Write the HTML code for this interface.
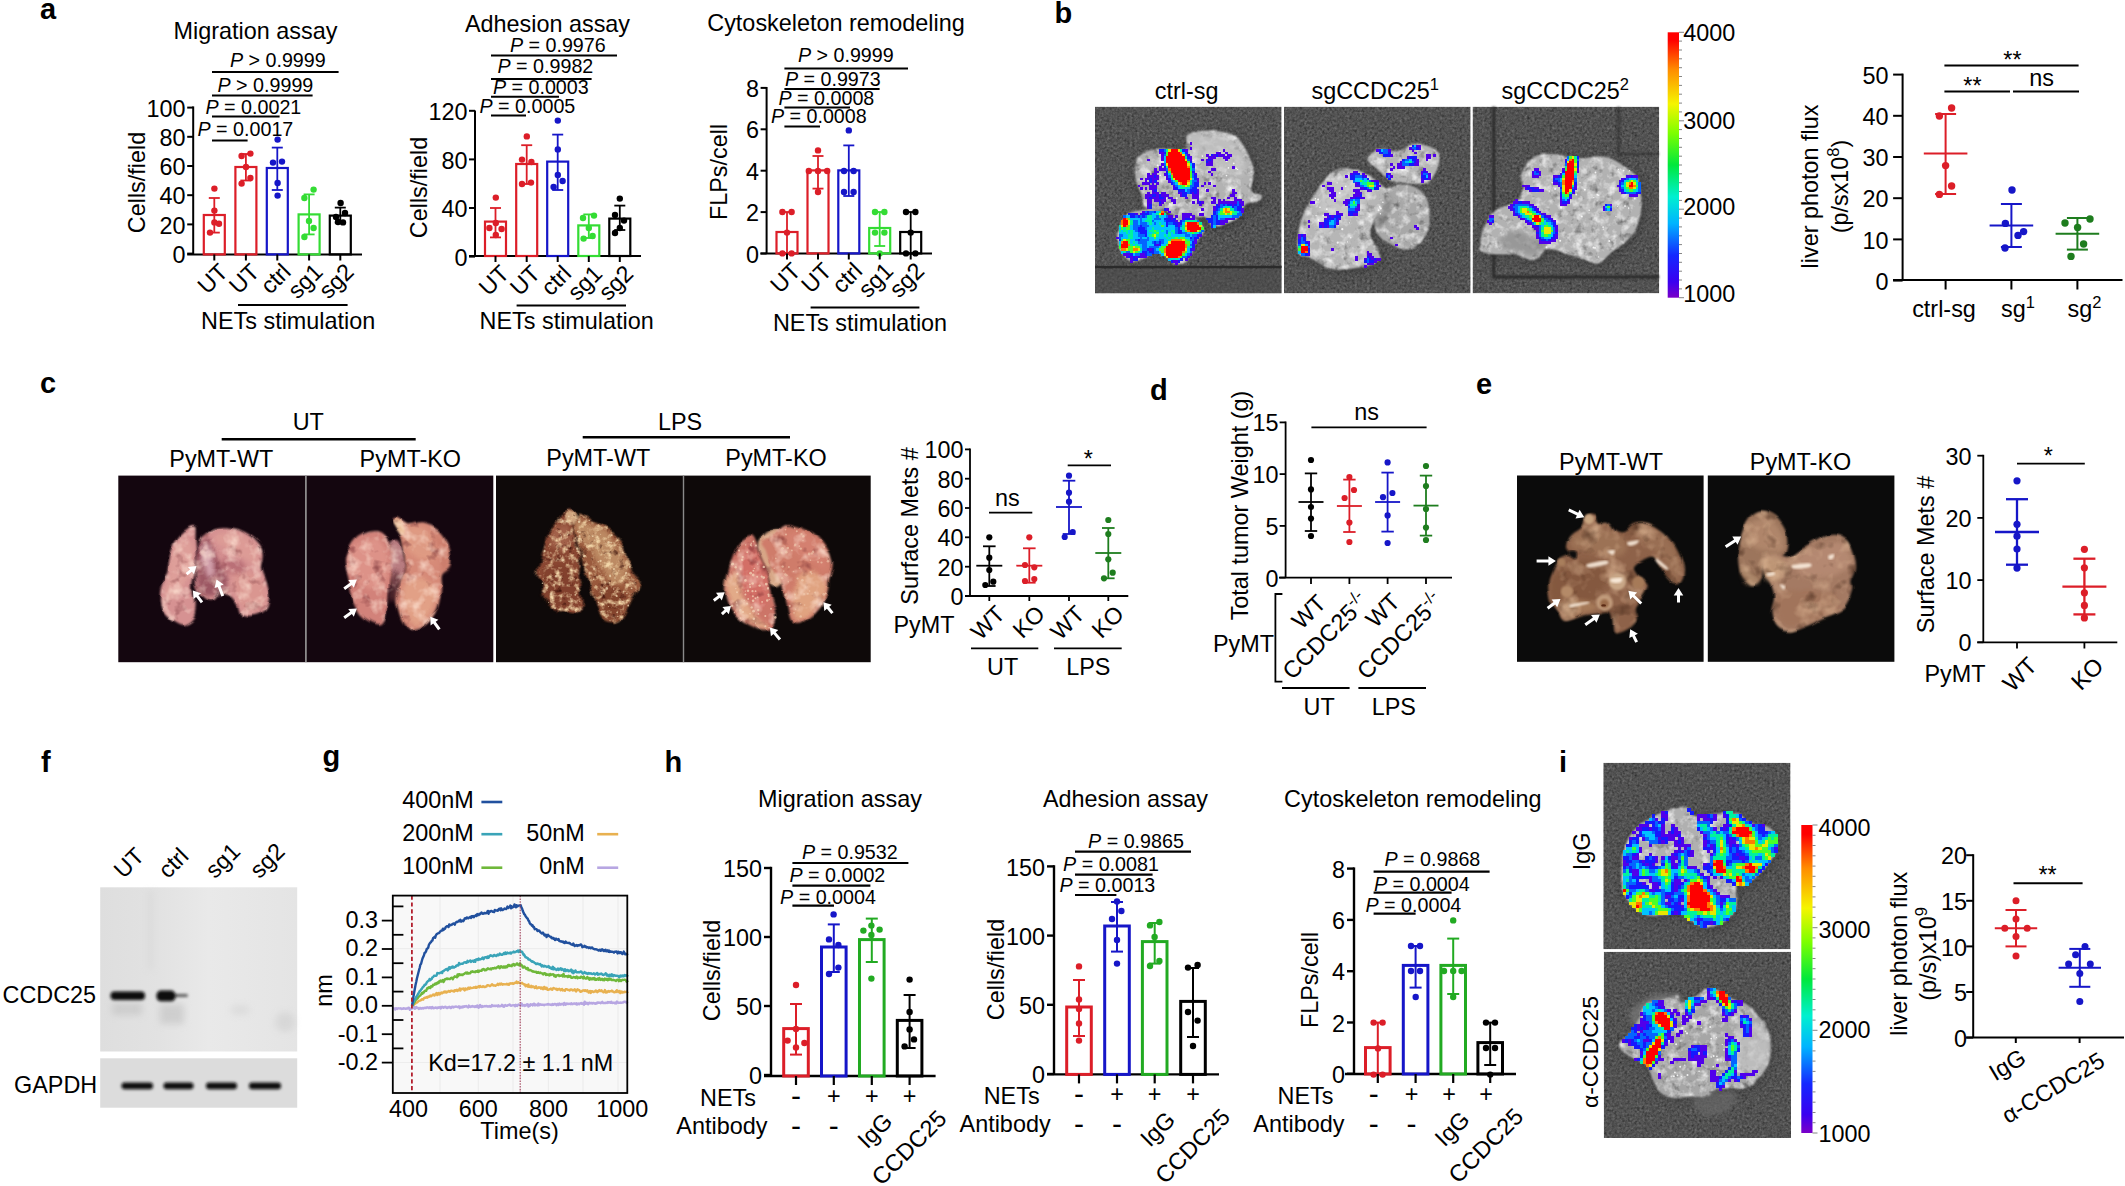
<!DOCTYPE html>
<html><head><meta charset="utf-8"><title>Figure</title>
<style>
html,body{margin:0;padding:0;background:#fff;}
svg{display:block;font-family:"Liberation Sans",sans-serif;fill:#000;}
</style></head><body>
<svg width="2125" height="1186" viewBox="0 0 2125 1186">
<rect width="2125" height="1186" fill="#fff"/>
<text x="40.0" y="18.5" font-size="29" font-weight="bold">a</text>
<text x="255.5" y="38.8" font-size="23.4" text-anchor="middle">Migration assay</text>
<line x1="193.2" y1="106.4" x2="193.2" y2="254.4" stroke="#000" stroke-width="2"/>
<line x1="187.2" y1="253.6" x2="193.2" y2="253.6" stroke="#000" stroke-width="2"/>
<text x="185.5" y="262.7" font-size="23.4" text-anchor="end">0</text>
<line x1="187.2" y1="224.4" x2="193.2" y2="224.4" stroke="#000" stroke-width="2"/>
<text x="185.5" y="233.5" font-size="23.4" text-anchor="end">20</text>
<line x1="187.2" y1="195.2" x2="193.2" y2="195.2" stroke="#000" stroke-width="2"/>
<text x="185.5" y="204.3" font-size="23.4" text-anchor="end">40</text>
<line x1="187.2" y1="166.0" x2="193.2" y2="166.0" stroke="#000" stroke-width="2"/>
<text x="185.5" y="175.1" font-size="23.4" text-anchor="end">60</text>
<line x1="187.2" y1="136.8" x2="193.2" y2="136.8" stroke="#000" stroke-width="2"/>
<text x="185.5" y="145.9" font-size="23.4" text-anchor="end">80</text>
<line x1="187.2" y1="107.6" x2="193.2" y2="107.6" stroke="#000" stroke-width="2"/>
<text x="185.5" y="116.7" font-size="23.4" text-anchor="end">100</text>
<line x1="187.2" y1="254.4" x2="362.0" y2="254.4" stroke="#000" stroke-width="2"/>
<rect x="203.8" y="215.0" width="21.0" height="39.4" fill="none" stroke="#dc1e28" stroke-width="2.2"/>
<line x1="214.3" y1="198.0" x2="214.3" y2="232.6" stroke="#dc1e28" stroke-width="1.8"/>
<line x1="208.8" y1="198.0" x2="219.8" y2="198.0" stroke="#dc1e28" stroke-width="1.8"/>
<line x1="208.8" y1="232.6" x2="219.8" y2="232.6" stroke="#dc1e28" stroke-width="1.8"/>
<circle cx="214.4" cy="188.6" r="3.2" fill="#dc1e28"/>
<circle cx="214.4" cy="210.6" r="3.2" fill="#dc1e28"/>
<circle cx="214.4" cy="222.4" r="3.2" fill="#dc1e28"/>
<circle cx="219.0" cy="223.8" r="3.2" fill="#dc1e28"/>
<circle cx="210.0" cy="232.6" r="3.2" fill="#dc1e28"/>
<line x1="214.3" y1="254.4" x2="214.3" y2="260.5" stroke="#000" stroke-width="2"/>
<rect x="235.4" y="167.0" width="21.0" height="87.4" fill="none" stroke="#dc1e28" stroke-width="2.2"/>
<line x1="245.9" y1="154.0" x2="245.9" y2="180.5" stroke="#dc1e28" stroke-width="1.8"/>
<line x1="240.4" y1="154.0" x2="251.4" y2="154.0" stroke="#dc1e28" stroke-width="1.8"/>
<line x1="240.4" y1="180.5" x2="251.4" y2="180.5" stroke="#dc1e28" stroke-width="1.8"/>
<circle cx="250.4" cy="153.6" r="3.2" fill="#dc1e28"/>
<circle cx="241.6" cy="156.0" r="3.2" fill="#dc1e28"/>
<circle cx="246.0" cy="167.0" r="3.2" fill="#dc1e28"/>
<circle cx="250.4" cy="178.0" r="3.2" fill="#dc1e28"/>
<circle cx="241.6" cy="183.6" r="3.2" fill="#dc1e28"/>
<line x1="245.9" y1="254.4" x2="245.9" y2="260.5" stroke="#000" stroke-width="2"/>
<rect x="266.8" y="168.0" width="21.0" height="86.4" fill="none" stroke="#1616c8" stroke-width="2.2"/>
<line x1="277.3" y1="147.6" x2="277.3" y2="190.0" stroke="#1616c8" stroke-width="1.8"/>
<line x1="271.8" y1="147.6" x2="282.8" y2="147.6" stroke="#1616c8" stroke-width="1.8"/>
<line x1="271.8" y1="190.0" x2="282.8" y2="190.0" stroke="#1616c8" stroke-width="1.8"/>
<circle cx="277.6" cy="139.6" r="3.2" fill="#1616c8"/>
<circle cx="273.0" cy="162.6" r="3.2" fill="#1616c8"/>
<circle cx="282.0" cy="161.6" r="3.2" fill="#1616c8"/>
<circle cx="277.6" cy="183.0" r="3.2" fill="#1616c8"/>
<circle cx="277.6" cy="195.6" r="3.2" fill="#1616c8"/>
<line x1="277.3" y1="254.4" x2="277.3" y2="260.5" stroke="#000" stroke-width="2"/>
<rect x="298.6" y="214.4" width="21.0" height="40.0" fill="none" stroke="#34dc34" stroke-width="2.2"/>
<line x1="309.1" y1="194.4" x2="309.1" y2="234.4" stroke="#34dc34" stroke-width="1.8"/>
<line x1="303.6" y1="194.4" x2="314.6" y2="194.4" stroke="#34dc34" stroke-width="1.8"/>
<line x1="303.6" y1="234.4" x2="314.6" y2="234.4" stroke="#34dc34" stroke-width="1.8"/>
<circle cx="313.6" cy="189.6" r="3.2" fill="#34dc34"/>
<circle cx="304.4" cy="198.0" r="3.2" fill="#34dc34"/>
<circle cx="309.0" cy="221.0" r="3.2" fill="#34dc34"/>
<circle cx="313.6" cy="228.0" r="3.2" fill="#34dc34"/>
<circle cx="304.4" cy="237.0" r="3.2" fill="#34dc34"/>
<line x1="309.1" y1="254.4" x2="309.1" y2="260.5" stroke="#000" stroke-width="2"/>
<rect x="329.8" y="215.6" width="21.0" height="38.8" fill="none" stroke="#000" stroke-width="2.2"/>
<line x1="340.3" y1="207.6" x2="340.3" y2="222.6" stroke="#000" stroke-width="1.8"/>
<line x1="334.8" y1="207.6" x2="345.8" y2="207.6" stroke="#000" stroke-width="1.8"/>
<line x1="334.8" y1="222.6" x2="345.8" y2="222.6" stroke="#000" stroke-width="1.8"/>
<circle cx="340.6" cy="203.0" r="3.2" fill="#000"/>
<circle cx="336.0" cy="217.0" r="3.2" fill="#000"/>
<circle cx="345.0" cy="213.0" r="3.2" fill="#000"/>
<circle cx="338.0" cy="222.0" r="3.2" fill="#000"/>
<circle cx="343.0" cy="222.4" r="3.2" fill="#000"/>
<line x1="340.3" y1="254.4" x2="340.3" y2="260.5" stroke="#000" stroke-width="2"/>
<text x="229.3" y="273.3" font-size="23.4" text-anchor="end" transform="rotate(-45 229.3 273.3)">UT</text>
<text x="260.9" y="273.3" font-size="23.4" text-anchor="end" transform="rotate(-45 260.9 273.3)">UT</text>
<text x="292.3" y="273.3" font-size="23.4" text-anchor="end" transform="rotate(-45 292.3 273.3)">ctrl</text>
<text x="324.1" y="273.3" font-size="23.4" text-anchor="end" transform="rotate(-45 324.1 273.3)">sg1</text>
<text x="355.3" y="273.3" font-size="23.4" text-anchor="end" transform="rotate(-45 355.3 273.3)">sg2</text>
<line x1="238.0" y1="305.0" x2="347.6" y2="305.0" stroke="#000" stroke-width="2"/>
<text x="288.2" y="329.0" font-size="23.4" text-anchor="middle">NETs stimulation</text>
<text x="145.0" y="182.5" font-size="23.4" text-anchor="middle" transform="rotate(-90 145.0 182.5)">Cells/field</text>
<line x1="212.0" y1="72.0" x2="338.6" y2="72.0" stroke="#000" stroke-width="2"/>
<line x1="212.0" y1="95.6" x2="312.6" y2="95.6" stroke="#000" stroke-width="2"/>
<line x1="212.0" y1="116.6" x2="279.6" y2="116.6" stroke="#000" stroke-width="2"/>
<line x1="212.0" y1="140.6" x2="247.6" y2="140.6" stroke="#000" stroke-width="2"/>
<text x="229.9" y="67.0" font-size="19.7"><tspan font-style="italic">P</tspan> &gt; 0.9999</text>
<text x="217.5" y="92.4" font-size="19.7"><tspan font-style="italic">P</tspan> &gt; 0.9999</text>
<text x="205.5" y="113.6" font-size="19.7"><tspan font-style="italic">P</tspan> = 0.0021</text>
<text x="197.5" y="136.0" font-size="19.7"><tspan font-style="italic">P</tspan> = 0.0017</text>
<text x="547.5" y="32.0" font-size="23.4" text-anchor="middle">Adhesion assay</text>
<line x1="475.0" y1="110.4" x2="475.0" y2="256.0" stroke="#000" stroke-width="2"/>
<line x1="469.0" y1="256.6" x2="475.0" y2="256.6" stroke="#000" stroke-width="2"/>
<text x="467.5" y="265.7" font-size="23.4" text-anchor="end">0</text>
<line x1="469.0" y1="208.0" x2="475.0" y2="208.0" stroke="#000" stroke-width="2"/>
<text x="467.5" y="217.1" font-size="23.4" text-anchor="end">40</text>
<line x1="469.0" y1="159.4" x2="475.0" y2="159.4" stroke="#000" stroke-width="2"/>
<text x="467.5" y="168.5" font-size="23.4" text-anchor="end">80</text>
<line x1="469.0" y1="110.8" x2="475.0" y2="110.8" stroke="#000" stroke-width="2"/>
<text x="467.5" y="119.9" font-size="23.4" text-anchor="end">120</text>
<line x1="469.0" y1="256.0" x2="641.0" y2="256.0" stroke="#000" stroke-width="2"/>
<rect x="485.0" y="221.6" width="21.0" height="34.4" fill="none" stroke="#dc1e28" stroke-width="2.2"/>
<line x1="495.5" y1="208.0" x2="495.5" y2="237.4" stroke="#dc1e28" stroke-width="1.8"/>
<line x1="490.0" y1="208.0" x2="501.0" y2="208.0" stroke="#dc1e28" stroke-width="1.8"/>
<line x1="490.0" y1="237.4" x2="501.0" y2="237.4" stroke="#dc1e28" stroke-width="1.8"/>
<circle cx="495.8" cy="197.6" r="3.2" fill="#dc1e28"/>
<circle cx="489.4" cy="228.0" r="3.2" fill="#dc1e28"/>
<circle cx="501.6" cy="229.0" r="3.2" fill="#dc1e28"/>
<circle cx="495.8" cy="223.0" r="3.2" fill="#dc1e28"/>
<circle cx="495.8" cy="235.0" r="3.2" fill="#dc1e28"/>
<line x1="495.5" y1="256.0" x2="495.5" y2="262.0" stroke="#000" stroke-width="2"/>
<rect x="516.2" y="164.0" width="21.0" height="92.0" fill="none" stroke="#dc1e28" stroke-width="2.2"/>
<line x1="526.7" y1="145.2" x2="526.7" y2="184.0" stroke="#dc1e28" stroke-width="1.8"/>
<line x1="521.2" y1="145.2" x2="532.2" y2="145.2" stroke="#dc1e28" stroke-width="1.8"/>
<line x1="521.2" y1="184.0" x2="532.2" y2="184.0" stroke="#dc1e28" stroke-width="1.8"/>
<circle cx="526.8" cy="136.4" r="3.2" fill="#dc1e28"/>
<circle cx="522.0" cy="159.6" r="3.2" fill="#dc1e28"/>
<circle cx="531.4" cy="162.0" r="3.2" fill="#dc1e28"/>
<circle cx="522.0" cy="184.0" r="3.2" fill="#dc1e28"/>
<circle cx="531.0" cy="182.6" r="3.2" fill="#dc1e28"/>
<line x1="526.7" y1="256.0" x2="526.7" y2="262.0" stroke="#000" stroke-width="2"/>
<rect x="547.2" y="161.6" width="21.0" height="94.4" fill="none" stroke="#1616c8" stroke-width="2.2"/>
<line x1="557.7" y1="134.6" x2="557.7" y2="190.0" stroke="#1616c8" stroke-width="1.8"/>
<line x1="552.2" y1="134.6" x2="563.2" y2="134.6" stroke="#1616c8" stroke-width="1.8"/>
<line x1="552.2" y1="190.0" x2="563.2" y2="190.0" stroke="#1616c8" stroke-width="1.8"/>
<circle cx="557.8" cy="120.6" r="3.2" fill="#1616c8"/>
<circle cx="557.8" cy="149.4" r="3.2" fill="#1616c8"/>
<circle cx="557.8" cy="175.0" r="3.2" fill="#1616c8"/>
<circle cx="562.6" cy="181.0" r="3.2" fill="#1616c8"/>
<circle cx="553.6" cy="187.0" r="3.2" fill="#1616c8"/>
<line x1="557.7" y1="256.0" x2="557.7" y2="262.0" stroke="#000" stroke-width="2"/>
<rect x="578.3" y="225.4" width="21.0" height="30.6" fill="none" stroke="#34dc34" stroke-width="2.2"/>
<line x1="588.8" y1="214.4" x2="588.8" y2="238.0" stroke="#34dc34" stroke-width="1.8"/>
<line x1="583.3" y1="214.4" x2="594.3" y2="214.4" stroke="#34dc34" stroke-width="1.8"/>
<line x1="583.3" y1="238.0" x2="594.3" y2="238.0" stroke="#34dc34" stroke-width="1.8"/>
<circle cx="594.0" cy="215.6" r="3.2" fill="#34dc34"/>
<circle cx="583.0" cy="218.0" r="3.2" fill="#34dc34"/>
<circle cx="588.8" cy="228.0" r="3.2" fill="#34dc34"/>
<circle cx="592.6" cy="236.0" r="3.2" fill="#34dc34"/>
<circle cx="583.6" cy="238.6" r="3.2" fill="#34dc34"/>
<line x1="588.8" y1="256.0" x2="588.8" y2="262.0" stroke="#000" stroke-width="2"/>
<rect x="609.3" y="218.6" width="21.0" height="37.4" fill="none" stroke="#000" stroke-width="2.2"/>
<line x1="619.8" y1="205.6" x2="619.8" y2="230.0" stroke="#000" stroke-width="1.8"/>
<line x1="614.3" y1="205.6" x2="625.3" y2="205.6" stroke="#000" stroke-width="1.8"/>
<line x1="614.3" y1="230.0" x2="625.3" y2="230.0" stroke="#000" stroke-width="1.8"/>
<circle cx="619.8" cy="198.6" r="3.2" fill="#000"/>
<circle cx="615.0" cy="215.0" r="3.2" fill="#000"/>
<circle cx="624.0" cy="220.6" r="3.2" fill="#000"/>
<circle cx="619.8" cy="228.0" r="3.2" fill="#000"/>
<circle cx="615.0" cy="233.0" r="3.2" fill="#000"/>
<line x1="619.8" y1="256.0" x2="619.8" y2="262.0" stroke="#000" stroke-width="2"/>
<text x="510.5" y="275.0" font-size="23.4" text-anchor="end" transform="rotate(-45 510.5 275.0)">UT</text>
<text x="541.7" y="275.0" font-size="23.4" text-anchor="end" transform="rotate(-45 541.7 275.0)">UT</text>
<text x="572.7" y="275.0" font-size="23.4" text-anchor="end" transform="rotate(-45 572.7 275.0)">ctrl</text>
<text x="603.8" y="275.0" font-size="23.4" text-anchor="end" transform="rotate(-45 603.8 275.0)">sg1</text>
<text x="634.8" y="275.0" font-size="23.4" text-anchor="end" transform="rotate(-45 634.8 275.0)">sg2</text>
<line x1="516.6" y1="305.6" x2="626.0" y2="305.6" stroke="#000" stroke-width="2"/>
<text x="566.7" y="329.4" font-size="23.4" text-anchor="middle">NETs stimulation</text>
<text x="427.0" y="187.5" font-size="23.4" text-anchor="middle" transform="rotate(-90 427.0 187.5)">Cells/field</text>
<line x1="491.0" y1="55.6" x2="617.0" y2="55.6" stroke="#000" stroke-width="2"/>
<line x1="491.0" y1="79.0" x2="591.6" y2="79.0" stroke="#000" stroke-width="2"/>
<line x1="491.0" y1="96.8" x2="559.0" y2="96.8" stroke="#000" stroke-width="2"/>
<line x1="491.0" y1="115.6" x2="526.0" y2="115.6" stroke="#000" stroke-width="2"/>
<text x="509.9" y="52.0" font-size="19.7"><tspan font-style="italic">P</tspan> = 0.9976</text>
<text x="497.5" y="73.4" font-size="19.7"><tspan font-style="italic">P</tspan> = 0.9982</text>
<text x="492.9" y="94.4" font-size="19.7"><tspan font-style="italic">P</tspan> = 0.0003</text>
<text x="479.5" y="113.0" font-size="19.7"><tspan font-style="italic">P</tspan> = 0.0005</text>
<text x="836.0" y="31.4" font-size="23.4" text-anchor="middle">Cytoskeleton remodeling</text>
<line x1="766.6" y1="87.0" x2="766.6" y2="253.4" stroke="#000" stroke-width="2"/>
<line x1="760.6" y1="253.5" x2="766.6" y2="253.5" stroke="#000" stroke-width="2"/>
<text x="759.0" y="262.6" font-size="23.4" text-anchor="end">0</text>
<line x1="760.6" y1="212.1" x2="766.6" y2="212.1" stroke="#000" stroke-width="2"/>
<text x="759.0" y="221.2" font-size="23.4" text-anchor="end">2</text>
<line x1="760.6" y1="170.7" x2="766.6" y2="170.7" stroke="#000" stroke-width="2"/>
<text x="759.0" y="179.8" font-size="23.4" text-anchor="end">4</text>
<line x1="760.6" y1="129.3" x2="766.6" y2="129.3" stroke="#000" stroke-width="2"/>
<text x="759.0" y="138.4" font-size="23.4" text-anchor="end">6</text>
<line x1="760.6" y1="87.9" x2="766.6" y2="87.9" stroke="#000" stroke-width="2"/>
<text x="759.0" y="97.0" font-size="23.4" text-anchor="end">8</text>
<line x1="760.4" y1="253.4" x2="932.0" y2="253.4" stroke="#000" stroke-width="2"/>
<rect x="776.5" y="232.0" width="21.0" height="21.4" fill="none" stroke="#dc1e28" stroke-width="2.2"/>
<line x1="787.0" y1="212.0" x2="787.0" y2="253.4" stroke="#dc1e28" stroke-width="1.8"/>
<line x1="781.5" y1="212.0" x2="792.5" y2="212.0" stroke="#dc1e28" stroke-width="1.8"/>
<line x1="781.5" y1="253.4" x2="792.5" y2="253.4" stroke="#dc1e28" stroke-width="1.8"/>
<circle cx="782.4" cy="212.0" r="3.2" fill="#dc1e28"/>
<circle cx="791.6" cy="212.0" r="3.2" fill="#dc1e28"/>
<circle cx="787.0" cy="232.6" r="3.2" fill="#dc1e28"/>
<circle cx="782.4" cy="253.4" r="3.2" fill="#dc1e28"/>
<circle cx="791.6" cy="253.4" r="3.2" fill="#dc1e28"/>
<line x1="787.0" y1="253.4" x2="787.0" y2="259.5" stroke="#000" stroke-width="2"/>
<rect x="807.5" y="170.4" width="21.0" height="83.0" fill="none" stroke="#dc1e28" stroke-width="2.2"/>
<line x1="818.0" y1="156.0" x2="818.0" y2="188.6" stroke="#dc1e28" stroke-width="1.8"/>
<line x1="812.5" y1="156.0" x2="823.5" y2="156.0" stroke="#dc1e28" stroke-width="1.8"/>
<line x1="812.5" y1="188.6" x2="823.5" y2="188.6" stroke="#dc1e28" stroke-width="1.8"/>
<circle cx="818.0" cy="150.4" r="3.2" fill="#dc1e28"/>
<circle cx="808.8" cy="171.0" r="3.2" fill="#dc1e28"/>
<circle cx="818.0" cy="171.0" r="3.2" fill="#dc1e28"/>
<circle cx="827.2" cy="171.0" r="3.2" fill="#dc1e28"/>
<circle cx="818.0" cy="192.0" r="3.2" fill="#dc1e28"/>
<line x1="818.0" y1="253.4" x2="818.0" y2="259.5" stroke="#000" stroke-width="2"/>
<rect x="838.3" y="170.4" width="21.0" height="83.0" fill="none" stroke="#1616c8" stroke-width="2.2"/>
<line x1="848.8" y1="145.4" x2="848.8" y2="196.0" stroke="#1616c8" stroke-width="1.8"/>
<line x1="843.3" y1="145.4" x2="854.3" y2="145.4" stroke="#1616c8" stroke-width="1.8"/>
<line x1="843.3" y1="196.0" x2="854.3" y2="196.0" stroke="#1616c8" stroke-width="1.8"/>
<circle cx="848.8" cy="130.4" r="3.2" fill="#1616c8"/>
<circle cx="844.0" cy="171.0" r="3.2" fill="#1616c8"/>
<circle cx="853.6" cy="171.0" r="3.2" fill="#1616c8"/>
<circle cx="844.0" cy="192.0" r="3.2" fill="#1616c8"/>
<circle cx="853.6" cy="192.0" r="3.2" fill="#1616c8"/>
<line x1="848.8" y1="253.4" x2="848.8" y2="259.5" stroke="#000" stroke-width="2"/>
<rect x="869.2" y="228.0" width="21.0" height="25.4" fill="none" stroke="#34dc34" stroke-width="2.2"/>
<line x1="879.7" y1="212.0" x2="879.7" y2="246.0" stroke="#34dc34" stroke-width="1.8"/>
<line x1="874.2" y1="212.0" x2="885.2" y2="212.0" stroke="#34dc34" stroke-width="1.8"/>
<line x1="874.2" y1="246.0" x2="885.2" y2="246.0" stroke="#34dc34" stroke-width="1.8"/>
<circle cx="875.0" cy="212.0" r="3.2" fill="#34dc34"/>
<circle cx="884.4" cy="212.0" r="3.2" fill="#34dc34"/>
<circle cx="875.0" cy="232.6" r="3.2" fill="#34dc34"/>
<circle cx="884.4" cy="232.6" r="3.2" fill="#34dc34"/>
<circle cx="879.7" cy="253.4" r="3.2" fill="#34dc34"/>
<line x1="879.7" y1="253.4" x2="879.7" y2="259.5" stroke="#000" stroke-width="2"/>
<rect x="900.2" y="232.0" width="21.0" height="21.4" fill="none" stroke="#000" stroke-width="2.2"/>
<line x1="910.7" y1="212.0" x2="910.7" y2="253.4" stroke="#000" stroke-width="1.8"/>
<line x1="905.2" y1="212.0" x2="916.2" y2="212.0" stroke="#000" stroke-width="1.8"/>
<line x1="905.2" y1="253.4" x2="916.2" y2="253.4" stroke="#000" stroke-width="1.8"/>
<circle cx="906.0" cy="212.0" r="3.2" fill="#000"/>
<circle cx="915.4" cy="212.0" r="3.2" fill="#000"/>
<circle cx="910.7" cy="232.6" r="3.2" fill="#000"/>
<circle cx="906.0" cy="253.4" r="3.2" fill="#000"/>
<circle cx="915.4" cy="253.4" r="3.2" fill="#000"/>
<line x1="910.7" y1="253.4" x2="910.7" y2="259.5" stroke="#000" stroke-width="2"/>
<text x="802.0" y="272.4" font-size="23.4" text-anchor="end" transform="rotate(-45 802.0 272.4)">UT</text>
<text x="833.0" y="272.4" font-size="23.4" text-anchor="end" transform="rotate(-45 833.0 272.4)">UT</text>
<text x="863.8" y="272.4" font-size="23.4" text-anchor="end" transform="rotate(-45 863.8 272.4)">ctrl</text>
<text x="894.7" y="272.4" font-size="23.4" text-anchor="end" transform="rotate(-45 894.7 272.4)">sg1</text>
<text x="925.7" y="272.4" font-size="23.4" text-anchor="end" transform="rotate(-45 925.7 272.4)">sg2</text>
<line x1="810.6" y1="307.6" x2="919.4" y2="307.6" stroke="#000" stroke-width="2"/>
<text x="860.0" y="331.0" font-size="23.4" text-anchor="middle">NETs stimulation</text>
<text x="727.0" y="172.0" font-size="23.4" text-anchor="middle" transform="rotate(-90 727.0 172.0)">FLPs/cell</text>
<line x1="784.4" y1="68.4" x2="908.0" y2="68.4" stroke="#000" stroke-width="2"/>
<line x1="784.4" y1="89.0" x2="879.6" y2="89.0" stroke="#000" stroke-width="2"/>
<line x1="784.4" y1="107.6" x2="850.0" y2="107.6" stroke="#000" stroke-width="2"/>
<line x1="784.4" y1="126.4" x2="820.0" y2="126.4" stroke="#000" stroke-width="2"/>
<text x="797.9" y="62.0" font-size="19.7"><tspan font-style="italic">P</tspan> &gt; 0.9999</text>
<text x="784.9" y="86.0" font-size="19.7"><tspan font-style="italic">P</tspan> = 0.9973</text>
<text x="778.5" y="104.6" font-size="19.7"><tspan font-style="italic">P</tspan> = 0.0008</text>
<text x="770.9" y="123.0" font-size="19.7"><tspan font-style="italic">P</tspan> = 0.0008</text>
<defs>
<filter id="nz" x="0" y="0" width="100%" height="100%" color-interpolation-filters="sRGB"><feTurbulence type="fractalNoise" baseFrequency="0.4" numOctaves="2" seed="7" result="t"/><feColorMatrix in="t" type="matrix" values="0.6 0.6 0.6 0 -0.4  0.6 0.6 0.6 0 -0.4  0.6 0.6 0.6 0 -0.4  0 0 0 0 0.28" result="n"/><feComposite in="n" in2="SourceGraphic" operator="over" result="c"/><feComposite in="c" in2="SourceGraphic" operator="in"/></filter>
<filter id="nz2" x="-2%" y="-2%" width="104%" height="104%" color-interpolation-filters="sRGB"><feTurbulence type="fractalNoise" baseFrequency="0.12" numOctaves="3" seed="11" result="t"/><feColorMatrix in="t" type="matrix" values="0 0 0 0 1  0 0 0 0 1  0 0 0 0 1  1.8 0 0 0 -0.8" result="hl"/><feColorMatrix in="t" type="matrix" values="0 0 0 0 0.2  0 0 0 0 0.2  0 0 0 0 0.2  0 -1.6 0 0 0.7" result="sh"/><feMerge result="m"><feMergeNode in="SourceGraphic"/><feMergeNode in="sh"/><feMergeNode in="hl"/></feMerge><feComposite in="m" in2="SourceGraphic" operator="in"/></filter>
<filter id="b1" x="-5%" y="-5%" width="110%" height="110%"><feGaussianBlur stdDeviation="0.9"/></filter>
<filter id="b2" x="-10%" y="-10%" width="120%" height="120%"><feGaussianBlur stdDeviation="2.2"/></filter>
<filter id="b4" x="-20%" y="-20%" width="140%" height="140%"><feGaussianBlur stdDeviation="4.5"/></filter>
<linearGradient id="cbar" x1="0" y1="0" x2="0" y2="1"><stop offset="0" stop-color="#f00"/><stop offset="0.03" stop-color="#f00"/><stop offset="0.14" stop-color="#ff8c00"/><stop offset="0.27" stop-color="#f5f500"/><stop offset="0.38" stop-color="#7dff00"/><stop offset="0.5" stop-color="#00e83c"/><stop offset="0.62" stop-color="#00f0d0"/><stop offset="0.72" stop-color="#00b4ff"/><stop offset="0.84" stop-color="#1428ff"/><stop offset="0.94" stop-color="#3a00f0"/><stop offset="1" stop-color="#7a00c8"/></linearGradient>
</defs>
<text x="1054.5" y="23.3" font-size="29" font-weight="bold">b</text>
<rect x="1095.0" y="106.7" width="186.6" height="186.6" fill="#404040" filter="url(#nz)"/>
<rect x="1284.0" y="106.7" width="186.6" height="186.6" fill="#404040" filter="url(#nz)"/>
<rect x="1472.6" y="106.7" width="186.6" height="186.6" fill="#404040" filter="url(#nz)"/>
<text x="1186.7" y="99.0" font-size="23.4" text-anchor="middle">ctrl-sg</text>
<text x="1311.5" y="99.0" font-size="23.4">sgCCDC25<tspan font-size="16.5" dy="-9">1</tspan></text>
<text x="1501.5" y="99.0" font-size="23.4">sgCCDC25<tspan font-size="16.5" dy="-9">2</tspan></text>
<path d="M1134.7,164.1C1135.5,159.6 1136.8,156.6 1140.6,154.0C1144.4,151.3 1150.1,148.9 1157.5,148.1C1164.8,147.2 1179.7,151.0 1184.4,148.9C1189.2,146.8 1183.9,138.4 1186.1,135.4C1188.4,132.5 1192.6,132.0 1197.9,131.2C1203.3,130.4 1211.7,129.5 1218.2,130.4C1224.6,131.2 1231.7,132.3 1236.7,136.3C1241.8,140.2 1245.6,147.9 1248.5,154.0C1251.5,160.0 1253.9,166.3 1254.4,172.5C1255.0,178.7 1250.6,187.4 1251.9,191.1C1253.2,194.7 1260.6,192.7 1262.0,194.4C1263.4,196.1 1262.8,199.5 1260.3,201.2C1257.8,202.9 1250.2,202.0 1246.8,204.6C1243.5,207.1 1243.7,213.0 1240.1,216.4C1236.4,219.7 1229.7,223.1 1224.9,224.8C1220.1,226.5 1214.5,227.6 1211.4,226.5C1208.3,225.4 1208.6,219.4 1206.4,218.0C1204.1,216.6 1201.6,218.3 1197.9,218.0C1194.3,217.8 1188.9,216.9 1184.4,216.4C1179.9,215.8 1174.3,215.8 1170.9,214.7C1167.6,213.5 1168.4,210.7 1164.2,209.6C1160.0,208.5 1149.6,210.5 1145.6,207.9C1141.7,205.4 1142.3,198.9 1140.6,194.4C1138.9,189.9 1136.5,186.0 1135.5,180.9C1134.5,175.9 1133.8,168.6 1134.7,164.1Z" fill="#2e2e2e" opacity="0.7" filter="url(#b4)" transform="translate(2,2)"/>
<rect x="1095" y="265.8" width="186.6" height="2.6" fill="#2a2a2a"/>
<rect x="1095" y="269" width="186.6" height="24.3" fill="#4a4a4a" opacity="0.5"/>
<g filter="url(#nz2)"><g filter="url(#b1)">
<path d="M1134.7,164.1C1135.5,159.6 1136.8,156.6 1140.6,154.0C1144.4,151.3 1150.1,148.9 1157.5,148.1C1164.8,147.2 1179.7,151.0 1184.4,148.9C1189.2,146.8 1183.9,138.4 1186.1,135.4C1188.4,132.5 1192.6,132.0 1197.9,131.2C1203.3,130.4 1211.7,129.5 1218.2,130.4C1224.6,131.2 1231.7,132.3 1236.7,136.3C1241.8,140.2 1245.6,147.9 1248.5,154.0C1251.5,160.0 1253.9,166.3 1254.4,172.5C1255.0,178.7 1250.6,187.4 1251.9,191.1C1253.2,194.7 1260.6,192.7 1262.0,194.4C1263.4,196.1 1262.8,199.5 1260.3,201.2C1257.8,202.9 1250.2,202.0 1246.8,204.6C1243.5,207.1 1243.7,213.0 1240.1,216.4C1236.4,219.7 1229.7,223.1 1224.9,224.8C1220.1,226.5 1214.5,227.6 1211.4,226.5C1208.3,225.4 1208.6,219.4 1206.4,218.0C1204.1,216.6 1201.6,218.3 1197.9,218.0C1194.3,217.8 1188.9,216.9 1184.4,216.4C1179.9,215.8 1174.3,215.8 1170.9,214.7C1167.6,213.5 1168.4,210.7 1164.2,209.6C1160.0,208.5 1149.6,210.5 1145.6,207.9C1141.7,205.4 1142.3,198.9 1140.6,194.4C1138.9,189.9 1136.5,186.0 1135.5,180.9C1134.5,175.9 1133.8,168.6 1134.7,164.1Z" fill="#b2b2b2"/>
<path d="M1118.7,228.2C1120.1,224.2 1121.8,217.8 1125.4,214.7C1129.1,211.6 1134.7,210.3 1140.6,209.6C1146.5,208.9 1156.0,209.3 1160.8,210.5C1165.6,211.6 1165.9,215.7 1169.3,216.4C1172.6,217.1 1176.3,214.1 1181.1,214.7C1185.8,215.2 1194.0,216.9 1197.9,219.7C1201.9,222.5 1204.7,228.2 1204.7,231.5C1204.7,234.9 1199.9,236.6 1197.9,240.0C1196.0,243.3 1194.8,248.1 1192.9,251.8C1190.9,255.4 1189.2,259.8 1186.1,261.9C1183.0,264.0 1178.0,265.5 1174.3,264.4C1170.7,263.3 1167.6,257.3 1164.2,255.1C1160.8,253.0 1157.2,251.2 1154.1,251.8C1151.0,252.3 1149.6,256.8 1145.6,258.5C1141.7,260.2 1134.7,263.0 1130.5,261.9C1126.3,260.8 1122.6,255.7 1120.4,251.8C1118.1,247.8 1117.3,242.2 1117.0,238.3C1116.7,234.3 1117.3,232.1 1118.7,228.2Z" fill="#b2b2b2"/>
</g></g>
<path d="M1187.8,137.1C1189.5,133.4 1200.7,133.2 1208.0,133.7C1215.4,134.3 1225.5,136.0 1231.7,140.5C1237.8,145.0 1243.5,154.8 1245.1,160.7C1246.8,166.6 1246.3,174.8 1241.8,175.9C1237.3,177.0 1225.5,170.8 1218.2,167.5C1210.9,164.1 1203.0,160.7 1197.9,155.6C1192.9,150.6 1186.1,140.8 1187.8,137.1Z" fill="#c4c4c4" opacity="0.7" filter="url(#b2)"/>
<g fill="#fff" opacity="0.85"><circle cx="1157.7" cy="165.4" r="1.0"/><circle cx="1202.4" cy="156.1" r="0.8"/><circle cx="1193.1" cy="160.4" r="0.9"/><circle cx="1160.2" cy="175.4" r="0.8"/><circle cx="1188.8" cy="188.1" r="0.9"/><circle cx="1236.1" cy="168.5" r="0.9"/><circle cx="1212.7" cy="169.0" r="0.5"/><circle cx="1237.6" cy="169.4" r="0.7"/><circle cx="1230.3" cy="188.0" r="0.8"/><circle cx="1219.6" cy="152.0" r="0.9"/><circle cx="1183.7" cy="155.9" r="0.9"/><circle cx="1233.8" cy="163.5" r="0.9"/><circle cx="1176.8" cy="198.2" r="0.9"/><circle cx="1169.7" cy="203.9" r="0.9"/><circle cx="1211.5" cy="203.3" r="0.8"/><circle cx="1218.3" cy="207.1" r="0.6"/><circle cx="1226.5" cy="175.6" r="0.8"/><circle cx="1163.2" cy="195.4" r="0.7"/><circle cx="1228.4" cy="167.9" r="0.8"/><circle cx="1186.0" cy="189.8" r="0.6"/><circle cx="1166.2" cy="198.5" r="1.0"/><circle cx="1201.0" cy="209.9" r="0.6"/><circle cx="1226.6" cy="161.0" r="1.1"/><circle cx="1206.1" cy="189.4" r="1.1"/><circle cx="1220.8" cy="201.3" r="0.5"/><circle cx="1183.2" cy="155.5" r="0.6"/><circle cx="1169.2" cy="205.8" r="0.6"/><circle cx="1176.7" cy="182.0" r="1.0"/></g>
<g shape-rendering="crispEdges"><rect x="1189.5" y="142.1" width="2.7" height="2.7" fill="#5000eb"/><rect x="1189.5" y="146.9" width="2.7" height="2.7" fill="#5000eb"/><rect x="1158.8" y="149.2" width="5.0" height="2.7" fill="#1519ff"/><rect x="1163.5" y="149.2" width="2.7" height="2.7" fill="#0465ff"/><rect x="1165.9" y="149.2" width="2.7" height="2.7" fill="#00f29d"/><rect x="1168.2" y="149.2" width="2.7" height="2.7" fill="#ebe600"/><rect x="1170.6" y="149.2" width="7.4" height="2.7" fill="#ff0000"/><rect x="1177.7" y="149.2" width="2.7" height="2.7" fill="#ebe600"/><rect x="1180.0" y="149.2" width="2.7" height="2.7" fill="#00f29d"/><rect x="1182.4" y="149.2" width="2.7" height="2.7" fill="#1519ff"/><rect x="1184.8" y="149.2" width="2.7" height="2.7" fill="#5000eb"/><rect x="1222.5" y="149.2" width="2.7" height="2.7" fill="#5000eb"/><rect x="1158.8" y="151.6" width="5.0" height="2.7" fill="#5000eb"/><rect x="1163.5" y="151.6" width="2.7" height="2.7" fill="#1519ff"/><rect x="1165.9" y="151.6" width="2.7" height="2.7" fill="#49ff28"/><rect x="1168.2" y="151.6" width="12.1" height="2.7" fill="#ff0000"/><rect x="1180.0" y="151.6" width="2.7" height="2.7" fill="#ff7c00"/><rect x="1182.4" y="151.6" width="2.7" height="2.7" fill="#00c2ff"/><rect x="1184.8" y="151.6" width="2.7" height="2.7" fill="#1519ff"/><rect x="1215.5" y="151.6" width="5.0" height="2.7" fill="#5000eb"/><rect x="1224.9" y="151.6" width="2.7" height="2.7" fill="#5000eb"/><rect x="1161.1" y="153.9" width="2.7" height="2.7" fill="#5000eb"/><rect x="1163.5" y="153.9" width="2.7" height="2.7" fill="#0465ff"/><rect x="1165.9" y="153.9" width="2.7" height="2.7" fill="#49ff28"/><rect x="1168.2" y="153.9" width="14.5" height="2.7" fill="#ff0000"/><rect x="1182.4" y="153.9" width="2.7" height="2.7" fill="#ebe600"/><rect x="1184.8" y="153.9" width="2.7" height="2.7" fill="#0465ff"/><rect x="1187.1" y="153.9" width="2.7" height="2.7" fill="#5000eb"/><rect x="1206.0" y="153.9" width="2.7" height="2.7" fill="#5000eb"/><rect x="1210.7" y="153.9" width="2.7" height="2.7" fill="#1519ff"/><rect x="1213.1" y="153.9" width="2.7" height="2.7" fill="#5000eb"/><rect x="1215.5" y="153.9" width="2.7" height="2.7" fill="#1519ff"/><rect x="1217.8" y="153.9" width="7.4" height="2.7" fill="#5000eb"/><rect x="1227.3" y="153.9" width="5.0" height="2.7" fill="#5000eb"/><rect x="1161.1" y="156.3" width="2.7" height="2.7" fill="#5000eb"/><rect x="1163.5" y="156.3" width="2.7" height="2.7" fill="#00c2ff"/><rect x="1165.9" y="156.3" width="19.2" height="2.7" fill="#ff0000"/><rect x="1184.8" y="156.3" width="2.7" height="2.7" fill="#00f29d"/><rect x="1187.1" y="156.3" width="2.7" height="2.7" fill="#1519ff"/><rect x="1189.5" y="156.3" width="2.7" height="2.7" fill="#5000eb"/><rect x="1208.4" y="156.3" width="7.4" height="2.7" fill="#5000eb"/><rect x="1222.5" y="156.3" width="7.4" height="2.7" fill="#5000eb"/><rect x="1147.0" y="158.7" width="2.7" height="2.7" fill="#5000eb"/><rect x="1161.1" y="158.7" width="2.7" height="2.7" fill="#5000eb"/><rect x="1163.5" y="158.7" width="2.7" height="2.7" fill="#00c2ff"/><rect x="1165.9" y="158.7" width="19.2" height="2.7" fill="#ff0000"/><rect x="1184.8" y="158.7" width="2.7" height="2.7" fill="#ebe600"/><rect x="1187.1" y="158.7" width="2.7" height="2.7" fill="#0465ff"/><rect x="1189.5" y="158.7" width="2.7" height="2.7" fill="#5000eb"/><rect x="1201.3" y="158.7" width="2.7" height="2.7" fill="#5000eb"/><rect x="1206.0" y="158.7" width="2.7" height="2.7" fill="#5000eb"/><rect x="1208.4" y="158.7" width="2.7" height="2.7" fill="#1519ff"/><rect x="1210.7" y="158.7" width="2.7" height="2.7" fill="#5000eb"/><rect x="1224.9" y="158.7" width="2.7" height="2.7" fill="#5000eb"/><rect x="1163.5" y="161.0" width="2.7" height="2.7" fill="#00c2ff"/><rect x="1165.9" y="161.0" width="21.6" height="2.7" fill="#ff0000"/><rect x="1187.1" y="161.0" width="2.7" height="2.7" fill="#49ff28"/><rect x="1189.5" y="161.0" width="2.7" height="2.7" fill="#1519ff"/><rect x="1206.0" y="161.0" width="2.7" height="2.7" fill="#1519ff"/><rect x="1208.4" y="161.0" width="5.0" height="2.7" fill="#5000eb"/><rect x="1161.1" y="163.4" width="2.7" height="2.7" fill="#5000eb"/><rect x="1163.5" y="163.4" width="2.7" height="2.7" fill="#0465ff"/><rect x="1165.9" y="163.4" width="2.7" height="2.7" fill="#ebe600"/><rect x="1168.2" y="163.4" width="19.2" height="2.7" fill="#ff0000"/><rect x="1187.1" y="163.4" width="2.7" height="2.7" fill="#ebe600"/><rect x="1189.5" y="163.4" width="2.7" height="2.7" fill="#00c2ff"/><rect x="1191.8" y="163.4" width="2.7" height="2.7" fill="#1519ff"/><rect x="1206.0" y="163.4" width="7.4" height="2.7" fill="#5000eb"/><rect x="1158.8" y="165.8" width="2.7" height="2.7" fill="#5000eb"/><rect x="1163.5" y="165.8" width="2.7" height="2.7" fill="#1519ff"/><rect x="1165.9" y="165.8" width="2.7" height="2.7" fill="#00f29d"/><rect x="1168.2" y="165.8" width="19.2" height="2.7" fill="#ff0000"/><rect x="1187.1" y="165.8" width="2.7" height="2.7" fill="#ff7c00"/><rect x="1189.5" y="165.8" width="2.7" height="2.7" fill="#00f29d"/><rect x="1191.8" y="165.8" width="2.7" height="2.7" fill="#1519ff"/><rect x="1232.0" y="165.8" width="2.7" height="2.7" fill="#5000eb"/><rect x="1154.1" y="168.1" width="2.7" height="2.7" fill="#5000eb"/><rect x="1158.8" y="168.1" width="7.4" height="2.7" fill="#5000eb"/><rect x="1165.9" y="168.1" width="2.7" height="2.7" fill="#0465ff"/><rect x="1168.2" y="168.1" width="2.7" height="2.7" fill="#ff7c00"/><rect x="1170.6" y="168.1" width="19.2" height="2.7" fill="#ff0000"/><rect x="1189.5" y="168.1" width="2.7" height="2.7" fill="#00f29d"/><rect x="1191.8" y="168.1" width="2.7" height="2.7" fill="#0465ff"/><rect x="1210.7" y="168.1" width="5.0" height="2.7" fill="#5000eb"/><rect x="1154.1" y="170.5" width="5.0" height="2.7" fill="#5000eb"/><rect x="1165.9" y="170.5" width="2.7" height="2.7" fill="#1519ff"/><rect x="1168.2" y="170.5" width="2.7" height="2.7" fill="#49ff28"/><rect x="1170.6" y="170.5" width="19.2" height="2.7" fill="#ff0000"/><rect x="1189.5" y="170.5" width="2.7" height="2.7" fill="#49ff28"/><rect x="1191.8" y="170.5" width="2.7" height="2.7" fill="#1519ff"/><rect x="1208.4" y="170.5" width="2.7" height="2.7" fill="#5000eb"/><rect x="1147.0" y="172.8" width="2.7" height="2.7" fill="#5000eb"/><rect x="1151.7" y="172.8" width="5.0" height="2.7" fill="#5000eb"/><rect x="1163.5" y="172.8" width="2.7" height="2.7" fill="#5000eb"/><rect x="1165.9" y="172.8" width="2.7" height="2.7" fill="#1519ff"/><rect x="1168.2" y="172.8" width="2.7" height="2.7" fill="#00c2ff"/><rect x="1170.6" y="172.8" width="2.7" height="2.7" fill="#ff7c00"/><rect x="1172.9" y="172.8" width="16.8" height="2.7" fill="#ff0000"/><rect x="1189.5" y="172.8" width="2.7" height="2.7" fill="#49ff28"/><rect x="1191.8" y="172.8" width="2.7" height="2.7" fill="#0465ff"/><rect x="1194.2" y="172.8" width="2.7" height="2.7" fill="#5000eb"/><rect x="1210.7" y="172.8" width="2.7" height="2.7" fill="#5000eb"/><rect x="1147.0" y="175.2" width="7.4" height="2.7" fill="#5000eb"/><rect x="1154.1" y="175.2" width="2.7" height="2.7" fill="#1519ff"/><rect x="1156.4" y="175.2" width="2.7" height="2.7" fill="#5000eb"/><rect x="1165.9" y="175.2" width="2.7" height="2.7" fill="#5000eb"/><rect x="1168.2" y="175.2" width="2.7" height="2.7" fill="#0465ff"/><rect x="1170.6" y="175.2" width="2.7" height="2.7" fill="#49ff28"/><rect x="1172.9" y="175.2" width="16.8" height="2.7" fill="#ff0000"/><rect x="1189.5" y="175.2" width="2.7" height="2.7" fill="#49ff28"/><rect x="1191.8" y="175.2" width="2.7" height="2.7" fill="#0465ff"/><rect x="1194.2" y="175.2" width="2.7" height="2.7" fill="#1519ff"/><rect x="1139.9" y="177.6" width="2.7" height="2.7" fill="#5000eb"/><rect x="1144.6" y="177.6" width="5.0" height="2.7" fill="#5000eb"/><rect x="1149.3" y="177.6" width="2.7" height="2.7" fill="#1519ff"/><rect x="1151.7" y="177.6" width="7.4" height="2.7" fill="#5000eb"/><rect x="1165.9" y="177.6" width="2.7" height="2.7" fill="#5000eb"/><rect x="1168.2" y="177.6" width="2.7" height="2.7" fill="#1519ff"/><rect x="1170.6" y="177.6" width="2.7" height="2.7" fill="#00f29d"/><rect x="1172.9" y="177.6" width="2.7" height="2.7" fill="#ebe600"/><rect x="1175.3" y="177.6" width="14.5" height="2.7" fill="#ff0000"/><rect x="1189.5" y="177.6" width="2.7" height="2.7" fill="#ebe600"/><rect x="1191.8" y="177.6" width="2.7" height="2.7" fill="#00c2ff"/><rect x="1194.2" y="177.6" width="2.7" height="2.7" fill="#1519ff"/><rect x="1196.6" y="177.6" width="2.7" height="2.7" fill="#5000eb"/><rect x="1144.6" y="179.9" width="2.7" height="2.7" fill="#5000eb"/><rect x="1149.3" y="179.9" width="2.7" height="2.7" fill="#1519ff"/><rect x="1151.7" y="179.9" width="2.7" height="2.7" fill="#5000eb"/><rect x="1154.1" y="179.9" width="2.7" height="2.7" fill="#1519ff"/><rect x="1168.2" y="179.9" width="2.7" height="2.7" fill="#5000eb"/><rect x="1170.6" y="179.9" width="2.7" height="2.7" fill="#0465ff"/><rect x="1172.9" y="179.9" width="2.7" height="2.7" fill="#00c2ff"/><rect x="1175.3" y="179.9" width="2.7" height="2.7" fill="#49ff28"/><rect x="1177.7" y="179.9" width="9.7" height="2.7" fill="#ff0000"/><rect x="1187.1" y="179.9" width="2.7" height="2.7" fill="#ff7c00"/><rect x="1189.5" y="179.9" width="2.7" height="2.7" fill="#00f29d"/><rect x="1191.8" y="179.9" width="5.0" height="2.7" fill="#0465ff"/><rect x="1196.6" y="179.9" width="2.7" height="2.7" fill="#5000eb"/><rect x="1142.2" y="182.3" width="7.4" height="2.7" fill="#5000eb"/><rect x="1151.7" y="182.3" width="2.7" height="2.7" fill="#5000eb"/><rect x="1156.4" y="182.3" width="2.7" height="2.7" fill="#5000eb"/><rect x="1170.6" y="182.3" width="2.7" height="2.7" fill="#1519ff"/><rect x="1172.9" y="182.3" width="2.7" height="2.7" fill="#0465ff"/><rect x="1175.3" y="182.3" width="2.7" height="2.7" fill="#00c2ff"/><rect x="1177.7" y="182.3" width="2.7" height="2.7" fill="#ebe600"/><rect x="1180.0" y="182.3" width="2.7" height="2.7" fill="#ff7c00"/><rect x="1182.4" y="182.3" width="5.0" height="2.7" fill="#ff0000"/><rect x="1187.1" y="182.3" width="2.7" height="2.7" fill="#ebe600"/><rect x="1189.5" y="182.3" width="2.7" height="2.7" fill="#00f29d"/><rect x="1191.8" y="182.3" width="2.7" height="2.7" fill="#0465ff"/><rect x="1194.2" y="182.3" width="5.0" height="2.7" fill="#1519ff"/><rect x="1203.7" y="182.3" width="2.7" height="2.7" fill="#5000eb"/><rect x="1208.4" y="182.3" width="2.7" height="2.7" fill="#5000eb"/><rect x="1137.5" y="184.6" width="2.7" height="2.7" fill="#5000eb"/><rect x="1149.3" y="184.6" width="7.4" height="2.7" fill="#5000eb"/><rect x="1172.9" y="184.6" width="2.7" height="2.7" fill="#5000eb"/><rect x="1175.3" y="184.6" width="2.7" height="2.7" fill="#0465ff"/><rect x="1177.7" y="184.6" width="2.7" height="2.7" fill="#00c2ff"/><rect x="1180.0" y="184.6" width="2.7" height="2.7" fill="#00f29d"/><rect x="1182.4" y="184.6" width="2.7" height="2.7" fill="#49ff28"/><rect x="1184.8" y="184.6" width="2.7" height="2.7" fill="#ebe600"/><rect x="1187.1" y="184.6" width="2.7" height="2.7" fill="#49ff28"/><rect x="1189.5" y="184.6" width="5.0" height="2.7" fill="#0465ff"/><rect x="1194.2" y="184.6" width="5.0" height="2.7" fill="#1519ff"/><rect x="1201.3" y="184.6" width="2.7" height="2.7" fill="#5000eb"/><rect x="1213.1" y="184.6" width="2.7" height="2.7" fill="#5000eb"/><rect x="1139.9" y="187.0" width="2.7" height="2.7" fill="#5000eb"/><rect x="1144.6" y="187.0" width="2.7" height="2.7" fill="#5000eb"/><rect x="1149.3" y="187.0" width="7.4" height="2.7" fill="#5000eb"/><rect x="1172.9" y="187.0" width="2.7" height="2.7" fill="#5000eb"/><rect x="1175.3" y="187.0" width="2.7" height="2.7" fill="#1519ff"/><rect x="1177.7" y="187.0" width="2.7" height="2.7" fill="#00c2ff"/><rect x="1180.0" y="187.0" width="5.0" height="2.7" fill="#00f29d"/><rect x="1184.8" y="187.0" width="5.0" height="2.7" fill="#00c2ff"/><rect x="1189.5" y="187.0" width="2.7" height="2.7" fill="#0465ff"/><rect x="1191.8" y="187.0" width="5.0" height="2.7" fill="#1519ff"/><rect x="1151.7" y="189.4" width="2.7" height="2.7" fill="#5000eb"/><rect x="1154.1" y="189.4" width="2.7" height="2.7" fill="#1519ff"/><rect x="1177.7" y="189.4" width="7.4" height="2.7" fill="#1519ff"/><rect x="1184.8" y="189.4" width="2.7" height="2.7" fill="#00c2ff"/><rect x="1187.1" y="189.4" width="2.7" height="2.7" fill="#0465ff"/><rect x="1189.5" y="189.4" width="7.4" height="2.7" fill="#1519ff"/><rect x="1196.6" y="189.4" width="2.7" height="2.7" fill="#5000eb"/><rect x="1206.0" y="189.4" width="2.7" height="2.7" fill="#5000eb"/><rect x="1232.0" y="189.4" width="2.7" height="2.7" fill="#5000eb"/><rect x="1147.0" y="191.7" width="2.7" height="2.7" fill="#5000eb"/><rect x="1151.7" y="191.7" width="7.4" height="2.7" fill="#5000eb"/><rect x="1161.1" y="191.7" width="5.0" height="2.7" fill="#5000eb"/><rect x="1177.7" y="191.7" width="5.0" height="2.7" fill="#5000eb"/><rect x="1182.4" y="191.7" width="5.0" height="2.7" fill="#1519ff"/><rect x="1187.1" y="191.7" width="2.7" height="2.7" fill="#0465ff"/><rect x="1189.5" y="191.7" width="2.7" height="2.7" fill="#1519ff"/><rect x="1191.8" y="191.7" width="2.7" height="2.7" fill="#5000eb"/><rect x="1194.2" y="191.7" width="2.7" height="2.7" fill="#1519ff"/><rect x="1196.6" y="191.7" width="2.7" height="2.7" fill="#5000eb"/><rect x="1232.0" y="191.7" width="5.0" height="2.7" fill="#5000eb"/><rect x="1144.6" y="194.1" width="7.4" height="2.7" fill="#5000eb"/><rect x="1151.7" y="194.1" width="5.0" height="2.7" fill="#1519ff"/><rect x="1156.4" y="194.1" width="2.7" height="2.7" fill="#5000eb"/><rect x="1158.8" y="194.1" width="2.7" height="2.7" fill="#1519ff"/><rect x="1161.1" y="194.1" width="7.4" height="2.7" fill="#5000eb"/><rect x="1180.0" y="194.1" width="2.7" height="2.7" fill="#5000eb"/><rect x="1182.4" y="194.1" width="5.0" height="2.7" fill="#1519ff"/><rect x="1191.8" y="194.1" width="7.4" height="2.7" fill="#5000eb"/><rect x="1229.6" y="194.1" width="5.0" height="2.7" fill="#5000eb"/><rect x="1144.6" y="196.5" width="5.0" height="2.7" fill="#5000eb"/><rect x="1149.3" y="196.5" width="2.7" height="2.7" fill="#1519ff"/><rect x="1151.7" y="196.5" width="7.4" height="2.7" fill="#5000eb"/><rect x="1158.8" y="196.5" width="5.0" height="2.7" fill="#1519ff"/><rect x="1163.5" y="196.5" width="2.7" height="2.7" fill="#5000eb"/><rect x="1168.2" y="196.5" width="5.0" height="2.7" fill="#5000eb"/><rect x="1184.8" y="196.5" width="2.7" height="2.7" fill="#5000eb"/><rect x="1191.8" y="196.5" width="7.4" height="2.7" fill="#5000eb"/><rect x="1210.7" y="196.5" width="5.0" height="2.7" fill="#5000eb"/><rect x="1227.3" y="196.5" width="2.7" height="2.7" fill="#5000eb"/><rect x="1234.4" y="196.5" width="2.7" height="2.7" fill="#5000eb"/><rect x="1147.0" y="198.8" width="5.0" height="2.7" fill="#5000eb"/><rect x="1154.1" y="198.8" width="12.1" height="2.7" fill="#5000eb"/><rect x="1170.6" y="198.8" width="5.0" height="2.7" fill="#5000eb"/><rect x="1196.6" y="198.8" width="2.7" height="2.7" fill="#5000eb"/><rect x="1213.1" y="198.8" width="2.7" height="2.7" fill="#5000eb"/><rect x="1217.8" y="198.8" width="2.7" height="2.7" fill="#5000eb"/><rect x="1222.5" y="198.8" width="2.7" height="2.7" fill="#5000eb"/><rect x="1234.4" y="198.8" width="7.4" height="2.7" fill="#5000eb"/><rect x="1147.0" y="201.2" width="5.0" height="2.7" fill="#5000eb"/><rect x="1158.8" y="201.2" width="2.7" height="2.7" fill="#1519ff"/><rect x="1161.1" y="201.2" width="2.7" height="2.7" fill="#5000eb"/><rect x="1172.9" y="201.2" width="2.7" height="2.7" fill="#5000eb"/><rect x="1191.8" y="201.2" width="2.7" height="2.7" fill="#5000eb"/><rect x="1196.6" y="201.2" width="2.7" height="2.7" fill="#5000eb"/><rect x="1198.9" y="201.2" width="2.7" height="2.7" fill="#1519ff"/><rect x="1201.3" y="201.2" width="2.7" height="2.7" fill="#5000eb"/><rect x="1210.7" y="201.2" width="5.0" height="2.7" fill="#5000eb"/><rect x="1217.8" y="201.2" width="19.2" height="2.7" fill="#5000eb"/><rect x="1236.7" y="201.2" width="2.7" height="2.7" fill="#0465ff"/><rect x="1239.1" y="201.2" width="5.0" height="2.7" fill="#5000eb"/><rect x="1147.0" y="203.5" width="2.7" height="2.7" fill="#5000eb"/><rect x="1149.3" y="203.5" width="2.7" height="2.7" fill="#1519ff"/><rect x="1158.8" y="203.5" width="2.7" height="2.7" fill="#5000eb"/><rect x="1198.9" y="203.5" width="2.7" height="2.7" fill="#5000eb"/><rect x="1215.5" y="203.5" width="2.7" height="2.7" fill="#1519ff"/><rect x="1217.8" y="203.5" width="2.7" height="2.7" fill="#5000eb"/><rect x="1220.2" y="203.5" width="2.7" height="2.7" fill="#0465ff"/><rect x="1222.5" y="203.5" width="2.7" height="2.7" fill="#1519ff"/><rect x="1224.9" y="203.5" width="2.7" height="2.7" fill="#0465ff"/><rect x="1227.3" y="203.5" width="5.0" height="2.7" fill="#1519ff"/><rect x="1232.0" y="203.5" width="2.7" height="2.7" fill="#5000eb"/><rect x="1234.4" y="203.5" width="2.7" height="2.7" fill="#1519ff"/><rect x="1236.7" y="203.5" width="2.7" height="2.7" fill="#0465ff"/><rect x="1239.1" y="203.5" width="2.7" height="2.7" fill="#1519ff"/><rect x="1241.4" y="203.5" width="2.7" height="2.7" fill="#5000eb"/><rect x="1147.0" y="205.9" width="2.7" height="2.7" fill="#5000eb"/><rect x="1149.3" y="205.9" width="2.7" height="2.7" fill="#1519ff"/><rect x="1213.1" y="205.9" width="2.7" height="2.7" fill="#5000eb"/><rect x="1215.5" y="205.9" width="5.0" height="2.7" fill="#1519ff"/><rect x="1220.2" y="205.9" width="2.7" height="2.7" fill="#0465ff"/><rect x="1222.5" y="205.9" width="2.7" height="2.7" fill="#00c2ff"/><rect x="1224.9" y="205.9" width="5.0" height="2.7" fill="#00f29d"/><rect x="1229.6" y="205.9" width="2.7" height="2.7" fill="#00c2ff"/><rect x="1232.0" y="205.9" width="2.7" height="2.7" fill="#1519ff"/><rect x="1234.4" y="205.9" width="2.7" height="2.7" fill="#0465ff"/><rect x="1236.7" y="205.9" width="5.0" height="2.7" fill="#1519ff"/><rect x="1163.5" y="208.3" width="2.7" height="2.7" fill="#1519ff"/><rect x="1165.9" y="208.3" width="2.7" height="2.7" fill="#5000eb"/><rect x="1201.3" y="208.3" width="2.7" height="2.7" fill="#5000eb"/><rect x="1213.1" y="208.3" width="2.7" height="2.7" fill="#5000eb"/><rect x="1215.5" y="208.3" width="2.7" height="2.7" fill="#1519ff"/><rect x="1217.8" y="208.3" width="2.7" height="2.7" fill="#0465ff"/><rect x="1220.2" y="208.3" width="2.7" height="2.7" fill="#00f29d"/><rect x="1222.5" y="208.3" width="2.7" height="2.7" fill="#ebe600"/><rect x="1224.9" y="208.3" width="2.7" height="2.7" fill="#ff7c00"/><rect x="1227.3" y="208.3" width="2.7" height="2.7" fill="#ebe600"/><rect x="1229.6" y="208.3" width="5.0" height="2.7" fill="#00f29d"/><rect x="1234.4" y="208.3" width="2.7" height="2.7" fill="#0465ff"/><rect x="1236.7" y="208.3" width="5.0" height="2.7" fill="#1519ff"/><rect x="1241.4" y="208.3" width="2.7" height="2.7" fill="#5000eb"/><rect x="1142.2" y="210.6" width="2.7" height="2.7" fill="#5000eb"/><rect x="1144.6" y="210.6" width="2.7" height="2.7" fill="#0465ff"/><rect x="1147.0" y="210.6" width="2.7" height="2.7" fill="#1519ff"/><rect x="1149.3" y="210.6" width="5.0" height="2.7" fill="#0465ff"/><rect x="1154.1" y="210.6" width="2.7" height="2.7" fill="#1519ff"/><rect x="1156.4" y="210.6" width="2.7" height="2.7" fill="#00c2ff"/><rect x="1158.8" y="210.6" width="2.7" height="2.7" fill="#00f29d"/><rect x="1161.1" y="210.6" width="2.7" height="2.7" fill="#ff7c00"/><rect x="1168.2" y="210.6" width="2.7" height="2.7" fill="#5000eb"/><rect x="1213.1" y="210.6" width="2.7" height="2.7" fill="#1519ff"/><rect x="1215.5" y="210.6" width="2.7" height="2.7" fill="#0465ff"/><rect x="1217.8" y="210.6" width="2.7" height="2.7" fill="#00c2ff"/><rect x="1220.2" y="210.6" width="2.7" height="2.7" fill="#49ff28"/><rect x="1222.5" y="210.6" width="2.7" height="2.7" fill="#ebe600"/><rect x="1224.9" y="210.6" width="5.0" height="2.7" fill="#ff7c00"/><rect x="1229.6" y="210.6" width="2.7" height="2.7" fill="#ebe600"/><rect x="1232.0" y="210.6" width="2.7" height="2.7" fill="#49ff28"/><rect x="1234.4" y="210.6" width="2.7" height="2.7" fill="#00f29d"/><rect x="1236.7" y="210.6" width="2.7" height="2.7" fill="#00c2ff"/><rect x="1239.1" y="210.6" width="2.7" height="2.7" fill="#0465ff"/><rect x="1241.4" y="210.6" width="2.7" height="2.7" fill="#5000eb"/><rect x="1128.1" y="213.0" width="7.4" height="2.7" fill="#1519ff"/><rect x="1135.2" y="213.0" width="2.7" height="2.7" fill="#5000eb"/><rect x="1139.9" y="213.0" width="2.7" height="2.7" fill="#5000eb"/><rect x="1142.2" y="213.0" width="7.4" height="2.7" fill="#1519ff"/><rect x="1149.3" y="213.0" width="2.7" height="2.7" fill="#0465ff"/><rect x="1151.7" y="213.0" width="5.0" height="2.7" fill="#00c2ff"/><rect x="1156.4" y="213.0" width="2.7" height="2.7" fill="#00f29d"/><rect x="1158.8" y="213.0" width="2.7" height="2.7" fill="#ebe600"/><rect x="1161.1" y="213.0" width="2.7" height="2.7" fill="#ff0000"/><rect x="1163.5" y="213.0" width="2.7" height="2.7" fill="#00f29d"/><rect x="1182.4" y="213.0" width="9.7" height="2.7" fill="#5000eb"/><rect x="1198.9" y="213.0" width="5.0" height="2.7" fill="#5000eb"/><rect x="1213.1" y="213.0" width="2.7" height="2.7" fill="#1519ff"/><rect x="1215.5" y="213.0" width="2.7" height="2.7" fill="#0465ff"/><rect x="1217.8" y="213.0" width="2.7" height="2.7" fill="#00f29d"/><rect x="1220.2" y="213.0" width="5.0" height="2.7" fill="#49ff28"/><rect x="1224.9" y="213.0" width="2.7" height="2.7" fill="#ebe600"/><rect x="1227.3" y="213.0" width="2.7" height="2.7" fill="#49ff28"/><rect x="1229.6" y="213.0" width="2.7" height="2.7" fill="#ebe600"/><rect x="1232.0" y="213.0" width="5.0" height="2.7" fill="#00f29d"/><rect x="1236.7" y="213.0" width="5.0" height="2.7" fill="#0465ff"/><rect x="1123.3" y="215.4" width="2.7" height="2.7" fill="#0465ff"/><rect x="1125.7" y="215.4" width="5.0" height="2.7" fill="#00c2ff"/><rect x="1130.4" y="215.4" width="5.0" height="2.7" fill="#1519ff"/><rect x="1135.2" y="215.4" width="2.7" height="2.7" fill="#0465ff"/><rect x="1137.5" y="215.4" width="2.7" height="2.7" fill="#1519ff"/><rect x="1139.9" y="215.4" width="2.7" height="2.7" fill="#0465ff"/><rect x="1142.2" y="215.4" width="2.7" height="2.7" fill="#1519ff"/><rect x="1144.6" y="215.4" width="2.7" height="2.7" fill="#0465ff"/><rect x="1147.0" y="215.4" width="5.0" height="2.7" fill="#00f29d"/><rect x="1151.7" y="215.4" width="5.0" height="2.7" fill="#00c2ff"/><rect x="1156.4" y="215.4" width="2.7" height="2.7" fill="#0465ff"/><rect x="1158.8" y="215.4" width="2.7" height="2.7" fill="#00f29d"/><rect x="1161.1" y="215.4" width="5.0" height="2.7" fill="#00c2ff"/><rect x="1165.9" y="215.4" width="2.7" height="2.7" fill="#0465ff"/><rect x="1168.2" y="215.4" width="5.0" height="2.7" fill="#5000eb"/><rect x="1175.3" y="215.4" width="2.7" height="2.7" fill="#5000eb"/><rect x="1182.4" y="215.4" width="7.4" height="2.7" fill="#5000eb"/><rect x="1191.8" y="215.4" width="2.7" height="2.7" fill="#5000eb"/><rect x="1210.7" y="215.4" width="2.7" height="2.7" fill="#1519ff"/><rect x="1213.1" y="215.4" width="2.7" height="2.7" fill="#0465ff"/><rect x="1215.5" y="215.4" width="2.7" height="2.7" fill="#1519ff"/><rect x="1217.8" y="215.4" width="14.5" height="2.7" fill="#00c2ff"/><rect x="1232.0" y="215.4" width="7.4" height="2.7" fill="#0465ff"/><rect x="1123.3" y="217.7" width="2.7" height="2.7" fill="#ff0000"/><rect x="1125.7" y="217.7" width="2.7" height="2.7" fill="#ff7c00"/><rect x="1128.1" y="217.7" width="2.7" height="2.7" fill="#49ff28"/><rect x="1130.4" y="217.7" width="9.7" height="2.7" fill="#00c2ff"/><rect x="1139.9" y="217.7" width="2.7" height="2.7" fill="#0465ff"/><rect x="1142.2" y="217.7" width="5.0" height="2.7" fill="#00c2ff"/><rect x="1147.0" y="217.7" width="5.0" height="2.7" fill="#00f29d"/><rect x="1151.7" y="217.7" width="2.7" height="2.7" fill="#00c2ff"/><rect x="1154.1" y="217.7" width="7.4" height="2.7" fill="#0465ff"/><rect x="1161.1" y="217.7" width="2.7" height="2.7" fill="#00c2ff"/><rect x="1163.5" y="217.7" width="7.4" height="2.7" fill="#1519ff"/><rect x="1170.6" y="217.7" width="2.7" height="2.7" fill="#5000eb"/><rect x="1172.9" y="217.7" width="2.7" height="2.7" fill="#1519ff"/><rect x="1182.4" y="217.7" width="2.7" height="2.7" fill="#5000eb"/><rect x="1184.8" y="217.7" width="5.0" height="2.7" fill="#1519ff"/><rect x="1189.5" y="217.7" width="5.0" height="2.7" fill="#5000eb"/><rect x="1206.0" y="217.7" width="7.4" height="2.7" fill="#1519ff"/><rect x="1213.1" y="217.7" width="2.7" height="2.7" fill="#0465ff"/><rect x="1215.5" y="217.7" width="2.7" height="2.7" fill="#1519ff"/><rect x="1217.8" y="217.7" width="2.7" height="2.7" fill="#00c2ff"/><rect x="1220.2" y="217.7" width="5.0" height="2.7" fill="#0465ff"/><rect x="1224.9" y="217.7" width="9.7" height="2.7" fill="#5000eb"/><rect x="1121.0" y="220.1" width="2.7" height="2.7" fill="#ff7c00"/><rect x="1123.3" y="220.1" width="5.0" height="2.7" fill="#ff0000"/><rect x="1128.1" y="220.1" width="2.7" height="2.7" fill="#ebe600"/><rect x="1130.4" y="220.1" width="2.7" height="2.7" fill="#00f29d"/><rect x="1132.8" y="220.1" width="5.0" height="2.7" fill="#0465ff"/><rect x="1137.5" y="220.1" width="2.7" height="2.7" fill="#00c2ff"/><rect x="1139.9" y="220.1" width="2.7" height="2.7" fill="#0465ff"/><rect x="1142.2" y="220.1" width="2.7" height="2.7" fill="#00c2ff"/><rect x="1144.6" y="220.1" width="7.4" height="2.7" fill="#00f29d"/><rect x="1151.7" y="220.1" width="2.7" height="2.7" fill="#0465ff"/><rect x="1154.1" y="220.1" width="9.7" height="2.7" fill="#00c2ff"/><rect x="1163.5" y="220.1" width="2.7" height="2.7" fill="#0465ff"/><rect x="1165.9" y="220.1" width="9.7" height="2.7" fill="#1519ff"/><rect x="1175.3" y="220.1" width="2.7" height="2.7" fill="#5000eb"/><rect x="1180.0" y="220.1" width="2.7" height="2.7" fill="#1519ff"/><rect x="1182.4" y="220.1" width="2.7" height="2.7" fill="#0465ff"/><rect x="1184.8" y="220.1" width="12.1" height="2.7" fill="#00f29d"/><rect x="1196.6" y="220.1" width="2.7" height="2.7" fill="#0465ff"/><rect x="1208.4" y="220.1" width="5.0" height="2.7" fill="#1519ff"/><rect x="1213.1" y="220.1" width="2.7" height="2.7" fill="#0465ff"/><rect x="1215.5" y="220.1" width="5.0" height="2.7" fill="#1519ff"/><rect x="1220.2" y="220.1" width="7.4" height="2.7" fill="#5000eb"/><rect x="1121.0" y="222.4" width="2.7" height="2.7" fill="#ff7c00"/><rect x="1123.3" y="222.4" width="5.0" height="2.7" fill="#ff0000"/><rect x="1128.1" y="222.4" width="2.7" height="2.7" fill="#ebe600"/><rect x="1130.4" y="222.4" width="2.7" height="2.7" fill="#00f29d"/><rect x="1132.8" y="222.4" width="5.0" height="2.7" fill="#0465ff"/><rect x="1137.5" y="222.4" width="2.7" height="2.7" fill="#00c2ff"/><rect x="1139.9" y="222.4" width="7.4" height="2.7" fill="#0465ff"/><rect x="1147.0" y="222.4" width="2.7" height="2.7" fill="#00c2ff"/><rect x="1149.3" y="222.4" width="2.7" height="2.7" fill="#00f29d"/><rect x="1151.7" y="222.4" width="2.7" height="2.7" fill="#00c2ff"/><rect x="1154.1" y="222.4" width="2.7" height="2.7" fill="#0465ff"/><rect x="1156.4" y="222.4" width="2.7" height="2.7" fill="#00c2ff"/><rect x="1158.8" y="222.4" width="2.7" height="2.7" fill="#00f29d"/><rect x="1161.1" y="222.4" width="5.0" height="2.7" fill="#00c2ff"/><rect x="1165.9" y="222.4" width="2.7" height="2.7" fill="#1519ff"/><rect x="1168.2" y="222.4" width="5.0" height="2.7" fill="#0465ff"/><rect x="1172.9" y="222.4" width="5.0" height="2.7" fill="#1519ff"/><rect x="1177.7" y="222.4" width="2.7" height="2.7" fill="#5000eb"/><rect x="1180.0" y="222.4" width="2.7" height="2.7" fill="#1519ff"/><rect x="1182.4" y="222.4" width="2.7" height="2.7" fill="#00c2ff"/><rect x="1184.8" y="222.4" width="2.7" height="2.7" fill="#ebe600"/><rect x="1187.1" y="222.4" width="9.7" height="2.7" fill="#ff0000"/><rect x="1196.6" y="222.4" width="2.7" height="2.7" fill="#ff7c00"/><rect x="1198.9" y="222.4" width="2.7" height="2.7" fill="#00f29d"/><rect x="1210.7" y="222.4" width="2.7" height="2.7" fill="#1519ff"/><rect x="1213.1" y="222.4" width="2.7" height="2.7" fill="#0465ff"/><rect x="1215.5" y="222.4" width="5.0" height="2.7" fill="#1519ff"/><rect x="1220.2" y="222.4" width="5.0" height="2.7" fill="#5000eb"/><rect x="1118.6" y="224.8" width="2.7" height="2.7" fill="#00f29d"/><rect x="1121.0" y="224.8" width="2.7" height="2.7" fill="#ebe600"/><rect x="1123.3" y="224.8" width="2.7" height="2.7" fill="#ff0000"/><rect x="1125.7" y="224.8" width="2.7" height="2.7" fill="#ff7c00"/><rect x="1128.1" y="224.8" width="2.7" height="2.7" fill="#49ff28"/><rect x="1130.4" y="224.8" width="2.7" height="2.7" fill="#00c2ff"/><rect x="1132.8" y="224.8" width="7.4" height="2.7" fill="#0465ff"/><rect x="1139.9" y="224.8" width="2.7" height="2.7" fill="#1519ff"/><rect x="1142.2" y="224.8" width="7.4" height="2.7" fill="#0465ff"/><rect x="1149.3" y="224.8" width="12.1" height="2.7" fill="#00c2ff"/><rect x="1161.1" y="224.8" width="2.7" height="2.7" fill="#49ff28"/><rect x="1163.5" y="224.8" width="2.7" height="2.7" fill="#00c2ff"/><rect x="1165.9" y="224.8" width="2.7" height="2.7" fill="#1519ff"/><rect x="1168.2" y="224.8" width="7.4" height="2.7" fill="#00c2ff"/><rect x="1175.3" y="224.8" width="2.7" height="2.7" fill="#1519ff"/><rect x="1177.7" y="224.8" width="2.7" height="2.7" fill="#5000eb"/><rect x="1180.0" y="224.8" width="2.7" height="2.7" fill="#0465ff"/><rect x="1182.4" y="224.8" width="2.7" height="2.7" fill="#00f29d"/><rect x="1184.8" y="224.8" width="2.7" height="2.7" fill="#ff7c00"/><rect x="1187.1" y="224.8" width="12.1" height="2.7" fill="#ff0000"/><rect x="1198.9" y="224.8" width="2.7" height="2.7" fill="#ebe600"/><rect x="1210.7" y="224.8" width="2.7" height="2.7" fill="#1519ff"/><rect x="1213.1" y="224.8" width="2.7" height="2.7" fill="#00c2ff"/><rect x="1118.6" y="227.2" width="2.7" height="2.7" fill="#00c2ff"/><rect x="1121.0" y="227.2" width="2.7" height="2.7" fill="#49ff28"/><rect x="1123.3" y="227.2" width="2.7" height="2.7" fill="#00f29d"/><rect x="1125.7" y="227.2" width="5.0" height="2.7" fill="#49ff28"/><rect x="1130.4" y="227.2" width="2.7" height="2.7" fill="#00c2ff"/><rect x="1132.8" y="227.2" width="5.0" height="2.7" fill="#0465ff"/><rect x="1137.5" y="227.2" width="7.4" height="2.7" fill="#1519ff"/><rect x="1144.6" y="227.2" width="2.7" height="2.7" fill="#0465ff"/><rect x="1147.0" y="227.2" width="5.0" height="2.7" fill="#00c2ff"/><rect x="1151.7" y="227.2" width="2.7" height="2.7" fill="#00f29d"/><rect x="1154.1" y="227.2" width="21.6" height="2.7" fill="#00c2ff"/><rect x="1175.3" y="227.2" width="2.7" height="2.7" fill="#0465ff"/><rect x="1177.7" y="227.2" width="2.7" height="2.7" fill="#1519ff"/><rect x="1180.0" y="227.2" width="2.7" height="2.7" fill="#00c2ff"/><rect x="1182.4" y="227.2" width="2.7" height="2.7" fill="#00f29d"/><rect x="1184.8" y="227.2" width="2.7" height="2.7" fill="#ebe600"/><rect x="1187.1" y="227.2" width="14.5" height="2.7" fill="#ff0000"/><rect x="1201.3" y="227.2" width="2.7" height="2.7" fill="#49ff28"/><rect x="1118.6" y="229.5" width="2.7" height="2.7" fill="#00f29d"/><rect x="1121.0" y="229.5" width="2.7" height="2.7" fill="#00c2ff"/><rect x="1123.3" y="229.5" width="5.0" height="2.7" fill="#00f29d"/><rect x="1128.1" y="229.5" width="2.7" height="2.7" fill="#00c2ff"/><rect x="1130.4" y="229.5" width="2.7" height="2.7" fill="#00f29d"/><rect x="1132.8" y="229.5" width="2.7" height="2.7" fill="#00c2ff"/><rect x="1135.2" y="229.5" width="2.7" height="2.7" fill="#0465ff"/><rect x="1137.5" y="229.5" width="9.7" height="2.7" fill="#1519ff"/><rect x="1147.0" y="229.5" width="2.7" height="2.7" fill="#00c2ff"/><rect x="1149.3" y="229.5" width="5.0" height="2.7" fill="#00f29d"/><rect x="1154.1" y="229.5" width="2.7" height="2.7" fill="#49ff28"/><rect x="1156.4" y="229.5" width="2.7" height="2.7" fill="#00f29d"/><rect x="1158.8" y="229.5" width="2.7" height="2.7" fill="#00c2ff"/><rect x="1161.1" y="229.5" width="2.7" height="2.7" fill="#00f29d"/><rect x="1163.5" y="229.5" width="2.7" height="2.7" fill="#00c2ff"/><rect x="1165.9" y="229.5" width="2.7" height="2.7" fill="#0465ff"/><rect x="1168.2" y="229.5" width="2.7" height="2.7" fill="#00c2ff"/><rect x="1170.6" y="229.5" width="5.0" height="2.7" fill="#00f29d"/><rect x="1175.3" y="229.5" width="2.7" height="2.7" fill="#0465ff"/><rect x="1177.7" y="229.5" width="5.0" height="2.7" fill="#1519ff"/><rect x="1182.4" y="229.5" width="2.7" height="2.7" fill="#00c2ff"/><rect x="1184.8" y="229.5" width="2.7" height="2.7" fill="#49ff28"/><rect x="1187.1" y="229.5" width="2.7" height="2.7" fill="#ff7c00"/><rect x="1189.5" y="229.5" width="7.4" height="2.7" fill="#ff0000"/><rect x="1196.6" y="229.5" width="2.7" height="2.7" fill="#ebe600"/><rect x="1198.9" y="229.5" width="2.7" height="2.7" fill="#49ff28"/><rect x="1201.3" y="229.5" width="2.7" height="2.7" fill="#0465ff"/><rect x="1118.6" y="231.9" width="7.4" height="2.7" fill="#00c2ff"/><rect x="1125.7" y="231.9" width="2.7" height="2.7" fill="#00f29d"/><rect x="1128.1" y="231.9" width="2.7" height="2.7" fill="#00c2ff"/><rect x="1130.4" y="231.9" width="2.7" height="2.7" fill="#00f29d"/><rect x="1132.8" y="231.9" width="5.0" height="2.7" fill="#00c2ff"/><rect x="1137.5" y="231.9" width="2.7" height="2.7" fill="#0465ff"/><rect x="1139.9" y="231.9" width="7.4" height="2.7" fill="#1519ff"/><rect x="1147.0" y="231.9" width="5.0" height="2.7" fill="#00c2ff"/><rect x="1151.7" y="231.9" width="5.0" height="2.7" fill="#00f29d"/><rect x="1156.4" y="231.9" width="2.7" height="2.7" fill="#49ff28"/><rect x="1158.8" y="231.9" width="7.4" height="2.7" fill="#00c2ff"/><rect x="1165.9" y="231.9" width="2.7" height="2.7" fill="#0465ff"/><rect x="1168.2" y="231.9" width="2.7" height="2.7" fill="#00f29d"/><rect x="1170.6" y="231.9" width="2.7" height="2.7" fill="#00c2ff"/><rect x="1172.9" y="231.9" width="2.7" height="2.7" fill="#00f29d"/><rect x="1175.3" y="231.9" width="2.7" height="2.7" fill="#0465ff"/><rect x="1177.7" y="231.9" width="5.0" height="2.7" fill="#1519ff"/><rect x="1182.4" y="231.9" width="5.0" height="2.7" fill="#0465ff"/><rect x="1187.1" y="231.9" width="2.7" height="2.7" fill="#00c2ff"/><rect x="1189.5" y="231.9" width="2.7" height="2.7" fill="#00f29d"/><rect x="1191.8" y="231.9" width="2.7" height="2.7" fill="#49ff28"/><rect x="1194.2" y="231.9" width="2.7" height="2.7" fill="#00f29d"/><rect x="1196.6" y="231.9" width="2.7" height="2.7" fill="#00c2ff"/><rect x="1198.9" y="231.9" width="2.7" height="2.7" fill="#0465ff"/><rect x="1118.6" y="234.2" width="5.0" height="2.7" fill="#0465ff"/><rect x="1123.3" y="234.2" width="5.0" height="2.7" fill="#00c2ff"/><rect x="1128.1" y="234.2" width="5.0" height="2.7" fill="#00f29d"/><rect x="1132.8" y="234.2" width="5.0" height="2.7" fill="#00c2ff"/><rect x="1137.5" y="234.2" width="7.4" height="2.7" fill="#0465ff"/><rect x="1144.6" y="234.2" width="2.7" height="2.7" fill="#1519ff"/><rect x="1147.0" y="234.2" width="2.7" height="2.7" fill="#00c2ff"/><rect x="1149.3" y="234.2" width="2.7" height="2.7" fill="#00f29d"/><rect x="1151.7" y="234.2" width="2.7" height="2.7" fill="#49ff28"/><rect x="1154.1" y="234.2" width="2.7" height="2.7" fill="#ebe600"/><rect x="1156.4" y="234.2" width="2.7" height="2.7" fill="#00f29d"/><rect x="1158.8" y="234.2" width="5.0" height="2.7" fill="#00c2ff"/><rect x="1163.5" y="234.2" width="2.7" height="2.7" fill="#00f29d"/><rect x="1165.9" y="234.2" width="2.7" height="2.7" fill="#00c2ff"/><rect x="1168.2" y="234.2" width="2.7" height="2.7" fill="#00f29d"/><rect x="1170.6" y="234.2" width="14.5" height="2.7" fill="#00c2ff"/><rect x="1184.8" y="234.2" width="5.0" height="2.7" fill="#0465ff"/><rect x="1189.5" y="234.2" width="2.7" height="2.7" fill="#00c2ff"/><rect x="1191.8" y="234.2" width="5.0" height="2.7" fill="#0465ff"/><rect x="1196.6" y="234.2" width="5.0" height="2.7" fill="#5000eb"/><rect x="1116.3" y="236.6" width="2.7" height="2.7" fill="#5000eb"/><rect x="1118.6" y="236.6" width="2.7" height="2.7" fill="#0465ff"/><rect x="1121.0" y="236.6" width="7.4" height="2.7" fill="#00c2ff"/><rect x="1128.1" y="236.6" width="5.0" height="2.7" fill="#00f29d"/><rect x="1132.8" y="236.6" width="7.4" height="2.7" fill="#00c2ff"/><rect x="1139.9" y="236.6" width="2.7" height="2.7" fill="#0465ff"/><rect x="1142.2" y="236.6" width="5.0" height="2.7" fill="#00c2ff"/><rect x="1147.0" y="236.6" width="2.7" height="2.7" fill="#0465ff"/><rect x="1149.3" y="236.6" width="5.0" height="2.7" fill="#00c2ff"/><rect x="1154.1" y="236.6" width="2.7" height="2.7" fill="#49ff28"/><rect x="1156.4" y="236.6" width="9.7" height="2.7" fill="#00c2ff"/><rect x="1165.9" y="236.6" width="2.7" height="2.7" fill="#00f29d"/><rect x="1168.2" y="236.6" width="2.7" height="2.7" fill="#00c2ff"/><rect x="1170.6" y="236.6" width="5.0" height="2.7" fill="#00f29d"/><rect x="1175.3" y="236.6" width="2.7" height="2.7" fill="#49ff28"/><rect x="1177.7" y="236.6" width="2.7" height="2.7" fill="#00f29d"/><rect x="1180.0" y="236.6" width="5.0" height="2.7" fill="#49ff28"/><rect x="1184.8" y="236.6" width="5.0" height="2.7" fill="#00c2ff"/><rect x="1189.5" y="236.6" width="2.7" height="2.7" fill="#1519ff"/><rect x="1191.8" y="236.6" width="2.7" height="2.7" fill="#0465ff"/><rect x="1194.2" y="236.6" width="5.0" height="2.7" fill="#1519ff"/><rect x="1118.6" y="239.0" width="2.7" height="2.7" fill="#1519ff"/><rect x="1121.0" y="239.0" width="2.7" height="2.7" fill="#00f29d"/><rect x="1123.3" y="239.0" width="2.7" height="2.7" fill="#ebe600"/><rect x="1125.7" y="239.0" width="5.0" height="2.7" fill="#49ff28"/><rect x="1130.4" y="239.0" width="5.0" height="2.7" fill="#00c2ff"/><rect x="1135.2" y="239.0" width="2.7" height="2.7" fill="#0465ff"/><rect x="1137.5" y="239.0" width="2.7" height="2.7" fill="#1519ff"/><rect x="1139.9" y="239.0" width="9.7" height="2.7" fill="#0465ff"/><rect x="1149.3" y="239.0" width="9.7" height="2.7" fill="#00c2ff"/><rect x="1158.8" y="239.0" width="5.0" height="2.7" fill="#0465ff"/><rect x="1163.5" y="239.0" width="5.0" height="2.7" fill="#00c2ff"/><rect x="1168.2" y="239.0" width="2.7" height="2.7" fill="#00f29d"/><rect x="1170.6" y="239.0" width="12.1" height="2.7" fill="#ff7c00"/><rect x="1182.4" y="239.0" width="2.7" height="2.7" fill="#ebe600"/><rect x="1184.8" y="239.0" width="2.7" height="2.7" fill="#49ff28"/><rect x="1187.1" y="239.0" width="2.7" height="2.7" fill="#00f29d"/><rect x="1189.5" y="239.0" width="5.0" height="2.7" fill="#0465ff"/><rect x="1194.2" y="239.0" width="2.7" height="2.7" fill="#5000eb"/><rect x="1118.6" y="241.3" width="2.7" height="2.7" fill="#00c2ff"/><rect x="1121.0" y="241.3" width="2.7" height="2.7" fill="#ff7c00"/><rect x="1123.3" y="241.3" width="5.0" height="2.7" fill="#ff0000"/><rect x="1128.1" y="241.3" width="2.7" height="2.7" fill="#49ff28"/><rect x="1130.4" y="241.3" width="2.7" height="2.7" fill="#00c2ff"/><rect x="1132.8" y="241.3" width="2.7" height="2.7" fill="#00f29d"/><rect x="1135.2" y="241.3" width="2.7" height="2.7" fill="#00c2ff"/><rect x="1137.5" y="241.3" width="9.7" height="2.7" fill="#0465ff"/><rect x="1147.0" y="241.3" width="5.0" height="2.7" fill="#00c2ff"/><rect x="1151.7" y="241.3" width="2.7" height="2.7" fill="#0465ff"/><rect x="1154.1" y="241.3" width="2.7" height="2.7" fill="#1519ff"/><rect x="1156.4" y="241.3" width="2.7" height="2.7" fill="#0465ff"/><rect x="1158.8" y="241.3" width="2.7" height="2.7" fill="#1519ff"/><rect x="1161.1" y="241.3" width="2.7" height="2.7" fill="#0465ff"/><rect x="1163.5" y="241.3" width="5.0" height="2.7" fill="#00c2ff"/><rect x="1168.2" y="241.3" width="2.7" height="2.7" fill="#ebe600"/><rect x="1170.6" y="241.3" width="14.5" height="2.7" fill="#ff0000"/><rect x="1184.8" y="241.3" width="5.0" height="2.7" fill="#49ff28"/><rect x="1189.5" y="241.3" width="2.7" height="2.7" fill="#00c2ff"/><rect x="1191.8" y="241.3" width="2.7" height="2.7" fill="#1519ff"/><rect x="1194.2" y="241.3" width="2.7" height="2.7" fill="#5000eb"/><rect x="1118.6" y="243.7" width="2.7" height="2.7" fill="#00f29d"/><rect x="1121.0" y="243.7" width="7.4" height="2.7" fill="#ff0000"/><rect x="1128.1" y="243.7" width="2.7" height="2.7" fill="#ff7c00"/><rect x="1130.4" y="243.7" width="2.7" height="2.7" fill="#00f29d"/><rect x="1132.8" y="243.7" width="2.7" height="2.7" fill="#00c2ff"/><rect x="1135.2" y="243.7" width="2.7" height="2.7" fill="#00f29d"/><rect x="1137.5" y="243.7" width="5.0" height="2.7" fill="#00c2ff"/><rect x="1142.2" y="243.7" width="5.0" height="2.7" fill="#0465ff"/><rect x="1147.0" y="243.7" width="7.4" height="2.7" fill="#00c2ff"/><rect x="1154.1" y="243.7" width="2.7" height="2.7" fill="#1519ff"/><rect x="1156.4" y="243.7" width="2.7" height="2.7" fill="#5000eb"/><rect x="1158.8" y="243.7" width="2.7" height="2.7" fill="#1519ff"/><rect x="1161.1" y="243.7" width="5.0" height="2.7" fill="#00c2ff"/><rect x="1165.9" y="243.7" width="2.7" height="2.7" fill="#49ff28"/><rect x="1168.2" y="243.7" width="16.8" height="2.7" fill="#ff0000"/><rect x="1184.8" y="243.7" width="2.7" height="2.7" fill="#ff7c00"/><rect x="1187.1" y="243.7" width="2.7" height="2.7" fill="#49ff28"/><rect x="1189.5" y="243.7" width="2.7" height="2.7" fill="#0465ff"/><rect x="1191.8" y="243.7" width="2.7" height="2.7" fill="#1519ff"/><rect x="1118.6" y="246.1" width="2.7" height="2.7" fill="#49ff28"/><rect x="1121.0" y="246.1" width="7.4" height="2.7" fill="#ff0000"/><rect x="1128.1" y="246.1" width="5.0" height="2.7" fill="#49ff28"/><rect x="1132.8" y="246.1" width="2.7" height="2.7" fill="#ebe600"/><rect x="1135.2" y="246.1" width="5.0" height="2.7" fill="#49ff28"/><rect x="1139.9" y="246.1" width="2.7" height="2.7" fill="#00c2ff"/><rect x="1142.2" y="246.1" width="5.0" height="2.7" fill="#0465ff"/><rect x="1147.0" y="246.1" width="2.7" height="2.7" fill="#00c2ff"/><rect x="1149.3" y="246.1" width="9.7" height="2.7" fill="#0465ff"/><rect x="1158.8" y="246.1" width="2.7" height="2.7" fill="#00c2ff"/><rect x="1161.1" y="246.1" width="5.0" height="2.7" fill="#49ff28"/><rect x="1165.9" y="246.1" width="19.2" height="2.7" fill="#ff0000"/><rect x="1184.8" y="246.1" width="2.7" height="2.7" fill="#ff7c00"/><rect x="1187.1" y="246.1" width="2.7" height="2.7" fill="#00f29d"/><rect x="1189.5" y="246.1" width="2.7" height="2.7" fill="#00c2ff"/><rect x="1191.8" y="246.1" width="2.7" height="2.7" fill="#1519ff"/><rect x="1121.0" y="248.4" width="5.0" height="2.7" fill="#ff7c00"/><rect x="1125.7" y="248.4" width="2.7" height="2.7" fill="#ebe600"/><rect x="1128.1" y="248.4" width="5.0" height="2.7" fill="#49ff28"/><rect x="1132.8" y="248.4" width="5.0" height="2.7" fill="#ff7c00"/><rect x="1137.5" y="248.4" width="2.7" height="2.7" fill="#ebe600"/><rect x="1139.9" y="248.4" width="2.7" height="2.7" fill="#00f29d"/><rect x="1142.2" y="248.4" width="5.0" height="2.7" fill="#0465ff"/><rect x="1147.0" y="248.4" width="2.7" height="2.7" fill="#1519ff"/><rect x="1149.3" y="248.4" width="2.7" height="2.7" fill="#5000eb"/><rect x="1151.7" y="248.4" width="2.7" height="2.7" fill="#1519ff"/><rect x="1154.1" y="248.4" width="2.7" height="2.7" fill="#0465ff"/><rect x="1156.4" y="248.4" width="2.7" height="2.7" fill="#00c2ff"/><rect x="1158.8" y="248.4" width="5.0" height="2.7" fill="#49ff28"/><rect x="1163.5" y="248.4" width="2.7" height="2.7" fill="#ff7c00"/><rect x="1165.9" y="248.4" width="19.2" height="2.7" fill="#ff0000"/><rect x="1184.8" y="248.4" width="2.7" height="2.7" fill="#ebe600"/><rect x="1187.1" y="248.4" width="2.7" height="2.7" fill="#00c2ff"/><rect x="1189.5" y="248.4" width="2.7" height="2.7" fill="#1519ff"/><rect x="1191.8" y="248.4" width="2.7" height="2.7" fill="#5000eb"/><rect x="1121.0" y="250.8" width="2.7" height="2.7" fill="#00c2ff"/><rect x="1123.3" y="250.8" width="2.7" height="2.7" fill="#00f29d"/><rect x="1125.7" y="250.8" width="5.0" height="2.7" fill="#0465ff"/><rect x="1130.4" y="250.8" width="2.7" height="2.7" fill="#49ff28"/><rect x="1132.8" y="250.8" width="2.7" height="2.7" fill="#ebe600"/><rect x="1135.2" y="250.8" width="2.7" height="2.7" fill="#49ff28"/><rect x="1137.5" y="250.8" width="2.7" height="2.7" fill="#00f29d"/><rect x="1139.9" y="250.8" width="2.7" height="2.7" fill="#00c2ff"/><rect x="1142.2" y="250.8" width="5.0" height="2.7" fill="#1519ff"/><rect x="1147.0" y="250.8" width="2.7" height="2.7" fill="#0465ff"/><rect x="1149.3" y="250.8" width="5.0" height="2.7" fill="#1519ff"/><rect x="1154.1" y="250.8" width="5.0" height="2.7" fill="#0465ff"/><rect x="1158.8" y="250.8" width="2.7" height="2.7" fill="#00c2ff"/><rect x="1161.1" y="250.8" width="2.7" height="2.7" fill="#49ff28"/><rect x="1163.5" y="250.8" width="2.7" height="2.7" fill="#ff7c00"/><rect x="1165.9" y="250.8" width="16.8" height="2.7" fill="#ff0000"/><rect x="1182.4" y="250.8" width="2.7" height="2.7" fill="#ff7c00"/><rect x="1184.8" y="250.8" width="2.7" height="2.7" fill="#49ff28"/><rect x="1187.1" y="250.8" width="2.7" height="2.7" fill="#00c2ff"/><rect x="1189.5" y="250.8" width="2.7" height="2.7" fill="#0465ff"/><rect x="1123.3" y="253.1" width="7.4" height="2.7" fill="#5000eb"/><rect x="1130.4" y="253.1" width="2.7" height="2.7" fill="#1519ff"/><rect x="1132.8" y="253.1" width="2.7" height="2.7" fill="#00c2ff"/><rect x="1135.2" y="253.1" width="5.0" height="2.7" fill="#0465ff"/><rect x="1139.9" y="253.1" width="5.0" height="2.7" fill="#5000eb"/><rect x="1144.6" y="253.1" width="2.7" height="2.7" fill="#1519ff"/><rect x="1147.0" y="253.1" width="5.0" height="2.7" fill="#0465ff"/><rect x="1161.1" y="253.1" width="2.7" height="2.7" fill="#00c2ff"/><rect x="1163.5" y="253.1" width="2.7" height="2.7" fill="#ebe600"/><rect x="1165.9" y="253.1" width="16.8" height="2.7" fill="#ff0000"/><rect x="1182.4" y="253.1" width="2.7" height="2.7" fill="#49ff28"/><rect x="1184.8" y="253.1" width="2.7" height="2.7" fill="#00c2ff"/><rect x="1187.1" y="253.1" width="2.7" height="2.7" fill="#0465ff"/><rect x="1189.5" y="253.1" width="2.7" height="2.7" fill="#5000eb"/><rect x="1125.7" y="255.5" width="2.7" height="2.7" fill="#5000eb"/><rect x="1128.1" y="255.5" width="2.7" height="2.7" fill="#1519ff"/><rect x="1130.4" y="255.5" width="2.7" height="2.7" fill="#5000eb"/><rect x="1132.8" y="255.5" width="2.7" height="2.7" fill="#1519ff"/><rect x="1135.2" y="255.5" width="2.7" height="2.7" fill="#5000eb"/><rect x="1137.5" y="255.5" width="2.7" height="2.7" fill="#1519ff"/><rect x="1139.9" y="255.5" width="7.4" height="2.7" fill="#5000eb"/><rect x="1165.9" y="255.5" width="2.7" height="2.7" fill="#ebe600"/><rect x="1168.2" y="255.5" width="9.7" height="2.7" fill="#ff0000"/><rect x="1177.7" y="255.5" width="2.7" height="2.7" fill="#ff7c00"/><rect x="1180.0" y="255.5" width="2.7" height="2.7" fill="#49ff28"/><rect x="1182.4" y="255.5" width="5.0" height="2.7" fill="#0465ff"/><rect x="1187.1" y="255.5" width="2.7" height="2.7" fill="#5000eb"/><rect x="1130.4" y="257.9" width="2.7" height="2.7" fill="#5000eb"/><rect x="1132.8" y="257.9" width="5.0" height="2.7" fill="#1519ff"/><rect x="1168.2" y="257.9" width="2.7" height="2.7" fill="#00c2ff"/><rect x="1170.6" y="257.9" width="2.7" height="2.7" fill="#00f29d"/><rect x="1172.9" y="257.9" width="2.7" height="2.7" fill="#00c2ff"/><rect x="1175.3" y="257.9" width="2.7" height="2.7" fill="#00f29d"/><rect x="1177.7" y="257.9" width="2.7" height="2.7" fill="#00c2ff"/><rect x="1180.0" y="257.9" width="2.7" height="2.7" fill="#1519ff"/><rect x="1184.8" y="257.9" width="2.7" height="2.7" fill="#5000eb"/><rect x="1130.4" y="260.2" width="2.7" height="2.7" fill="#5000eb"/><rect x="1170.6" y="260.2" width="2.7" height="2.7" fill="#1519ff"/><rect x="1172.9" y="260.2" width="5.0" height="2.7" fill="#5000eb"/><rect x="1177.7" y="260.2" width="2.7" height="2.7" fill="#1519ff"/><rect x="1175.3" y="262.6" width="2.7" height="2.7" fill="#5000eb"/></g>
<path d="M1297.7,252.6C1296.0,246.4 1297.2,231.1 1299.9,221.4C1302.6,211.7 1308.9,202.3 1313.7,194.4C1318.6,186.6 1324.1,178.7 1328.9,174.2C1333.7,169.7 1337.1,168.0 1342.4,167.5C1347.7,166.9 1355.0,168.6 1360.9,170.8C1366.8,173.1 1373.3,177.6 1377.8,180.9C1382.3,184.3 1386.2,186.6 1387.9,191.1C1389.6,195.6 1390.2,202.9 1387.9,207.9C1385.7,213.0 1377.2,216.9 1374.4,221.4C1371.6,225.9 1370.5,230.4 1371.1,234.9C1371.6,239.4 1376.1,244.5 1377.8,248.4C1379.5,252.3 1382.3,255.7 1381.2,258.5C1380.1,261.3 1375.0,263.6 1371.1,265.3C1367.1,266.9 1363.2,267.8 1357.6,268.6C1352.0,269.5 1343.0,270.6 1337.3,270.3C1331.7,270.0 1328.3,268.9 1323.8,266.9C1319.3,265.0 1314.7,260.9 1310.4,258.5C1306.0,256.1 1299.4,258.8 1297.7,252.6Z" fill="#2e2e2e" opacity="0.6" filter="url(#b4)" transform="translate(2,2)"/>
<g filter="url(#nz2)"><g filter="url(#b1)">
<path d="M1374.4,221.4C1375.6,215.8 1382.3,206.8 1384.6,201.2C1386.8,195.6 1384.0,190.5 1387.9,187.7C1391.9,184.9 1402.0,183.2 1408.2,184.3C1414.3,185.4 1421.4,189.9 1425.0,194.4C1428.7,198.9 1429.5,205.1 1430.1,211.3C1430.6,217.5 1430.4,225.9 1428.4,231.5C1426.4,237.2 1422.2,241.9 1418.3,245.0C1414.3,248.1 1409.8,250.4 1404.8,250.1C1399.7,249.8 1392.4,245.9 1387.9,243.3C1383.4,240.8 1380.1,238.6 1377.8,234.9C1375.6,231.3 1373.3,227.0 1374.4,221.4Z" fill="#a8a8a8"/>
</g></g>
<g filter="url(#nz2)"><g filter="url(#b1)">
<path d="M1297.7,252.6C1296.0,246.4 1297.2,231.1 1299.9,221.4C1302.6,211.7 1308.9,202.3 1313.7,194.4C1318.6,186.6 1324.1,178.7 1328.9,174.2C1333.7,169.7 1337.1,168.0 1342.4,167.5C1347.7,166.9 1355.0,168.6 1360.9,170.8C1366.8,173.1 1373.3,177.6 1377.8,180.9C1382.3,184.3 1386.2,186.6 1387.9,191.1C1389.6,195.6 1390.2,202.9 1387.9,207.9C1385.7,213.0 1377.2,216.9 1374.4,221.4C1371.6,225.9 1370.5,230.4 1371.1,234.9C1371.6,239.4 1376.1,244.5 1377.8,248.4C1379.5,252.3 1382.3,255.7 1381.2,258.5C1380.1,261.3 1375.0,263.6 1371.1,265.3C1367.1,266.9 1363.2,267.8 1357.6,268.6C1352.0,269.5 1343.0,270.6 1337.3,270.3C1331.7,270.0 1328.3,268.9 1323.8,266.9C1319.3,265.0 1314.7,260.9 1310.4,258.5C1306.0,256.1 1299.4,258.8 1297.7,252.6Z" fill="#b6b6b6"/>
<path d="M1366.8,159.0C1367.4,155.9 1372.6,150.3 1377.8,148.9C1383.0,147.5 1392.4,151.4 1398.0,150.6C1403.7,149.7 1406.5,144.7 1411.5,143.8C1416.6,143.0 1423.8,143.8 1428.4,145.5C1433.0,147.2 1437.7,150.3 1439.4,154.0C1441.0,157.6 1439.8,163.2 1438.5,167.5C1437.3,171.7 1434.0,176.4 1431.8,179.3C1429.5,182.1 1428.4,183.5 1425.0,184.3C1421.7,185.2 1416.0,184.6 1411.5,184.3C1407.0,184.0 1402.0,183.5 1398.0,182.6C1394.1,181.8 1391.9,181.8 1387.9,179.3C1384.0,176.7 1377.9,170.8 1374.4,167.5C1370.9,164.1 1366.3,162.1 1366.8,159.0Z" fill="#b6b6b6"/>
</g></g>
<path d="M1320.5,201.2C1323.3,191.9 1329.2,183.5 1335.6,179.3C1342.1,175.0 1352.8,174.5 1359.3,175.9C1365.7,177.3 1374.4,182.3 1374.4,187.7C1374.4,193.0 1365.7,201.2 1359.3,207.9C1352.8,214.7 1342.4,223.7 1335.6,228.2C1328.9,232.7 1321.3,239.4 1318.8,234.9C1316.3,230.4 1317.7,210.5 1320.5,201.2Z" fill="#cfcfcf" opacity="0.6" filter="url(#b2)"/>
<path d="M1374.4,223.1C1374.4,219.7 1378.9,212.7 1381.2,207.9C1383.4,203.1 1386.2,194.4 1387.9,194.4C1389.6,194.4 1392.4,202.3 1391.3,207.9C1390.2,213.5 1384.0,225.6 1381.2,228.2C1378.4,230.7 1374.4,226.5 1374.4,223.1Z" fill="#777" opacity="0.6" filter="url(#b2)"/>
<g fill="#fff" opacity="0.85"><circle cx="1380.7" cy="208.3" r="1.1"/><circle cx="1316.1" cy="215.6" r="0.7"/><circle cx="1370.1" cy="183.1" r="1.0"/><circle cx="1350.8" cy="237.7" r="0.8"/><circle cx="1342.3" cy="229.2" r="1.1"/><circle cx="1337.7" cy="242.7" r="1.1"/><circle cx="1323.3" cy="215.7" r="0.9"/><circle cx="1320.0" cy="207.3" r="0.8"/><circle cx="1347.5" cy="241.9" r="0.7"/><circle cx="1326.8" cy="209.2" r="0.9"/><circle cx="1380.4" cy="213.7" r="0.7"/><circle cx="1379.7" cy="206.9" r="0.9"/><circle cx="1345.7" cy="186.3" r="0.9"/><circle cx="1367.8" cy="184.3" r="0.8"/><circle cx="1337.1" cy="182.8" r="0.6"/><circle cx="1338.7" cy="225.5" r="0.5"/><circle cx="1378.6" cy="210.3" r="1.0"/><circle cx="1330.7" cy="198.2" r="0.7"/><circle cx="1382.9" cy="202.2" r="0.8"/><circle cx="1339.6" cy="193.1" r="1.0"/><circle cx="1318.1" cy="199.4" r="1.0"/><circle cx="1378.8" cy="187.5" r="0.5"/><circle cx="1369.1" cy="216.6" r="0.6"/><circle cx="1347.9" cy="175.4" r="0.9"/><circle cx="1349.5" cy="222.8" r="0.6"/><circle cx="1358.4" cy="197.8" r="0.8"/><circle cx="1335.2" cy="217.6" r="0.8"/><circle cx="1356.3" cy="174.8" r="0.6"/><circle cx="1315.4" cy="198.7" r="0.8"/><circle cx="1318.4" cy="220.1" r="0.8"/></g>
<g shape-rendering="crispEdges"><rect x="1411.5" y="144.5" width="2.7" height="2.7" fill="#1519ff"/><rect x="1413.9" y="144.5" width="2.7" height="2.7" fill="#00c2ff"/><rect x="1416.3" y="144.5" width="5.0" height="2.7" fill="#5000eb"/><rect x="1409.2" y="146.9" width="2.7" height="2.7" fill="#5000eb"/><rect x="1411.5" y="146.9" width="5.0" height="2.7" fill="#0465ff"/><rect x="1416.3" y="146.9" width="2.7" height="2.7" fill="#1519ff"/><rect x="1418.6" y="146.9" width="2.7" height="2.7" fill="#5000eb"/><rect x="1376.1" y="149.2" width="2.7" height="2.7" fill="#5000eb"/><rect x="1378.5" y="149.2" width="2.7" height="2.7" fill="#1519ff"/><rect x="1380.8" y="149.2" width="2.7" height="2.7" fill="#00c2ff"/><rect x="1383.2" y="149.2" width="5.0" height="2.7" fill="#0465ff"/><rect x="1387.9" y="149.2" width="2.7" height="2.7" fill="#5000eb"/><rect x="1411.5" y="149.2" width="2.7" height="2.7" fill="#5000eb"/><rect x="1378.5" y="151.6" width="5.0" height="2.7" fill="#1519ff"/><rect x="1383.2" y="151.6" width="5.0" height="2.7" fill="#0465ff"/><rect x="1387.9" y="151.6" width="2.7" height="2.7" fill="#1519ff"/><rect x="1413.9" y="151.6" width="2.7" height="2.7" fill="#5000eb"/><rect x="1383.2" y="153.9" width="7.4" height="2.7" fill="#1519ff"/><rect x="1390.3" y="153.9" width="2.7" height="2.7" fill="#5000eb"/><rect x="1425.7" y="153.9" width="5.0" height="2.7" fill="#5000eb"/><rect x="1432.8" y="153.9" width="2.7" height="2.7" fill="#5000eb"/><rect x="1406.8" y="156.3" width="2.7" height="2.7" fill="#5000eb"/><rect x="1409.2" y="156.3" width="7.4" height="2.7" fill="#1519ff"/><rect x="1425.7" y="156.3" width="5.0" height="2.7" fill="#5000eb"/><rect x="1402.1" y="158.7" width="2.7" height="2.7" fill="#1519ff"/><rect x="1404.5" y="158.7" width="5.0" height="2.7" fill="#0465ff"/><rect x="1409.2" y="158.7" width="2.7" height="2.7" fill="#00c2ff"/><rect x="1411.5" y="158.7" width="5.0" height="2.7" fill="#1519ff"/><rect x="1416.3" y="158.7" width="2.7" height="2.7" fill="#5000eb"/><rect x="1425.7" y="158.7" width="2.7" height="2.7" fill="#5000eb"/><rect x="1399.7" y="161.0" width="2.7" height="2.7" fill="#5000eb"/><rect x="1402.1" y="161.0" width="2.7" height="2.7" fill="#0465ff"/><rect x="1404.5" y="161.0" width="5.0" height="2.7" fill="#00c2ff"/><rect x="1409.2" y="161.0" width="2.7" height="2.7" fill="#00f29d"/><rect x="1411.5" y="161.0" width="2.7" height="2.7" fill="#0465ff"/><rect x="1413.9" y="161.0" width="2.7" height="2.7" fill="#1519ff"/><rect x="1416.3" y="161.0" width="2.7" height="2.7" fill="#5000eb"/><rect x="1390.3" y="163.4" width="2.7" height="2.7" fill="#5000eb"/><rect x="1397.4" y="163.4" width="5.0" height="2.7" fill="#5000eb"/><rect x="1402.1" y="163.4" width="7.4" height="2.7" fill="#0465ff"/><rect x="1409.2" y="163.4" width="5.0" height="2.7" fill="#1519ff"/><rect x="1413.9" y="163.4" width="5.0" height="2.7" fill="#5000eb"/><rect x="1392.7" y="165.8" width="2.7" height="2.7" fill="#5000eb"/><rect x="1397.4" y="165.8" width="7.4" height="2.7" fill="#5000eb"/><rect x="1390.3" y="168.1" width="2.7" height="2.7" fill="#5000eb"/><rect x="1423.4" y="168.1" width="2.7" height="2.7" fill="#5000eb"/><rect x="1352.5" y="170.5" width="5.0" height="2.7" fill="#5000eb"/><rect x="1421.0" y="170.5" width="2.7" height="2.7" fill="#5000eb"/><rect x="1423.4" y="170.5" width="2.7" height="2.7" fill="#1519ff"/><rect x="1425.7" y="170.5" width="2.7" height="2.7" fill="#5000eb"/><rect x="1350.1" y="172.8" width="2.7" height="2.7" fill="#5000eb"/><rect x="1352.5" y="172.8" width="7.4" height="2.7" fill="#1519ff"/><rect x="1361.9" y="172.8" width="2.7" height="2.7" fill="#5000eb"/><rect x="1385.6" y="172.8" width="2.7" height="2.7" fill="#1519ff"/><rect x="1387.9" y="172.8" width="2.7" height="2.7" fill="#5000eb"/><rect x="1421.0" y="172.8" width="2.7" height="2.7" fill="#5000eb"/><rect x="1423.4" y="172.8" width="5.0" height="2.7" fill="#0465ff"/><rect x="1428.1" y="172.8" width="2.7" height="2.7" fill="#5000eb"/><rect x="1345.4" y="175.2" width="2.7" height="2.7" fill="#5000eb"/><rect x="1350.1" y="175.2" width="5.0" height="2.7" fill="#1519ff"/><rect x="1354.9" y="175.2" width="7.4" height="2.7" fill="#0465ff"/><rect x="1361.9" y="175.2" width="2.7" height="2.7" fill="#1519ff"/><rect x="1364.3" y="175.2" width="2.7" height="2.7" fill="#5000eb"/><rect x="1385.6" y="175.2" width="2.7" height="2.7" fill="#1519ff"/><rect x="1387.9" y="175.2" width="2.7" height="2.7" fill="#0465ff"/><rect x="1390.3" y="175.2" width="2.7" height="2.7" fill="#5000eb"/><rect x="1421.0" y="175.2" width="5.0" height="2.7" fill="#1519ff"/><rect x="1425.7" y="175.2" width="2.7" height="2.7" fill="#00c2ff"/><rect x="1428.1" y="175.2" width="2.7" height="2.7" fill="#5000eb"/><rect x="1350.1" y="177.6" width="5.0" height="2.7" fill="#1519ff"/><rect x="1354.9" y="177.6" width="7.4" height="2.7" fill="#00c2ff"/><rect x="1361.9" y="177.6" width="2.7" height="2.7" fill="#0465ff"/><rect x="1364.3" y="177.6" width="2.7" height="2.7" fill="#00c2ff"/><rect x="1366.7" y="177.6" width="2.7" height="2.7" fill="#1519ff"/><rect x="1387.9" y="177.6" width="2.7" height="2.7" fill="#1519ff"/><rect x="1421.0" y="177.6" width="2.7" height="2.7" fill="#5000eb"/><rect x="1423.4" y="177.6" width="5.0" height="2.7" fill="#1519ff"/><rect x="1428.1" y="177.6" width="2.7" height="2.7" fill="#5000eb"/><rect x="1352.5" y="179.9" width="2.7" height="2.7" fill="#0465ff"/><rect x="1354.9" y="179.9" width="5.0" height="2.7" fill="#00c2ff"/><rect x="1359.6" y="179.9" width="2.7" height="2.7" fill="#49ff28"/><rect x="1361.9" y="179.9" width="2.7" height="2.7" fill="#00f29d"/><rect x="1364.3" y="179.9" width="2.7" height="2.7" fill="#00c2ff"/><rect x="1366.7" y="179.9" width="2.7" height="2.7" fill="#00f29d"/><rect x="1369.0" y="179.9" width="2.7" height="2.7" fill="#0465ff"/><rect x="1371.4" y="179.9" width="7.4" height="2.7" fill="#5000eb"/><rect x="1421.0" y="179.9" width="2.7" height="2.7" fill="#5000eb"/><rect x="1326.5" y="182.3" width="5.0" height="2.7" fill="#5000eb"/><rect x="1354.9" y="182.3" width="2.7" height="2.7" fill="#5000eb"/><rect x="1357.2" y="182.3" width="2.7" height="2.7" fill="#1519ff"/><rect x="1359.6" y="182.3" width="2.7" height="2.7" fill="#00c2ff"/><rect x="1361.9" y="182.3" width="5.0" height="2.7" fill="#00f29d"/><rect x="1366.7" y="182.3" width="7.4" height="2.7" fill="#49ff28"/><rect x="1373.8" y="182.3" width="2.7" height="2.7" fill="#0465ff"/><rect x="1376.1" y="182.3" width="2.7" height="2.7" fill="#1519ff"/><rect x="1321.8" y="184.6" width="2.7" height="2.7" fill="#5000eb"/><rect x="1354.9" y="184.6" width="5.0" height="2.7" fill="#5000eb"/><rect x="1359.6" y="184.6" width="5.0" height="2.7" fill="#0465ff"/><rect x="1364.3" y="184.6" width="2.7" height="2.7" fill="#00c2ff"/><rect x="1366.7" y="184.6" width="2.7" height="2.7" fill="#49ff28"/><rect x="1369.0" y="184.6" width="5.0" height="2.7" fill="#ebe600"/><rect x="1373.8" y="184.6" width="2.7" height="2.7" fill="#00c2ff"/><rect x="1376.1" y="184.6" width="5.0" height="2.7" fill="#5000eb"/><rect x="1326.5" y="187.0" width="7.4" height="2.7" fill="#5000eb"/><rect x="1340.7" y="187.0" width="2.7" height="2.7" fill="#5000eb"/><rect x="1359.6" y="187.0" width="5.0" height="2.7" fill="#5000eb"/><rect x="1364.3" y="187.0" width="2.7" height="2.7" fill="#1519ff"/><rect x="1366.7" y="187.0" width="2.7" height="2.7" fill="#0465ff"/><rect x="1369.0" y="187.0" width="5.0" height="2.7" fill="#00f29d"/><rect x="1373.8" y="187.0" width="5.0" height="2.7" fill="#1519ff"/><rect x="1328.9" y="189.4" width="5.0" height="2.7" fill="#5000eb"/><rect x="1352.5" y="189.4" width="7.4" height="2.7" fill="#5000eb"/><rect x="1366.7" y="189.4" width="5.0" height="2.7" fill="#5000eb"/><rect x="1331.2" y="191.7" width="5.0" height="2.7" fill="#5000eb"/><rect x="1354.9" y="191.7" width="7.4" height="2.7" fill="#5000eb"/><rect x="1328.9" y="194.1" width="7.4" height="2.7" fill="#5000eb"/><rect x="1352.5" y="194.1" width="7.4" height="2.7" fill="#5000eb"/><rect x="1359.6" y="194.1" width="2.7" height="2.7" fill="#1519ff"/><rect x="1331.2" y="196.5" width="2.7" height="2.7" fill="#5000eb"/><rect x="1350.1" y="196.5" width="5.0" height="2.7" fill="#5000eb"/><rect x="1354.9" y="196.5" width="5.0" height="2.7" fill="#1519ff"/><rect x="1359.6" y="196.5" width="5.0" height="2.7" fill="#5000eb"/><rect x="1333.6" y="198.8" width="2.7" height="2.7" fill="#5000eb"/><rect x="1345.4" y="198.8" width="5.0" height="2.7" fill="#5000eb"/><rect x="1350.1" y="198.8" width="2.7" height="2.7" fill="#0465ff"/><rect x="1352.5" y="198.8" width="2.7" height="2.7" fill="#00c2ff"/><rect x="1354.9" y="198.8" width="5.0" height="2.7" fill="#0465ff"/><rect x="1310.0" y="201.2" width="5.0" height="2.7" fill="#5000eb"/><rect x="1343.1" y="201.2" width="5.0" height="2.7" fill="#5000eb"/><rect x="1347.8" y="201.2" width="2.7" height="2.7" fill="#1519ff"/><rect x="1350.1" y="201.2" width="2.7" height="2.7" fill="#00c2ff"/><rect x="1352.5" y="201.2" width="2.7" height="2.7" fill="#49ff28"/><rect x="1354.9" y="201.2" width="2.7" height="2.7" fill="#00c2ff"/><rect x="1357.2" y="201.2" width="2.7" height="2.7" fill="#0465ff"/><rect x="1345.4" y="203.5" width="2.7" height="2.7" fill="#5000eb"/><rect x="1347.8" y="203.5" width="2.7" height="2.7" fill="#0465ff"/><rect x="1350.1" y="203.5" width="7.4" height="2.7" fill="#00f29d"/><rect x="1357.2" y="203.5" width="2.7" height="2.7" fill="#5000eb"/><rect x="1347.8" y="205.9" width="2.7" height="2.7" fill="#1519ff"/><rect x="1350.1" y="205.9" width="5.0" height="2.7" fill="#00c2ff"/><rect x="1354.9" y="205.9" width="2.7" height="2.7" fill="#0465ff"/><rect x="1357.2" y="205.9" width="2.7" height="2.7" fill="#5000eb"/><rect x="1347.8" y="208.3" width="7.4" height="2.7" fill="#0465ff"/><rect x="1354.9" y="208.3" width="5.0" height="2.7" fill="#5000eb"/><rect x="1336.0" y="210.6" width="2.7" height="2.7" fill="#5000eb"/><rect x="1347.8" y="210.6" width="9.7" height="2.7" fill="#1519ff"/><rect x="1324.2" y="213.0" width="5.0" height="2.7" fill="#5000eb"/><rect x="1336.0" y="213.0" width="7.4" height="2.7" fill="#5000eb"/><rect x="1347.8" y="213.0" width="2.7" height="2.7" fill="#5000eb"/><rect x="1350.1" y="213.0" width="2.7" height="2.7" fill="#1519ff"/><rect x="1352.5" y="213.0" width="5.0" height="2.7" fill="#5000eb"/><rect x="1326.5" y="215.4" width="2.7" height="2.7" fill="#5000eb"/><rect x="1328.9" y="215.4" width="2.7" height="2.7" fill="#1519ff"/><rect x="1331.2" y="215.4" width="2.7" height="2.7" fill="#5000eb"/><rect x="1333.6" y="215.4" width="7.4" height="2.7" fill="#1519ff"/><rect x="1324.2" y="217.7" width="2.7" height="2.7" fill="#5000eb"/><rect x="1326.5" y="217.7" width="7.4" height="2.7" fill="#1519ff"/><rect x="1333.6" y="217.7" width="2.7" height="2.7" fill="#0465ff"/><rect x="1336.0" y="217.7" width="2.7" height="2.7" fill="#1519ff"/><rect x="1338.3" y="217.7" width="2.7" height="2.7" fill="#5000eb"/><rect x="1307.6" y="220.1" width="2.7" height="2.7" fill="#5000eb"/><rect x="1324.2" y="220.1" width="5.0" height="2.7" fill="#1519ff"/><rect x="1328.9" y="220.1" width="2.7" height="2.7" fill="#0465ff"/><rect x="1331.2" y="220.1" width="2.7" height="2.7" fill="#00c2ff"/><rect x="1333.6" y="220.1" width="2.7" height="2.7" fill="#0465ff"/><rect x="1336.0" y="220.1" width="2.7" height="2.7" fill="#1519ff"/><rect x="1319.4" y="222.4" width="5.0" height="2.7" fill="#5000eb"/><rect x="1324.2" y="222.4" width="5.0" height="2.7" fill="#1519ff"/><rect x="1328.9" y="222.4" width="5.0" height="2.7" fill="#00c2ff"/><rect x="1333.6" y="222.4" width="2.7" height="2.7" fill="#0465ff"/><rect x="1336.0" y="222.4" width="2.7" height="2.7" fill="#5000eb"/><rect x="1307.6" y="224.8" width="2.7" height="2.7" fill="#5000eb"/><rect x="1319.4" y="224.8" width="2.7" height="2.7" fill="#1519ff"/><rect x="1321.8" y="224.8" width="2.7" height="2.7" fill="#5000eb"/><rect x="1324.2" y="224.8" width="2.7" height="2.7" fill="#1519ff"/><rect x="1326.5" y="224.8" width="2.7" height="2.7" fill="#5000eb"/><rect x="1328.9" y="224.8" width="5.0" height="2.7" fill="#0465ff"/><rect x="1333.6" y="224.8" width="2.7" height="2.7" fill="#1519ff"/><rect x="1413.9" y="224.8" width="2.7" height="2.7" fill="#5000eb"/><rect x="1416.3" y="227.2" width="2.7" height="2.7" fill="#5000eb"/><rect x="1298.2" y="234.2" width="2.7" height="2.7" fill="#5000eb"/><rect x="1300.5" y="234.2" width="2.7" height="2.7" fill="#1519ff"/><rect x="1302.9" y="234.2" width="2.7" height="2.7" fill="#5000eb"/><rect x="1298.2" y="236.6" width="2.7" height="2.7" fill="#5000eb"/><rect x="1300.5" y="236.6" width="2.7" height="2.7" fill="#0465ff"/><rect x="1302.9" y="236.6" width="2.7" height="2.7" fill="#1519ff"/><rect x="1390.3" y="236.6" width="2.7" height="2.7" fill="#5000eb"/><rect x="1298.2" y="239.0" width="2.7" height="2.7" fill="#1519ff"/><rect x="1300.5" y="239.0" width="2.7" height="2.7" fill="#0465ff"/><rect x="1302.9" y="239.0" width="2.7" height="2.7" fill="#1519ff"/><rect x="1298.2" y="241.3" width="2.7" height="2.7" fill="#1519ff"/><rect x="1300.5" y="241.3" width="5.0" height="2.7" fill="#0465ff"/><rect x="1305.3" y="241.3" width="2.7" height="2.7" fill="#1519ff"/><rect x="1307.6" y="241.3" width="2.7" height="2.7" fill="#5000eb"/><rect x="1298.2" y="243.7" width="2.7" height="2.7" fill="#0465ff"/><rect x="1300.5" y="243.7" width="5.0" height="2.7" fill="#ebe600"/><rect x="1305.3" y="243.7" width="2.7" height="2.7" fill="#00c2ff"/><rect x="1307.6" y="243.7" width="2.7" height="2.7" fill="#5000eb"/><rect x="1395.0" y="243.7" width="2.7" height="2.7" fill="#5000eb"/><rect x="1298.2" y="246.1" width="2.7" height="2.7" fill="#00f29d"/><rect x="1300.5" y="246.1" width="7.4" height="2.7" fill="#ff0000"/><rect x="1307.6" y="246.1" width="2.7" height="2.7" fill="#0465ff"/><rect x="1298.2" y="248.4" width="2.7" height="2.7" fill="#49ff28"/><rect x="1300.5" y="248.4" width="7.4" height="2.7" fill="#ff0000"/><rect x="1307.6" y="248.4" width="2.7" height="2.7" fill="#1519ff"/><rect x="1331.2" y="248.4" width="2.7" height="2.7" fill="#5000eb"/><rect x="1298.2" y="250.8" width="2.7" height="2.7" fill="#00c2ff"/><rect x="1300.5" y="250.8" width="5.0" height="2.7" fill="#ff0000"/><rect x="1305.3" y="250.8" width="2.7" height="2.7" fill="#ff7c00"/><rect x="1307.6" y="250.8" width="2.7" height="2.7" fill="#1519ff"/><rect x="1366.7" y="250.8" width="2.7" height="2.7" fill="#5000eb"/><rect x="1300.5" y="253.1" width="5.0" height="2.7" fill="#0465ff"/><rect x="1305.3" y="253.1" width="2.7" height="2.7" fill="#1519ff"/><rect x="1307.6" y="253.1" width="2.7" height="2.7" fill="#5000eb"/><rect x="1366.7" y="253.1" width="5.0" height="2.7" fill="#5000eb"/><rect x="1354.9" y="255.5" width="2.7" height="2.7" fill="#5000eb"/><rect x="1366.7" y="255.5" width="2.7" height="2.7" fill="#1519ff"/><rect x="1369.0" y="255.5" width="5.0" height="2.7" fill="#5000eb"/><rect x="1354.9" y="257.9" width="2.7" height="2.7" fill="#5000eb"/><rect x="1364.3" y="257.9" width="2.7" height="2.7" fill="#5000eb"/><rect x="1366.7" y="257.9" width="2.7" height="2.7" fill="#0465ff"/><rect x="1369.0" y="257.9" width="2.7" height="2.7" fill="#1519ff"/><rect x="1371.4" y="257.9" width="2.7" height="2.7" fill="#5000eb"/><rect x="1373.8" y="257.9" width="2.7" height="2.7" fill="#1519ff"/><rect x="1376.1" y="257.9" width="5.0" height="2.7" fill="#5000eb"/><rect x="1364.3" y="260.2" width="2.7" height="2.7" fill="#1519ff"/><rect x="1366.7" y="260.2" width="2.7" height="2.7" fill="#0465ff"/><rect x="1369.0" y="260.2" width="5.0" height="2.7" fill="#1519ff"/><rect x="1373.8" y="260.2" width="2.7" height="2.7" fill="#5000eb"/><rect x="1366.7" y="262.6" width="7.4" height="2.7" fill="#5000eb"/><rect x="1364.3" y="265.0" width="2.7" height="2.7" fill="#5000eb"/></g>
<g stroke="#2b2b2b" stroke-width="3" fill="none" filter="url(#b1)"><path d="M1493.7,106.7V277H1659"/><path d="M1618.5,106.7V154H1659" opacity="0.55"/></g>
<path d="M1479.3,248.4C1478.8,244.7 1480.0,237.2 1481.9,231.5C1483.7,225.9 1486.9,218.9 1490.3,214.7C1493.7,210.5 1497.9,208.5 1502.1,206.2C1506.3,204.0 1512.2,204.3 1515.6,201.2C1519.0,198.1 1521.5,192.2 1522.3,187.7C1523.2,183.2 1519.5,178.7 1520.6,174.2C1521.8,169.7 1525.7,164.1 1529.1,160.7C1532.5,157.3 1535.8,155.1 1540.9,154.0C1545.9,152.8 1554.7,153.4 1559.4,154.0C1564.2,154.5 1565.1,156.8 1569.6,157.3C1574.1,157.9 1581.4,157.6 1586.4,157.3C1591.5,157.1 1595.4,155.4 1599.9,155.6C1604.4,155.9 1608.9,157.1 1613.4,159.0C1617.9,161.0 1623.0,164.6 1626.9,167.5C1630.8,170.3 1634.8,172.5 1637.0,175.9C1639.3,179.3 1639.5,182.3 1640.4,187.7C1641.2,193.0 1642.6,201.2 1642.1,207.9C1641.5,214.7 1639.5,222.5 1637.0,228.2C1634.5,233.8 1630.8,237.7 1626.9,241.7C1623.0,245.6 1617.9,248.1 1613.4,251.8C1608.9,255.4 1603.8,261.9 1599.9,263.6C1596.0,265.3 1594.3,263.0 1589.8,261.9C1585.3,260.8 1578.0,258.5 1572.9,256.8C1567.9,255.1 1563.9,252.9 1559.4,251.8C1554.9,250.6 1549.3,249.0 1545.9,250.1C1542.6,251.2 1542.0,256.8 1539.2,258.5C1536.4,260.2 1533.0,260.8 1529.1,260.2C1525.1,259.6 1520.6,256.0 1515.6,255.1C1510.5,254.3 1503.8,255.4 1498.7,255.1C1493.7,254.9 1488.5,254.6 1485.2,253.5C1482.0,252.3 1479.9,252.1 1479.3,248.4Z" fill="#2e2e2e" opacity="0.6" filter="url(#b4)" transform="translate(2,2)"/>
<g filter="url(#nz2)"><g filter="url(#b1)">
<path d="M1479.3,248.4C1478.8,244.7 1480.0,237.2 1481.9,231.5C1483.7,225.9 1486.9,218.9 1490.3,214.7C1493.7,210.5 1497.9,208.5 1502.1,206.2C1506.3,204.0 1512.2,204.3 1515.6,201.2C1519.0,198.1 1521.5,192.2 1522.3,187.7C1523.2,183.2 1519.5,178.7 1520.6,174.2C1521.8,169.7 1525.7,164.1 1529.1,160.7C1532.5,157.3 1535.8,155.1 1540.9,154.0C1545.9,152.8 1554.7,153.4 1559.4,154.0C1564.2,154.5 1565.1,156.8 1569.6,157.3C1574.1,157.9 1581.4,157.6 1586.4,157.3C1591.5,157.1 1595.4,155.4 1599.9,155.6C1604.4,155.9 1608.9,157.1 1613.4,159.0C1617.9,161.0 1623.0,164.6 1626.9,167.5C1630.8,170.3 1634.8,172.5 1637.0,175.9C1639.3,179.3 1639.5,182.3 1640.4,187.7C1641.2,193.0 1642.6,201.2 1642.1,207.9C1641.5,214.7 1639.5,222.5 1637.0,228.2C1634.5,233.8 1630.8,237.7 1626.9,241.7C1623.0,245.6 1617.9,248.1 1613.4,251.8C1608.9,255.4 1603.8,261.9 1599.9,263.6C1596.0,265.3 1594.3,263.0 1589.8,261.9C1585.3,260.8 1578.0,258.5 1572.9,256.8C1567.9,255.1 1563.9,252.9 1559.4,251.8C1554.9,250.6 1549.3,249.0 1545.9,250.1C1542.6,251.2 1542.0,256.8 1539.2,258.5C1536.4,260.2 1533.0,260.8 1529.1,260.2C1525.1,259.6 1520.6,256.0 1515.6,255.1C1510.5,254.3 1503.8,255.4 1498.7,255.1C1493.7,254.9 1488.5,254.6 1485.2,253.5C1482.0,252.3 1479.9,252.1 1479.3,248.4Z" fill="#b2b2b2"/>
</g></g>
<path d="M1498.7,245.0C1497.6,241.7 1503.8,233.2 1508.8,231.5C1513.9,229.8 1522.9,232.7 1529.1,234.9C1535.3,237.2 1544.8,241.7 1545.9,245.0C1547.1,248.4 1540.9,254.0 1535.8,255.1C1530.8,256.3 1521.8,253.5 1515.6,251.8C1509.4,250.1 1499.9,248.4 1498.7,245.0Z" fill="#8e8e8e" opacity="0.7" filter="url(#b2)"/>
<g fill="#fff" opacity="0.85"><circle cx="1593.8" cy="197.6" r="0.7"/><circle cx="1603.3" cy="229.1" r="0.7"/><circle cx="1608.0" cy="176.7" r="0.5"/><circle cx="1618.5" cy="169.6" r="0.6"/><circle cx="1625.0" cy="206.1" r="0.9"/><circle cx="1552.2" cy="182.7" r="0.8"/><circle cx="1615.9" cy="216.3" r="0.6"/><circle cx="1626.6" cy="178.3" r="0.8"/><circle cx="1598.7" cy="195.3" r="0.8"/><circle cx="1628.7" cy="208.1" r="0.8"/><circle cx="1637.0" cy="191.2" r="1.0"/><circle cx="1576.2" cy="194.6" r="1.0"/><circle cx="1546.5" cy="247.3" r="1.0"/><circle cx="1629.5" cy="170.7" r="0.6"/><circle cx="1617.5" cy="206.5" r="0.5"/><circle cx="1609.3" cy="241.0" r="1.1"/><circle cx="1555.1" cy="188.9" r="1.0"/><circle cx="1549.2" cy="191.1" r="0.8"/><circle cx="1581.8" cy="216.6" r="1.0"/><circle cx="1603.1" cy="227.1" r="0.9"/><circle cx="1561.1" cy="207.7" r="1.1"/><circle cx="1593.4" cy="247.5" r="0.9"/><circle cx="1579.8" cy="215.0" r="0.6"/><circle cx="1597.3" cy="194.8" r="1.0"/><circle cx="1623.5" cy="170.6" r="0.9"/><circle cx="1589.2" cy="210.2" r="0.8"/><circle cx="1638.7" cy="190.0" r="1.1"/><circle cx="1560.8" cy="173.1" r="0.9"/><circle cx="1621.6" cy="184.0" r="1.1"/><circle cx="1580.0" cy="182.7" r="0.7"/><circle cx="1551.3" cy="238.3" r="0.7"/><circle cx="1609.3" cy="208.8" r="0.6"/><circle cx="1598.7" cy="256.9" r="0.6"/><circle cx="1636.3" cy="176.2" r="0.8"/><circle cx="1595.0" cy="247.8" r="0.9"/><circle cx="1584.9" cy="189.7" r="1.0"/><circle cx="1620.7" cy="169.0" r="0.6"/><circle cx="1595.5" cy="172.5" r="0.9"/><circle cx="1634.7" cy="198.6" r="0.9"/><circle cx="1560.2" cy="240.7" r="1.0"/></g>
<g shape-rendering="crispEdges"><rect x="1567.1" y="156.3" width="2.7" height="2.7" fill="#0465ff"/><rect x="1569.4" y="156.3" width="2.7" height="2.7" fill="#49ff28"/><rect x="1571.8" y="156.3" width="2.7" height="2.7" fill="#ebe600"/><rect x="1574.2" y="156.3" width="2.7" height="2.7" fill="#00f29d"/><rect x="1576.5" y="156.3" width="2.7" height="2.7" fill="#1519ff"/><rect x="1564.7" y="158.7" width="2.7" height="2.7" fill="#5000eb"/><rect x="1567.1" y="158.7" width="2.7" height="2.7" fill="#00c2ff"/><rect x="1569.4" y="158.7" width="2.7" height="2.7" fill="#ff7c00"/><rect x="1571.8" y="158.7" width="2.7" height="2.7" fill="#ff0000"/><rect x="1574.2" y="158.7" width="2.7" height="2.7" fill="#49ff28"/><rect x="1576.5" y="158.7" width="2.7" height="2.7" fill="#0465ff"/><rect x="1564.7" y="161.0" width="2.7" height="2.7" fill="#1519ff"/><rect x="1567.1" y="161.0" width="2.7" height="2.7" fill="#ebe600"/><rect x="1569.4" y="161.0" width="5.0" height="2.7" fill="#ff0000"/><rect x="1574.2" y="161.0" width="2.7" height="2.7" fill="#49ff28"/><rect x="1576.5" y="161.0" width="2.7" height="2.7" fill="#1519ff"/><rect x="1564.7" y="163.4" width="2.7" height="2.7" fill="#0465ff"/><rect x="1567.1" y="163.4" width="7.4" height="2.7" fill="#ff0000"/><rect x="1574.2" y="163.4" width="2.7" height="2.7" fill="#ebe600"/><rect x="1576.5" y="163.4" width="2.7" height="2.7" fill="#1519ff"/><rect x="1564.7" y="165.8" width="2.7" height="2.7" fill="#00f29d"/><rect x="1567.1" y="165.8" width="7.4" height="2.7" fill="#ff0000"/><rect x="1574.2" y="165.8" width="2.7" height="2.7" fill="#49ff28"/><rect x="1576.5" y="165.8" width="2.7" height="2.7" fill="#1519ff"/><rect x="1534.0" y="168.1" width="5.0" height="2.7" fill="#5000eb"/><rect x="1562.4" y="168.1" width="2.7" height="2.7" fill="#5000eb"/><rect x="1564.7" y="168.1" width="2.7" height="2.7" fill="#49ff28"/><rect x="1567.1" y="168.1" width="7.4" height="2.7" fill="#ff0000"/><rect x="1574.2" y="168.1" width="2.7" height="2.7" fill="#ebe600"/><rect x="1576.5" y="168.1" width="2.7" height="2.7" fill="#5000eb"/><rect x="1531.7" y="170.5" width="2.7" height="2.7" fill="#5000eb"/><rect x="1534.0" y="170.5" width="2.7" height="2.7" fill="#0465ff"/><rect x="1536.4" y="170.5" width="2.7" height="2.7" fill="#1519ff"/><rect x="1538.7" y="170.5" width="2.7" height="2.7" fill="#5000eb"/><rect x="1562.4" y="170.5" width="2.7" height="2.7" fill="#1519ff"/><rect x="1564.7" y="170.5" width="9.7" height="2.7" fill="#ff0000"/><rect x="1574.2" y="170.5" width="2.7" height="2.7" fill="#49ff28"/><rect x="1576.5" y="170.5" width="2.7" height="2.7" fill="#5000eb"/><rect x="1531.7" y="172.8" width="2.7" height="2.7" fill="#5000eb"/><rect x="1534.0" y="172.8" width="5.0" height="2.7" fill="#0465ff"/><rect x="1538.7" y="172.8" width="2.7" height="2.7" fill="#5000eb"/><rect x="1560.0" y="172.8" width="2.7" height="2.7" fill="#5000eb"/><rect x="1562.4" y="172.8" width="2.7" height="2.7" fill="#00c2ff"/><rect x="1564.7" y="172.8" width="9.7" height="2.7" fill="#ff0000"/><rect x="1574.2" y="172.8" width="2.7" height="2.7" fill="#00f29d"/><rect x="1531.7" y="175.2" width="7.4" height="2.7" fill="#5000eb"/><rect x="1552.9" y="175.2" width="5.0" height="2.7" fill="#5000eb"/><rect x="1557.6" y="175.2" width="5.0" height="2.7" fill="#1519ff"/><rect x="1562.4" y="175.2" width="2.7" height="2.7" fill="#49ff28"/><rect x="1564.7" y="175.2" width="9.7" height="2.7" fill="#ff0000"/><rect x="1574.2" y="175.2" width="2.7" height="2.7" fill="#00c2ff"/><rect x="1626.1" y="175.2" width="5.0" height="2.7" fill="#5000eb"/><rect x="1630.9" y="175.2" width="2.7" height="2.7" fill="#1519ff"/><rect x="1633.2" y="175.2" width="5.0" height="2.7" fill="#5000eb"/><rect x="1552.9" y="177.6" width="2.7" height="2.7" fill="#1519ff"/><rect x="1555.3" y="177.6" width="5.0" height="2.7" fill="#0465ff"/><rect x="1560.0" y="177.6" width="2.7" height="2.7" fill="#00c2ff"/><rect x="1562.4" y="177.6" width="2.7" height="2.7" fill="#ebe600"/><rect x="1564.7" y="177.6" width="9.7" height="2.7" fill="#ff0000"/><rect x="1574.2" y="177.6" width="2.7" height="2.7" fill="#0465ff"/><rect x="1621.4" y="177.6" width="2.7" height="2.7" fill="#5000eb"/><rect x="1623.8" y="177.6" width="2.7" height="2.7" fill="#1519ff"/><rect x="1626.1" y="177.6" width="2.7" height="2.7" fill="#0465ff"/><rect x="1628.5" y="177.6" width="7.4" height="2.7" fill="#00c2ff"/><rect x="1635.6" y="177.6" width="2.7" height="2.7" fill="#0465ff"/><rect x="1552.9" y="179.9" width="5.0" height="2.7" fill="#1519ff"/><rect x="1557.6" y="179.9" width="2.7" height="2.7" fill="#0465ff"/><rect x="1560.0" y="179.9" width="2.7" height="2.7" fill="#00c2ff"/><rect x="1562.4" y="179.9" width="2.7" height="2.7" fill="#ff7c00"/><rect x="1564.7" y="179.9" width="7.4" height="2.7" fill="#ff0000"/><rect x="1571.8" y="179.9" width="2.7" height="2.7" fill="#ff7c00"/><rect x="1574.2" y="179.9" width="2.7" height="2.7" fill="#0465ff"/><rect x="1619.0" y="179.9" width="2.7" height="2.7" fill="#5000eb"/><rect x="1621.4" y="179.9" width="2.7" height="2.7" fill="#1519ff"/><rect x="1623.8" y="179.9" width="2.7" height="2.7" fill="#00c2ff"/><rect x="1626.1" y="179.9" width="2.7" height="2.7" fill="#00f29d"/><rect x="1628.5" y="179.9" width="2.7" height="2.7" fill="#49ff28"/><rect x="1630.9" y="179.9" width="2.7" height="2.7" fill="#ebe600"/><rect x="1633.2" y="179.9" width="2.7" height="2.7" fill="#49ff28"/><rect x="1635.6" y="179.9" width="2.7" height="2.7" fill="#00c2ff"/><rect x="1552.9" y="182.3" width="5.0" height="2.7" fill="#5000eb"/><rect x="1557.6" y="182.3" width="2.7" height="2.7" fill="#1519ff"/><rect x="1560.0" y="182.3" width="2.7" height="2.7" fill="#0465ff"/><rect x="1562.4" y="182.3" width="2.7" height="2.7" fill="#ff7c00"/><rect x="1564.7" y="182.3" width="7.4" height="2.7" fill="#ff0000"/><rect x="1571.8" y="182.3" width="2.7" height="2.7" fill="#ebe600"/><rect x="1574.2" y="182.3" width="2.7" height="2.7" fill="#1519ff"/><rect x="1619.0" y="182.3" width="2.7" height="2.7" fill="#1519ff"/><rect x="1621.4" y="182.3" width="2.7" height="2.7" fill="#0465ff"/><rect x="1623.8" y="182.3" width="2.7" height="2.7" fill="#00f29d"/><rect x="1626.1" y="182.3" width="2.7" height="2.7" fill="#ebe600"/><rect x="1628.5" y="182.3" width="2.7" height="2.7" fill="#ff7c00"/><rect x="1630.9" y="182.3" width="2.7" height="2.7" fill="#ff0000"/><rect x="1633.2" y="182.3" width="2.7" height="2.7" fill="#ebe600"/><rect x="1635.6" y="182.3" width="2.7" height="2.7" fill="#00f29d"/><rect x="1637.9" y="182.3" width="2.7" height="2.7" fill="#0465ff"/><rect x="1522.2" y="184.6" width="7.4" height="2.7" fill="#5000eb"/><rect x="1557.6" y="184.6" width="2.7" height="2.7" fill="#5000eb"/><rect x="1560.0" y="184.6" width="2.7" height="2.7" fill="#0465ff"/><rect x="1562.4" y="184.6" width="2.7" height="2.7" fill="#ebe600"/><rect x="1564.7" y="184.6" width="7.4" height="2.7" fill="#ff0000"/><rect x="1571.8" y="184.6" width="2.7" height="2.7" fill="#00f29d"/><rect x="1574.2" y="184.6" width="2.7" height="2.7" fill="#5000eb"/><rect x="1616.7" y="184.6" width="2.7" height="2.7" fill="#5000eb"/><rect x="1619.0" y="184.6" width="2.7" height="2.7" fill="#1519ff"/><rect x="1621.4" y="184.6" width="2.7" height="2.7" fill="#00c2ff"/><rect x="1623.8" y="184.6" width="2.7" height="2.7" fill="#00f29d"/><rect x="1626.1" y="184.6" width="2.7" height="2.7" fill="#ebe600"/><rect x="1628.5" y="184.6" width="5.0" height="2.7" fill="#ff0000"/><rect x="1633.2" y="184.6" width="2.7" height="2.7" fill="#ff7c00"/><rect x="1635.6" y="184.6" width="2.7" height="2.7" fill="#49ff28"/><rect x="1637.9" y="184.6" width="2.7" height="2.7" fill="#0465ff"/><rect x="1524.6" y="187.0" width="2.7" height="2.7" fill="#5000eb"/><rect x="1526.9" y="187.0" width="7.4" height="2.7" fill="#1519ff"/><rect x="1534.0" y="187.0" width="5.0" height="2.7" fill="#5000eb"/><rect x="1560.0" y="187.0" width="2.7" height="2.7" fill="#1519ff"/><rect x="1562.4" y="187.0" width="2.7" height="2.7" fill="#ebe600"/><rect x="1564.7" y="187.0" width="7.4" height="2.7" fill="#ff0000"/><rect x="1571.8" y="187.0" width="2.7" height="2.7" fill="#0465ff"/><rect x="1574.2" y="187.0" width="2.7" height="2.7" fill="#5000eb"/><rect x="1619.0" y="187.0" width="2.7" height="2.7" fill="#5000eb"/><rect x="1621.4" y="187.0" width="2.7" height="2.7" fill="#0465ff"/><rect x="1623.8" y="187.0" width="2.7" height="2.7" fill="#00f29d"/><rect x="1626.1" y="187.0" width="2.7" height="2.7" fill="#49ff28"/><rect x="1628.5" y="187.0" width="5.0" height="2.7" fill="#ff7c00"/><rect x="1633.2" y="187.0" width="2.7" height="2.7" fill="#ebe600"/><rect x="1635.6" y="187.0" width="2.7" height="2.7" fill="#00f29d"/><rect x="1637.9" y="187.0" width="2.7" height="2.7" fill="#0465ff"/><rect x="1529.3" y="189.4" width="2.7" height="2.7" fill="#5000eb"/><rect x="1531.7" y="189.4" width="7.4" height="2.7" fill="#1519ff"/><rect x="1538.7" y="189.4" width="5.0" height="2.7" fill="#5000eb"/><rect x="1560.0" y="189.4" width="2.7" height="2.7" fill="#0465ff"/><rect x="1562.4" y="189.4" width="2.7" height="2.7" fill="#ebe600"/><rect x="1564.7" y="189.4" width="5.0" height="2.7" fill="#ff0000"/><rect x="1569.4" y="189.4" width="2.7" height="2.7" fill="#ebe600"/><rect x="1571.8" y="189.4" width="2.7" height="2.7" fill="#1519ff"/><rect x="1619.0" y="189.4" width="2.7" height="2.7" fill="#5000eb"/><rect x="1621.4" y="189.4" width="2.7" height="2.7" fill="#1519ff"/><rect x="1623.8" y="189.4" width="2.7" height="2.7" fill="#00c2ff"/><rect x="1626.1" y="189.4" width="2.7" height="2.7" fill="#00f29d"/><rect x="1628.5" y="189.4" width="5.0" height="2.7" fill="#49ff28"/><rect x="1633.2" y="189.4" width="2.7" height="2.7" fill="#00f29d"/><rect x="1635.6" y="189.4" width="2.7" height="2.7" fill="#00c2ff"/><rect x="1637.9" y="189.4" width="2.7" height="2.7" fill="#0465ff"/><rect x="1560.0" y="191.7" width="2.7" height="2.7" fill="#1519ff"/><rect x="1562.4" y="191.7" width="2.7" height="2.7" fill="#49ff28"/><rect x="1564.7" y="191.7" width="2.7" height="2.7" fill="#ff0000"/><rect x="1567.1" y="191.7" width="2.7" height="2.7" fill="#ff7c00"/><rect x="1569.4" y="191.7" width="2.7" height="2.7" fill="#00f29d"/><rect x="1571.8" y="191.7" width="2.7" height="2.7" fill="#5000eb"/><rect x="1621.4" y="191.7" width="2.7" height="2.7" fill="#5000eb"/><rect x="1623.8" y="191.7" width="2.7" height="2.7" fill="#1519ff"/><rect x="1626.1" y="191.7" width="9.7" height="2.7" fill="#0465ff"/><rect x="1635.6" y="191.7" width="5.0" height="2.7" fill="#1519ff"/><rect x="1560.0" y="194.1" width="2.7" height="2.7" fill="#1519ff"/><rect x="1562.4" y="194.1" width="2.7" height="2.7" fill="#00f29d"/><rect x="1564.7" y="194.1" width="5.0" height="2.7" fill="#49ff28"/><rect x="1569.4" y="194.1" width="2.7" height="2.7" fill="#1519ff"/><rect x="1628.5" y="194.1" width="9.7" height="2.7" fill="#5000eb"/><rect x="1560.0" y="196.5" width="2.7" height="2.7" fill="#5000eb"/><rect x="1562.4" y="196.5" width="2.7" height="2.7" fill="#00c2ff"/><rect x="1564.7" y="196.5" width="2.7" height="2.7" fill="#00f29d"/><rect x="1567.1" y="196.5" width="2.7" height="2.7" fill="#00c2ff"/><rect x="1569.4" y="196.5" width="2.7" height="2.7" fill="#5000eb"/><rect x="1515.1" y="198.8" width="2.7" height="2.7" fill="#5000eb"/><rect x="1560.0" y="198.8" width="2.7" height="2.7" fill="#5000eb"/><rect x="1562.4" y="198.8" width="2.7" height="2.7" fill="#0465ff"/><rect x="1564.7" y="198.8" width="2.7" height="2.7" fill="#00c2ff"/><rect x="1567.1" y="198.8" width="2.7" height="2.7" fill="#1519ff"/><rect x="1512.8" y="201.2" width="5.0" height="2.7" fill="#5000eb"/><rect x="1517.5" y="201.2" width="5.0" height="2.7" fill="#1519ff"/><rect x="1522.2" y="201.2" width="7.4" height="2.7" fill="#5000eb"/><rect x="1560.0" y="201.2" width="2.7" height="2.7" fill="#5000eb"/><rect x="1562.4" y="201.2" width="5.0" height="2.7" fill="#1519ff"/><rect x="1567.1" y="201.2" width="2.7" height="2.7" fill="#5000eb"/><rect x="1510.4" y="203.5" width="2.7" height="2.7" fill="#5000eb"/><rect x="1512.8" y="203.5" width="2.7" height="2.7" fill="#1519ff"/><rect x="1515.1" y="203.5" width="14.5" height="2.7" fill="#0465ff"/><rect x="1529.3" y="203.5" width="5.0" height="2.7" fill="#5000eb"/><rect x="1560.0" y="203.5" width="7.4" height="2.7" fill="#5000eb"/><rect x="1604.9" y="203.5" width="2.7" height="2.7" fill="#1519ff"/><rect x="1607.2" y="203.5" width="2.7" height="2.7" fill="#0465ff"/><rect x="1609.6" y="203.5" width="2.7" height="2.7" fill="#5000eb"/><rect x="1508.0" y="205.9" width="5.0" height="2.7" fill="#5000eb"/><rect x="1512.8" y="205.9" width="5.0" height="2.7" fill="#0465ff"/><rect x="1517.5" y="205.9" width="2.7" height="2.7" fill="#00c2ff"/><rect x="1519.8" y="205.9" width="7.4" height="2.7" fill="#00f29d"/><rect x="1526.9" y="205.9" width="2.7" height="2.7" fill="#00c2ff"/><rect x="1529.3" y="205.9" width="2.7" height="2.7" fill="#0465ff"/><rect x="1531.7" y="205.9" width="2.7" height="2.7" fill="#1519ff"/><rect x="1534.0" y="205.9" width="2.7" height="2.7" fill="#5000eb"/><rect x="1602.5" y="205.9" width="2.7" height="2.7" fill="#5000eb"/><rect x="1604.9" y="205.9" width="2.7" height="2.7" fill="#00c2ff"/><rect x="1607.2" y="205.9" width="2.7" height="2.7" fill="#49ff28"/><rect x="1609.6" y="205.9" width="2.7" height="2.7" fill="#0465ff"/><rect x="1510.4" y="208.3" width="2.7" height="2.7" fill="#5000eb"/><rect x="1512.8" y="208.3" width="2.7" height="2.7" fill="#1519ff"/><rect x="1515.1" y="208.3" width="2.7" height="2.7" fill="#0465ff"/><rect x="1517.5" y="208.3" width="2.7" height="2.7" fill="#00c2ff"/><rect x="1519.8" y="208.3" width="2.7" height="2.7" fill="#49ff28"/><rect x="1522.2" y="208.3" width="5.0" height="2.7" fill="#ebe600"/><rect x="1526.9" y="208.3" width="2.7" height="2.7" fill="#49ff28"/><rect x="1529.3" y="208.3" width="2.7" height="2.7" fill="#00f29d"/><rect x="1531.7" y="208.3" width="2.7" height="2.7" fill="#0465ff"/><rect x="1534.0" y="208.3" width="2.7" height="2.7" fill="#1519ff"/><rect x="1536.4" y="208.3" width="2.7" height="2.7" fill="#5000eb"/><rect x="1602.5" y="208.3" width="2.7" height="2.7" fill="#5000eb"/><rect x="1604.9" y="208.3" width="2.7" height="2.7" fill="#0465ff"/><rect x="1607.2" y="208.3" width="2.7" height="2.7" fill="#00c2ff"/><rect x="1609.6" y="208.3" width="2.7" height="2.7" fill="#1519ff"/><rect x="1512.8" y="210.6" width="2.7" height="2.7" fill="#5000eb"/><rect x="1515.1" y="210.6" width="2.7" height="2.7" fill="#0465ff"/><rect x="1517.5" y="210.6" width="2.7" height="2.7" fill="#00c2ff"/><rect x="1519.8" y="210.6" width="2.7" height="2.7" fill="#49ff28"/><rect x="1522.2" y="210.6" width="5.0" height="2.7" fill="#ebe600"/><rect x="1526.9" y="210.6" width="2.7" height="2.7" fill="#ff7c00"/><rect x="1529.3" y="210.6" width="2.7" height="2.7" fill="#49ff28"/><rect x="1531.7" y="210.6" width="2.7" height="2.7" fill="#00f29d"/><rect x="1534.0" y="210.6" width="2.7" height="2.7" fill="#00c2ff"/><rect x="1536.4" y="210.6" width="2.7" height="2.7" fill="#1519ff"/><rect x="1538.7" y="210.6" width="2.7" height="2.7" fill="#5000eb"/><rect x="1512.8" y="213.0" width="2.7" height="2.7" fill="#5000eb"/><rect x="1515.1" y="213.0" width="2.7" height="2.7" fill="#1519ff"/><rect x="1517.5" y="213.0" width="2.7" height="2.7" fill="#0465ff"/><rect x="1519.8" y="213.0" width="2.7" height="2.7" fill="#00c2ff"/><rect x="1522.2" y="213.0" width="2.7" height="2.7" fill="#00f29d"/><rect x="1524.6" y="213.0" width="7.4" height="2.7" fill="#ebe600"/><rect x="1531.7" y="213.0" width="5.0" height="2.7" fill="#49ff28"/><rect x="1536.4" y="213.0" width="2.7" height="2.7" fill="#00c2ff"/><rect x="1538.7" y="213.0" width="2.7" height="2.7" fill="#0465ff"/><rect x="1541.1" y="213.0" width="5.0" height="2.7" fill="#5000eb"/><rect x="1489.1" y="215.4" width="5.0" height="2.7" fill="#5000eb"/><rect x="1517.5" y="215.4" width="2.7" height="2.7" fill="#5000eb"/><rect x="1519.8" y="215.4" width="2.7" height="2.7" fill="#0465ff"/><rect x="1522.2" y="215.4" width="2.7" height="2.7" fill="#00c2ff"/><rect x="1524.6" y="215.4" width="5.0" height="2.7" fill="#00f29d"/><rect x="1529.3" y="215.4" width="2.7" height="2.7" fill="#49ff28"/><rect x="1531.7" y="215.4" width="2.7" height="2.7" fill="#ebe600"/><rect x="1534.0" y="215.4" width="5.0" height="2.7" fill="#ff0000"/><rect x="1538.7" y="215.4" width="2.7" height="2.7" fill="#ebe600"/><rect x="1541.1" y="215.4" width="2.7" height="2.7" fill="#0465ff"/><rect x="1543.5" y="215.4" width="2.7" height="2.7" fill="#1519ff"/><rect x="1545.8" y="215.4" width="5.0" height="2.7" fill="#5000eb"/><rect x="1489.1" y="217.7" width="5.0" height="2.7" fill="#0465ff"/><rect x="1519.8" y="217.7" width="5.0" height="2.7" fill="#5000eb"/><rect x="1524.6" y="217.7" width="2.7" height="2.7" fill="#0465ff"/><rect x="1526.9" y="217.7" width="2.7" height="2.7" fill="#00c2ff"/><rect x="1529.3" y="217.7" width="2.7" height="2.7" fill="#00f29d"/><rect x="1531.7" y="217.7" width="9.7" height="2.7" fill="#ff0000"/><rect x="1541.1" y="217.7" width="2.7" height="2.7" fill="#49ff28"/><rect x="1543.5" y="217.7" width="5.0" height="2.7" fill="#0465ff"/><rect x="1548.2" y="217.7" width="2.7" height="2.7" fill="#1519ff"/><rect x="1550.5" y="217.7" width="2.7" height="2.7" fill="#5000eb"/><rect x="1486.8" y="220.1" width="2.7" height="2.7" fill="#5000eb"/><rect x="1489.1" y="220.1" width="2.7" height="2.7" fill="#0465ff"/><rect x="1491.5" y="220.1" width="2.7" height="2.7" fill="#1519ff"/><rect x="1524.6" y="220.1" width="2.7" height="2.7" fill="#5000eb"/><rect x="1526.9" y="220.1" width="2.7" height="2.7" fill="#1519ff"/><rect x="1529.3" y="220.1" width="2.7" height="2.7" fill="#0465ff"/><rect x="1531.7" y="220.1" width="2.7" height="2.7" fill="#ebe600"/><rect x="1534.0" y="220.1" width="7.4" height="2.7" fill="#ff0000"/><rect x="1541.1" y="220.1" width="2.7" height="2.7" fill="#49ff28"/><rect x="1543.5" y="220.1" width="2.7" height="2.7" fill="#00c2ff"/><rect x="1545.8" y="220.1" width="5.0" height="2.7" fill="#0465ff"/><rect x="1550.5" y="220.1" width="2.7" height="2.7" fill="#1519ff"/><rect x="1552.9" y="220.1" width="2.7" height="2.7" fill="#5000eb"/><rect x="1489.1" y="222.4" width="2.7" height="2.7" fill="#5000eb"/><rect x="1526.9" y="222.4" width="5.0" height="2.7" fill="#5000eb"/><rect x="1531.7" y="222.4" width="2.7" height="2.7" fill="#0465ff"/><rect x="1534.0" y="222.4" width="2.7" height="2.7" fill="#00f29d"/><rect x="1536.4" y="222.4" width="2.7" height="2.7" fill="#ebe600"/><rect x="1538.7" y="222.4" width="2.7" height="2.7" fill="#49ff28"/><rect x="1541.1" y="222.4" width="2.7" height="2.7" fill="#00f29d"/><rect x="1543.5" y="222.4" width="2.7" height="2.7" fill="#00c2ff"/><rect x="1545.8" y="222.4" width="2.7" height="2.7" fill="#00f29d"/><rect x="1548.2" y="222.4" width="2.7" height="2.7" fill="#00c2ff"/><rect x="1550.5" y="222.4" width="2.7" height="2.7" fill="#0465ff"/><rect x="1552.9" y="222.4" width="2.7" height="2.7" fill="#1519ff"/><rect x="1531.7" y="224.8" width="5.0" height="2.7" fill="#5000eb"/><rect x="1536.4" y="224.8" width="2.7" height="2.7" fill="#1519ff"/><rect x="1538.7" y="224.8" width="2.7" height="2.7" fill="#0465ff"/><rect x="1541.1" y="224.8" width="2.7" height="2.7" fill="#00c2ff"/><rect x="1543.5" y="224.8" width="5.0" height="2.7" fill="#49ff28"/><rect x="1548.2" y="224.8" width="2.7" height="2.7" fill="#00f29d"/><rect x="1550.5" y="224.8" width="2.7" height="2.7" fill="#00c2ff"/><rect x="1552.9" y="224.8" width="2.7" height="2.7" fill="#1519ff"/><rect x="1555.3" y="224.8" width="2.7" height="2.7" fill="#5000eb"/><rect x="1534.0" y="227.2" width="5.0" height="2.7" fill="#5000eb"/><rect x="1538.7" y="227.2" width="2.7" height="2.7" fill="#0465ff"/><rect x="1541.1" y="227.2" width="2.7" height="2.7" fill="#00f29d"/><rect x="1543.5" y="227.2" width="7.4" height="2.7" fill="#ebe600"/><rect x="1550.5" y="227.2" width="2.7" height="2.7" fill="#00f29d"/><rect x="1552.9" y="227.2" width="2.7" height="2.7" fill="#0465ff"/><rect x="1555.3" y="227.2" width="2.7" height="2.7" fill="#5000eb"/><rect x="1536.4" y="229.5" width="2.7" height="2.7" fill="#5000eb"/><rect x="1538.7" y="229.5" width="2.7" height="2.7" fill="#0465ff"/><rect x="1541.1" y="229.5" width="2.7" height="2.7" fill="#49ff28"/><rect x="1543.5" y="229.5" width="7.4" height="2.7" fill="#ebe600"/><rect x="1550.5" y="229.5" width="2.7" height="2.7" fill="#49ff28"/><rect x="1552.9" y="229.5" width="2.7" height="2.7" fill="#0465ff"/><rect x="1555.3" y="229.5" width="2.7" height="2.7" fill="#5000eb"/><rect x="1536.4" y="231.9" width="2.7" height="2.7" fill="#1519ff"/><rect x="1538.7" y="231.9" width="2.7" height="2.7" fill="#0465ff"/><rect x="1541.1" y="231.9" width="2.7" height="2.7" fill="#00f29d"/><rect x="1543.5" y="231.9" width="7.4" height="2.7" fill="#ebe600"/><rect x="1550.5" y="231.9" width="2.7" height="2.7" fill="#00c2ff"/><rect x="1552.9" y="231.9" width="2.7" height="2.7" fill="#0465ff"/><rect x="1555.3" y="231.9" width="2.7" height="2.7" fill="#1519ff"/><rect x="1536.4" y="234.2" width="2.7" height="2.7" fill="#5000eb"/><rect x="1538.7" y="234.2" width="2.7" height="2.7" fill="#0465ff"/><rect x="1541.1" y="234.2" width="2.7" height="2.7" fill="#00f29d"/><rect x="1543.5" y="234.2" width="5.0" height="2.7" fill="#49ff28"/><rect x="1548.2" y="234.2" width="2.7" height="2.7" fill="#00f29d"/><rect x="1550.5" y="234.2" width="2.7" height="2.7" fill="#00c2ff"/><rect x="1552.9" y="234.2" width="2.7" height="2.7" fill="#1519ff"/><rect x="1555.3" y="234.2" width="2.7" height="2.7" fill="#5000eb"/><rect x="1536.4" y="236.6" width="2.7" height="2.7" fill="#5000eb"/><rect x="1538.7" y="236.6" width="2.7" height="2.7" fill="#1519ff"/><rect x="1541.1" y="236.6" width="2.7" height="2.7" fill="#0465ff"/><rect x="1543.5" y="236.6" width="7.4" height="2.7" fill="#00c2ff"/><rect x="1550.5" y="236.6" width="5.0" height="2.7" fill="#1519ff"/><rect x="1555.3" y="236.6" width="2.7" height="2.7" fill="#5000eb"/><rect x="1538.7" y="239.0" width="2.7" height="2.7" fill="#5000eb"/><rect x="1541.1" y="239.0" width="5.0" height="2.7" fill="#1519ff"/><rect x="1545.8" y="239.0" width="2.7" height="2.7" fill="#0465ff"/><rect x="1548.2" y="239.0" width="2.7" height="2.7" fill="#1519ff"/><rect x="1550.5" y="239.0" width="5.0" height="2.7" fill="#5000eb"/><rect x="1538.7" y="241.3" width="12.1" height="2.7" fill="#5000eb"/></g>
<rect x="1667.7" y="32.3" width="11.3" height="265.4" fill="url(#cbar)"/>
<line x1="1679.0" y1="32.3" x2="1684.0" y2="32.3" stroke="#666" stroke-width="0.8"/>
<line x1="1679.0" y1="41.1" x2="1682.0" y2="41.1" stroke="#666" stroke-width="0.8"/>
<line x1="1679.0" y1="50.0" x2="1682.0" y2="50.0" stroke="#666" stroke-width="0.8"/>
<line x1="1679.0" y1="58.8" x2="1682.0" y2="58.8" stroke="#666" stroke-width="0.8"/>
<line x1="1679.0" y1="67.7" x2="1682.0" y2="67.7" stroke="#666" stroke-width="0.8"/>
<line x1="1679.0" y1="76.5" x2="1682.0" y2="76.5" stroke="#666" stroke-width="0.8"/>
<line x1="1679.0" y1="85.4" x2="1682.0" y2="85.4" stroke="#666" stroke-width="0.8"/>
<line x1="1679.0" y1="94.2" x2="1682.0" y2="94.2" stroke="#666" stroke-width="0.8"/>
<line x1="1679.0" y1="103.1" x2="1682.0" y2="103.1" stroke="#666" stroke-width="0.8"/>
<line x1="1679.0" y1="111.9" x2="1682.0" y2="111.9" stroke="#666" stroke-width="0.8"/>
<line x1="1679.0" y1="120.8" x2="1684.0" y2="120.8" stroke="#666" stroke-width="0.8"/>
<line x1="1679.0" y1="129.6" x2="1682.0" y2="129.6" stroke="#666" stroke-width="0.8"/>
<line x1="1679.0" y1="138.5" x2="1682.0" y2="138.5" stroke="#666" stroke-width="0.8"/>
<line x1="1679.0" y1="147.3" x2="1682.0" y2="147.3" stroke="#666" stroke-width="0.8"/>
<line x1="1679.0" y1="156.2" x2="1682.0" y2="156.2" stroke="#666" stroke-width="0.8"/>
<line x1="1679.0" y1="165.0" x2="1682.0" y2="165.0" stroke="#666" stroke-width="0.8"/>
<line x1="1679.0" y1="173.8" x2="1682.0" y2="173.8" stroke="#666" stroke-width="0.8"/>
<line x1="1679.0" y1="182.7" x2="1682.0" y2="182.7" stroke="#666" stroke-width="0.8"/>
<line x1="1679.0" y1="191.5" x2="1682.0" y2="191.5" stroke="#666" stroke-width="0.8"/>
<line x1="1679.0" y1="200.4" x2="1682.0" y2="200.4" stroke="#666" stroke-width="0.8"/>
<line x1="1679.0" y1="209.2" x2="1684.0" y2="209.2" stroke="#666" stroke-width="0.8"/>
<line x1="1679.0" y1="218.1" x2="1682.0" y2="218.1" stroke="#666" stroke-width="0.8"/>
<line x1="1679.0" y1="226.9" x2="1682.0" y2="226.9" stroke="#666" stroke-width="0.8"/>
<line x1="1679.0" y1="235.8" x2="1682.0" y2="235.8" stroke="#666" stroke-width="0.8"/>
<line x1="1679.0" y1="244.6" x2="1682.0" y2="244.6" stroke="#666" stroke-width="0.8"/>
<line x1="1679.0" y1="253.5" x2="1682.0" y2="253.5" stroke="#666" stroke-width="0.8"/>
<line x1="1679.0" y1="262.3" x2="1682.0" y2="262.3" stroke="#666" stroke-width="0.8"/>
<line x1="1679.0" y1="271.2" x2="1682.0" y2="271.2" stroke="#666" stroke-width="0.8"/>
<line x1="1679.0" y1="280.0" x2="1682.0" y2="280.0" stroke="#666" stroke-width="0.8"/>
<line x1="1679.0" y1="288.9" x2="1682.0" y2="288.9" stroke="#666" stroke-width="0.8"/>
<line x1="1679.0" y1="297.7" x2="1684.0" y2="297.7" stroke="#666" stroke-width="0.8"/>
<text x="1683.3" y="40.8" font-size="23.4">4000</text>
<text x="1683.3" y="129.0" font-size="23.4">3000</text>
<text x="1683.3" y="215.0" font-size="23.4">2000</text>
<text x="1683.3" y="302.3" font-size="23.4">1000</text>
<line x1="1902.6" y1="73.6" x2="1902.6" y2="280.0" stroke="#000" stroke-width="2"/>
<line x1="1893.1" y1="280.6" x2="1902.6" y2="280.6" stroke="#000" stroke-width="2"/>
<text x="1888.5" y="289.7" font-size="23.4" text-anchor="end">0</text>
<line x1="1893.1" y1="239.4" x2="1902.6" y2="239.4" stroke="#000" stroke-width="2"/>
<text x="1888.5" y="248.5" font-size="23.4" text-anchor="end">10</text>
<line x1="1893.1" y1="198.2" x2="1902.6" y2="198.2" stroke="#000" stroke-width="2"/>
<text x="1888.5" y="207.3" font-size="23.4" text-anchor="end">20</text>
<line x1="1893.1" y1="157.0" x2="1902.6" y2="157.0" stroke="#000" stroke-width="2"/>
<text x="1888.5" y="166.1" font-size="23.4" text-anchor="end">30</text>
<line x1="1893.1" y1="115.8" x2="1902.6" y2="115.8" stroke="#000" stroke-width="2"/>
<text x="1888.5" y="124.9" font-size="23.4" text-anchor="end">40</text>
<line x1="1893.1" y1="74.6" x2="1902.6" y2="74.6" stroke="#000" stroke-width="2"/>
<text x="1888.5" y="83.7" font-size="23.4" text-anchor="end">50</text>
<line x1="1893.0" y1="280.0" x2="2122.5" y2="280.0" stroke="#000" stroke-width="2"/>
<line x1="1945.6" y1="280.0" x2="1945.6" y2="289.5" stroke="#000" stroke-width="2"/>
<line x1="2011.4" y1="280.0" x2="2011.4" y2="289.5" stroke="#000" stroke-width="2"/>
<line x1="2077.4" y1="280.0" x2="2077.4" y2="289.5" stroke="#000" stroke-width="2"/>
<text x="1944.0" y="317.0" font-size="23.4" text-anchor="middle">ctrl-sg</text>
<text x="2001.0" y="317.0" font-size="23.4">sg<tspan font-size="16.5" dy="-9">1</tspan></text>
<text x="2067.6" y="317.0" font-size="23.4">sg<tspan font-size="16.5" dy="-9">2</tspan></text>
<text x="1818.0" y="186.5" font-size="23.4" text-anchor="middle" transform="rotate(-90 1818.0 186.5)">liver photon flux</text>
<text x="1848.0" y="186.5" font-size="23.4" text-anchor="middle" transform="rotate(-90 1848.0 186.5)">(p/sx10<tspan font-size="16.5" dy="-9">8</tspan><tspan dy="9">)</tspan></text>
<line x1="1944.4" y1="65.6" x2="2078.6" y2="65.6" stroke="#000" stroke-width="2"/>
<line x1="1944.4" y1="91.4" x2="2010.0" y2="91.4" stroke="#000" stroke-width="2"/>
<line x1="2013.0" y1="91.4" x2="2079.0" y2="91.4" stroke="#000" stroke-width="2"/>
<text x="2012.4" y="67.6" font-size="23.4" text-anchor="middle">**</text>
<text x="1972.4" y="94.0" font-size="23.4" text-anchor="middle">**</text>
<text x="2041.5" y="85.6" font-size="23.4" text-anchor="middle">ns</text>
<line x1="1945.6" y1="114.0" x2="1945.6" y2="194.0" stroke="#dc1e28" stroke-width="2"/>
<line x1="1935.1" y1="114.0" x2="1956.1" y2="114.0" stroke="#dc1e28" stroke-width="2"/>
<line x1="1935.1" y1="194.0" x2="1956.1" y2="194.0" stroke="#dc1e28" stroke-width="2"/>
<line x1="1923.8" y1="153.6" x2="1967.4" y2="153.6" stroke="#dc1e28" stroke-width="2"/>
<circle cx="1951.6" cy="108.0" r="3.7" fill="#dc1e28"/>
<circle cx="1939.4" cy="116.0" r="3.7" fill="#dc1e28"/>
<circle cx="1945.6" cy="165.6" r="3.7" fill="#dc1e28"/>
<circle cx="1951.6" cy="186.0" r="3.7" fill="#dc1e28"/>
<circle cx="1939.4" cy="194.4" r="3.7" fill="#dc1e28"/>
<line x1="2011.4" y1="204.0" x2="2011.4" y2="247.0" stroke="#1616c8" stroke-width="2"/>
<line x1="2000.9" y1="204.0" x2="2021.9" y2="204.0" stroke="#1616c8" stroke-width="2"/>
<line x1="2000.9" y1="247.0" x2="2021.9" y2="247.0" stroke="#1616c8" stroke-width="2"/>
<line x1="1989.6" y1="225.6" x2="2033.2" y2="225.6" stroke="#1616c8" stroke-width="2"/>
<circle cx="2012.0" cy="190.0" r="3.7" fill="#1616c8"/>
<circle cx="2005.4" cy="223.4" r="3.7" fill="#1616c8"/>
<circle cx="2023.6" cy="231.6" r="3.7" fill="#1616c8"/>
<circle cx="2018.0" cy="235.4" r="3.7" fill="#1616c8"/>
<circle cx="2005.0" cy="248.0" r="3.7" fill="#1616c8"/>
<line x1="2077.4" y1="218.0" x2="2077.4" y2="249.6" stroke="#1e7d1e" stroke-width="2"/>
<line x1="2066.9" y1="218.0" x2="2087.9" y2="218.0" stroke="#1e7d1e" stroke-width="2"/>
<line x1="2066.9" y1="249.6" x2="2087.9" y2="249.6" stroke="#1e7d1e" stroke-width="2"/>
<line x1="2055.6" y1="233.8" x2="2099.2" y2="233.8" stroke="#1e7d1e" stroke-width="2"/>
<circle cx="2090.0" cy="219.0" r="3.7" fill="#1e7d1e"/>
<circle cx="2065.0" cy="223.0" r="3.7" fill="#1e7d1e"/>
<circle cx="2077.6" cy="227.4" r="3.7" fill="#1e7d1e"/>
<circle cx="2083.6" cy="244.0" r="3.7" fill="#1e7d1e"/>
<circle cx="2071.0" cy="256.4" r="3.7" fill="#1e7d1e"/>
<text x="40.0" y="393.0" font-size="29" font-weight="bold">c</text>
<defs>
<filter id="tx" x="-8%" y="-8%" width="116%" height="116%" color-interpolation-filters="sRGB">
<feTurbulence type="fractalNoise" baseFrequency="0.075" numOctaves="3" seed="4" result="n"/>
<feTurbulence type="fractalNoise" baseFrequency="0.06" numOctaves="1" seed="8" result="n1"/>
<feDisplacementMap in="SourceGraphic" in2="n1" scale="7" xChannelSelector="R" yChannelSelector="G" result="d"/>
<feColorMatrix in="n" type="matrix" values="0 0 0 0 1  0 0 0 0 0.9  0 0 0 0 0.84  0 0 1.7 0 -0.8" result="hl"/>
<feComposite in="hl" in2="d" operator="in" result="hl2"/>
<feColorMatrix in="n" type="matrix" values="0 0 0 0 0.35  0 0 0 0 0.08  0 0 0 0 0.12  0 -1.6 0 0 0.64" result="sh"/>
<feComposite in="sh" in2="d" operator="in" result="sh2"/>
<feMerge><feMergeNode in="d"/><feMergeNode in="sh2"/><feMergeNode in="hl2"/></feMerge>
</filter>
<filter id="tx2" x="-8%" y="-8%" width="116%" height="116%" color-interpolation-filters="sRGB">
<feTurbulence type="fractalNoise" baseFrequency="0.16" numOctaves="3" seed="9" result="n"/>
<feTurbulence type="fractalNoise" baseFrequency="0.09" numOctaves="1" seed="3" result="n1"/>
<feDisplacementMap in="SourceGraphic" in2="n1" scale="8" xChannelSelector="R" yChannelSelector="G" result="d"/>
<feColorMatrix in="n" type="matrix" values="0 0 0 0 0.95  0 0 0 0 0.84  0 0 0 0 0.66  0 0 2.8 0 -1.32" result="hl"/>
<feComposite in="hl" in2="d" operator="in" result="hl2"/>
<feColorMatrix in="n" type="matrix" values="0 0 0 0 0.2  0 0 0 0 0.04  0 0 0 0 0.02  0 -2.6 0 0 1.0" result="sh"/>
<feComposite in="sh" in2="d" operator="in" result="sh2"/>
<feMerge><feMergeNode in="d"/><feMergeNode in="sh2"/><feMergeNode in="hl2"/></feMerge>
</filter>
</defs>
<rect x="118.3" y="475.6" width="375" height="186.6" fill="#14060f"/>
<rect x="496" y="475.6" width="374.7" height="186.6" fill="#0e0909"/>
<rect x="305.1" y="475.6" width="1.6" height="186.6" fill="#9a9a9a"/>
<rect x="682.8" y="475.6" width="1.4" height="186.6" fill="#8a8a8a"/>
<text x="308.3" y="430.0" font-size="23.4" text-anchor="middle">UT</text>
<line x1="221.7" y1="439.3" x2="415.7" y2="439.3" stroke="#000" stroke-width="2.6"/>
<text x="680.0" y="430.0" font-size="23.4" text-anchor="middle">LPS</text>
<line x1="582.7" y1="437.3" x2="790.0" y2="437.3" stroke="#000" stroke-width="2.6"/>
<text x="221.3" y="467.3" font-size="23.4" text-anchor="middle">PyMT-WT</text>
<text x="410.3" y="467.3" font-size="23.4" text-anchor="middle">PyMT-KO</text>
<text x="598.3" y="465.7" font-size="23.4" text-anchor="middle">PyMT-WT</text>
<text x="776.0" y="465.7" font-size="23.4" text-anchor="middle">PyMT-KO</text>
<g filter="url(#tx)">
<g filter="url(#b1)" opacity="1">
<path d="M194.7,528.0C193.4,526.2 190.2,528.0 187.5,529.8C184.8,531.6 181.1,534.9 178.4,538.9C175.7,542.8 173.0,547.9 171.2,553.3C169.4,558.8 169.2,565.7 167.5,571.5C165.9,577.2 162.4,582.9 161.2,587.8C160.0,592.6 159.8,596.2 160.3,600.5C160.8,604.7 161.8,609.8 163.9,613.1C166.0,616.5 169.7,618.4 173.0,620.4C176.3,622.4 180.5,625.2 183.9,624.9C187.2,624.6 190.9,621.4 192.9,618.6C194.9,615.7 195.3,611.3 195.6,607.7C195.9,604.1 195.3,600.5 194.7,596.8C194.1,593.2 192.0,590.2 192.0,586.0C192.0,581.7 194.0,576.6 194.7,571.5C195.5,566.3 196.4,560.3 196.5,555.2C196.7,550.0 195.9,545.2 195.6,540.7C195.3,536.1 196.1,529.8 194.7,528.0Z" fill="#d69292"/>
<path d="M205.6,533.4C208.3,531.6 212.2,528.9 216.5,528.0C220.7,527.1 226.1,527.2 231.0,528.0C235.8,528.7 240.9,530.1 245.5,532.5C250.0,534.9 255.1,539.0 258.1,542.5C261.2,545.9 263.0,549.1 263.6,553.3C264.2,557.6 261.5,563.6 261.8,567.8C262.1,572.1 264.2,574.5 265.4,578.7C266.6,582.9 268.7,588.7 269.0,593.2C269.3,597.7 268.7,602.6 267.2,605.9C265.7,609.2 263.0,611.5 260.0,613.1C256.9,614.8 252.4,615.9 249.1,615.9C245.8,615.9 242.1,615.1 240.0,613.1C237.9,611.2 237.9,606.8 236.4,604.1C234.9,601.4 233.1,598.6 231.0,596.8C228.8,595.0 225.8,595.0 223.7,593.2C221.6,591.4 219.5,585.4 218.3,586.0C217.1,586.6 217.7,594.4 216.5,596.8C215.3,599.3 213.1,600.5 211.0,600.5C208.9,600.5 206.2,599.3 203.8,596.8C201.4,594.4 197.7,590.2 196.5,586.0C195.3,581.7 196.2,576.9 196.5,571.5C196.8,566.0 197.7,558.8 198.3,553.3C199.0,547.9 199.0,542.2 200.2,538.9C201.4,535.5 202.9,535.2 205.6,533.4Z" fill="#d69292"/>
</g>
<g filter="url(#b2)" opacity="0.8">
<path d="M198.3,542.5C200.5,538.9 206.2,536.7 209.2,538.9C212.2,541.0 214.1,549.7 216.5,555.2C218.9,560.6 221.9,566.3 223.7,571.5C225.5,576.6 228.5,582.0 227.3,586.0C226.1,589.9 220.1,593.5 216.5,595.0C212.8,596.5 208.8,597.1 205.6,595.0C202.4,592.9 199.0,588.1 197.4,582.3C195.9,576.6 196.4,567.2 196.5,560.6C196.7,554.0 196.2,546.1 198.3,542.5Z" fill="#8e4a58"/>
</g>
<g filter="url(#b2)" opacity="0.9">
<path d="M202.0,547.9C202.9,544.3 207.3,544.0 209.2,546.1C211.2,548.2 213.1,555.8 213.7,560.6C214.4,565.4 213.9,572.1 212.8,575.1C211.8,578.1 208.9,579.9 207.4,578.7C205.9,577.5 204.7,573.0 203.8,567.8C202.9,562.7 201.1,551.5 202.0,547.9Z" fill="#d8a8b4"/>
</g>
<g filter="url(#b2)" opacity="0.7">
<path d="M216.5,535.2C219.5,533.1 231.6,531.6 238.2,533.4C244.9,535.2 253.0,541.0 256.3,546.1C259.7,551.2 260.0,561.8 258.1,564.2C256.3,566.6 250.0,563.0 245.5,560.6C240.9,558.2 235.2,552.1 231.0,549.7C226.7,547.3 222.5,548.5 220.1,546.1C217.7,543.7 213.4,537.3 216.5,535.2Z" fill="#e0a098"/>
</g>
<g filter="url(#b2)" opacity="0.7">
<path d="M231.0,571.5C233.4,569.1 243.6,569.1 249.1,571.5C254.5,573.9 261.2,580.5 263.6,586.0C266.0,591.4 266.0,599.9 263.6,604.1C261.2,608.3 253.0,611.9 249.1,611.3C245.2,610.7 242.4,604.7 240.0,600.5C237.6,596.2 236.1,590.8 234.6,586.0C233.1,581.1 228.5,573.9 231.0,571.5Z" fill="#dc9890"/>
</g>
<g filter="url(#b2)" opacity="0.7">
<path d="M174.8,549.7C177.8,544.3 184.5,537.9 187.5,538.9C190.5,539.8 192.9,548.5 192.9,555.2C192.9,561.8 190.5,571.8 187.5,578.7C184.5,585.7 178.4,593.8 174.8,596.8C171.2,599.9 166.6,601.1 165.7,596.8C164.8,592.6 167.8,579.3 169.4,571.5C170.9,563.6 171.8,555.2 174.8,549.7Z" fill="#e2a49c"/>
</g>
<g filter="url(#b2)" opacity="0.6">
<path d="M223.7,557.0C226.4,555.8 234.6,558.2 238.2,560.6C241.8,563.0 246.7,569.1 245.5,571.5C244.3,573.9 234.9,575.7 231.0,575.1C227.0,574.5 223.1,570.9 221.9,567.8C220.7,564.8 221.0,558.2 223.7,557.0Z" fill="#a85a66"/>
</g>
<g fill="#f0c4bc" opacity="0.6" filter="url(#b1)"><circle cx="190.7" cy="530.1" r="2.0"/><circle cx="186.4" cy="540.7" r="1.3"/><circle cx="163.7" cy="592.3" r="2.0"/><circle cx="183.5" cy="566.5" r="2.1"/><circle cx="167.3" cy="576.2" r="2.4"/><circle cx="188.8" cy="555.0" r="2.5"/><circle cx="173.5" cy="596.3" r="1.4"/><circle cx="192.5" cy="590.9" r="1.8"/><circle cx="175.8" cy="585.3" r="2.4"/><circle cx="171.9" cy="618.1" r="2.1"/><circle cx="191.5" cy="574.8" r="2.2"/><circle cx="167.0" cy="577.5" r="1.5"/><circle cx="185.1" cy="570.2" r="2.5"/><circle cx="191.8" cy="562.4" r="2.6"/></g>
<g fill="#f0c0b8" opacity="0.55" filter="url(#b1)"><circle cx="241.4" cy="597.8" r="1.9"/><circle cx="213.7" cy="541.3" r="1.5"/><circle cx="242.3" cy="535.7" r="1.2"/><circle cx="231.5" cy="571.4" r="2.2"/><circle cx="252.5" cy="579.6" r="2.2"/><circle cx="215.9" cy="590.5" r="2.1"/><circle cx="202.9" cy="553.1" r="2.7"/><circle cx="231.2" cy="555.2" r="1.3"/><circle cx="227.3" cy="559.8" r="2.0"/><circle cx="200.5" cy="539.1" r="1.5"/><circle cx="230.8" cy="553.7" r="2.2"/><circle cx="214.6" cy="578.5" r="2.4"/><circle cx="204.5" cy="542.6" r="1.9"/><circle cx="246.8" cy="610.8" r="2.6"/><circle cx="206.0" cy="549.2" r="2.2"/><circle cx="227.0" cy="567.4" r="2.5"/><circle cx="257.7" cy="576.9" r="2.5"/><circle cx="239.2" cy="592.8" r="1.5"/><circle cx="238.4" cy="552.5" r="1.4"/><circle cx="247.0" cy="544.5" r="1.6"/></g>
</g>
<polygon points="187.5,575.3 191.9,571.8 194.0,574.3 196.5,566.0 187.9,566.9 190.0,569.4 185.6,573.0" fill="#fff"/>
<polygon points="203.2,601.4 198.5,595.3 201.1,593.3 192.9,590.5 193.5,599.1 196.1,597.1 200.8,603.2" fill="#fff"/>
<polygon points="224.2,595.4 220.5,585.8 223.6,584.6 216.5,579.6 214.6,588.1 217.7,586.9 221.4,596.5" fill="#fff"/>
<g filter="url(#tx)">
<g filter="url(#b1)" opacity="1">
<path d="M390.4,546.1C391.9,541.3 397.1,539.5 399.5,542.5C401.9,545.5 404.9,557.6 404.9,564.2C404.9,570.9 401.6,578.7 399.5,582.3C397.4,586.0 393.7,587.8 392.2,586.0C390.7,584.2 390.7,578.1 390.4,571.5C390.1,564.8 388.9,550.9 390.4,546.1Z" fill="#b87c80"/>
</g>
<g filter="url(#b1)" opacity="1">
<path d="M357.8,537.0C361.4,534.6 368.1,532.2 372.3,531.6C376.5,531.0 380.1,531.0 383.2,533.4C386.2,535.8 388.9,541.0 390.4,546.1C391.9,551.2 392.2,558.2 392.2,564.2C392.2,570.3 391.0,576.9 390.4,582.3C389.8,587.8 389.2,592.0 388.6,596.8C388.0,601.7 388.0,606.8 386.8,611.3C385.6,615.9 384.4,622.5 381.4,624.0C378.3,625.5 372.3,622.2 368.7,620.4C365.0,618.6 362.3,617.1 359.6,613.1C356.9,609.2 354.2,602.6 352.4,596.8C350.5,591.1 349.9,584.8 348.7,578.7C347.5,572.7 344.8,566.0 345.1,560.6C345.4,555.2 348.4,550.0 350.5,546.1C352.7,542.2 354.2,539.5 357.8,537.0Z" fill="#d2827a"/>
</g>
<g filter="url(#b1)" opacity="1">
<path d="M392.2,518.9C391.9,516.5 394.9,516.2 397.7,517.1C400.4,518.0 404.3,523.5 408.5,524.4C412.8,525.3 418.2,521.6 423.0,522.5C427.9,523.5 433.3,525.9 437.5,529.8C441.8,533.7 446.3,540.4 448.4,546.1C450.5,551.8 451.4,559.4 450.2,564.2C449.0,569.1 442.7,570.9 441.1,575.1C439.6,579.3 441.8,584.2 441.1,589.6C440.5,595.0 439.9,602.0 437.5,607.7C435.1,613.4 430.9,620.4 426.7,624.0C422.4,627.6 416.1,629.8 412.2,629.4C408.2,629.1 405.5,625.8 403.1,622.2C400.7,618.6 398.9,612.5 397.7,607.7C396.5,602.9 395.2,598.0 395.8,593.2C396.5,588.4 399.8,583.5 401.3,578.7C402.8,573.9 404.6,569.7 404.9,564.2C405.2,558.8 404.0,551.5 403.1,546.1C402.2,540.7 401.3,536.1 399.5,531.6C397.7,527.1 392.5,521.3 392.2,518.9Z" fill="#d68a78"/>
</g>
<g filter="url(#b2)" opacity="0.7">
<path d="M356.0,546.1C360.2,542.5 370.8,537.6 375.9,538.9C381.1,540.1 385.3,546.7 386.8,553.3C388.3,560.0 387.4,572.7 385.0,578.7C382.6,584.8 377.1,589.6 372.3,589.6C367.5,589.6 359.6,583.5 356.0,578.7C352.4,573.9 350.5,566.0 350.5,560.6C350.5,555.2 351.8,549.7 356.0,546.1Z" fill="#e29a8e"/>
</g>
<g filter="url(#b2)" opacity="0.55">
<path d="M404.9,529.8C407.6,526.8 418.2,525.9 423.0,528.0C427.9,530.1 432.7,537.0 433.9,542.5C435.1,547.9 433.3,558.2 430.3,560.6C427.3,563.0 419.7,559.4 415.8,557.0C411.9,554.6 408.5,550.6 406.7,546.1C404.9,541.6 402.2,532.8 404.9,529.8Z" fill="#e6a88c"/>
</g>
<g filter="url(#b2)" opacity="0.6">
<path d="M404.9,586.0C407.9,580.5 417.9,577.5 423.0,578.7C428.2,579.9 434.5,587.2 435.7,593.2C436.9,599.3 433.6,609.8 430.3,615.0C427.0,620.1 420.0,624.6 415.8,624.0C411.6,623.4 406.7,617.7 404.9,611.3C403.1,605.0 401.9,591.4 404.9,586.0Z" fill="#eab090"/>
</g>
<g filter="url(#b1)" opacity="0.9">
<path d="M392.2,520.7C391.9,518.2 397.4,518.3 399.5,519.8C401.6,521.3 404.6,527.2 404.9,529.8C405.2,532.4 403.4,536.7 401.3,535.2C399.2,533.7 392.5,523.3 392.2,520.7Z" fill="#f0c8a0"/>
</g>
<g filter="url(#b2)" opacity="0.8">
<path d="M390.4,578.7C391.8,574.5 396.1,569.7 397.7,571.5C399.2,573.3 400.1,584.8 399.5,589.6C398.9,594.4 395.7,599.3 394.0,600.5C392.4,601.7 390.1,600.5 389.5,596.8C388.9,593.2 389.1,582.9 390.4,578.7Z" fill="#5a2a30"/>
</g>
<g filter="url(#b2)" opacity="0.7">
<path d="M433.9,531.6C435.1,531.0 444.0,540.7 446.6,546.1C449.1,551.5 450.2,560.0 449.3,564.2C448.4,568.4 442.8,573.9 441.1,571.5C439.5,569.1 440.5,556.4 439.3,549.7C438.1,543.1 432.7,532.2 433.9,531.6Z" fill="#c87868"/>
</g>
</g>
<polygon points="345.1,589.9 351.9,585.0 353.8,587.7 356.9,579.6 348.2,579.9 350.2,582.6 343.3,587.5" fill="#fff"/>
<polygon points="345.1,618.9 351.9,614.0 353.8,616.7 356.9,608.6 348.2,608.9 350.2,611.6 343.3,616.5" fill="#fff"/>
<polygon points="440.6,628.6 435.7,621.8 438.4,619.8 430.3,616.8 430.6,625.4 433.2,623.5 438.1,630.3" fill="#fff"/>
<g filter="url(#tx2)">
<g filter="url(#b1)" opacity="1">
<path d="M567.9,509.9C565.2,510.5 561.9,515.6 558.9,518.9C555.8,522.2 552.2,525.3 549.8,529.8C547.4,534.3 545.9,541.0 544.4,546.1C542.8,551.2 541.9,555.8 540.7,560.6C539.5,565.4 536.8,570.9 537.1,575.1C537.4,579.3 541.0,581.7 542.5,586.0C544.1,590.2 544.4,596.5 546.2,600.5C548.0,604.4 550.1,607.7 553.4,609.5C556.7,611.3 562.2,610.7 566.1,611.3C570.0,611.9 574.3,614.3 577.0,613.1C579.7,611.9 581.8,608.0 582.4,604.1C583.0,600.2 581.2,594.4 580.6,589.6C580.0,584.8 578.8,580.5 578.8,575.1C578.8,569.7 581.2,562.4 580.6,557.0C580.0,551.5 576.4,547.3 575.2,542.5C574.0,537.6 573.3,532.5 573.3,528.0C573.3,523.5 576.1,518.3 575.2,515.3C574.3,512.3 570.6,509.3 567.9,509.9Z" fill="#8a4632"/>
</g>
<g filter="url(#b1)" opacity="1">
<path d="M573.3,528.0C573.7,523.5 575.8,516.5 578.8,515.3C581.8,514.1 586.9,518.6 591.5,520.7C596.0,522.8 601.7,525.6 606.0,528.0C610.2,530.4 613.8,531.9 616.8,535.2C619.9,538.6 622.0,543.1 624.1,547.9C626.2,552.7 627.7,559.7 629.5,564.2C631.3,568.7 633.1,572.1 635.0,575.1C636.8,578.1 640.4,579.3 640.4,582.3C640.4,585.4 636.8,589.6 635.0,593.2C633.1,596.8 631.6,599.9 629.5,604.1C627.4,608.3 625.0,615.6 622.3,618.6C619.6,621.6 616.5,622.2 613.2,622.2C609.9,622.2 605.1,621.6 602.3,618.6C599.6,615.6 598.7,608.9 596.9,604.1C595.1,599.3 593.3,594.4 591.5,589.6C589.7,584.8 587.5,580.5 586.0,575.1C584.5,569.7 583.9,562.4 582.4,557.0C580.9,551.5 578.5,547.3 577.0,542.5C575.5,537.6 573.0,532.5 573.3,528.0Z" fill="#9a5a3c"/>
</g>
<g filter="url(#b2)" opacity="0.75">
<path d="M577.0,520.7C578.8,518.3 586.0,521.9 591.5,524.4C596.9,526.8 604.8,530.4 609.6,535.2C614.4,540.1 617.4,547.3 620.5,553.3C623.5,559.4 628.3,566.0 627.7,571.5C627.1,576.9 621.1,586.0 616.8,586.0C612.6,586.0 606.6,577.5 602.3,571.5C598.1,565.4 595.1,555.2 591.5,549.7C587.8,544.3 583.0,543.7 580.6,538.9C578.2,534.0 575.2,523.1 577.0,520.7Z" fill="#c89a70"/>
</g>
<g filter="url(#b2)" opacity="0.8">
<path d="M551.6,529.8C554.0,526.2 562.8,522.2 566.1,524.4C569.4,526.5 572.1,538.2 571.5,542.5C570.9,546.7 565.8,549.1 562.5,549.7C559.2,550.3 553.4,549.4 551.6,546.1C549.8,542.8 549.2,533.4 551.6,529.8Z" fill="#a86850"/>
</g>
<g filter="url(#b1)" opacity="0.9">
<path d="M566.1,511.7C567.3,510.2 573.7,511.4 575.2,513.5C576.7,515.6 576.4,522.8 575.2,524.4C574.0,525.9 569.4,524.7 567.9,522.5C566.4,520.4 564.9,513.2 566.1,511.7Z" fill="#d8b088"/>
</g>
<g filter="url(#b2)" opacity="0.7">
<path d="M598.7,586.0C600.8,581.4 612.0,585.4 616.8,587.8C621.7,590.2 627.7,595.3 627.7,600.5C627.7,605.6 620.8,616.2 616.8,618.6C612.9,621.0 607.2,620.4 604.2,615.0C601.1,609.5 596.6,590.5 598.7,586.0Z" fill="#7a3a28"/>
</g>
<g filter="url(#b2)" opacity="0.6">
<path d="M544.4,571.5C547.1,566.0 557.0,563.0 562.5,564.2C567.9,565.4 574.9,572.1 577.0,578.7C579.1,585.4 578.2,599.3 575.2,604.1C572.1,608.9 563.7,608.9 558.9,607.7C554.0,606.5 548.6,602.9 546.2,596.8C543.8,590.8 541.6,576.9 544.4,571.5Z" fill="#7e3c2a"/>
</g>
</g>
<g fill="#ecd6b0" opacity="0.75"><circle cx="575.3" cy="594.8" r="0.9"/><circle cx="554.2" cy="552.9" r="0.5"/><circle cx="567.6" cy="534.6" r="0.8"/><circle cx="577.2" cy="551.2" r="0.8"/><circle cx="568.8" cy="516.4" r="0.9"/><circle cx="548.6" cy="602.4" r="0.5"/><circle cx="569.0" cy="601.4" r="0.7"/><circle cx="579.8" cy="601.6" r="0.5"/><circle cx="560.2" cy="555.9" r="0.6"/><circle cx="551.2" cy="594.7" r="0.7"/><circle cx="542.5" cy="583.3" r="0.8"/><circle cx="551.0" cy="594.0" r="0.9"/><circle cx="560.3" cy="534.8" r="0.5"/><circle cx="577.2" cy="548.6" r="1.2"/><circle cx="555.0" cy="608.3" r="0.9"/><circle cx="547.0" cy="587.8" r="1.0"/><circle cx="569.2" cy="558.7" r="0.7"/><circle cx="567.0" cy="521.2" r="1.0"/><circle cx="566.8" cy="549.5" r="1.1"/><circle cx="544.7" cy="551.0" r="1.1"/><circle cx="554.0" cy="584.9" r="0.9"/><circle cx="571.2" cy="594.9" r="0.6"/><circle cx="570.6" cy="599.0" r="0.8"/><circle cx="562.7" cy="560.3" r="1.2"/><circle cx="550.9" cy="552.2" r="0.5"/><circle cx="556.0" cy="576.3" r="1.2"/><circle cx="577.9" cy="597.0" r="0.6"/><circle cx="561.4" cy="537.1" r="0.8"/><circle cx="562.7" cy="521.2" r="1.1"/><circle cx="548.9" cy="556.9" r="0.5"/></g>
<g fill="#f0dab4" opacity="0.75"><circle cx="606.8" cy="588.4" r="1.3"/><circle cx="598.6" cy="602.3" r="0.9"/><circle cx="616.6" cy="596.1" r="1.0"/><circle cx="623.4" cy="591.7" r="0.5"/><circle cx="577.7" cy="531.4" r="0.7"/><circle cx="589.2" cy="520.4" r="0.7"/><circle cx="617.1" cy="612.5" r="0.8"/><circle cx="600.6" cy="560.8" r="1.1"/><circle cx="601.3" cy="592.7" r="0.8"/><circle cx="625.8" cy="573.8" r="0.8"/><circle cx="608.4" cy="606.6" r="0.5"/><circle cx="614.0" cy="569.0" r="1.0"/><circle cx="626.1" cy="572.7" r="1.0"/><circle cx="609.4" cy="582.7" r="0.7"/><circle cx="613.7" cy="589.0" r="0.7"/><circle cx="606.0" cy="543.8" r="0.5"/><circle cx="579.6" cy="536.2" r="1.1"/><circle cx="610.1" cy="575.4" r="0.9"/><circle cx="594.2" cy="568.7" r="1.3"/><circle cx="592.6" cy="536.3" r="0.8"/><circle cx="600.6" cy="534.3" r="0.5"/><circle cx="579.2" cy="538.6" r="0.9"/><circle cx="617.8" cy="616.4" r="0.6"/><circle cx="618.8" cy="570.8" r="0.6"/><circle cx="628.2" cy="605.5" r="0.9"/><circle cx="601.2" cy="611.8" r="0.9"/><circle cx="601.1" cy="554.8" r="0.6"/><circle cx="594.4" cy="540.2" r="0.6"/><circle cx="612.9" cy="563.6" r="0.5"/><circle cx="584.4" cy="556.1" r="1.4"/><circle cx="608.6" cy="542.4" r="1.3"/><circle cx="611.7" cy="535.2" r="0.9"/><circle cx="626.9" cy="593.5" r="0.7"/><circle cx="598.3" cy="561.8" r="0.8"/><circle cx="622.7" cy="601.7" r="0.8"/><circle cx="610.2" cy="576.3" r="1.0"/><circle cx="614.7" cy="603.5" r="0.7"/><circle cx="610.0" cy="620.6" r="0.6"/><circle cx="629.8" cy="567.0" r="0.9"/><circle cx="611.0" cy="542.5" r="0.8"/><circle cx="579.9" cy="532.4" r="0.7"/><circle cx="579.1" cy="521.7" r="1.3"/><circle cx="593.5" cy="579.3" r="0.7"/><circle cx="615.0" cy="578.0" r="0.8"/><circle cx="631.6" cy="588.3" r="0.9"/></g>
<g filter="url(#tx)">
<g filter="url(#b1)" opacity="1">
<path d="M758.2,542.5C760.6,536.1 775.7,523.8 779.9,529.8C784.1,535.8 784.7,569.4 783.5,578.7C782.3,588.1 775.7,587.8 772.7,586.0C769.6,584.2 767.8,575.1 765.4,567.8C763.0,560.6 755.7,548.8 758.2,542.5Z" fill="#d8a888"/>
</g>
<g filter="url(#b1)" opacity="1">
<path d="M750.9,535.2C748.2,535.2 743.1,538.9 740.0,542.5C737.0,546.1 734.9,551.5 732.8,557.0C730.7,562.4 728.6,569.1 727.4,575.1C726.2,581.1 724.6,587.2 725.5,593.2C726.5,599.3 729.2,606.2 732.8,611.3C736.4,616.5 742.5,621.0 747.3,624.0C752.1,627.0 757.6,628.8 761.8,629.4C766.0,630.1 770.2,630.1 772.7,627.6C775.1,625.2 776.3,619.5 776.3,615.0C776.3,610.4 773.9,605.9 772.7,600.5C771.5,595.0 770.2,587.8 769.0,582.3C767.8,576.9 767.2,572.7 765.4,567.8C763.6,563.0 759.7,557.6 758.2,553.3C756.7,549.1 757.6,545.5 756.4,542.5C755.1,539.5 753.6,535.2 750.9,535.2Z" fill="#cc7468"/>
</g>
<g filter="url(#b1)" opacity="1">
<path d="M779.9,528.0C782.3,526.2 783.5,524.4 787.2,524.4C790.8,524.4 796.8,526.2 801.7,528.0C806.5,529.8 811.9,531.9 816.1,535.2C820.4,538.6 824.3,543.1 827.0,547.9C829.7,552.7 832.2,559.1 832.5,564.2C832.8,569.4 829.7,573.9 828.8,578.7C827.9,583.5 828.5,588.4 827.0,593.2C825.5,598.0 822.8,603.5 819.8,607.7C816.8,611.9 812.5,615.9 808.9,618.6C805.3,621.3 801.0,624.0 798.0,624.0C795.0,624.0 792.6,621.9 790.8,618.6C789.0,615.3 788.4,608.9 787.2,604.1C785.9,599.3 784.7,593.8 783.5,589.6C782.3,585.4 781.7,581.7 779.9,578.7C778.1,575.7 774.5,574.5 772.7,571.5C770.8,568.4 770.2,564.2 769.0,560.6C767.8,557.0 766.6,552.7 765.4,549.7C764.2,546.7 760.6,544.9 761.8,542.5C763.0,540.1 769.6,537.6 772.7,535.2C775.7,532.8 777.5,529.8 779.9,528.0Z" fill="#cf7c6a"/>
</g>
<g filter="url(#b2)" opacity="0.8">
<path d="M727.4,578.7C728.6,574.5 733.7,568.4 736.4,571.5C739.1,574.5 740.0,589.0 743.7,596.8C747.3,604.7 753.9,613.7 758.2,618.6C762.4,623.4 769.0,624.3 769.0,625.8C769.0,627.3 763.0,629.4 758.2,627.6C753.3,625.8 744.9,620.1 740.0,615.0C735.2,609.8 731.3,602.9 729.2,596.8C727.1,590.8 726.2,582.9 727.4,578.7Z" fill="#e8b890"/>
</g>
<g filter="url(#b2)" opacity="0.75">
<path d="M798.0,578.7C802.0,572.7 811.3,570.3 816.1,571.5C821.0,572.7 827.0,579.9 827.0,586.0C827.0,592.0 820.7,602.0 816.1,607.7C811.6,613.4 803.8,620.4 799.8,620.4C795.9,620.4 792.9,614.7 792.6,607.7C792.3,600.8 794.1,584.8 798.0,578.7Z" fill="#e6b088"/>
</g>
<g filter="url(#b2)" opacity="0.6">
<path d="M743.7,549.7C746.4,546.1 750.9,542.5 754.5,546.1C758.2,549.7 763.0,563.0 765.4,571.5C767.8,579.9 770.2,590.8 769.0,596.8C767.8,602.9 762.4,608.9 758.2,607.7C753.9,606.5 747.0,596.2 743.7,589.6C740.3,582.9 738.2,574.5 738.2,567.8C738.2,561.2 741.0,553.3 743.7,549.7Z" fill="#d86c66"/>
</g>
<g filter="url(#b2)" opacity="0.6">
<path d="M787.2,531.6C790.2,529.2 802.6,531.6 808.9,535.2C815.2,538.9 822.2,547.9 825.2,553.3C828.2,558.8 829.7,566.6 827.0,567.8C824.3,569.1 814.9,563.6 808.9,560.6C802.9,557.6 794.4,554.6 790.8,549.7C787.2,544.9 784.1,534.0 787.2,531.6Z" fill="#d88474"/>
</g>
</g>
<g fill="#f4d4b8" opacity="0.75"><circle cx="758.2" cy="610.0" r="1.2"/><circle cx="775.3" cy="617.4" r="1.3"/><circle cx="751.7" cy="545.9" r="0.6"/><circle cx="763.8" cy="566.9" r="1.2"/><circle cx="740.4" cy="610.4" r="1.4"/><circle cx="755.5" cy="623.1" r="0.7"/><circle cx="745.4" cy="594.5" r="1.0"/><circle cx="737.4" cy="573.9" r="1.1"/><circle cx="742.7" cy="557.0" r="1.1"/><circle cx="757.7" cy="564.1" r="0.7"/><circle cx="767.2" cy="600.5" r="1.2"/><circle cx="737.1" cy="605.1" r="0.7"/><circle cx="768.0" cy="588.6" r="1.1"/><circle cx="757.6" cy="597.2" r="0.9"/><circle cx="745.7" cy="544.9" r="0.7"/><circle cx="768.5" cy="594.5" r="1.1"/><circle cx="768.7" cy="596.1" r="1.0"/><circle cx="755.6" cy="591.2" r="0.9"/><circle cx="761.7" cy="576.6" r="1.1"/><circle cx="751.7" cy="607.4" r="1.2"/><circle cx="765.3" cy="616.1" r="1.0"/><circle cx="732.1" cy="605.8" r="1.3"/><circle cx="742.1" cy="559.7" r="1.2"/><circle cx="753.4" cy="541.4" r="0.8"/><circle cx="737.0" cy="592.3" r="1.0"/><circle cx="753.4" cy="570.7" r="0.9"/><circle cx="752.5" cy="591.2" r="1.1"/><circle cx="766.2" cy="584.1" r="1.4"/><circle cx="752.6" cy="583.5" r="1.3"/><circle cx="758.5" cy="613.9" r="0.9"/><circle cx="755.4" cy="598.4" r="0.8"/><circle cx="732.3" cy="564.3" r="1.2"/><circle cx="751.2" cy="543.2" r="0.8"/><circle cx="756.0" cy="545.5" r="0.9"/><circle cx="736.6" cy="602.1" r="0.7"/><circle cx="745.4" cy="580.4" r="1.3"/><circle cx="747.2" cy="552.2" r="0.9"/><circle cx="745.4" cy="591.1" r="0.7"/><circle cx="748.2" cy="598.9" r="0.9"/><circle cx="747.0" cy="603.4" r="1.0"/><circle cx="740.6" cy="569.1" r="1.1"/><circle cx="732.9" cy="563.9" r="1.2"/><circle cx="739.1" cy="550.6" r="1.1"/><circle cx="753.1" cy="575.0" r="1.4"/><circle cx="748.0" cy="590.8" r="1.2"/><circle cx="763.7" cy="577.6" r="1.4"/><circle cx="750.0" cy="613.7" r="0.8"/><circle cx="769.1" cy="627.8" r="0.8"/><circle cx="753.5" cy="611.2" r="1.4"/><circle cx="762.1" cy="601.9" r="0.9"/><circle cx="734.3" cy="612.6" r="0.7"/><circle cx="754.3" cy="568.5" r="0.7"/><circle cx="742.8" cy="611.9" r="1.2"/><circle cx="750.6" cy="573.2" r="1.4"/><circle cx="753.1" cy="600.7" r="1.3"/><circle cx="752.9" cy="596.3" r="1.0"/><circle cx="771.0" cy="608.7" r="1.0"/><circle cx="744.2" cy="600.5" r="0.7"/><circle cx="768.0" cy="588.0" r="0.9"/><circle cx="765.3" cy="626.2" r="1.0"/><circle cx="750.9" cy="545.1" r="1.0"/><circle cx="735.8" cy="588.6" r="0.7"/><circle cx="740.6" cy="618.1" r="0.9"/><circle cx="769.2" cy="599.6" r="0.7"/><circle cx="750.1" cy="586.9" r="1.0"/><circle cx="735.7" cy="567.3" r="1.2"/><circle cx="757.2" cy="576.8" r="1.0"/><circle cx="749.9" cy="584.4" r="1.0"/><circle cx="759.6" cy="585.6" r="1.2"/><circle cx="753.8" cy="618.7" r="1.3"/></g>
<g fill="#f2d0b4" opacity="0.6"><circle cx="795.2" cy="544.7" r="1.2"/><circle cx="810.5" cy="560.3" r="0.7"/><circle cx="803.3" cy="536.2" r="1.2"/><circle cx="801.5" cy="534.1" r="1.2"/><circle cx="786.5" cy="575.3" r="1.2"/><circle cx="794.8" cy="545.5" r="1.0"/><circle cx="782.7" cy="566.6" r="1.2"/><circle cx="828.0" cy="561.2" r="1.3"/><circle cx="823.7" cy="594.4" r="1.4"/><circle cx="783.8" cy="571.1" r="0.8"/><circle cx="781.6" cy="552.7" r="0.9"/><circle cx="782.1" cy="578.3" r="1.3"/><circle cx="803.0" cy="540.5" r="0.7"/><circle cx="819.2" cy="558.1" r="0.7"/><circle cx="785.5" cy="595.0" r="1.2"/><circle cx="810.7" cy="572.1" r="1.2"/><circle cx="788.3" cy="581.8" r="0.7"/><circle cx="787.8" cy="548.0" r="1.3"/><circle cx="791.9" cy="550.4" r="0.9"/><circle cx="797.6" cy="578.5" r="1.1"/><circle cx="794.9" cy="594.6" r="1.1"/><circle cx="800.8" cy="548.6" r="1.2"/><circle cx="799.5" cy="568.1" r="1.0"/><circle cx="788.9" cy="567.0" r="0.9"/><circle cx="800.7" cy="616.4" r="1.2"/><circle cx="811.6" cy="553.4" r="1.2"/><circle cx="785.5" cy="529.6" r="0.8"/><circle cx="796.8" cy="531.2" r="1.0"/><circle cx="804.1" cy="594.0" r="1.1"/><circle cx="774.2" cy="568.3" r="0.7"/><circle cx="786.0" cy="534.5" r="1.1"/><circle cx="809.6" cy="591.0" r="0.8"/><circle cx="782.5" cy="548.2" r="1.2"/><circle cx="787.2" cy="598.6" r="0.6"/><circle cx="789.8" cy="606.0" r="1.1"/><circle cx="804.7" cy="605.0" r="0.7"/><circle cx="783.4" cy="548.4" r="0.7"/><circle cx="786.2" cy="594.1" r="0.9"/><circle cx="824.1" cy="546.9" r="1.0"/><circle cx="821.5" cy="562.5" r="1.1"/><circle cx="815.1" cy="603.1" r="0.7"/><circle cx="821.3" cy="549.2" r="0.6"/><circle cx="809.1" cy="554.0" r="1.4"/><circle cx="802.4" cy="580.2" r="1.3"/><circle cx="800.7" cy="603.8" r="0.7"/><circle cx="794.1" cy="612.9" r="0.8"/><circle cx="825.7" cy="593.4" r="0.9"/><circle cx="818.0" cy="562.0" r="0.9"/><circle cx="811.7" cy="573.7" r="0.8"/><circle cx="793.5" cy="571.5" r="0.8"/><circle cx="786.3" cy="552.3" r="1.3"/><circle cx="795.5" cy="609.3" r="0.7"/><circle cx="815.1" cy="592.6" r="1.1"/><circle cx="813.1" cy="551.8" r="1.2"/><circle cx="775.8" cy="558.3" r="0.9"/><circle cx="794.7" cy="528.2" r="0.6"/><circle cx="807.8" cy="593.8" r="1.0"/><circle cx="799.3" cy="546.1" r="0.9"/><circle cx="795.7" cy="598.6" r="0.6"/><circle cx="785.4" cy="574.4" r="1.2"/></g>
<polygon points="714.7,601.7 719.8,597.8 721.8,600.5 724.6,592.3 716.0,592.8 718.0,595.4 712.9,599.3" fill="#fff"/>
<polygon points="722.9,615.2 726.6,611.8 728.8,614.3 731.0,605.9 722.4,607.1 724.6,609.6 720.9,612.9" fill="#fff"/>
<polygon points="781.1,638.4 775.7,632.2 778.3,630.0 769.9,627.6 770.9,636.2 773.4,634.1 778.8,640.4" fill="#fff"/>
<polygon points="833.6,612.2 829.2,606.8 831.7,604.7 823.4,602.3 824.3,610.9 826.9,608.8 831.3,614.1" fill="#fff"/>
<line x1="970.0" y1="448.4" x2="970.0" y2="596.0" stroke="#000" stroke-width="1.8"/>
<line x1="965.0" y1="596.0" x2="970.0" y2="596.0" stroke="#000" stroke-width="1.8"/>
<text x="963.5" y="605.1" font-size="23.4" text-anchor="end">0</text>
<line x1="965.0" y1="566.7" x2="970.0" y2="566.7" stroke="#000" stroke-width="1.8"/>
<text x="963.5" y="575.7" font-size="23.4" text-anchor="end">20</text>
<line x1="965.0" y1="537.3" x2="970.0" y2="537.3" stroke="#000" stroke-width="1.8"/>
<text x="963.5" y="546.4" font-size="23.4" text-anchor="end">40</text>
<line x1="965.0" y1="508.0" x2="970.0" y2="508.0" stroke="#000" stroke-width="1.8"/>
<text x="963.5" y="517.1" font-size="23.4" text-anchor="end">60</text>
<line x1="965.0" y1="478.7" x2="970.0" y2="478.7" stroke="#000" stroke-width="1.8"/>
<text x="963.5" y="487.8" font-size="23.4" text-anchor="end">80</text>
<line x1="965.0" y1="449.4" x2="970.0" y2="449.4" stroke="#000" stroke-width="1.8"/>
<text x="963.5" y="458.4" font-size="23.4" text-anchor="end">100</text>
<line x1="965.0" y1="596.0" x2="1128.3" y2="596.0" stroke="#000" stroke-width="1.8"/>
<line x1="989.3" y1="596.0" x2="989.3" y2="601.0" stroke="#000" stroke-width="1.8"/>
<line x1="1029.3" y1="596.0" x2="1029.3" y2="601.0" stroke="#000" stroke-width="1.8"/>
<line x1="1069.0" y1="596.0" x2="1069.0" y2="601.0" stroke="#000" stroke-width="1.8"/>
<line x1="1108.3" y1="596.0" x2="1108.3" y2="601.0" stroke="#000" stroke-width="1.8"/>
<text x="917.5" y="526.0" font-size="23.4" text-anchor="middle" transform="rotate(-90 917.5 526.0)">Surface Mets #</text>
<text x="1007.3" y="505.7" font-size="23.4" text-anchor="middle">ns</text>
<line x1="989.0" y1="512.7" x2="1032.3" y2="512.7" stroke="#000" stroke-width="1.8"/>
<text x="1088.3" y="467.0" font-size="23.4" text-anchor="middle">*</text>
<line x1="1067.7" y1="465.3" x2="1111.0" y2="465.3" stroke="#000" stroke-width="1.8"/>
<line x1="989.3" y1="546.3" x2="989.3" y2="586.0" stroke="#000" stroke-width="1.8"/>
<line x1="983.0" y1="546.3" x2="995.6" y2="546.3" stroke="#000" stroke-width="1.8"/>
<line x1="983.0" y1="586.0" x2="995.6" y2="586.0" stroke="#000" stroke-width="1.8"/>
<line x1="976.3" y1="565.7" x2="1002.3" y2="565.7" stroke="#000" stroke-width="1.8"/>
<circle cx="989.3" cy="537.3" r="3.1" fill="#000"/>
<circle cx="989.3" cy="557.7" r="3.1" fill="#000"/>
<circle cx="989.3" cy="570.0" r="3.1" fill="#000"/>
<circle cx="993.3" cy="581.7" r="3.1" fill="#000"/>
<circle cx="985.3" cy="585.0" r="3.1" fill="#000"/>
<line x1="1029.3" y1="548.3" x2="1029.3" y2="582.7" stroke="#dc1e28" stroke-width="1.8"/>
<line x1="1023.0" y1="548.3" x2="1035.6" y2="548.3" stroke="#dc1e28" stroke-width="1.8"/>
<line x1="1023.0" y1="582.7" x2="1035.6" y2="582.7" stroke="#dc1e28" stroke-width="1.8"/>
<line x1="1016.3" y1="565.7" x2="1042.3" y2="565.7" stroke="#dc1e28" stroke-width="1.8"/>
<circle cx="1029.3" cy="537.3" r="3.1" fill="#dc1e28"/>
<circle cx="1025.0" cy="565.0" r="3.1" fill="#dc1e28"/>
<circle cx="1034.3" cy="567.3" r="3.1" fill="#dc1e28"/>
<circle cx="1034.3" cy="579.0" r="3.1" fill="#dc1e28"/>
<circle cx="1025.0" cy="581.0" r="3.1" fill="#dc1e28"/>
<line x1="1069.0" y1="480.7" x2="1069.0" y2="534.0" stroke="#1616c8" stroke-width="1.8"/>
<line x1="1062.7" y1="480.7" x2="1075.3" y2="480.7" stroke="#1616c8" stroke-width="1.8"/>
<line x1="1062.7" y1="534.0" x2="1075.3" y2="534.0" stroke="#1616c8" stroke-width="1.8"/>
<line x1="1056.0" y1="507.0" x2="1082.0" y2="507.0" stroke="#1616c8" stroke-width="1.8"/>
<circle cx="1069.0" cy="475.7" r="3.1" fill="#1616c8"/>
<circle cx="1069.0" cy="492.7" r="3.1" fill="#1616c8"/>
<circle cx="1069.0" cy="501.7" r="3.1" fill="#1616c8"/>
<circle cx="1072.7" cy="532.0" r="3.1" fill="#1616c8"/>
<circle cx="1064.7" cy="537.0" r="3.1" fill="#1616c8"/>
<line x1="1108.3" y1="528.0" x2="1108.3" y2="578.3" stroke="#1e7d1e" stroke-width="1.8"/>
<line x1="1102.0" y1="528.0" x2="1114.6" y2="528.0" stroke="#1e7d1e" stroke-width="1.8"/>
<line x1="1102.0" y1="578.3" x2="1114.6" y2="578.3" stroke="#1e7d1e" stroke-width="1.8"/>
<line x1="1095.3" y1="553.0" x2="1121.3" y2="553.0" stroke="#1e7d1e" stroke-width="1.8"/>
<circle cx="1108.3" cy="520.0" r="3.1" fill="#1e7d1e"/>
<circle cx="1108.3" cy="534.0" r="3.1" fill="#1e7d1e"/>
<circle cx="1108.3" cy="559.3" r="3.1" fill="#1e7d1e"/>
<circle cx="1112.7" cy="572.7" r="3.1" fill="#1e7d1e"/>
<circle cx="1104.0" cy="578.3" r="3.1" fill="#1e7d1e"/>
<text x="893.5" y="633.3" font-size="23.4">PyMT</text>
<text x="1006.3" y="615.5" font-size="23.4" text-anchor="end" transform="rotate(-45 1006.3 615.5)">WT</text>
<text x="1046.3" y="615.5" font-size="23.4" text-anchor="end" transform="rotate(-45 1046.3 615.5)">KO</text>
<text x="1086.0" y="615.5" font-size="23.4" text-anchor="end" transform="rotate(-45 1086.0 615.5)">WT</text>
<text x="1125.3" y="615.5" font-size="23.4" text-anchor="end" transform="rotate(-45 1125.3 615.5)">KO</text>
<line x1="971.0" y1="648.3" x2="1038.3" y2="648.3" stroke="#000" stroke-width="1.8"/>
<line x1="1054.0" y1="648.3" x2="1121.7" y2="648.3" stroke="#000" stroke-width="1.8"/>
<text x="1002.7" y="675.0" font-size="23.4" text-anchor="middle">UT</text>
<text x="1088.3" y="675.0" font-size="23.4" text-anchor="middle">LPS</text>
<text x="1150.0" y="399.6" font-size="29" font-weight="bold">d</text>
<line x1="1285.6" y1="421.5" x2="1285.6" y2="577.6" stroke="#000" stroke-width="1.8"/>
<line x1="1279.6" y1="577.6" x2="1285.6" y2="577.6" stroke="#000" stroke-width="1.8"/>
<text x="1278.5" y="586.7" font-size="23.4" text-anchor="end">0</text>
<line x1="1279.6" y1="525.9" x2="1285.6" y2="525.9" stroke="#000" stroke-width="1.8"/>
<text x="1278.5" y="534.9" font-size="23.4" text-anchor="end">5</text>
<line x1="1279.6" y1="474.1" x2="1285.6" y2="474.1" stroke="#000" stroke-width="1.8"/>
<text x="1278.5" y="483.2" font-size="23.4" text-anchor="end">10</text>
<line x1="1279.6" y1="422.4" x2="1285.6" y2="422.4" stroke="#000" stroke-width="1.8"/>
<text x="1278.5" y="431.4" font-size="23.4" text-anchor="end">15</text>
<line x1="1279.0" y1="577.6" x2="1452.0" y2="577.6" stroke="#000" stroke-width="1.8"/>
<line x1="1311.0" y1="577.6" x2="1311.0" y2="584.0" stroke="#000" stroke-width="1.8"/>
<line x1="1349.4" y1="577.6" x2="1349.4" y2="584.0" stroke="#000" stroke-width="1.8"/>
<line x1="1387.6" y1="577.6" x2="1387.6" y2="584.0" stroke="#000" stroke-width="1.8"/>
<line x1="1426.0" y1="577.6" x2="1426.0" y2="584.0" stroke="#000" stroke-width="1.8"/>
<text x="1247.5" y="505.5" font-size="23.4" text-anchor="middle" transform="rotate(-90 1247.5 505.5)">Total tumor Weight (g)</text>
<text x="1366.6" y="420.0" font-size="23.4" text-anchor="middle">ns</text>
<line x1="1311.4" y1="427.4" x2="1426.6" y2="427.4" stroke="#000" stroke-width="1.8"/>
<line x1="1311.0" y1="473.4" x2="1311.0" y2="531.0" stroke="#000" stroke-width="1.8"/>
<line x1="1304.8" y1="473.4" x2="1317.2" y2="473.4" stroke="#000" stroke-width="1.8"/>
<line x1="1304.8" y1="531.0" x2="1317.2" y2="531.0" stroke="#000" stroke-width="1.8"/>
<line x1="1298.5" y1="502.0" x2="1323.5" y2="502.0" stroke="#000" stroke-width="1.8"/>
<circle cx="1311.0" cy="460.0" r="3.1" fill="#000"/>
<circle cx="1311.0" cy="489.4" r="3.1" fill="#000"/>
<circle cx="1311.0" cy="507.0" r="3.1" fill="#000"/>
<circle cx="1311.0" cy="518.6" r="3.1" fill="#000"/>
<circle cx="1311.0" cy="536.0" r="3.1" fill="#000"/>
<line x1="1349.4" y1="479.6" x2="1349.4" y2="532.0" stroke="#dc1e28" stroke-width="1.8"/>
<line x1="1343.2" y1="479.6" x2="1355.6" y2="479.6" stroke="#dc1e28" stroke-width="1.8"/>
<line x1="1343.2" y1="532.0" x2="1355.6" y2="532.0" stroke="#dc1e28" stroke-width="1.8"/>
<line x1="1336.9" y1="506.0" x2="1361.9" y2="506.0" stroke="#dc1e28" stroke-width="1.8"/>
<circle cx="1349.4" cy="477.0" r="3.1" fill="#dc1e28"/>
<circle cx="1354.0" cy="490.0" r="3.1" fill="#dc1e28"/>
<circle cx="1344.6" cy="498.0" r="3.1" fill="#dc1e28"/>
<circle cx="1349.4" cy="522.6" r="3.1" fill="#dc1e28"/>
<circle cx="1349.4" cy="542.0" r="3.1" fill="#dc1e28"/>
<line x1="1387.6" y1="472.6" x2="1387.6" y2="531.6" stroke="#1616c8" stroke-width="1.8"/>
<line x1="1381.4" y1="472.6" x2="1393.8" y2="472.6" stroke="#1616c8" stroke-width="1.8"/>
<line x1="1381.4" y1="531.6" x2="1393.8" y2="531.6" stroke="#1616c8" stroke-width="1.8"/>
<line x1="1375.1" y1="502.0" x2="1400.1" y2="502.0" stroke="#1616c8" stroke-width="1.8"/>
<circle cx="1387.6" cy="462.4" r="3.1" fill="#1616c8"/>
<circle cx="1392.4" cy="493.0" r="3.1" fill="#1616c8"/>
<circle cx="1383.0" cy="497.2" r="3.1" fill="#1616c8"/>
<circle cx="1387.6" cy="515.4" r="3.1" fill="#1616c8"/>
<circle cx="1387.6" cy="543.0" r="3.1" fill="#1616c8"/>
<line x1="1426.0" y1="475.6" x2="1426.0" y2="535.6" stroke="#1e7d1e" stroke-width="1.8"/>
<line x1="1419.8" y1="475.6" x2="1432.2" y2="475.6" stroke="#1e7d1e" stroke-width="1.8"/>
<line x1="1419.8" y1="535.6" x2="1432.2" y2="535.6" stroke="#1e7d1e" stroke-width="1.8"/>
<line x1="1413.5" y1="505.6" x2="1438.5" y2="505.6" stroke="#1e7d1e" stroke-width="1.8"/>
<circle cx="1426.0" cy="466.0" r="3.1" fill="#1e7d1e"/>
<circle cx="1426.0" cy="486.0" r="3.1" fill="#1e7d1e"/>
<circle cx="1426.0" cy="509.0" r="3.1" fill="#1e7d1e"/>
<circle cx="1426.0" cy="527.6" r="3.1" fill="#1e7d1e"/>
<circle cx="1426.0" cy="540.0" r="3.1" fill="#1e7d1e"/>
<text x="1213.0" y="652.0" font-size="23.4">PyMT</text>
<path d="M1282.4,594H1275.4V681.6H1282.4" fill="none" stroke="#000" stroke-width="1.8"/>
<line x1="1282.0" y1="688.0" x2="1349.6" y2="688.0" stroke="#000" stroke-width="1.8"/>
<line x1="1358.4" y1="688.0" x2="1426.0" y2="688.0" stroke="#000" stroke-width="1.8"/>
<text x="1319.2" y="715.0" font-size="23.4" text-anchor="middle">UT</text>
<text x="1393.8" y="715.0" font-size="23.4" text-anchor="middle">LPS</text>
<text x="1327.5" y="604.5" font-size="23.6" text-anchor="end" transform="rotate(-45 1327.5 604.5)">WT</text>
<text x="1370.0" y="603.0" font-size="23.6" text-anchor="end" transform="rotate(-45 1370.0 603.0)">CCDC25<tspan font-size="16.5" dy="-9">-/-</tspan></text>
<text x="1401.5" y="603.0" font-size="23.6" text-anchor="end" transform="rotate(-45 1401.5 603.0)">WT</text>
<text x="1444.5" y="603.0" font-size="23.6" text-anchor="end" transform="rotate(-45 1444.5 603.0)">CCDC25<tspan font-size="16.5" dy="-9">-/-</tspan></text>
<text x="1476.0" y="394.0" font-size="29" font-weight="bold">e</text>
<defs><filter id="tx3" x="-8%" y="-8%" width="116%" height="116%" color-interpolation-filters="sRGB">
<feTurbulence type="fractalNoise" baseFrequency="0.05" numOctaves="3" seed="14" result="n"/>
<feTurbulence type="fractalNoise" baseFrequency="0.05" numOctaves="1" seed="5" result="n1"/>
<feDisplacementMap in="SourceGraphic" in2="n1" scale="6" xChannelSelector="R" yChannelSelector="G" result="d"/>
<feColorMatrix in="n" type="matrix" values="0 0 0 0 0.95  0 0 0 0 0.8  0 0 0 0 0.66  0 0 1.5 0 -0.72" result="hl"/>
<feComposite in="hl" in2="d" operator="in" result="hl2"/>
<feColorMatrix in="n" type="matrix" values="0 0 0 0 0.2  0 0 0 0 0.1  0 0 0 0 0.05  0 -1.8 0 0 0.78" result="sh"/>
<feComposite in="sh" in2="d" operator="in" result="sh2"/>
<feMerge><feMergeNode in="d"/><feMergeNode in="sh2"/><feMergeNode in="hl2"/></feMerge>
</filter></defs>
<rect x="1517" y="475.5" width="186.6" height="186.3" fill="#0b0b0b"/>
<rect x="1707.8" y="475.5" width="186.6" height="186.3" fill="#0b0b0b"/>
<text x="1611.0" y="470.0" font-size="23.4" text-anchor="middle">PyMT-WT</text>
<text x="1800.5" y="470.0" font-size="23.4" text-anchor="middle">PyMT-KO</text>
<g filter="url(#tx3)">
<g filter="url(#b1)" opacity="1">
<path d="M1585.2,516.4C1587.4,514.4 1592.3,514.2 1594.4,515.5C1596.6,516.7 1595.9,522.7 1598.1,523.7C1600.2,524.8 1604.5,521.0 1607.3,521.9C1610.0,522.8 1611.9,527.7 1614.6,529.2C1617.4,530.8 1620.4,532.1 1623.8,531.1C1627.1,530.0 1630.5,524.0 1634.8,522.8C1639.1,521.6 1644.6,522.0 1649.5,523.7C1654.4,525.4 1659.9,529.2 1664.2,532.9C1668.4,536.6 1672.1,540.9 1675.2,545.7C1678.2,550.6 1681.1,557.1 1682.5,562.3C1683.9,567.5 1684.3,573.3 1683.4,576.9C1682.5,580.6 1679.6,584.0 1677.0,584.3C1674.4,584.6 1670.6,581.5 1667.8,578.8C1665.1,576.0 1662.9,571.4 1660.5,567.8C1658.0,564.1 1656.2,558.0 1653.1,556.8C1650.1,555.5 1645.2,558.6 1642.1,560.4C1639.1,562.3 1634.8,564.7 1634.8,567.8C1634.8,570.8 1640.0,575.7 1642.1,578.8C1644.3,581.8 1647.6,583.1 1647.6,586.1C1647.6,589.2 1644.3,593.5 1642.1,597.1C1640.0,600.8 1635.7,604.5 1634.8,608.1C1633.9,611.8 1637.9,615.8 1636.6,619.2C1635.4,622.5 1631.1,626.2 1627.5,628.3C1623.8,630.5 1617.1,633.5 1614.6,632.0C1612.2,630.5 1613.7,622.5 1612.8,619.2C1611.9,615.8 1611.5,612.7 1609.1,611.8C1606.7,610.9 1602.4,613.0 1598.1,613.7C1593.8,614.3 1588.9,614.3 1583.4,615.5C1577.9,616.7 1569.3,621.6 1565.1,621.0C1560.8,620.4 1560.2,615.2 1557.7,611.8C1555.3,608.5 1551.9,605.7 1550.4,600.8C1548.8,595.9 1547.9,588.0 1548.5,582.5C1549.2,576.9 1552.2,571.7 1554.0,567.8C1555.9,563.8 1556.8,561.0 1559.6,558.6C1562.3,556.1 1569.3,555.2 1570.6,553.1C1571.8,550.9 1566.6,548.8 1566.9,545.7C1567.2,542.7 1569.9,537.8 1572.4,534.7C1574.8,531.7 1579.4,530.5 1581.6,527.4C1583.7,524.3 1583.1,518.4 1585.2,516.4Z" fill="#8e6248"/>
</g>
<g filter="url(#b2)" opacity="0.8">
<path d="M1574.2,534.7C1578.5,531.7 1590.4,527.4 1598.1,527.4C1605.7,527.4 1615.2,530.8 1620.1,534.7C1625.0,538.7 1628.7,547.6 1627.5,551.3C1626.2,554.9 1619.5,556.8 1612.8,556.8C1606.0,556.8 1593.8,553.1 1587.1,551.3C1580.3,549.4 1574.5,548.5 1572.4,545.7C1570.3,543.0 1569.9,537.8 1574.2,534.7Z" fill="#a07658"/>
</g>
<g filter="url(#b2)" opacity="0.8">
<path d="M1631.1,527.4C1633.0,524.6 1646.4,524.6 1653.1,527.4C1659.9,530.1 1666.9,537.2 1671.5,543.9C1676.1,550.6 1680.1,562.0 1680.7,567.8C1681.3,573.6 1678.5,580.6 1675.2,578.8C1671.8,576.9 1666.0,562.6 1660.5,556.8C1655.0,550.9 1647.0,548.8 1642.1,543.9C1637.2,539.0 1629.3,530.1 1631.1,527.4Z" fill="#9c7256"/>
</g>
<g filter="url(#b2)" opacity="0.7">
<path d="M1555.9,571.4C1561.2,566.5 1575.1,561.0 1583.4,560.4C1591.7,559.8 1602.4,562.3 1605.4,567.8C1608.5,573.3 1606.0,586.7 1601.8,593.5C1597.5,600.2 1587.1,606.3 1579.7,608.1C1572.4,610.0 1562.5,607.5 1557.7,604.5C1553.0,601.4 1551.6,595.3 1551.3,589.8C1551.0,584.3 1550.5,576.3 1555.9,571.4Z" fill="#80543a"/>
</g>
<g filter="url(#b2)" opacity="0.7">
<path d="M1565.1,600.8C1568.4,598.1 1581.6,599.6 1587.1,600.8C1592.6,602.0 1598.7,606.0 1598.1,608.1C1597.5,610.3 1588.6,612.1 1583.4,613.7C1578.2,615.2 1569.9,619.5 1566.9,617.3C1563.8,615.2 1561.7,603.6 1565.1,600.8Z" fill="#b08460"/>
</g>
</g>
<circle cx="1617.4" cy="581.5" r="8.8" fill="#c8a686" filter="url(#b1)"/>
<circle cx="1604.5" cy="602.6" r="8.4" fill="#c09a7a" filter="url(#b1)"/>
<circle cx="1566.9" cy="591.6" r="6.2" fill="#b48a68" filter="url(#b1)"/>
<circle cx="1588.9" cy="519.1" r="4.8" fill="#c8a480" filter="url(#b1)"/>
<circle cx="1638.5" cy="582.5" r="6.2" fill="#a67a58" filter="url(#b1)"/>
<circle cx="1561.4" cy="562.3" r="4.0" fill="#a87e5c" filter="url(#b1)"/>
<circle cx="1604.5" cy="603.6" r="4.4" fill="#9a6a4a" filter="url(#b1)"/>
<ellipse cx="1603.6" cy="605.4" rx="2.4" ry="1.2" fill="#5a2a14"/>
<g filter="url(#b1)" opacity="0.85">
<path d="M1627.5,542.1C1629.0,541.2 1636.9,539.9 1638.5,540.2C1640.0,540.5 1638.2,543.0 1636.6,543.9C1635.1,544.8 1630.8,546.1 1629.3,545.7C1627.8,545.4 1625.9,543.0 1627.5,542.1Z" fill="#fff3e4"/>
</g>
<g filter="url(#b1)" opacity="0.85">
<path d="M1587.1,564.1C1589.5,562.9 1602.1,560.4 1605.4,560.4C1608.8,560.4 1609.7,562.9 1607.3,564.1C1604.8,565.3 1594.1,567.8 1590.7,567.8C1587.4,567.8 1584.6,565.3 1587.1,564.1Z" fill="#fff3e4"/>
</g>
<g filter="url(#b1)" opacity="0.85">
<path d="M1607.3,551.3C1607.6,550.5 1613.7,549.7 1614.6,550.3C1615.5,550.9 1614.0,554.8 1612.8,554.9C1611.5,555.1 1607.0,552.0 1607.3,551.3Z" fill="#fff3e4"/>
</g>
<g filter="url(#b1)" opacity="0.85">
<path d="M1656.8,558.6C1658.7,559.5 1666.3,565.9 1667.8,567.8C1669.4,569.6 1667.8,570.5 1666.0,569.6C1664.2,568.7 1658.3,564.1 1656.8,562.3C1655.3,560.4 1655.0,557.7 1656.8,558.6Z" fill="#fff3e4"/>
</g>
<g filter="url(#b1)" opacity="0.85">
<path d="M1570.6,604.5C1573.2,603.6 1584.2,601.9 1587.1,601.7C1590.0,601.6 1590.6,602.6 1588.0,603.6C1585.4,604.5 1574.4,607.1 1571.5,607.2C1568.6,607.4 1568.0,605.4 1570.6,604.5Z" fill="#fff3e4"/>
</g>
<g filter="url(#b1)" opacity="0.85">
<path d="M1610.9,578.8C1612.6,578.0 1620.4,577.3 1621.9,577.9C1623.5,578.5 1621.8,581.7 1620.1,582.5C1618.4,583.2 1613.4,583.1 1611.9,582.5C1610.3,581.8 1609.3,579.5 1610.9,578.8Z" fill="#fff3e4"/>
</g>
<g filter="url(#b1)" opacity="1">
<path d="M1568.7,551.3C1569.6,550.3 1574.8,550.0 1576.1,551.3C1577.3,552.5 1577.0,557.7 1576.1,558.6C1575.1,559.5 1571.8,558.0 1570.6,556.8C1569.3,555.5 1567.8,552.2 1568.7,551.3Z" fill="#0b0b0b"/>
</g>
<polygon points="1568.1,511.3 1576.9,515.5 1575.5,518.5 1584.3,517.3 1579.6,509.8 1578.2,512.8 1569.4,508.6" fill="#fff"/>
<polygon points="1536.6,562.5 1548.4,562.5 1548.4,565.8 1555.9,561.0 1548.4,556.2 1548.4,559.5 1536.6,559.5" fill="#fff"/>
<polygon points="1548.5,609.4 1555.2,604.5 1557.2,607.2 1560.5,599.0 1551.6,599.4 1553.5,602.1 1546.7,606.9" fill="#fff"/>
<polygon points="1586.1,625.9 1594.6,620.1 1596.5,622.8 1599.9,614.6 1591.0,614.9 1592.9,617.6 1584.4,623.4" fill="#fff"/>
<polygon points="1642.3,602.5 1634.7,595.0 1637.1,592.6 1628.4,590.7 1630.3,599.4 1632.6,597.1 1640.2,604.6" fill="#fff"/>
<polygon points="1680.0,602.6 1680.0,595.5 1683.3,595.5 1678.5,588.0 1673.7,595.5 1677.0,595.5 1677.0,602.6" fill="#fff"/>
<polygon points="1638.0,641.4 1634.9,635.3 1637.9,633.8 1630.2,629.3 1629.3,638.1 1632.2,636.6 1635.3,642.8" fill="#fff"/>
<g filter="url(#tx3)">
<g filter="url(#b1)" opacity="1">
<path d="M1744.9,525.6C1747.0,520.4 1749.2,517.0 1752.2,514.6C1755.3,512.1 1759.3,510.6 1763.3,510.9C1767.2,511.2 1772.4,513.3 1776.1,516.4C1779.8,519.4 1783.4,524.3 1785.3,529.2C1787.1,534.1 1787.7,541.2 1787.1,545.7C1786.5,550.3 1784.4,554.9 1781.6,556.8C1778.9,558.6 1773.7,555.5 1770.6,556.8C1767.5,558.0 1764.8,560.4 1763.3,564.1C1761.7,567.8 1763.3,575.4 1761.4,578.8C1759.6,582.1 1755.3,584.6 1752.2,584.3C1749.2,584.0 1745.4,580.3 1743.1,576.9C1740.8,573.6 1739.1,569.3 1738.5,564.1C1737.9,558.9 1738.3,552.2 1739.4,545.7C1740.5,539.3 1742.8,530.8 1744.9,525.6Z" fill="#9c745c"/>
</g>
<g filter="url(#b1)" opacity="1">
<path d="M1763.3,560.4C1764.8,556.8 1770.0,553.7 1774.3,553.1C1778.6,552.5 1784.1,557.7 1789.0,556.8C1793.8,555.8 1798.7,550.6 1803.6,547.6C1808.5,544.5 1813.4,540.7 1818.3,538.4C1823.2,536.1 1828.4,533.8 1833.0,533.8C1837.6,533.8 1842.5,535.5 1845.8,538.4C1849.2,541.3 1851.5,546.4 1853.2,551.3C1854.9,556.1 1856.2,562.6 1855.9,567.8C1855.6,573.0 1851.8,578.8 1851.3,582.5C1850.9,586.1 1853.8,586.1 1853.2,589.8C1852.6,593.5 1849.8,600.8 1847.7,604.5C1845.5,608.1 1844.0,609.7 1840.3,611.8C1836.7,614.0 1830.5,615.2 1825.7,617.3C1820.8,619.5 1815.9,622.5 1811.0,624.7C1806.1,626.8 1800.6,629.1 1796.3,630.2C1792.0,631.2 1788.6,632.0 1785.3,631.1C1781.9,630.2 1778.4,627.9 1776.1,624.7C1773.8,621.5 1771.8,616.4 1771.5,611.8C1771.2,607.2 1774.4,602.0 1774.3,597.1C1774.1,592.2 1772.1,586.1 1770.6,582.5C1769.1,578.8 1766.3,578.8 1765.1,575.1C1763.9,571.4 1761.7,564.1 1763.3,560.4Z" fill="#a47a64"/>
</g>
<g filter="url(#b2)" opacity="0.8">
<path d="M1748.6,525.6C1751.6,521.3 1761.4,517.0 1766.9,518.2C1772.4,519.4 1779.2,527.7 1781.6,532.9C1784.1,538.1 1784.7,546.4 1781.6,549.4C1778.6,552.5 1768.8,552.2 1763.3,551.3C1757.8,550.3 1751.0,548.2 1748.6,543.9C1746.1,539.6 1745.5,529.8 1748.6,525.6Z" fill="#b48a6e"/>
</g>
<g filter="url(#b2)" opacity="0.8">
<path d="M1796.3,560.4C1798.7,554.6 1814.0,546.7 1822.0,543.9C1829.9,541.2 1839.1,540.5 1844.0,543.9C1848.9,547.3 1853.2,558.9 1851.3,564.1C1849.5,569.3 1840.3,572.7 1833.0,575.1C1825.7,577.6 1813.4,581.2 1807.3,578.8C1801.2,576.3 1793.8,566.2 1796.3,560.4Z" fill="#b88c74"/>
</g>
<g filter="url(#b2)" opacity="0.7">
<path d="M1777.9,593.5C1781.6,588.0 1794.5,589.8 1803.6,589.8C1812.8,589.8 1827.5,590.1 1833.0,593.5C1838.5,596.8 1840.9,605.1 1836.7,610.0C1832.4,614.9 1816.5,620.7 1807.3,622.8C1798.1,625.0 1786.5,627.7 1781.6,622.8C1776.7,617.9 1774.3,599.0 1777.9,593.5Z" fill="#a07258"/>
</g>
<g filter="url(#b2)" opacity="0.9">
<path d="M1761.4,560.4C1763.3,557.4 1770.3,554.3 1774.3,554.9C1778.2,555.5 1784.1,560.1 1785.3,564.1C1786.5,568.1 1784.1,575.7 1781.6,578.8C1779.2,581.8 1773.7,583.4 1770.6,582.5C1767.5,581.5 1764.8,576.9 1763.3,573.3C1761.7,569.6 1759.6,563.5 1761.4,560.4Z" fill="#c09878"/>
</g>
<g filter="url(#b2)" opacity="0.6">
<path d="M1741.2,567.8C1743.2,567.5 1751.0,572.7 1754.1,575.1C1757.1,577.6 1760.2,580.9 1759.6,582.5C1759.0,584.0 1753.3,585.2 1750.4,584.3C1747.5,583.4 1743.7,579.7 1742.2,576.9C1740.6,574.2 1739.2,568.1 1741.2,567.8Z" fill="#7a583e"/>
</g>
</g>
<g filter="url(#b1)" opacity="0.85">
<path d="M1792.6,565.0C1795.1,564.1 1806.2,562.9 1809.1,563.2C1812.0,563.5 1812.5,565.9 1810.1,566.9C1807.6,567.8 1797.4,569.0 1794.5,568.7C1791.6,568.4 1790.2,565.9 1792.6,565.0Z" fill="#fff3e4"/>
</g>
<g filter="url(#b1)" opacity="0.85">
<path d="M1828.4,555.8C1829.2,554.9 1833.1,553.5 1833.9,554.0C1834.7,554.5 1833.8,557.7 1833.0,558.6C1832.2,559.5 1830.1,560.0 1829.3,559.5C1828.6,559.1 1827.6,556.8 1828.4,555.8Z" fill="#fff3e4"/>
</g>
<g filter="url(#b1)" opacity="0.85">
<path d="M1766.9,573.3C1768.0,572.7 1773.0,572.1 1774.3,572.4C1775.5,572.7 1775.3,574.5 1774.3,575.1C1773.2,575.7 1769.1,576.3 1767.8,576.0C1766.6,575.7 1765.9,573.9 1766.9,573.3Z" fill="#fff3e4"/>
</g>
<g filter="url(#b1)" opacity="0.85">
<path d="M1779.8,584.3C1780.1,583.7 1784.7,585.2 1785.3,586.1C1785.9,587.0 1784.4,590.1 1783.4,589.8C1782.5,589.5 1779.5,584.9 1779.8,584.3Z" fill="#fff3e4"/>
</g>
<polygon points="1726.5,547.9 1735.8,541.9 1737.5,544.7 1741.2,536.6 1732.3,536.6 1734.1,539.4 1724.8,545.4" fill="#fff"/>
<line x1="1983.3" y1="454.8" x2="1983.3" y2="642.3" stroke="#000" stroke-width="1.8"/>
<line x1="1977.3" y1="642.3" x2="1983.3" y2="642.3" stroke="#000" stroke-width="1.8"/>
<text x="1971.5" y="651.4" font-size="23.4" text-anchor="end">0</text>
<line x1="1977.3" y1="580.1" x2="1983.3" y2="580.1" stroke="#000" stroke-width="1.8"/>
<text x="1971.5" y="589.2" font-size="23.4" text-anchor="end">10</text>
<line x1="1977.3" y1="517.9" x2="1983.3" y2="517.9" stroke="#000" stroke-width="1.8"/>
<text x="1971.5" y="527.0" font-size="23.4" text-anchor="end">20</text>
<line x1="1977.3" y1="455.7" x2="1983.3" y2="455.7" stroke="#000" stroke-width="1.8"/>
<text x="1971.5" y="464.8" font-size="23.4" text-anchor="end">30</text>
<line x1="1977.3" y1="642.3" x2="2117.3" y2="642.3" stroke="#000" stroke-width="1.8"/>
<line x1="2017.0" y1="642.3" x2="2017.0" y2="648.5" stroke="#000" stroke-width="1.8"/>
<line x1="2084.4" y1="642.3" x2="2084.4" y2="648.5" stroke="#000" stroke-width="1.8"/>
<text x="1933.5" y="554.5" font-size="23.4" text-anchor="middle" transform="rotate(-90 1933.5 554.5)">Surface Mets #</text>
<line x1="2017.0" y1="463.6" x2="2084.8" y2="463.6" stroke="#000" stroke-width="1.8"/>
<text x="2048.4" y="463.5" font-size="23.4" text-anchor="middle">*</text>
<line x1="2017.0" y1="499.2" x2="2017.0" y2="564.7" stroke="#1616c8" stroke-width="2.3"/>
<line x1="2006.0" y1="499.2" x2="2028.0" y2="499.2" stroke="#1616c8" stroke-width="2.3"/>
<line x1="2006.0" y1="564.7" x2="2028.0" y2="564.7" stroke="#1616c8" stroke-width="2.3"/>
<line x1="1995.0" y1="532.0" x2="2039.0" y2="532.0" stroke="#1616c8" stroke-width="2.3"/>
<circle cx="2017.0" cy="480.8" r="3.6" fill="#1616c8"/>
<circle cx="2017.0" cy="524.3" r="3.6" fill="#1616c8"/>
<circle cx="2017.0" cy="536.2" r="3.6" fill="#1616c8"/>
<circle cx="2017.0" cy="549.0" r="3.6" fill="#1616c8"/>
<circle cx="2017.0" cy="568.1" r="3.6" fill="#1616c8"/>
<line x1="2084.4" y1="558.7" x2="2084.4" y2="614.4" stroke="#dc1e28" stroke-width="2.3"/>
<line x1="2073.4" y1="558.7" x2="2095.4" y2="558.7" stroke="#dc1e28" stroke-width="2.3"/>
<line x1="2073.4" y1="614.4" x2="2095.4" y2="614.4" stroke="#dc1e28" stroke-width="2.3"/>
<line x1="2062.4" y1="586.6" x2="2106.4" y2="586.6" stroke="#dc1e28" stroke-width="2.3"/>
<circle cx="2084.4" cy="549.3" r="3.6" fill="#dc1e28"/>
<circle cx="2084.4" cy="567.8" r="3.6" fill="#dc1e28"/>
<circle cx="2084.4" cy="592.8" r="3.6" fill="#dc1e28"/>
<circle cx="2084.4" cy="605.4" r="3.6" fill="#dc1e28"/>
<circle cx="2084.4" cy="617.9" r="3.6" fill="#dc1e28"/>
<text x="1924.5" y="681.5" font-size="23.4">PyMT</text>
<text x="2038.5" y="667.0" font-size="23.6" text-anchor="end" transform="rotate(-45 2038.5 667.0)">WT</text>
<text x="2105.0" y="667.5" font-size="23.6" text-anchor="end" transform="rotate(-45 2105.0 667.5)">KO</text>
<text x="41.0" y="771.7" font-size="29" font-weight="bold">f</text>
<defs><linearGradient id="wb1" x1="0" y1="0" x2="1" y2="0"><stop offset="0" stop-color="#dedede"/><stop offset="0.3" stop-color="#e2e2e2"/><stop offset="0.55" stop-color="#e9e9e9"/><stop offset="1" stop-color="#e4e4e4"/></linearGradient>
<filter id="bb" x="-20%" y="-80%" width="140%" height="260%"><feGaussianBlur stdDeviation="1.5"/></filter>
<filter id="bs" x="-30%" y="-30%" width="160%" height="160%"><feGaussianBlur stdDeviation="3.5"/></filter></defs>
<rect x="100.2" y="887.3" width="197" height="164.2" fill="url(#wb1)"/>
<rect x="100.2" y="1058.3" width="197" height="49.4" fill="#dcdcdc"/>
<g filter="url(#bs)" fill="#bdbdbd" opacity="0.55"><rect x="112" y="1003" width="30" height="12"/><rect x="160" y="1004" width="24" height="20"/><rect x="148" y="890" width="5" height="80" opacity="0.4"/><ellipse cx="240" cy="1010" rx="10" ry="5" opacity="0.5"/><ellipse cx="285" cy="1022" rx="10" ry="10" opacity="0.6"/></g>
<g filter="url(#bb)" fill="#0a0a0a">
<rect x="110.5" y="991.5" width="34.5" height="8.6" rx="4"/>
<rect x="156.5" y="990.6" width="19" height="10.6" rx="4.5"/><rect x="168" y="994" width="20" height="3" rx="1.5" opacity="0.6"/>
</g>
<g filter="url(#bb)" fill="#0e0e0e">
<rect x="121.5" y="1082.6" width="31.5" height="6.6" rx="3.2"/>
<rect x="163.5" y="1082.6" width="30.0" height="6.6" rx="3.2"/>
<rect x="206" y="1082.6" width="31" height="6.6" rx="3.2"/>
<rect x="249" y="1082.6" width="32" height="6.6" rx="3.2"/>
</g>
<text x="2.5" y="1003.2" font-size="23.4">CCDC25</text>
<text x="14.0" y="1093.3" font-size="23.4">GAPDH</text>
<text x="123.5" y="879.5" font-size="23.4" transform="rotate(-45 123.5 879.5)">UT</text>
<text x="168.0" y="879.5" font-size="23.4" transform="rotate(-45 168.0 879.5)">ctrl</text>
<text x="215.0" y="879.5" font-size="23.4" transform="rotate(-45 215.0 879.5)">sg1</text>
<text x="259.5" y="879.5" font-size="23.4" transform="rotate(-45 259.5 879.5)">sg2</text>
<text x="322.5" y="765.8" font-size="29" font-weight="bold">g</text>
<text x="473.8" y="808.2" font-size="23.4" text-anchor="end">400nM</text>
<line x1="481.4" y1="802.0" x2="502.3" y2="802.0" stroke="#21509e" stroke-width="2.6"/>
<text x="473.8" y="841.4" font-size="23.4" text-anchor="end">200nM</text>
<line x1="481.4" y1="834.2" x2="502.3" y2="834.2" stroke="#3aa4b8" stroke-width="2.6"/>
<text x="473.8" y="874.2" font-size="23.4" text-anchor="end">100nM</text>
<line x1="481.4" y1="867.7" x2="502.3" y2="867.7" stroke="#6fb83a" stroke-width="2.6"/>
<text x="584.7" y="841.4" font-size="23.4" text-anchor="end">50nM</text>
<line x1="597.2" y1="834.2" x2="618.2" y2="834.2" stroke="#e8b150" stroke-width="2.6"/>
<text x="584.7" y="874.2" font-size="23.4" text-anchor="end">0nM</text>
<line x1="597.2" y1="867.7" x2="618.2" y2="867.7" stroke="#b7a6e2" stroke-width="2.6"/>
<rect x="392.8" y="895.6" width="234.5" height="197.4" fill="#f8f8f8"/>
<line x1="440.0" y1="895.6" x2="440.0" y2="1093.0" stroke="#ededed" stroke-width="1.2"/>
<line x1="478.3" y1="895.6" x2="478.3" y2="1093.0" stroke="#ededed" stroke-width="1.2"/>
<line x1="513.0" y1="895.6" x2="513.0" y2="1093.0" stroke="#ededed" stroke-width="1.2"/>
<line x1="548.4" y1="895.6" x2="548.4" y2="1093.0" stroke="#ededed" stroke-width="1.2"/>
<line x1="583.0" y1="895.6" x2="583.0" y2="1093.0" stroke="#ededed" stroke-width="1.2"/>
<line x1="618.0" y1="895.6" x2="618.0" y2="1093.0" stroke="#ededed" stroke-width="1.2"/>
<line x1="392.8" y1="948.6" x2="627.3" y2="948.6" stroke="#ededed" stroke-width="1.2"/>
<line x1="392.8" y1="1062.5" x2="627.3" y2="1062.5" stroke="#ededed" stroke-width="1.2"/>
<path d="M393.1,1008.6 L393.8,1008.3 L394.5,1008.6 L395.2,1009.5 L395.9,1008.2 L396.6,1008.4 L397.3,1009.0 L398.0,1008.3 L398.7,1008.4 L399.4,1008.4 L400.1,1008.6 L400.8,1008.3 L401.5,1009.0 L402.2,1008.6 L402.9,1008.8 L403.6,1008.1 L404.3,1008.4 L405.0,1008.6 L405.7,1008.9 L406.4,1008.5 L407.1,1008.4 L407.8,1008.5 L408.5,1007.6 L409.2,1007.8 L409.9,1009.8 L410.6,1009.4 L411.3,1008.4 L412.0,1008.5 L412.7,1008.1 L413.4,1008.1 L414.1,1007.0 L414.8,1008.8 L415.5,1008.4 L416.2,1007.0 L416.9,1007.7 L417.6,1007.7 L418.3,1008.4 L419.0,1009.0 L419.7,1007.9 L420.4,1007.9 L421.1,1008.7 L421.8,1008.4 L422.5,1008.0 L423.2,1008.5 L423.9,1008.0 L424.6,1007.8 L425.3,1007.8 L426.1,1008.1 L426.8,1007.5 L427.5,1007.3 L428.2,1007.6 L428.9,1008.2 L429.6,1007.3 L430.3,1008.0 L431.0,1007.2 L431.7,1008.3 L432.4,1007.1 L433.1,1007.7 L433.8,1008.3 L434.5,1007.8 L435.2,1007.6 L435.9,1007.4 L436.6,1008.1 L437.3,1008.2 L438.0,1007.4 L438.7,1007.8 L439.4,1007.3 L440.1,1007.0 L440.8,1008.4 L441.5,1007.3 L442.2,1006.7 L442.9,1007.5 L443.6,1007.8 L444.3,1006.9 L445.0,1007.2 L445.7,1006.8 L446.4,1007.5 L447.1,1008.1 L447.8,1007.3 L448.5,1007.5 L449.2,1006.7 L449.9,1007.1 L450.6,1008.1 L451.3,1007.8 L452.0,1006.6 L452.7,1006.7 L453.4,1007.4 L454.1,1007.0 L454.8,1006.8 L455.5,1006.7 L456.2,1006.5 L456.9,1006.8 L457.6,1007.0 L458.3,1007.1 L459.0,1006.3 L459.7,1008.2 L460.4,1006.9 L461.1,1006.8 L461.9,1007.6 L462.6,1006.6 L463.3,1007.2 L464.0,1006.3 L464.7,1006.8 L465.4,1006.3 L466.1,1006.0 L466.8,1006.5 L467.5,1007.2 L468.2,1007.5 L468.9,1005.6 L469.6,1006.7 L470.3,1007.0 L471.0,1006.5 L471.7,1006.7 L472.4,1006.0 L473.1,1006.5 L473.8,1006.5 L474.5,1006.9 L475.2,1006.2 L475.9,1007.0 L476.6,1006.0 L477.3,1005.5 L478.0,1007.2 L478.7,1007.8 L479.4,1006.0 L480.1,1004.9 L480.8,1006.9 L481.5,1007.0 L482.2,1005.9 L482.9,1006.7 L483.6,1006.5 L484.3,1006.4 L485.0,1005.9 L485.7,1006.4 L486.4,1006.0 L487.1,1006.2 L487.8,1006.6 L488.5,1006.3 L489.2,1006.6 L489.9,1006.0 L490.6,1006.7 L491.3,1006.6 L492.0,1005.1 L492.7,1006.0 L493.4,1006.0 L494.1,1005.6 L494.8,1006.1 L495.5,1006.0 L496.2,1005.6 L497.0,1005.7 L497.7,1006.5 L498.4,1005.3 L499.1,1006.1 L499.8,1006.4 L500.5,1006.2 L501.2,1005.9 L501.9,1004.8 L502.6,1006.3 L503.3,1005.6 L504.0,1006.8 L504.7,1005.6 L505.4,1005.1 L506.1,1005.7 L506.8,1005.9 L507.5,1005.4 L508.2,1005.1 L508.9,1005.1 L509.6,1004.4 L510.3,1005.3 L511.0,1005.8 L511.7,1005.5 L512.4,1005.4 L513.1,1005.3 L513.8,1005.4 L514.5,1005.2 L515.2,1006.3 L515.9,1004.8 L516.6,1005.6 L517.3,1005.9 L518.0,1004.9 L518.7,1004.5 L519.4,1004.9 L520.1,1005.1 L520.8,1005.7 L521.5,1003.5 L522.2,1004.6 L522.9,1005.7 L523.6,1005.5 L524.3,1005.0 L525.0,1005.9 L525.7,1004.9 L526.4,1005.3 L527.1,1004.3 L527.8,1004.4 L528.5,1006.5 L529.2,1004.9 L529.9,1005.8 L530.6,1004.2 L531.4,1004.8 L532.1,1004.5 L532.8,1005.4 L533.5,1003.8 L534.2,1003.6 L534.9,1005.4 L535.6,1004.5 L536.3,1005.1 L537.0,1004.7 L537.7,1005.4 L538.4,1003.6 L539.1,1005.2 L539.8,1004.8 L540.5,1004.3 L541.2,1004.9 L541.9,1004.7 L542.6,1004.9 L543.3,1004.6 L544.0,1005.2 L544.7,1004.7 L545.4,1004.6 L546.1,1004.6 L546.8,1004.4 L547.5,1004.6 L548.2,1004.0 L548.9,1004.5 L549.6,1004.4 L550.3,1004.7 L551.0,1004.6 L551.7,1005.0 L552.4,1004.0 L553.1,1004.9 L553.8,1004.6 L554.5,1004.0 L555.2,1004.0 L555.9,1004.4 L556.6,1005.3 L557.3,1003.9 L558.0,1004.0 L558.7,1004.9 L559.4,1003.6 L560.1,1004.4 L560.8,1004.7 L561.5,1003.9 L562.2,1004.1 L562.9,1003.8 L563.6,1004.9 L564.3,1002.9 L565.0,1004.2 L565.7,1004.8 L566.5,1003.5 L567.2,1004.0 L567.9,1003.6 L568.6,1004.0 L569.3,1003.8 L570.0,1003.6 L570.7,1004.2 L571.4,1003.3 L572.1,1004.0 L572.8,1004.2 L573.5,1003.6 L574.2,1003.4 L574.9,1003.8 L575.6,1004.1 L576.3,1003.2 L577.0,1004.6 L577.7,1004.1 L578.4,1003.5 L579.1,1004.3 L579.8,1003.5 L580.5,1003.5 L581.2,1002.9 L581.9,1003.9 L582.6,1003.8 L583.3,1003.2 L584.0,1004.8 L584.7,1001.6 L585.4,1003.7 L586.1,1003.7 L586.8,1002.8 L587.5,1003.3 L588.2,1004.3 L588.9,1002.9 L589.6,1002.7 L590.3,1003.4 L591.0,1003.3 L591.7,1002.9 L592.4,1003.6 L593.1,1002.9 L593.8,1003.0 L594.5,1003.4 L595.2,1003.8 L595.9,1003.2 L596.6,1003.5 L597.3,1002.4 L598.0,1002.9 L598.7,1002.5 L599.4,1002.8 L600.1,1002.8 L600.8,1003.3 L601.5,1002.5 L602.3,1001.8 L603.0,1003.0 L603.7,1003.1 L604.4,1002.9 L605.1,1003.0 L605.8,1003.1 L606.5,1002.6 L607.2,1002.9 L607.9,1001.9 L608.6,1002.7 L609.3,1002.5 L610.0,1002.1 L610.7,1002.8 L611.4,1001.8 L612.1,1002.9 L612.8,1003.0 L613.5,1002.7 L614.2,1002.6 L614.9,1003.3 L615.6,1002.5 L616.3,1003.4 L617.0,1001.6 L617.7,1002.5 L618.4,1002.8 L619.1,1002.9 L619.8,1002.6 L620.5,1002.5 L621.2,1002.9 L621.9,1002.8 L622.6,1002.4 L623.3,1002.5 L624.0,1001.7 L624.7,1001.6 L625.4,1002.2 L626.1,1001.9 L626.8,1002.9 L627.5,1001.8" fill="none" stroke="#b7a6e2" stroke-width="2.4" stroke-linejoin="round"/>
<path d="M412.0,1005.8 L412.7,1005.1 L413.4,1004.3 L414.1,1004.7 L414.8,1003.6 L415.5,1003.5 L416.2,1002.6 L416.9,1002.6 L417.6,1002.0 L418.3,1001.4 L419.0,1000.8 L419.7,1000.6 L420.4,1000.5 L421.1,1000.1 L421.8,999.2 L422.5,999.2 L423.2,999.6 L423.9,998.2 L424.6,998.1 L425.3,997.6 L426.1,997.8 L426.8,997.0 L427.5,997.7 L428.2,996.6 L428.9,996.9 L429.6,996.0 L430.3,995.6 L431.0,996.3 L431.7,995.7 L432.4,995.4 L433.1,994.5 L433.8,994.6 L434.5,995.6 L435.2,994.4 L435.9,994.0 L436.6,992.9 L437.3,995.1 L438.0,994.2 L438.7,992.9 L439.4,994.4 L440.1,994.1 L440.8,992.9 L441.5,992.4 L442.2,993.3 L442.9,992.4 L443.6,992.5 L444.3,991.5 L445.0,992.3 L445.7,991.5 L446.4,992.6 L447.1,992.0 L447.8,991.8 L448.5,990.9 L449.2,991.1 L449.9,991.8 L450.6,990.8 L451.3,990.6 L452.0,991.0 L452.7,991.0 L453.4,990.8 L454.1,991.6 L454.8,990.3 L455.5,990.2 L456.2,990.8 L456.9,989.7 L457.6,990.9 L458.3,990.2 L459.0,990.1 L459.7,988.4 L460.4,990.6 L461.1,989.1 L461.9,988.8 L462.6,989.0 L463.3,988.4 L464.0,989.7 L464.7,990.4 L465.4,988.4 L466.1,989.5 L466.8,988.9 L467.5,989.3 L468.2,987.8 L468.9,987.8 L469.6,988.7 L470.3,987.6 L471.0,988.0 L471.7,988.1 L472.4,987.9 L473.1,987.9 L473.8,987.3 L474.5,987.4 L475.2,987.8 L475.9,986.8 L476.6,987.8 L477.3,987.1 L478.0,986.9 L478.7,986.2 L479.4,987.3 L480.1,985.9 L480.8,986.7 L481.5,986.9 L482.2,987.1 L482.9,986.2 L483.6,986.5 L484.3,987.1 L485.0,987.1 L485.7,986.6 L486.4,986.6 L487.1,985.4 L487.8,985.2 L488.5,985.4 L489.2,985.7 L489.9,986.1 L490.6,985.7 L491.3,985.1 L492.0,984.2 L492.7,984.9 L493.4,985.6 L494.1,985.3 L494.8,985.6 L495.5,985.7 L496.2,985.2 L497.0,984.9 L497.7,983.8 L498.4,984.9 L499.1,984.0 L499.8,983.7 L500.5,984.6 L501.2,983.6 L501.9,984.1 L502.6,984.7 L503.3,984.3 L504.0,984.3 L504.7,984.4 L505.4,984.3 L506.1,984.1 L506.8,983.8 L507.5,984.6 L508.2,983.9 L508.9,984.8 L509.6,983.6 L510.3,983.3 L511.0,983.6 L511.7,983.4 L512.4,983.2 L513.1,983.9 L513.8,983.6 L514.5,983.0 L515.2,982.7 L515.9,983.0 L516.6,981.6 L517.3,983.1 L518.0,982.4 L518.7,982.2 L519.4,983.0 L520.1,983.4 L520.6,983.5 L521.3,983.1 L522.0,982.8 L522.8,983.7 L523.5,984.0 L524.2,984.7 L524.9,984.4 L525.6,986.3 L526.3,985.0 L527.0,985.4 L527.7,986.5 L528.4,984.5 L529.1,986.9 L529.8,986.8 L530.5,987.1 L531.2,985.8 L531.9,987.2 L532.6,986.4 L533.3,986.5 L534.0,986.9 L534.7,988.0 L535.4,987.7 L536.1,986.3 L536.8,988.3 L537.5,988.1 L538.2,987.8 L538.9,987.3 L539.6,987.7 L540.3,987.5 L541.0,988.7 L541.7,987.5 L542.4,987.8 L543.1,989.2 L543.8,987.3 L544.5,986.9 L545.2,988.9 L545.9,988.5 L546.6,987.7 L547.3,989.6 L548.0,989.9 L548.7,989.6 L549.4,989.2 L550.1,989.2 L550.8,988.5 L551.5,988.8 L552.2,989.8 L552.9,988.7 L553.6,987.9 L554.3,988.4 L555.0,988.6 L555.7,989.2 L556.4,988.7 L557.1,989.9 L557.9,988.9 L558.6,989.5 L559.3,988.8 L560.0,989.2 L560.7,990.2 L561.4,989.5 L562.1,988.9 L562.8,990.4 L563.5,990.1 L564.2,990.2 L564.9,990.7 L565.6,989.2 L566.3,989.1 L567.0,989.4 L567.7,989.8 L568.4,990.0 L569.1,989.9 L569.8,990.5 L570.5,989.5 L571.2,989.5 L571.9,989.6 L572.6,990.5 L573.3,990.2 L574.0,990.4 L574.7,989.2 L575.4,990.2 L576.1,991.5 L576.8,990.1 L577.5,989.2 L578.2,990.0 L578.9,989.9 L579.6,990.5 L580.3,991.8 L581.0,991.7 L581.7,991.4 L582.4,990.7 L583.1,990.5 L583.8,990.3 L584.5,990.9 L585.2,990.2 L585.9,991.0 L586.6,991.3 L587.3,990.3 L588.0,991.4 L588.7,992.6 L589.4,991.6 L590.1,990.9 L590.8,992.9 L591.5,991.2 L592.2,991.2 L593.0,992.0 L593.7,992.0 L594.4,991.4 L595.1,991.5 L595.8,990.4 L596.5,991.0 L597.2,992.2 L597.9,991.8 L598.6,990.8 L599.3,990.1 L600.0,991.1 L600.7,991.1 L601.4,990.2 L602.1,991.4 L602.8,991.6 L603.5,992.3 L604.2,991.8 L604.9,990.1 L605.6,992.4 L606.3,991.5 L607.0,992.4 L607.7,991.5 L608.4,991.0 L609.1,991.8 L609.8,991.2 L610.5,991.2 L611.2,991.4 L611.9,990.6 L612.6,991.2 L613.3,991.9 L614.0,992.2 L614.7,992.3 L615.4,991.5 L616.1,992.0 L616.8,990.2 L617.5,990.7 L618.2,992.0 L618.9,992.1 L619.6,990.9 L620.3,993.1 L621.0,992.3 L621.7,991.4 L622.4,992.6 L623.1,992.3 L623.8,992.3 L624.5,991.7 L625.2,992.0 L625.9,991.9 L626.6,991.8 L627.3,992.1 L628.1,991.5" fill="none" stroke="#e8b150" stroke-width="2.4" stroke-linejoin="round"/>
<path d="M412.0,1005.9 L412.7,1005.0 L413.4,1004.0 L414.1,1002.9 L414.8,1001.7 L415.5,1000.3 L416.2,999.7 L416.9,999.0 L417.6,998.3 L418.3,997.3 L419.0,996.5 L419.7,995.8 L420.4,995.4 L421.1,994.3 L421.8,993.1 L422.5,993.7 L423.2,992.3 L423.9,992.5 L424.6,990.9 L425.3,990.8 L426.1,990.9 L426.8,989.3 L427.5,987.9 L428.2,988.3 L428.9,987.2 L429.6,987.4 L430.3,988.1 L431.0,986.2 L431.7,986.3 L432.4,986.5 L433.1,984.7 L433.8,984.6 L434.5,984.8 L435.2,983.5 L435.9,984.3 L436.6,983.0 L437.3,983.6 L438.0,982.3 L438.7,983.0 L439.4,981.1 L440.1,981.6 L440.8,980.5 L441.5,981.6 L442.2,981.1 L442.9,980.0 L443.6,982.0 L444.3,980.7 L445.0,979.1 L445.7,979.2 L446.4,978.6 L447.1,979.2 L447.8,978.4 L448.5,978.9 L449.2,979.1 L449.9,979.1 L450.6,978.1 L451.3,977.9 L452.0,977.7 L452.7,979.3 L453.4,978.2 L454.1,977.0 L454.8,976.3 L455.5,976.7 L456.2,976.6 L456.9,977.3 L457.6,974.4 L458.3,976.2 L459.0,974.3 L459.7,974.2 L460.4,974.8 L461.1,975.1 L461.9,974.5 L462.6,975.1 L463.3,974.1 L464.0,974.1 L464.7,973.6 L465.4,973.1 L466.1,972.5 L466.8,973.6 L467.5,972.6 L468.2,973.6 L468.9,973.5 L469.6,973.1 L470.3,973.2 L471.0,971.8 L471.7,971.7 L472.4,971.3 L473.1,972.0 L473.8,971.6 L474.5,972.0 L475.2,972.2 L475.9,971.1 L476.6,971.1 L477.3,971.8 L478.0,970.6 L478.7,971.9 L479.4,970.8 L480.1,970.9 L480.8,970.7 L481.5,970.9 L482.2,969.5 L482.9,969.6 L483.6,969.1 L484.3,969.6 L485.0,970.4 L485.7,969.7 L486.4,970.1 L487.1,968.9 L487.8,968.3 L488.5,968.8 L489.2,969.2 L489.9,969.0 L490.6,968.5 L491.3,969.4 L492.0,968.3 L492.7,968.1 L493.4,968.5 L494.1,968.3 L494.8,967.8 L495.5,968.3 L496.2,968.2 L497.0,967.1 L497.7,967.3 L498.4,966.3 L499.1,967.8 L499.8,968.2 L500.5,966.4 L501.2,966.3 L501.9,967.2 L502.6,967.6 L503.3,966.6 L504.0,967.5 L504.7,966.5 L505.4,967.6 L506.1,966.3 L506.8,967.3 L507.5,966.1 L508.2,964.9 L508.9,965.9 L509.6,965.1 L510.3,965.9 L511.0,966.0 L511.7,966.2 L512.4,964.6 L513.1,965.1 L513.8,964.0 L514.5,965.6 L515.2,964.9 L515.9,964.7 L516.6,963.7 L517.3,963.4 L518.0,964.8 L518.7,965.0 L519.4,965.3 L520.1,963.3 L520.6,964.1 L521.3,965.1 L522.0,965.4 L522.8,967.5 L523.5,967.5 L524.2,966.4 L524.9,967.2 L525.6,967.8 L526.3,968.9 L527.0,968.3 L527.7,967.9 L528.4,970.1 L529.1,969.7 L529.8,970.3 L530.5,970.0 L531.2,970.5 L531.9,970.9 L532.6,971.6 L533.3,971.3 L534.0,971.9 L534.7,971.8 L535.4,972.0 L536.1,971.7 L536.8,972.7 L537.5,972.7 L538.2,972.0 L538.9,972.9 L539.6,973.1 L540.3,972.6 L541.0,973.1 L541.7,973.3 L542.4,973.4 L543.1,974.4 L543.8,973.5 L544.5,973.1 L545.2,973.6 L545.9,975.1 L546.6,974.1 L547.3,974.9 L548.0,974.6 L548.7,974.5 L549.4,975.4 L550.1,973.9 L550.8,974.9 L551.5,974.4 L552.2,974.6 L552.9,974.3 L553.6,974.4 L554.3,976.2 L555.0,975.3 L555.7,976.8 L556.4,975.8 L557.1,975.2 L557.9,975.1 L558.6,975.0 L559.3,976.1 L560.0,975.7 L560.7,975.9 L561.4,975.3 L562.1,975.1 L562.8,976.4 L563.5,973.9 L564.2,976.3 L564.9,976.6 L565.6,976.1 L566.3,976.1 L567.0,976.3 L567.7,977.1 L568.4,975.8 L569.1,976.8 L569.8,975.9 L570.5,976.1 L571.2,977.8 L571.9,977.7 L572.6,977.7 L573.3,977.0 L574.0,977.2 L574.7,977.1 L575.4,977.9 L576.1,977.1 L576.8,976.6 L577.5,978.3 L578.2,977.7 L578.9,977.5 L579.6,977.8 L580.3,977.9 L581.0,976.7 L581.7,977.0 L582.4,977.4 L583.1,978.4 L583.8,976.6 L584.5,977.8 L585.2,978.5 L585.9,978.4 L586.6,978.5 L587.3,976.9 L588.0,978.2 L588.7,978.3 L589.4,979.7 L590.1,978.0 L590.8,979.2 L591.5,979.2 L592.2,978.2 L593.0,979.2 L593.7,978.2 L594.4,978.0 L595.1,979.9 L595.8,978.9 L596.5,979.8 L597.2,978.9 L597.9,978.4 L598.6,979.8 L599.3,977.9 L600.0,979.3 L600.7,979.9 L601.4,979.2 L602.1,978.7 L602.8,980.1 L603.5,979.3 L604.2,980.2 L604.9,978.6 L605.6,979.3 L606.3,979.7 L607.0,978.8 L607.7,980.3 L608.4,979.8 L609.1,978.5 L609.8,979.7 L610.5,978.8 L611.2,979.6 L611.9,980.2 L612.6,979.9 L613.3,979.8 L614.0,980.1 L614.7,980.4 L615.4,980.4 L616.1,980.9 L616.8,979.9 L617.5,979.8 L618.2,979.6 L618.9,981.2 L619.6,979.6 L620.3,980.2 L621.0,981.1 L621.7,980.2 L622.4,979.8 L623.1,980.0 L623.8,979.9 L624.5,979.8 L625.2,979.8 L625.9,980.5 L626.6,981.8 L627.3,981.0 L628.1,980.3" fill="none" stroke="#6fb83a" stroke-width="2.4" stroke-linejoin="round"/>
<path d="M412.0,1005.9 L412.7,1004.1 L413.4,1002.5 L414.1,1001.2 L414.8,999.3 L415.5,998.7 L416.2,996.8 L416.9,996.0 L417.6,994.9 L418.3,993.3 L419.0,992.6 L419.7,991.1 L420.4,990.8 L421.1,989.4 L421.8,988.8 L422.5,987.6 L423.2,986.8 L423.9,986.3 L424.6,984.7 L425.3,984.8 L426.1,984.0 L426.8,982.3 L427.5,981.6 L428.2,981.1 L428.9,980.6 L429.6,978.9 L430.3,980.2 L431.0,979.4 L431.7,979.0 L432.4,977.3 L433.1,977.1 L433.8,976.1 L434.5,975.6 L435.2,975.9 L435.9,975.8 L436.6,975.5 L437.3,973.0 L438.0,973.3 L438.7,973.2 L439.4,973.3 L440.1,972.8 L440.8,972.5 L441.5,972.1 L442.2,973.1 L442.9,971.2 L443.6,971.1 L444.3,970.3 L445.0,970.0 L445.7,969.3 L446.4,969.5 L447.1,968.7 L447.8,970.5 L448.5,969.3 L449.2,967.2 L449.9,968.8 L450.6,967.9 L451.3,967.0 L452.0,967.7 L452.7,966.4 L453.4,967.5 L454.1,967.5 L454.8,966.9 L455.5,966.9 L456.2,965.6 L456.9,965.5 L457.6,964.9 L458.3,965.5 L459.0,963.0 L459.7,964.4 L460.4,964.2 L461.1,963.6 L461.9,963.9 L462.6,963.9 L463.3,963.2 L464.0,962.5 L464.7,962.4 L465.4,962.1 L466.1,962.8 L466.8,962.7 L467.5,960.8 L468.2,962.0 L468.9,961.3 L469.6,961.0 L470.3,960.4 L471.0,961.9 L471.7,961.2 L472.4,961.0 L473.1,960.7 L473.8,961.8 L474.5,960.2 L475.2,961.8 L475.9,959.6 L476.6,959.3 L477.3,959.1 L478.0,960.0 L478.7,958.5 L479.4,959.5 L480.1,959.5 L480.8,959.2 L481.5,958.9 L482.2,958.1 L482.9,957.6 L483.6,959.2 L484.3,958.1 L485.0,957.1 L485.7,957.3 L486.4,957.0 L487.1,958.1 L487.8,956.4 L488.5,957.8 L489.2,956.6 L489.9,955.7 L490.6,955.2 L491.3,955.9 L492.0,955.6 L492.7,956.3 L493.4,956.1 L494.1,954.9 L494.8,955.5 L495.5,955.5 L496.2,956.1 L497.0,955.0 L497.7,954.6 L498.4,955.3 L499.1,955.0 L499.8,953.6 L500.5,954.3 L501.2,954.5 L501.9,954.9 L502.6,954.4 L503.3,954.1 L504.0,952.9 L504.7,954.0 L505.4,952.4 L506.1,954.0 L506.8,953.5 L507.5,952.6 L508.2,953.2 L508.9,953.4 L509.6,952.9 L510.3,952.4 L511.0,953.6 L511.7,952.6 L512.4,952.4 L513.1,952.4 L513.8,951.6 L514.5,952.3 L515.2,952.1 L515.9,951.7 L516.6,951.2 L517.3,951.6 L518.0,950.5 L518.7,951.9 L519.4,950.4 L520.1,951.6 L520.6,951.1 L521.3,951.8 L522.0,951.6 L522.8,953.2 L523.5,954.9 L524.2,954.6 L524.9,956.3 L525.6,957.3 L526.3,957.2 L527.0,958.0 L527.7,958.0 L528.4,959.5 L529.1,959.4 L529.8,959.7 L530.5,960.4 L531.2,961.0 L531.9,961.8 L532.6,961.2 L533.3,962.0 L534.0,962.2 L534.7,963.0 L535.4,963.1 L536.1,964.1 L536.8,963.7 L537.5,963.5 L538.2,964.2 L538.9,964.0 L539.6,964.5 L540.3,964.1 L541.0,965.3 L541.7,966.4 L542.4,965.3 L543.1,965.9 L543.8,966.6 L544.5,965.8 L545.2,966.2 L545.9,966.3 L546.6,967.0 L547.3,966.8 L548.0,966.9 L548.7,966.1 L549.4,967.8 L550.1,967.6 L550.8,967.5 L551.5,968.9 L552.2,969.0 L552.9,966.8 L553.6,969.4 L554.3,968.0 L555.0,969.1 L555.7,969.1 L556.4,970.0 L557.1,969.5 L557.9,968.5 L558.6,970.0 L559.3,968.9 L560.0,969.2 L560.7,968.2 L561.4,969.9 L562.1,968.9 L562.8,969.3 L563.5,970.1 L564.2,971.1 L564.9,969.2 L565.6,971.1 L566.3,970.7 L567.0,969.9 L567.7,969.9 L568.4,971.2 L569.1,970.8 L569.8,971.0 L570.5,970.2 L571.2,969.5 L571.9,972.3 L572.6,970.7 L573.3,973.2 L574.0,971.4 L574.7,972.2 L575.4,970.4 L576.1,971.6 L576.8,972.3 L577.5,972.2 L578.2,972.4 L578.9,972.0 L579.6,972.3 L580.3,971.8 L581.0,971.4 L581.7,972.0 L582.4,973.3 L583.1,973.6 L583.8,973.1 L584.5,972.1 L585.2,973.0 L585.9,973.3 L586.6,972.9 L587.3,973.9 L588.0,973.8 L588.7,972.9 L589.4,973.5 L590.1,973.6 L590.8,973.2 L591.5,973.9 L592.2,974.0 L593.0,973.9 L593.7,973.3 L594.4,973.8 L595.1,974.6 L595.8,974.1 L596.5,973.6 L597.2,972.9 L597.9,974.8 L598.6,974.0 L599.3,974.4 L600.0,973.8 L600.7,974.1 L601.4,973.5 L602.1,974.2 L602.8,974.9 L603.5,975.0 L604.2,974.5 L604.9,974.5 L605.6,973.3 L606.3,973.8 L607.0,975.7 L607.7,974.8 L608.4,975.9 L609.1,976.2 L609.8,974.7 L610.5,974.9 L611.2,976.0 L611.9,974.3 L612.6,976.0 L613.3,976.2 L614.0,975.1 L614.7,975.4 L615.4,975.7 L616.1,975.7 L616.8,975.6 L617.5,975.9 L618.2,976.0 L618.9,977.1 L619.6,976.8 L620.3,975.6 L621.0,976.5 L621.7,975.8 L622.4,975.4 L623.1,976.4 L623.8,976.1 L624.5,975.0 L625.2,975.9 L625.9,975.2 L626.6,975.5 L627.3,976.0 L628.1,976.6" fill="none" stroke="#3aa4b8" stroke-width="2.4" stroke-linejoin="round"/>
<path d="M412.0,1006.0 L412.7,1001.4 L413.4,996.8 L414.1,992.7 L414.8,989.0 L415.5,985.1 L416.2,982.1 L416.9,978.5 L417.6,975.8 L418.3,973.0 L419.0,970.3 L419.7,967.8 L420.4,964.5 L421.1,963.8 L421.8,961.0 L422.5,958.5 L423.2,956.9 L423.9,955.5 L424.6,952.9 L425.3,952.6 L426.1,951.2 L426.8,948.9 L427.5,948.5 L428.2,947.7 L428.9,944.8 L429.6,943.7 L430.3,942.6 L431.0,942.2 L431.7,940.8 L432.4,940.6 L433.1,938.0 L433.8,937.7 L434.5,936.9 L435.2,937.8 L435.9,935.3 L436.6,934.2 L437.3,933.7 L438.0,933.3 L438.7,933.1 L439.4,932.7 L440.1,931.5 L440.8,931.1 L441.5,930.6 L442.2,930.5 L442.9,928.7 L443.6,930.0 L444.3,928.8 L445.0,928.7 L445.7,927.2 L446.4,926.5 L447.1,926.2 L447.8,926.1 L448.5,927.1 L449.2,924.5 L449.9,925.1 L450.6,925.2 L451.3,924.7 L452.0,924.6 L452.7,923.8 L453.4,923.5 L454.1,923.6 L454.8,924.7 L455.5,922.8 L456.2,922.2 L456.9,921.8 L457.6,922.0 L458.3,921.3 L459.0,920.6 L459.7,921.3 L460.4,919.8 L461.1,921.7 L461.9,921.0 L462.6,920.5 L463.3,921.2 L464.0,920.1 L464.7,918.4 L465.4,918.2 L466.1,918.6 L466.8,917.4 L467.5,918.1 L468.2,918.3 L468.9,917.6 L469.6,917.6 L470.3,916.8 L471.0,918.0 L471.7,916.2 L472.4,916.9 L473.1,915.9 L473.8,917.2 L474.5,916.3 L475.2,915.7 L475.9,915.0 L476.6,916.1 L477.3,914.1 L478.0,914.7 L478.7,915.1 L479.4,913.8 L480.1,914.3 L480.8,913.5 L481.5,912.5 L482.2,913.3 L482.9,913.9 L483.6,913.7 L484.3,912.9 L485.0,912.9 L485.7,913.4 L486.4,913.1 L487.1,912.1 L487.8,910.9 L488.5,913.8 L489.2,911.5 L489.9,911.9 L490.6,911.1 L491.3,910.9 L492.0,911.3 L492.7,911.8 L493.4,911.8 L494.1,912.0 L494.8,909.9 L495.5,910.6 L496.2,910.6 L497.0,910.3 L497.7,910.8 L498.4,909.6 L499.1,908.8 L499.8,908.8 L500.5,910.3 L501.2,908.3 L501.9,909.5 L502.6,910.1 L503.3,909.5 L504.0,909.2 L504.7,908.4 L505.4,908.9 L506.1,909.1 L506.8,908.1 L507.5,906.6 L508.2,908.1 L508.9,907.2 L509.6,907.3 L510.3,905.6 L511.0,908.3 L511.7,906.3 L512.4,907.6 L513.1,907.1 L513.8,906.6 L514.5,904.4 L515.2,906.8 L515.9,907.3 L516.6,905.2 L517.3,906.4 L518.0,905.9 L518.7,905.6 L519.4,905.4 L520.1,905.5 L520.6,905.1 L521.3,906.9 L522.0,908.4 L522.8,910.8 L523.5,912.6 L524.2,914.2 L524.9,914.6 L525.6,916.3 L526.3,917.1 L527.0,918.2 L527.7,918.6 L528.4,920.5 L529.1,921.1 L529.8,923.3 L530.5,924.1 L531.2,924.4 L531.9,925.7 L532.6,925.3 L533.3,927.2 L534.0,927.0 L534.7,929.2 L535.4,929.0 L536.1,929.1 L536.8,929.6 L537.5,931.1 L538.2,930.4 L538.9,930.4 L539.6,931.0 L540.3,932.3 L541.0,932.7 L541.7,933.5 L542.4,932.8 L543.1,932.7 L543.8,934.3 L544.5,935.4 L545.2,934.6 L545.9,934.6 L546.6,937.1 L547.3,935.6 L548.0,934.7 L548.7,935.8 L549.4,936.3 L550.1,936.7 L550.8,936.6 L551.5,938.1 L552.2,938.3 L552.9,937.8 L553.6,938.8 L554.3,938.5 L555.0,940.1 L555.7,938.7 L556.4,938.8 L557.1,939.6 L557.9,939.8 L558.6,939.1 L559.3,941.0 L560.0,941.1 L560.7,941.5 L561.4,941.3 L562.1,941.9 L562.8,941.4 L563.5,942.1 L564.2,942.8 L564.9,943.0 L565.6,941.5 L566.3,942.5 L567.0,942.8 L567.7,942.9 L568.4,943.1 L569.1,942.8 L569.8,943.1 L570.5,944.0 L571.2,944.3 L571.9,944.7 L572.6,945.0 L573.3,943.5 L574.0,945.1 L574.7,946.0 L575.4,945.4 L576.1,945.6 L576.8,945.0 L577.5,945.9 L578.2,945.2 L578.9,945.5 L579.6,945.1 L580.3,944.7 L581.0,944.4 L581.7,945.5 L582.4,947.2 L583.1,946.9 L583.8,946.7 L584.5,945.7 L585.2,946.7 L585.9,946.5 L586.6,947.5 L587.3,947.2 L588.0,947.2 L588.7,948.1 L589.4,947.5 L590.1,947.4 L590.8,948.3 L591.5,947.7 L592.2,947.5 L593.0,948.6 L593.7,948.8 L594.4,949.1 L595.1,949.4 L595.8,949.1 L596.5,949.5 L597.2,949.6 L597.9,950.0 L598.6,950.6 L599.3,950.4 L600.0,949.7 L600.7,950.8 L601.4,950.5 L602.1,949.2 L602.8,949.7 L603.5,950.9 L604.2,950.2 L604.9,951.1 L605.6,949.8 L606.3,951.3 L607.0,951.0 L607.7,950.3 L608.4,951.8 L609.1,950.5 L609.8,952.0 L610.5,951.4 L611.2,951.8 L611.9,951.8 L612.6,951.8 L613.3,952.0 L614.0,952.7 L614.7,951.6 L615.4,951.8 L616.1,951.5 L616.8,951.6 L617.5,953.4 L618.2,951.8 L618.9,951.9 L619.6,953.1 L620.3,952.2 L621.0,952.1 L621.7,953.4 L622.4,954.0 L623.1,953.5 L623.8,951.6 L624.5,953.3 L625.2,954.2 L625.9,953.7 L626.6,954.3 L627.3,954.0 L628.1,953.7" fill="none" stroke="#21509e" stroke-width="2.4" stroke-linejoin="round"/>
<line x1="411.9" y1="895.6" x2="411.9" y2="1093.0" stroke="#b21f2d" stroke-width="1.8" stroke-dasharray="4.2 2.6"/>
<line x1="520.2" y1="895.6" x2="520.2" y2="1093.0" stroke="#a0405a" stroke-width="1.1" stroke-dasharray="1.6 1.2"/>
<rect x="392.8" y="895.6" width="234.5" height="197.4" fill="none" stroke="#000" stroke-width="1.8"/>
<line x1="381.8" y1="920.6" x2="392.8" y2="920.6" stroke="#000" stroke-width="1.8"/>
<text x="378.0" y="928.0" font-size="23.4" text-anchor="end">0.3</text>
<line x1="381.8" y1="949.0" x2="392.8" y2="949.0" stroke="#000" stroke-width="1.8"/>
<text x="378.0" y="956.4" font-size="23.4" text-anchor="end">0.2</text>
<line x1="381.8" y1="977.4" x2="392.8" y2="977.4" stroke="#000" stroke-width="1.8"/>
<text x="378.0" y="984.8" font-size="23.4" text-anchor="end">0.1</text>
<line x1="381.8" y1="1005.8" x2="392.8" y2="1005.8" stroke="#000" stroke-width="1.8"/>
<text x="378.0" y="1013.2" font-size="23.4" text-anchor="end">0.0</text>
<line x1="381.8" y1="1034.2" x2="392.8" y2="1034.2" stroke="#000" stroke-width="1.8"/>
<text x="378.0" y="1041.6" font-size="23.4" text-anchor="end">-0.1</text>
<line x1="381.8" y1="1062.6" x2="392.8" y2="1062.6" stroke="#000" stroke-width="1.8"/>
<text x="378.0" y="1070.0" font-size="23.4" text-anchor="end">-0.2</text>
<line x1="392.8" y1="906.4" x2="403.4" y2="906.4" stroke="#000" stroke-width="1.8"/>
<line x1="392.8" y1="934.8" x2="403.4" y2="934.8" stroke="#000" stroke-width="1.8"/>
<line x1="392.8" y1="963.2" x2="403.4" y2="963.2" stroke="#000" stroke-width="1.8"/>
<line x1="392.8" y1="991.6" x2="403.4" y2="991.6" stroke="#000" stroke-width="1.8"/>
<line x1="392.8" y1="1020.0" x2="403.4" y2="1020.0" stroke="#000" stroke-width="1.8"/>
<line x1="392.8" y1="1048.4" x2="403.4" y2="1048.4" stroke="#000" stroke-width="1.8"/>
<text x="332.0" y="990.6" font-size="23.4" text-anchor="middle" transform="rotate(-90 332.0 990.6)">nm</text>
<text x="408.5" y="1117.4" font-size="23.4" text-anchor="middle">400</text>
<text x="478.2" y="1117.4" font-size="23.4" text-anchor="middle">600</text>
<text x="548.4" y="1117.4" font-size="23.4" text-anchor="middle">800</text>
<text x="622.2" y="1117.4" font-size="23.4" text-anchor="middle">1000</text>
<text x="519.5" y="1139.3" font-size="23.4" text-anchor="middle">Time(s)</text>
<text x="428.2" y="1070.5" font-size="23.4">Kd=17.2 ± 1.1 nM</text>
<text x="664.5" y="771.7" font-size="29" font-weight="bold">h</text>
<text x="840.0" y="807.0" font-size="23.4" text-anchor="middle">Migration assay</text>
<line x1="771.0" y1="866.8" x2="771.0" y2="1076.0" stroke="#000" stroke-width="2.4"/>
<line x1="764.0" y1="1075.0" x2="771.0" y2="1075.0" stroke="#000" stroke-width="2.4"/>
<text x="762.0" y="1084.1" font-size="23.4" text-anchor="end">0</text>
<line x1="764.0" y1="1006.0" x2="771.0" y2="1006.0" stroke="#000" stroke-width="2.4"/>
<text x="762.0" y="1015.1" font-size="23.4" text-anchor="end">50</text>
<line x1="764.0" y1="937.0" x2="771.0" y2="937.0" stroke="#000" stroke-width="2.4"/>
<text x="762.0" y="946.1" font-size="23.4" text-anchor="end">100</text>
<line x1="764.0" y1="868.0" x2="771.0" y2="868.0" stroke="#000" stroke-width="2.4"/>
<text x="762.0" y="877.1" font-size="23.4" text-anchor="end">150</text>
<line x1="764.0" y1="1076.0" x2="935.6" y2="1076.0" stroke="#000" stroke-width="2.4"/>
<rect x="783.7" y="1028.6" width="24.6" height="47.4" fill="none" stroke="#dc1e28" stroke-width="3"/>
<line x1="796.0" y1="1004.0" x2="796.0" y2="1054.6" stroke="#dc1e28" stroke-width="2"/>
<line x1="790.0" y1="1004.0" x2="802.0" y2="1004.0" stroke="#dc1e28" stroke-width="2"/>
<line x1="790.0" y1="1054.6" x2="802.0" y2="1054.6" stroke="#dc1e28" stroke-width="2"/>
<circle cx="796.0" cy="985.0" r="3.2" fill="#dc1e28"/>
<circle cx="796.0" cy="1029.0" r="3.2" fill="#dc1e28"/>
<circle cx="787.6" cy="1040.6" r="3.2" fill="#dc1e28"/>
<circle cx="804.4" cy="1043.0" r="3.2" fill="#dc1e28"/>
<circle cx="796.0" cy="1047.4" r="3.2" fill="#dc1e28"/>
<line x1="796.0" y1="1076.0" x2="796.0" y2="1085.0" stroke="#000" stroke-width="2.2"/>
<rect x="821.5" y="947.0" width="24.6" height="129.0" fill="none" stroke="#1616c8" stroke-width="3"/>
<line x1="833.8" y1="924.4" x2="833.8" y2="972.0" stroke="#1616c8" stroke-width="2"/>
<line x1="827.8" y1="924.4" x2="839.8" y2="924.4" stroke="#1616c8" stroke-width="2"/>
<line x1="827.8" y1="972.0" x2="839.8" y2="972.0" stroke="#1616c8" stroke-width="2"/>
<circle cx="833.6" cy="914.4" r="3.2" fill="#1616c8"/>
<circle cx="829.0" cy="939.4" r="3.2" fill="#1616c8"/>
<circle cx="838.4" cy="945.0" r="3.2" fill="#1616c8"/>
<circle cx="838.4" cy="967.6" r="3.2" fill="#1616c8"/>
<circle cx="829.0" cy="974.0" r="3.2" fill="#1616c8"/>
<line x1="833.8" y1="1076.0" x2="833.8" y2="1085.0" stroke="#000" stroke-width="2.2"/>
<rect x="859.5" y="939.6" width="24.6" height="136.4" fill="none" stroke="#22aa22" stroke-width="3"/>
<line x1="871.8" y1="918.6" x2="871.8" y2="962.0" stroke="#22aa22" stroke-width="2"/>
<line x1="865.8" y1="918.6" x2="877.8" y2="918.6" stroke="#22aa22" stroke-width="2"/>
<line x1="865.8" y1="962.0" x2="877.8" y2="962.0" stroke="#22aa22" stroke-width="2"/>
<circle cx="863.4" cy="930.6" r="3.2" fill="#22aa22"/>
<circle cx="871.4" cy="925.6" r="3.2" fill="#22aa22"/>
<circle cx="879.6" cy="929.6" r="3.2" fill="#22aa22"/>
<circle cx="871.4" cy="935.0" r="3.2" fill="#22aa22"/>
<circle cx="871.4" cy="978.6" r="3.2" fill="#22aa22"/>
<line x1="871.8" y1="1076.0" x2="871.8" y2="1085.0" stroke="#000" stroke-width="2.2"/>
<rect x="897.3" y="1020.4" width="24.6" height="55.6" fill="none" stroke="#000" stroke-width="3"/>
<line x1="909.6" y1="995.0" x2="909.6" y2="1048.0" stroke="#000" stroke-width="2"/>
<line x1="903.6" y1="995.0" x2="915.6" y2="995.0" stroke="#000" stroke-width="2"/>
<line x1="903.6" y1="1048.0" x2="915.6" y2="1048.0" stroke="#000" stroke-width="2"/>
<circle cx="909.6" cy="979.6" r="3.2" fill="#000"/>
<circle cx="909.6" cy="1012.0" r="3.2" fill="#000"/>
<circle cx="909.6" cy="1029.4" r="3.2" fill="#000"/>
<circle cx="914.0" cy="1039.4" r="3.2" fill="#000"/>
<circle cx="904.6" cy="1046.4" r="3.2" fill="#000"/>
<line x1="909.6" y1="1076.0" x2="909.6" y2="1085.0" stroke="#000" stroke-width="2.2"/>
<line x1="792.4" y1="863.0" x2="908.4" y2="863.0" stroke="#000" stroke-width="2.2"/>
<line x1="792.4" y1="885.6" x2="870.4" y2="885.6" stroke="#000" stroke-width="2.2"/>
<line x1="792.4" y1="905.6" x2="834.0" y2="905.6" stroke="#000" stroke-width="2.2"/>
<text x="801.9" y="859.0" font-size="19.7"><tspan font-style="italic">P</tspan> = 0.9532</text>
<text x="789.5" y="882.0" font-size="19.7"><tspan font-style="italic">P</tspan> = 0.0002</text>
<text x="780.1" y="903.6" font-size="19.7"><tspan font-style="italic">P</tspan> = 0.0004</text>
<text x="720.0" y="970.5" font-size="23.4" text-anchor="middle" transform="rotate(-90 720.0 970.5)">Cells/field</text>
<text x="756.0" y="1105.5" font-size="23.4" text-anchor="end">NETs</text>
<text x="767.4" y="1133.5" font-size="23.4" text-anchor="end">Antibody</text>
<text x="796.0" y="1105.5" font-size="30" text-anchor="middle">-</text>
<text x="833.8" y="1103.5" font-size="23.4" text-anchor="middle">+</text>
<text x="871.8" y="1103.5" font-size="23.4" text-anchor="middle">+</text>
<text x="909.6" y="1103.5" font-size="23.4" text-anchor="middle">+</text>
<text x="796.0" y="1135.5" font-size="30" text-anchor="middle">-</text>
<text x="833.8" y="1135.5" font-size="30" text-anchor="middle">-</text>
<text x="893.8" y="1123.0" font-size="23.4" text-anchor="end" transform="rotate(-45 893.8 1123.0)">IgG</text>
<text x="948.1" y="1120.0" font-size="23.5" text-anchor="end" transform="rotate(-45 948.1 1120.0)">CCDC25</text>
<text x="1125.5" y="807.0" font-size="23.4" text-anchor="middle">Adhesion assay</text>
<line x1="1054.0" y1="865.2" x2="1054.0" y2="1074.4" stroke="#000" stroke-width="2.4"/>
<line x1="1047.0" y1="1074.0" x2="1054.0" y2="1074.0" stroke="#000" stroke-width="2.4"/>
<text x="1045.0" y="1083.1" font-size="23.4" text-anchor="end">0</text>
<line x1="1047.0" y1="1004.8" x2="1054.0" y2="1004.8" stroke="#000" stroke-width="2.4"/>
<text x="1045.0" y="1013.9" font-size="23.4" text-anchor="end">50</text>
<line x1="1047.0" y1="935.6" x2="1054.0" y2="935.6" stroke="#000" stroke-width="2.4"/>
<text x="1045.0" y="944.7" font-size="23.4" text-anchor="end">100</text>
<line x1="1047.0" y1="866.4" x2="1054.0" y2="866.4" stroke="#000" stroke-width="2.4"/>
<text x="1045.0" y="875.5" font-size="23.4" text-anchor="end">150</text>
<line x1="1047.0" y1="1074.4" x2="1219.0" y2="1074.4" stroke="#000" stroke-width="2.4"/>
<rect x="1066.7" y="1007.0" width="24.6" height="67.4" fill="none" stroke="#dc1e28" stroke-width="3"/>
<line x1="1079.0" y1="980.0" x2="1079.0" y2="1036.0" stroke="#dc1e28" stroke-width="2"/>
<line x1="1073.0" y1="980.0" x2="1085.0" y2="980.0" stroke="#dc1e28" stroke-width="2"/>
<line x1="1073.0" y1="1036.0" x2="1085.0" y2="1036.0" stroke="#dc1e28" stroke-width="2"/>
<circle cx="1079.0" cy="966.4" r="3.2" fill="#dc1e28"/>
<circle cx="1079.0" cy="999.4" r="3.2" fill="#dc1e28"/>
<circle cx="1079.0" cy="1009.0" r="3.2" fill="#dc1e28"/>
<circle cx="1079.0" cy="1023.4" r="3.2" fill="#dc1e28"/>
<circle cx="1079.0" cy="1040.6" r="3.2" fill="#dc1e28"/>
<line x1="1079.0" y1="1074.4" x2="1079.0" y2="1083.4" stroke="#000" stroke-width="2.2"/>
<rect x="1104.7" y="926.0" width="24.6" height="148.4" fill="none" stroke="#1616c8" stroke-width="3"/>
<line x1="1117.0" y1="902.0" x2="1117.0" y2="951.6" stroke="#1616c8" stroke-width="2"/>
<line x1="1111.0" y1="902.0" x2="1123.0" y2="902.0" stroke="#1616c8" stroke-width="2"/>
<line x1="1111.0" y1="951.6" x2="1123.0" y2="951.6" stroke="#1616c8" stroke-width="2"/>
<circle cx="1117.0" cy="901.4" r="3.2" fill="#1616c8"/>
<circle cx="1121.4" cy="911.0" r="3.2" fill="#1616c8"/>
<circle cx="1112.0" cy="919.0" r="3.2" fill="#1616c8"/>
<circle cx="1117.0" cy="940.0" r="3.2" fill="#1616c8"/>
<circle cx="1117.0" cy="963.6" r="3.2" fill="#1616c8"/>
<line x1="1117.0" y1="1074.4" x2="1117.0" y2="1083.4" stroke="#000" stroke-width="2.2"/>
<rect x="1142.4" y="941.6" width="24.6" height="132.8" fill="none" stroke="#22aa22" stroke-width="3"/>
<line x1="1154.7" y1="923.0" x2="1154.7" y2="963.6" stroke="#22aa22" stroke-width="2"/>
<line x1="1148.7" y1="923.0" x2="1160.7" y2="923.0" stroke="#22aa22" stroke-width="2"/>
<line x1="1148.7" y1="963.6" x2="1160.7" y2="963.6" stroke="#22aa22" stroke-width="2"/>
<circle cx="1159.4" cy="922.0" r="3.2" fill="#22aa22"/>
<circle cx="1150.0" cy="925.4" r="3.2" fill="#22aa22"/>
<circle cx="1154.6" cy="937.0" r="3.2" fill="#22aa22"/>
<circle cx="1159.4" cy="961.0" r="3.2" fill="#22aa22"/>
<circle cx="1150.0" cy="966.0" r="3.2" fill="#22aa22"/>
<line x1="1154.7" y1="1074.4" x2="1154.7" y2="1083.4" stroke="#000" stroke-width="2.2"/>
<rect x="1180.7" y="1001.4" width="24.6" height="73.0" fill="none" stroke="#000" stroke-width="3"/>
<line x1="1193.0" y1="968.0" x2="1193.0" y2="1037.0" stroke="#000" stroke-width="2"/>
<line x1="1187.0" y1="968.0" x2="1199.0" y2="968.0" stroke="#000" stroke-width="2"/>
<line x1="1187.0" y1="1037.0" x2="1199.0" y2="1037.0" stroke="#000" stroke-width="2"/>
<circle cx="1188.0" cy="967.6" r="3.2" fill="#000"/>
<circle cx="1197.6" cy="965.0" r="3.2" fill="#000"/>
<circle cx="1188.0" cy="1012.0" r="3.2" fill="#000"/>
<circle cx="1197.6" cy="1020.6" r="3.2" fill="#000"/>
<circle cx="1193.0" cy="1046.0" r="3.2" fill="#000"/>
<line x1="1193.0" y1="1074.4" x2="1193.0" y2="1083.4" stroke="#000" stroke-width="2.2"/>
<line x1="1075.0" y1="851.6" x2="1191.0" y2="851.6" stroke="#000" stroke-width="2.2"/>
<line x1="1075.0" y1="874.6" x2="1152.6" y2="874.6" stroke="#000" stroke-width="2.2"/>
<line x1="1075.0" y1="895.0" x2="1116.4" y2="895.0" stroke="#000" stroke-width="2.2"/>
<text x="1088.1" y="848.0" font-size="19.7"><tspan font-style="italic">P</tspan> = 0.9865</text>
<text x="1063.1" y="870.6" font-size="19.7"><tspan font-style="italic">P</tspan> = 0.0081</text>
<text x="1059.5" y="892.0" font-size="19.7"><tspan font-style="italic">P</tspan> = 0.0013</text>
<text x="1003.5" y="969.5" font-size="23.4" text-anchor="middle" transform="rotate(-90 1003.5 969.5)">Cells/field</text>
<text x="1039.6" y="1103.9" font-size="23.4" text-anchor="end">NETs</text>
<text x="1050.6" y="1131.9" font-size="23.4" text-anchor="end">Antibody</text>
<text x="1079.0" y="1103.9" font-size="30" text-anchor="middle">-</text>
<text x="1117.0" y="1101.9" font-size="23.4" text-anchor="middle">+</text>
<text x="1154.7" y="1101.9" font-size="23.4" text-anchor="middle">+</text>
<text x="1193.0" y="1101.9" font-size="23.4" text-anchor="middle">+</text>
<text x="1079.0" y="1133.9" font-size="30" text-anchor="middle">-</text>
<text x="1117.0" y="1133.9" font-size="30" text-anchor="middle">-</text>
<text x="1176.7" y="1121.4" font-size="23.4" text-anchor="end" transform="rotate(-45 1176.7 1121.4)">IgG</text>
<text x="1231.5" y="1118.4" font-size="23.5" text-anchor="end" transform="rotate(-45 1231.5 1118.4)">CCDC25</text>
<text x="1412.8" y="807.0" font-size="23.4" text-anchor="middle">Cytoskeleton remodeling</text>
<line x1="1354.0" y1="867.4" x2="1354.0" y2="1074.0" stroke="#000" stroke-width="2.4"/>
<line x1="1347.0" y1="1073.8" x2="1354.0" y2="1073.8" stroke="#000" stroke-width="2.4"/>
<text x="1345.0" y="1082.9" font-size="23.4" text-anchor="end">0</text>
<line x1="1347.0" y1="1022.5" x2="1354.0" y2="1022.5" stroke="#000" stroke-width="2.4"/>
<text x="1345.0" y="1031.6" font-size="23.4" text-anchor="end">2</text>
<line x1="1347.0" y1="971.2" x2="1354.0" y2="971.2" stroke="#000" stroke-width="2.4"/>
<text x="1345.0" y="980.3" font-size="23.4" text-anchor="end">4</text>
<line x1="1347.0" y1="919.9" x2="1354.0" y2="919.9" stroke="#000" stroke-width="2.4"/>
<text x="1345.0" y="929.0" font-size="23.4" text-anchor="end">6</text>
<line x1="1347.0" y1="868.6" x2="1354.0" y2="868.6" stroke="#000" stroke-width="2.4"/>
<text x="1345.0" y="877.7" font-size="23.4" text-anchor="end">8</text>
<line x1="1345.0" y1="1074.0" x2="1516.0" y2="1074.0" stroke="#000" stroke-width="2.4"/>
<rect x="1365.5" y="1047.6" width="24.6" height="26.4" fill="none" stroke="#dc1e28" stroke-width="3"/>
<line x1="1377.8" y1="1022.6" x2="1377.8" y2="1074.0" stroke="#dc1e28" stroke-width="2"/>
<line x1="1371.8" y1="1022.6" x2="1383.8" y2="1022.6" stroke="#dc1e28" stroke-width="2"/>
<line x1="1371.8" y1="1074.0" x2="1383.8" y2="1074.0" stroke="#dc1e28" stroke-width="2"/>
<circle cx="1373.6" cy="1022.6" r="3.2" fill="#dc1e28"/>
<circle cx="1382.6" cy="1022.6" r="3.2" fill="#dc1e28"/>
<circle cx="1378.0" cy="1048.4" r="3.2" fill="#dc1e28"/>
<circle cx="1373.6" cy="1074.6" r="3.2" fill="#dc1e28"/>
<circle cx="1382.6" cy="1074.6" r="3.2" fill="#dc1e28"/>
<line x1="1377.8" y1="1074.0" x2="1377.8" y2="1083.0" stroke="#000" stroke-width="2.2"/>
<rect x="1403.3" y="965.4" width="24.6" height="108.6" fill="none" stroke="#1616c8" stroke-width="3"/>
<line x1="1415.6" y1="946.0" x2="1415.6" y2="987.6" stroke="#1616c8" stroke-width="2"/>
<line x1="1409.6" y1="946.0" x2="1421.6" y2="946.0" stroke="#1616c8" stroke-width="2"/>
<line x1="1409.6" y1="987.6" x2="1421.6" y2="987.6" stroke="#1616c8" stroke-width="2"/>
<circle cx="1411.0" cy="946.0" r="3.2" fill="#1616c8"/>
<circle cx="1420.0" cy="946.0" r="3.2" fill="#1616c8"/>
<circle cx="1411.0" cy="971.0" r="3.2" fill="#1616c8"/>
<circle cx="1420.0" cy="971.0" r="3.2" fill="#1616c8"/>
<circle cx="1415.7" cy="997.0" r="3.2" fill="#1616c8"/>
<line x1="1415.6" y1="1074.0" x2="1415.6" y2="1083.0" stroke="#000" stroke-width="2.2"/>
<rect x="1440.9" y="965.4" width="24.6" height="108.6" fill="none" stroke="#22aa22" stroke-width="3"/>
<line x1="1453.2" y1="938.6" x2="1453.2" y2="994.0" stroke="#22aa22" stroke-width="2"/>
<line x1="1447.2" y1="938.6" x2="1459.2" y2="938.6" stroke="#22aa22" stroke-width="2"/>
<line x1="1447.2" y1="994.0" x2="1459.2" y2="994.0" stroke="#22aa22" stroke-width="2"/>
<circle cx="1453.2" cy="920.4" r="3.2" fill="#22aa22"/>
<circle cx="1444.0" cy="971.0" r="3.2" fill="#22aa22"/>
<circle cx="1453.2" cy="971.0" r="3.2" fill="#22aa22"/>
<circle cx="1461.6" cy="971.0" r="3.2" fill="#22aa22"/>
<circle cx="1453.2" cy="997.0" r="3.2" fill="#22aa22"/>
<line x1="1453.2" y1="1074.0" x2="1453.2" y2="1083.0" stroke="#000" stroke-width="2.2"/>
<rect x="1477.9" y="1042.6" width="24.6" height="31.4" fill="none" stroke="#000" stroke-width="3"/>
<line x1="1490.2" y1="1022.6" x2="1490.2" y2="1065.0" stroke="#000" stroke-width="2"/>
<line x1="1484.2" y1="1022.6" x2="1496.2" y2="1022.6" stroke="#000" stroke-width="2"/>
<line x1="1484.2" y1="1065.0" x2="1496.2" y2="1065.0" stroke="#000" stroke-width="2"/>
<circle cx="1486.0" cy="1022.6" r="3.2" fill="#000"/>
<circle cx="1495.0" cy="1022.6" r="3.2" fill="#000"/>
<circle cx="1486.0" cy="1048.0" r="3.2" fill="#000"/>
<circle cx="1495.0" cy="1048.0" r="3.2" fill="#000"/>
<circle cx="1490.2" cy="1074.6" r="3.2" fill="#000"/>
<line x1="1490.2" y1="1074.0" x2="1490.2" y2="1083.0" stroke="#000" stroke-width="2.2"/>
<line x1="1373.6" y1="871.6" x2="1489.6" y2="871.6" stroke="#000" stroke-width="2.2"/>
<line x1="1373.6" y1="892.6" x2="1451.6" y2="892.6" stroke="#000" stroke-width="2.2"/>
<line x1="1373.6" y1="913.6" x2="1415.6" y2="913.6" stroke="#000" stroke-width="2.2"/>
<text x="1384.5" y="866.4" font-size="19.7"><tspan font-style="italic">P</tspan> = 0.9868</text>
<text x="1373.9" y="891.0" font-size="19.7"><tspan font-style="italic">P</tspan> = 0.0004</text>
<text x="1365.5" y="912.0" font-size="19.7"><tspan font-style="italic">P</tspan> = 0.0004</text>
<text x="1318.0" y="980.0" font-size="23.4" text-anchor="middle" transform="rotate(-90 1318.0 980.0)">FLPs/cell</text>
<text x="1333.4" y="1103.5" font-size="23.4" text-anchor="end">NETs</text>
<text x="1344.4" y="1131.5" font-size="23.4" text-anchor="end">Antibody</text>
<text x="1373.8" y="1103.5" font-size="30" text-anchor="middle">-</text>
<text x="1411.6" y="1101.5" font-size="23.4" text-anchor="middle">+</text>
<text x="1449.2" y="1101.5" font-size="23.4" text-anchor="middle">+</text>
<text x="1486.2" y="1101.5" font-size="23.4" text-anchor="middle">+</text>
<text x="1373.8" y="1133.5" font-size="30" text-anchor="middle">-</text>
<text x="1411.6" y="1133.5" font-size="30" text-anchor="middle">-</text>
<text x="1471.2" y="1121.0" font-size="23.4" text-anchor="end" transform="rotate(-45 1471.2 1121.0)">IgG</text>
<text x="1524.7" y="1118.0" font-size="23.5" text-anchor="end" transform="rotate(-45 1524.7 1118.0)">CCDC25</text>
<text x="1559.0" y="772.0" font-size="29" font-weight="bold">i</text>
<rect x="1603.3" y="762.8" width="187.2" height="186.4" fill="#404040" filter="url(#nz)"/>
<rect x="1603.8" y="951.8" width="187.2" height="186.2" fill="#404040" filter="url(#nz)"/>
<text x="1590.0" y="851.5" font-size="23.4" text-anchor="middle" transform="rotate(-90 1590.0 851.5)">IgG</text>
<text x="1597.5" y="1052.0" font-size="22.8" text-anchor="middle" transform="rotate(-90 1597.5 1052.0)">α-CCDC25</text>
<path d="M1620.9,876.0C1620.9,869.1 1620.6,859.3 1622.7,851.8C1624.7,844.3 1628.4,836.8 1633.0,831.1C1637.6,825.3 1644.0,821.0 1650.3,817.2C1656.7,813.5 1664.7,810.3 1671.1,808.6C1677.4,806.9 1684.3,805.7 1688.3,806.9C1692.4,808.0 1691.2,814.3 1695.3,815.5C1699.3,816.7 1707.4,814.3 1712.5,813.8C1717.7,813.2 1721.8,812.0 1726.4,812.0C1731.0,812.0 1736.2,812.0 1740.2,813.8C1744.2,815.5 1746.0,820.4 1750.6,822.4C1755.2,824.4 1763.4,823.6 1767.9,825.9C1772.3,828.2 1775.9,831.9 1777.4,836.2C1778.8,840.6 1778.1,846.9 1776.5,851.8C1774.9,856.7 1771.6,861.0 1767.9,865.6C1764.1,870.2 1758.1,876.0 1754.0,879.5C1750.0,882.9 1746.5,885.2 1743.7,886.4C1740.8,887.5 1737.9,882.9 1736.7,886.4C1735.6,889.8 1738.5,901.4 1736.7,907.1C1735.0,912.9 1731.0,917.5 1726.4,920.9C1721.8,924.4 1714.3,927.3 1709.1,927.9C1703.9,928.4 1699.9,926.7 1695.3,924.4C1690.6,922.1 1686.6,915.5 1681.4,914.0C1676.2,912.6 1669.9,915.5 1664.1,915.8C1658.4,916.0 1652.0,917.2 1646.9,915.8C1641.7,914.3 1637.1,910.9 1633.0,907.1C1629.0,903.4 1624.7,898.5 1622.7,893.3C1620.6,888.1 1620.9,882.9 1620.9,876.0Z" fill="#2e2e2e" opacity="0.6" filter="url(#b4)" transform="translate(1,2)"/>
<g filter="url(#nz2)"><g filter="url(#b1)">
<path d="M1620.9,876.0C1620.9,869.1 1620.6,859.3 1622.7,851.8C1624.7,844.3 1628.4,836.8 1633.0,831.1C1637.6,825.3 1644.0,821.0 1650.3,817.2C1656.7,813.5 1664.7,810.3 1671.1,808.6C1677.4,806.9 1684.3,805.7 1688.3,806.9C1692.4,808.0 1691.2,814.3 1695.3,815.5C1699.3,816.7 1707.4,814.3 1712.5,813.8C1717.7,813.2 1721.8,812.0 1726.4,812.0C1731.0,812.0 1736.2,812.0 1740.2,813.8C1744.2,815.5 1746.0,820.4 1750.6,822.4C1755.2,824.4 1763.4,823.6 1767.9,825.9C1772.3,828.2 1775.9,831.9 1777.4,836.2C1778.8,840.6 1778.1,846.9 1776.5,851.8C1774.9,856.7 1771.6,861.0 1767.9,865.6C1764.1,870.2 1758.1,876.0 1754.0,879.5C1750.0,882.9 1746.5,885.2 1743.7,886.4C1740.8,887.5 1737.9,882.9 1736.7,886.4C1735.6,889.8 1738.5,901.4 1736.7,907.1C1735.0,912.9 1731.0,917.5 1726.4,920.9C1721.8,924.4 1714.3,927.3 1709.1,927.9C1703.9,928.4 1699.9,926.7 1695.3,924.4C1690.6,922.1 1686.6,915.5 1681.4,914.0C1676.2,912.6 1669.9,915.5 1664.1,915.8C1658.4,916.0 1652.0,917.2 1646.9,915.8C1641.7,914.3 1637.1,910.9 1633.0,907.1C1629.0,903.4 1624.7,898.5 1622.7,893.3C1620.6,888.1 1620.9,882.9 1620.9,876.0Z" fill="#b0b0b0"/>
</g></g>
<g shape-rendering="crispEdges"><rect x="1687.2" y="808.0" width="3.5" height="3.5" fill="#1519ff"/><rect x="1661.4" y="811.2" width="3.5" height="3.5" fill="#5000eb"/><rect x="1664.6" y="811.2" width="3.5" height="3.5" fill="#1519ff"/><rect x="1690.4" y="811.2" width="3.5" height="3.5" fill="#1519ff"/><rect x="1722.7" y="811.2" width="3.5" height="3.5" fill="#1519ff"/><rect x="1725.9" y="811.2" width="6.8" height="3.5" fill="#00f29d"/><rect x="1651.7" y="814.4" width="3.5" height="3.5" fill="#1519ff"/><rect x="1661.4" y="814.4" width="6.8" height="3.5" fill="#5000eb"/><rect x="1696.9" y="814.4" width="10.0" height="3.5" fill="#5000eb"/><rect x="1706.6" y="814.4" width="3.5" height="3.5" fill="#1519ff"/><rect x="1709.8" y="814.4" width="3.5" height="3.5" fill="#0465ff"/><rect x="1713.0" y="814.4" width="3.5" height="3.5" fill="#5000eb"/><rect x="1722.7" y="814.4" width="3.5" height="3.5" fill="#5000eb"/><rect x="1725.9" y="814.4" width="3.5" height="3.5" fill="#1519ff"/><rect x="1729.2" y="814.4" width="6.8" height="3.5" fill="#00f29d"/><rect x="1735.6" y="814.4" width="3.5" height="3.5" fill="#00c2ff"/><rect x="1738.9" y="814.4" width="3.5" height="3.5" fill="#1519ff"/><rect x="1648.5" y="817.7" width="3.5" height="3.5" fill="#00c2ff"/><rect x="1651.7" y="817.7" width="3.5" height="3.5" fill="#0465ff"/><rect x="1654.9" y="817.7" width="3.5" height="3.5" fill="#5000eb"/><rect x="1661.4" y="817.7" width="3.5" height="3.5" fill="#1519ff"/><rect x="1664.6" y="817.7" width="3.5" height="3.5" fill="#5000eb"/><rect x="1696.9" y="817.7" width="3.5" height="3.5" fill="#5000eb"/><rect x="1703.4" y="817.7" width="6.8" height="3.5" fill="#5000eb"/><rect x="1709.8" y="817.7" width="3.5" height="3.5" fill="#1519ff"/><rect x="1713.0" y="817.7" width="3.5" height="3.5" fill="#5000eb"/><rect x="1725.9" y="817.7" width="3.5" height="3.5" fill="#1519ff"/><rect x="1729.2" y="817.7" width="3.5" height="3.5" fill="#49ff28"/><rect x="1732.4" y="817.7" width="3.5" height="3.5" fill="#ff7c00"/><rect x="1735.6" y="817.7" width="3.5" height="3.5" fill="#ebe600"/><rect x="1738.9" y="817.7" width="3.5" height="3.5" fill="#0465ff"/><rect x="1742.1" y="817.7" width="3.5" height="3.5" fill="#1519ff"/><rect x="1645.3" y="820.9" width="10.0" height="3.5" fill="#1519ff"/><rect x="1654.9" y="820.9" width="3.5" height="3.5" fill="#0465ff"/><rect x="1658.2" y="820.9" width="6.8" height="3.5" fill="#1519ff"/><rect x="1696.9" y="820.9" width="13.2" height="3.5" fill="#0465ff"/><rect x="1709.8" y="820.9" width="3.5" height="3.5" fill="#1519ff"/><rect x="1725.9" y="820.9" width="3.5" height="3.5" fill="#1519ff"/><rect x="1729.2" y="820.9" width="3.5" height="3.5" fill="#00f29d"/><rect x="1732.4" y="820.9" width="6.8" height="3.5" fill="#ebe600"/><rect x="1738.9" y="820.9" width="3.5" height="3.5" fill="#49ff28"/><rect x="1742.1" y="820.9" width="3.5" height="3.5" fill="#00f29d"/><rect x="1745.3" y="820.9" width="3.5" height="3.5" fill="#0465ff"/><rect x="1748.5" y="820.9" width="3.5" height="3.5" fill="#1519ff"/><rect x="1638.8" y="824.1" width="10.0" height="3.5" fill="#5000eb"/><rect x="1651.7" y="824.1" width="3.5" height="3.5" fill="#1519ff"/><rect x="1654.9" y="824.1" width="3.5" height="3.5" fill="#0465ff"/><rect x="1658.2" y="824.1" width="3.5" height="3.5" fill="#00c2ff"/><rect x="1661.4" y="824.1" width="3.5" height="3.5" fill="#5000eb"/><rect x="1671.1" y="824.1" width="3.5" height="3.5" fill="#5000eb"/><rect x="1696.9" y="824.1" width="3.5" height="3.5" fill="#00c2ff"/><rect x="1700.1" y="824.1" width="6.8" height="3.5" fill="#00f29d"/><rect x="1706.6" y="824.1" width="3.5" height="3.5" fill="#0465ff"/><rect x="1722.7" y="824.1" width="6.8" height="3.5" fill="#5000eb"/><rect x="1729.2" y="824.1" width="3.5" height="3.5" fill="#1519ff"/><rect x="1732.4" y="824.1" width="3.5" height="3.5" fill="#00f29d"/><rect x="1735.6" y="824.1" width="6.8" height="3.5" fill="#ebe600"/><rect x="1742.1" y="824.1" width="3.5" height="3.5" fill="#ff7c00"/><rect x="1745.3" y="824.1" width="3.5" height="3.5" fill="#00f29d"/><rect x="1748.5" y="824.1" width="3.5" height="3.5" fill="#00c2ff"/><rect x="1751.8" y="824.1" width="3.5" height="3.5" fill="#5000eb"/><rect x="1755.0" y="824.1" width="3.5" height="3.5" fill="#0465ff"/><rect x="1758.2" y="824.1" width="3.5" height="3.5" fill="#1519ff"/><rect x="1761.5" y="824.1" width="3.5" height="3.5" fill="#5000eb"/><rect x="1635.6" y="827.4" width="6.8" height="3.5" fill="#5000eb"/><rect x="1642.0" y="827.4" width="6.8" height="3.5" fill="#1519ff"/><rect x="1648.5" y="827.4" width="3.5" height="3.5" fill="#5000eb"/><rect x="1651.7" y="827.4" width="6.8" height="3.5" fill="#1519ff"/><rect x="1658.2" y="827.4" width="3.5" height="3.5" fill="#0465ff"/><rect x="1661.4" y="827.4" width="3.5" height="3.5" fill="#5000eb"/><rect x="1671.1" y="827.4" width="3.5" height="3.5" fill="#1519ff"/><rect x="1674.3" y="827.4" width="3.5" height="3.5" fill="#5000eb"/><rect x="1696.9" y="827.4" width="3.5" height="3.5" fill="#1519ff"/><rect x="1700.1" y="827.4" width="3.5" height="3.5" fill="#00c2ff"/><rect x="1703.4" y="827.4" width="3.5" height="3.5" fill="#00f29d"/><rect x="1706.6" y="827.4" width="3.5" height="3.5" fill="#00c2ff"/><rect x="1709.8" y="827.4" width="3.5" height="3.5" fill="#0465ff"/><rect x="1713.0" y="827.4" width="3.5" height="3.5" fill="#5000eb"/><rect x="1719.5" y="827.4" width="3.5" height="3.5" fill="#1519ff"/><rect x="1722.7" y="827.4" width="3.5" height="3.5" fill="#5000eb"/><rect x="1725.9" y="827.4" width="3.5" height="3.5" fill="#1519ff"/><rect x="1729.2" y="827.4" width="3.5" height="3.5" fill="#00f29d"/><rect x="1732.4" y="827.4" width="3.5" height="3.5" fill="#ff7c00"/><rect x="1735.6" y="827.4" width="13.2" height="3.5" fill="#ff0000"/><rect x="1748.5" y="827.4" width="3.5" height="3.5" fill="#49ff28"/><rect x="1751.8" y="827.4" width="3.5" height="3.5" fill="#00c2ff"/><rect x="1755.0" y="827.4" width="3.5" height="3.5" fill="#0465ff"/><rect x="1758.2" y="827.4" width="6.8" height="3.5" fill="#1519ff"/><rect x="1632.3" y="830.6" width="3.5" height="3.5" fill="#5000eb"/><rect x="1638.8" y="830.6" width="3.5" height="3.5" fill="#1519ff"/><rect x="1642.0" y="830.6" width="10.0" height="3.5" fill="#00c2ff"/><rect x="1651.7" y="830.6" width="3.5" height="3.5" fill="#0465ff"/><rect x="1654.9" y="830.6" width="6.8" height="3.5" fill="#1519ff"/><rect x="1661.4" y="830.6" width="3.5" height="3.5" fill="#5000eb"/><rect x="1667.9" y="830.6" width="3.5" height="3.5" fill="#5000eb"/><rect x="1671.1" y="830.6" width="3.5" height="3.5" fill="#1519ff"/><rect x="1674.3" y="830.6" width="6.8" height="3.5" fill="#5000eb"/><rect x="1700.1" y="830.6" width="3.5" height="3.5" fill="#5000eb"/><rect x="1703.4" y="830.6" width="6.8" height="3.5" fill="#0465ff"/><rect x="1709.8" y="830.6" width="3.5" height="3.5" fill="#00c2ff"/><rect x="1713.0" y="830.6" width="3.5" height="3.5" fill="#00f29d"/><rect x="1716.3" y="830.6" width="3.5" height="3.5" fill="#0465ff"/><rect x="1719.5" y="830.6" width="3.5" height="3.5" fill="#00c2ff"/><rect x="1722.7" y="830.6" width="6.8" height="3.5" fill="#0465ff"/><rect x="1729.2" y="830.6" width="3.5" height="3.5" fill="#00f29d"/><rect x="1732.4" y="830.6" width="19.7" height="3.5" fill="#ff0000"/><rect x="1751.8" y="830.6" width="3.5" height="3.5" fill="#49ff28"/><rect x="1755.0" y="830.6" width="3.5" height="3.5" fill="#00c2ff"/><rect x="1758.2" y="830.6" width="10.0" height="3.5" fill="#1519ff"/><rect x="1767.9" y="830.6" width="3.5" height="3.5" fill="#0465ff"/><rect x="1771.1" y="830.6" width="3.5" height="3.5" fill="#00c2ff"/><rect x="1635.6" y="833.8" width="3.5" height="3.5" fill="#5000eb"/><rect x="1638.8" y="833.8" width="3.5" height="3.5" fill="#1519ff"/><rect x="1642.0" y="833.8" width="3.5" height="3.5" fill="#0465ff"/><rect x="1645.3" y="833.8" width="10.0" height="3.5" fill="#00c2ff"/><rect x="1654.9" y="833.8" width="6.8" height="3.5" fill="#1519ff"/><rect x="1661.4" y="833.8" width="16.4" height="3.5" fill="#5000eb"/><rect x="1677.5" y="833.8" width="3.5" height="3.5" fill="#1519ff"/><rect x="1703.4" y="833.8" width="3.5" height="3.5" fill="#5000eb"/><rect x="1706.6" y="833.8" width="3.5" height="3.5" fill="#0465ff"/><rect x="1709.8" y="833.8" width="13.2" height="3.5" fill="#00f29d"/><rect x="1722.7" y="833.8" width="3.5" height="3.5" fill="#00c2ff"/><rect x="1725.9" y="833.8" width="3.5" height="3.5" fill="#1519ff"/><rect x="1729.2" y="833.8" width="3.5" height="3.5" fill="#0465ff"/><rect x="1732.4" y="833.8" width="3.5" height="3.5" fill="#00f29d"/><rect x="1735.6" y="833.8" width="3.5" height="3.5" fill="#ff7c00"/><rect x="1738.9" y="833.8" width="10.0" height="3.5" fill="#ff0000"/><rect x="1748.5" y="833.8" width="3.5" height="3.5" fill="#ff7c00"/><rect x="1751.8" y="833.8" width="3.5" height="3.5" fill="#49ff28"/><rect x="1755.0" y="833.8" width="3.5" height="3.5" fill="#00c2ff"/><rect x="1758.2" y="833.8" width="3.5" height="3.5" fill="#0465ff"/><rect x="1761.5" y="833.8" width="3.5" height="3.5" fill="#1519ff"/><rect x="1764.7" y="833.8" width="3.5" height="3.5" fill="#0465ff"/><rect x="1767.9" y="833.8" width="10.0" height="3.5" fill="#00f29d"/><rect x="1629.1" y="837.0" width="3.5" height="3.5" fill="#5000eb"/><rect x="1632.3" y="837.0" width="6.8" height="3.5" fill="#1519ff"/><rect x="1642.0" y="837.0" width="3.5" height="3.5" fill="#5000eb"/><rect x="1645.3" y="837.0" width="3.5" height="3.5" fill="#0465ff"/><rect x="1648.5" y="837.0" width="6.8" height="3.5" fill="#00c2ff"/><rect x="1654.9" y="837.0" width="3.5" height="3.5" fill="#0465ff"/><rect x="1658.2" y="837.0" width="3.5" height="3.5" fill="#5000eb"/><rect x="1661.4" y="837.0" width="6.8" height="3.5" fill="#1519ff"/><rect x="1667.9" y="837.0" width="6.8" height="3.5" fill="#5000eb"/><rect x="1677.5" y="837.0" width="6.8" height="3.5" fill="#5000eb"/><rect x="1703.4" y="837.0" width="3.5" height="3.5" fill="#1519ff"/><rect x="1706.6" y="837.0" width="3.5" height="3.5" fill="#0465ff"/><rect x="1709.8" y="837.0" width="6.8" height="3.5" fill="#00c2ff"/><rect x="1716.3" y="837.0" width="3.5" height="3.5" fill="#00f29d"/><rect x="1719.5" y="837.0" width="3.5" height="3.5" fill="#49ff28"/><rect x="1722.7" y="837.0" width="3.5" height="3.5" fill="#00c2ff"/><rect x="1725.9" y="837.0" width="3.5" height="3.5" fill="#1519ff"/><rect x="1729.2" y="837.0" width="3.5" height="3.5" fill="#5000eb"/><rect x="1732.4" y="837.0" width="3.5" height="3.5" fill="#1519ff"/><rect x="1735.6" y="837.0" width="3.5" height="3.5" fill="#0465ff"/><rect x="1738.9" y="837.0" width="3.5" height="3.5" fill="#00f29d"/><rect x="1742.1" y="837.0" width="3.5" height="3.5" fill="#ebe600"/><rect x="1745.3" y="837.0" width="3.5" height="3.5" fill="#ff7c00"/><rect x="1748.5" y="837.0" width="6.8" height="3.5" fill="#ebe600"/><rect x="1755.0" y="837.0" width="3.5" height="3.5" fill="#00f29d"/><rect x="1758.2" y="837.0" width="3.5" height="3.5" fill="#0465ff"/><rect x="1761.5" y="837.0" width="3.5" height="3.5" fill="#00c2ff"/><rect x="1764.7" y="837.0" width="3.5" height="3.5" fill="#00f29d"/><rect x="1767.9" y="837.0" width="3.5" height="3.5" fill="#49ff28"/><rect x="1771.1" y="837.0" width="3.5" height="3.5" fill="#00f29d"/><rect x="1774.4" y="837.0" width="3.5" height="3.5" fill="#49ff28"/><rect x="1629.1" y="840.3" width="3.5" height="3.5" fill="#1519ff"/><rect x="1632.3" y="840.3" width="3.5" height="3.5" fill="#0465ff"/><rect x="1635.6" y="840.3" width="3.5" height="3.5" fill="#1519ff"/><rect x="1648.5" y="840.3" width="10.0" height="3.5" fill="#0465ff"/><rect x="1658.2" y="840.3" width="3.5" height="3.5" fill="#1519ff"/><rect x="1661.4" y="840.3" width="3.5" height="3.5" fill="#5000eb"/><rect x="1664.6" y="840.3" width="3.5" height="3.5" fill="#1519ff"/><rect x="1674.3" y="840.3" width="3.5" height="3.5" fill="#5000eb"/><rect x="1677.5" y="840.3" width="3.5" height="3.5" fill="#1519ff"/><rect x="1680.8" y="840.3" width="3.5" height="3.5" fill="#5000eb"/><rect x="1703.4" y="840.3" width="3.5" height="3.5" fill="#5000eb"/><rect x="1706.6" y="840.3" width="3.5" height="3.5" fill="#1519ff"/><rect x="1709.8" y="840.3" width="6.8" height="3.5" fill="#0465ff"/><rect x="1716.3" y="840.3" width="3.5" height="3.5" fill="#00f29d"/><rect x="1719.5" y="840.3" width="3.5" height="3.5" fill="#ebe600"/><rect x="1722.7" y="840.3" width="3.5" height="3.5" fill="#00f29d"/><rect x="1725.9" y="840.3" width="3.5" height="3.5" fill="#1519ff"/><rect x="1729.2" y="840.3" width="6.8" height="3.5" fill="#5000eb"/><rect x="1738.9" y="840.3" width="3.5" height="3.5" fill="#00c2ff"/><rect x="1742.1" y="840.3" width="3.5" height="3.5" fill="#ebe600"/><rect x="1745.3" y="840.3" width="10.0" height="3.5" fill="#ff7c00"/><rect x="1755.0" y="840.3" width="3.5" height="3.5" fill="#49ff28"/><rect x="1758.2" y="840.3" width="3.5" height="3.5" fill="#00c2ff"/><rect x="1761.5" y="840.3" width="3.5" height="3.5" fill="#00f29d"/><rect x="1764.7" y="840.3" width="3.5" height="3.5" fill="#ebe600"/><rect x="1767.9" y="840.3" width="10.0" height="3.5" fill="#49ff28"/><rect x="1625.9" y="843.5" width="6.8" height="3.5" fill="#1519ff"/><rect x="1632.3" y="843.5" width="6.8" height="3.5" fill="#00c2ff"/><rect x="1648.5" y="843.5" width="3.5" height="3.5" fill="#5000eb"/><rect x="1674.3" y="843.5" width="16.4" height="3.5" fill="#5000eb"/><rect x="1703.4" y="843.5" width="3.5" height="3.5" fill="#5000eb"/><rect x="1706.6" y="843.5" width="3.5" height="3.5" fill="#0465ff"/><rect x="1709.8" y="843.5" width="3.5" height="3.5" fill="#5000eb"/><rect x="1713.0" y="843.5" width="3.5" height="3.5" fill="#1519ff"/><rect x="1716.3" y="843.5" width="3.5" height="3.5" fill="#00f29d"/><rect x="1719.5" y="843.5" width="3.5" height="3.5" fill="#ebe600"/><rect x="1722.7" y="843.5" width="3.5" height="3.5" fill="#00f29d"/><rect x="1725.9" y="843.5" width="3.5" height="3.5" fill="#0465ff"/><rect x="1729.2" y="843.5" width="3.5" height="3.5" fill="#5000eb"/><rect x="1732.4" y="843.5" width="3.5" height="3.5" fill="#1519ff"/><rect x="1735.6" y="843.5" width="3.5" height="3.5" fill="#5000eb"/><rect x="1738.9" y="843.5" width="3.5" height="3.5" fill="#0465ff"/><rect x="1742.1" y="843.5" width="3.5" height="3.5" fill="#00f29d"/><rect x="1745.3" y="843.5" width="3.5" height="3.5" fill="#49ff28"/><rect x="1748.5" y="843.5" width="6.8" height="3.5" fill="#ebe600"/><rect x="1755.0" y="843.5" width="6.8" height="3.5" fill="#49ff28"/><rect x="1761.5" y="843.5" width="6.8" height="3.5" fill="#ebe600"/><rect x="1767.9" y="843.5" width="6.8" height="3.5" fill="#00f29d"/><rect x="1774.4" y="843.5" width="3.5" height="3.5" fill="#0465ff"/><rect x="1625.9" y="846.7" width="6.8" height="3.5" fill="#00c2ff"/><rect x="1632.3" y="846.7" width="3.5" height="3.5" fill="#49ff28"/><rect x="1635.6" y="846.7" width="3.5" height="3.5" fill="#00c2ff"/><rect x="1638.8" y="846.7" width="3.5" height="3.5" fill="#5000eb"/><rect x="1677.5" y="846.7" width="3.5" height="3.5" fill="#5000eb"/><rect x="1684.0" y="846.7" width="3.5" height="3.5" fill="#5000eb"/><rect x="1687.2" y="846.7" width="3.5" height="3.5" fill="#0465ff"/><rect x="1703.4" y="846.7" width="6.8" height="3.5" fill="#1519ff"/><rect x="1709.8" y="846.7" width="3.5" height="3.5" fill="#5000eb"/><rect x="1713.0" y="846.7" width="3.5" height="3.5" fill="#1519ff"/><rect x="1716.3" y="846.7" width="3.5" height="3.5" fill="#00c2ff"/><rect x="1719.5" y="846.7" width="3.5" height="3.5" fill="#ff7c00"/><rect x="1722.7" y="846.7" width="3.5" height="3.5" fill="#49ff28"/><rect x="1725.9" y="846.7" width="3.5" height="3.5" fill="#00c2ff"/><rect x="1729.2" y="846.7" width="3.5" height="3.5" fill="#1519ff"/><rect x="1732.4" y="846.7" width="3.5" height="3.5" fill="#0465ff"/><rect x="1735.6" y="846.7" width="3.5" height="3.5" fill="#1519ff"/><rect x="1738.9" y="846.7" width="6.8" height="3.5" fill="#00c2ff"/><rect x="1745.3" y="846.7" width="3.5" height="3.5" fill="#00f29d"/><rect x="1748.5" y="846.7" width="6.8" height="3.5" fill="#ebe600"/><rect x="1755.0" y="846.7" width="3.5" height="3.5" fill="#ff7c00"/><rect x="1758.2" y="846.7" width="3.5" height="3.5" fill="#ebe600"/><rect x="1761.5" y="846.7" width="6.8" height="3.5" fill="#49ff28"/><rect x="1767.9" y="846.7" width="3.5" height="3.5" fill="#00c2ff"/><rect x="1771.1" y="846.7" width="3.5" height="3.5" fill="#0465ff"/><rect x="1774.4" y="846.7" width="3.5" height="3.5" fill="#5000eb"/><rect x="1622.7" y="849.9" width="3.5" height="3.5" fill="#00c2ff"/><rect x="1625.9" y="849.9" width="3.5" height="3.5" fill="#00f29d"/><rect x="1629.1" y="849.9" width="3.5" height="3.5" fill="#00c2ff"/><rect x="1632.3" y="849.9" width="3.5" height="3.5" fill="#00f29d"/><rect x="1635.6" y="849.9" width="3.5" height="3.5" fill="#00c2ff"/><rect x="1638.8" y="849.9" width="3.5" height="3.5" fill="#5000eb"/><rect x="1674.3" y="849.9" width="3.5" height="3.5" fill="#5000eb"/><rect x="1677.5" y="849.9" width="3.5" height="3.5" fill="#1519ff"/><rect x="1680.8" y="849.9" width="3.5" height="3.5" fill="#5000eb"/><rect x="1684.0" y="849.9" width="3.5" height="3.5" fill="#0465ff"/><rect x="1687.2" y="849.9" width="3.5" height="3.5" fill="#1519ff"/><rect x="1690.4" y="849.9" width="3.5" height="3.5" fill="#5000eb"/><rect x="1706.6" y="849.9" width="3.5" height="3.5" fill="#5000eb"/><rect x="1713.0" y="849.9" width="3.5" height="3.5" fill="#1519ff"/><rect x="1716.3" y="849.9" width="3.5" height="3.5" fill="#00c2ff"/><rect x="1719.5" y="849.9" width="3.5" height="3.5" fill="#ebe600"/><rect x="1722.7" y="849.9" width="3.5" height="3.5" fill="#49ff28"/><rect x="1725.9" y="849.9" width="3.5" height="3.5" fill="#00c2ff"/><rect x="1729.2" y="849.9" width="3.5" height="3.5" fill="#1519ff"/><rect x="1732.4" y="849.9" width="3.5" height="3.5" fill="#0465ff"/><rect x="1735.6" y="849.9" width="6.8" height="3.5" fill="#1519ff"/><rect x="1742.1" y="849.9" width="3.5" height="3.5" fill="#0465ff"/><rect x="1745.3" y="849.9" width="3.5" height="3.5" fill="#00c2ff"/><rect x="1748.5" y="849.9" width="3.5" height="3.5" fill="#00f29d"/><rect x="1751.8" y="849.9" width="19.7" height="3.5" fill="#49ff28"/><rect x="1771.1" y="849.9" width="3.5" height="3.5" fill="#0465ff"/><rect x="1774.4" y="849.9" width="3.5" height="3.5" fill="#1519ff"/><rect x="1622.7" y="853.2" width="3.5" height="3.5" fill="#00c2ff"/><rect x="1625.9" y="853.2" width="6.8" height="3.5" fill="#0465ff"/><rect x="1632.3" y="853.2" width="3.5" height="3.5" fill="#1519ff"/><rect x="1635.6" y="853.2" width="3.5" height="3.5" fill="#5000eb"/><rect x="1648.5" y="853.2" width="3.5" height="3.5" fill="#5000eb"/><rect x="1671.1" y="853.2" width="3.5" height="3.5" fill="#5000eb"/><rect x="1674.3" y="853.2" width="3.5" height="3.5" fill="#1519ff"/><rect x="1677.5" y="853.2" width="3.5" height="3.5" fill="#0465ff"/><rect x="1680.8" y="853.2" width="3.5" height="3.5" fill="#00c2ff"/><rect x="1684.0" y="853.2" width="3.5" height="3.5" fill="#0465ff"/><rect x="1687.2" y="853.2" width="3.5" height="3.5" fill="#1519ff"/><rect x="1690.4" y="853.2" width="3.5" height="3.5" fill="#5000eb"/><rect x="1709.8" y="853.2" width="3.5" height="3.5" fill="#5000eb"/><rect x="1713.0" y="853.2" width="3.5" height="3.5" fill="#0465ff"/><rect x="1716.3" y="853.2" width="3.5" height="3.5" fill="#00f29d"/><rect x="1719.5" y="853.2" width="3.5" height="3.5" fill="#49ff28"/><rect x="1722.7" y="853.2" width="3.5" height="3.5" fill="#00f29d"/><rect x="1725.9" y="853.2" width="3.5" height="3.5" fill="#00c2ff"/><rect x="1729.2" y="853.2" width="3.5" height="3.5" fill="#0465ff"/><rect x="1732.4" y="853.2" width="3.5" height="3.5" fill="#1519ff"/><rect x="1735.6" y="853.2" width="3.5" height="3.5" fill="#5000eb"/><rect x="1738.9" y="853.2" width="6.8" height="3.5" fill="#1519ff"/><rect x="1745.3" y="853.2" width="3.5" height="3.5" fill="#0465ff"/><rect x="1748.5" y="853.2" width="10.0" height="3.5" fill="#00f29d"/><rect x="1758.2" y="853.2" width="3.5" height="3.5" fill="#00c2ff"/><rect x="1761.5" y="853.2" width="3.5" height="3.5" fill="#00f29d"/><rect x="1764.7" y="853.2" width="3.5" height="3.5" fill="#ebe600"/><rect x="1767.9" y="853.2" width="3.5" height="3.5" fill="#49ff28"/><rect x="1771.1" y="853.2" width="3.5" height="3.5" fill="#00f29d"/><rect x="1622.7" y="856.4" width="6.8" height="3.5" fill="#1519ff"/><rect x="1629.1" y="856.4" width="3.5" height="3.5" fill="#0465ff"/><rect x="1632.3" y="856.4" width="6.8" height="3.5" fill="#5000eb"/><rect x="1645.3" y="856.4" width="3.5" height="3.5" fill="#1519ff"/><rect x="1648.5" y="856.4" width="3.5" height="3.5" fill="#0465ff"/><rect x="1651.7" y="856.4" width="3.5" height="3.5" fill="#1519ff"/><rect x="1654.9" y="856.4" width="3.5" height="3.5" fill="#5000eb"/><rect x="1661.4" y="856.4" width="3.5" height="3.5" fill="#5000eb"/><rect x="1664.6" y="856.4" width="3.5" height="3.5" fill="#00c2ff"/><rect x="1667.9" y="856.4" width="3.5" height="3.5" fill="#1519ff"/><rect x="1671.1" y="856.4" width="6.8" height="3.5" fill="#5000eb"/><rect x="1677.5" y="856.4" width="3.5" height="3.5" fill="#0465ff"/><rect x="1680.8" y="856.4" width="3.5" height="3.5" fill="#49ff28"/><rect x="1684.0" y="856.4" width="3.5" height="3.5" fill="#0465ff"/><rect x="1709.8" y="856.4" width="3.5" height="3.5" fill="#0465ff"/><rect x="1713.0" y="856.4" width="13.2" height="3.5" fill="#00f29d"/><rect x="1725.9" y="856.4" width="6.8" height="3.5" fill="#0465ff"/><rect x="1732.4" y="856.4" width="6.8" height="3.5" fill="#1519ff"/><rect x="1738.9" y="856.4" width="6.8" height="3.5" fill="#5000eb"/><rect x="1745.3" y="856.4" width="3.5" height="3.5" fill="#1519ff"/><rect x="1748.5" y="856.4" width="3.5" height="3.5" fill="#00c2ff"/><rect x="1751.8" y="856.4" width="3.5" height="3.5" fill="#00f29d"/><rect x="1755.0" y="856.4" width="6.8" height="3.5" fill="#0465ff"/><rect x="1761.5" y="856.4" width="3.5" height="3.5" fill="#00f29d"/><rect x="1764.7" y="856.4" width="3.5" height="3.5" fill="#49ff28"/><rect x="1767.9" y="856.4" width="3.5" height="3.5" fill="#ebe600"/><rect x="1622.7" y="859.6" width="3.5" height="3.5" fill="#5000eb"/><rect x="1625.9" y="859.6" width="6.8" height="3.5" fill="#1519ff"/><rect x="1632.3" y="859.6" width="6.8" height="3.5" fill="#0465ff"/><rect x="1638.8" y="859.6" width="3.5" height="3.5" fill="#1519ff"/><rect x="1642.0" y="859.6" width="3.5" height="3.5" fill="#5000eb"/><rect x="1645.3" y="859.6" width="10.0" height="3.5" fill="#1519ff"/><rect x="1654.9" y="859.6" width="3.5" height="3.5" fill="#5000eb"/><rect x="1661.4" y="859.6" width="3.5" height="3.5" fill="#0465ff"/><rect x="1664.6" y="859.6" width="3.5" height="3.5" fill="#00f29d"/><rect x="1667.9" y="859.6" width="3.5" height="3.5" fill="#0465ff"/><rect x="1671.1" y="859.6" width="3.5" height="3.5" fill="#5000eb"/><rect x="1677.5" y="859.6" width="3.5" height="3.5" fill="#1519ff"/><rect x="1680.8" y="859.6" width="3.5" height="3.5" fill="#00f29d"/><rect x="1684.0" y="859.6" width="3.5" height="3.5" fill="#0465ff"/><rect x="1709.8" y="859.6" width="3.5" height="3.5" fill="#0465ff"/><rect x="1713.0" y="859.6" width="3.5" height="3.5" fill="#ff7c00"/><rect x="1716.3" y="859.6" width="6.8" height="3.5" fill="#ff0000"/><rect x="1722.7" y="859.6" width="3.5" height="3.5" fill="#00f29d"/><rect x="1725.9" y="859.6" width="6.8" height="3.5" fill="#1519ff"/><rect x="1732.4" y="859.6" width="10.0" height="3.5" fill="#0465ff"/><rect x="1742.1" y="859.6" width="3.5" height="3.5" fill="#1519ff"/><rect x="1745.3" y="859.6" width="3.5" height="3.5" fill="#0465ff"/><rect x="1748.5" y="859.6" width="3.5" height="3.5" fill="#00f29d"/><rect x="1751.8" y="859.6" width="3.5" height="3.5" fill="#00c2ff"/><rect x="1755.0" y="859.6" width="3.5" height="3.5" fill="#00f29d"/><rect x="1758.2" y="859.6" width="10.0" height="3.5" fill="#00c2ff"/><rect x="1767.9" y="859.6" width="3.5" height="3.5" fill="#0465ff"/><rect x="1622.7" y="862.9" width="6.8" height="3.5" fill="#5000eb"/><rect x="1629.1" y="862.9" width="6.8" height="3.5" fill="#0465ff"/><rect x="1635.6" y="862.9" width="3.5" height="3.5" fill="#00c2ff"/><rect x="1638.8" y="862.9" width="3.5" height="3.5" fill="#0465ff"/><rect x="1642.0" y="862.9" width="3.5" height="3.5" fill="#1519ff"/><rect x="1645.3" y="862.9" width="3.5" height="3.5" fill="#5000eb"/><rect x="1648.5" y="862.9" width="3.5" height="3.5" fill="#1519ff"/><rect x="1651.7" y="862.9" width="3.5" height="3.5" fill="#5000eb"/><rect x="1661.4" y="862.9" width="3.5" height="3.5" fill="#1519ff"/><rect x="1664.6" y="862.9" width="3.5" height="3.5" fill="#49ff28"/><rect x="1667.9" y="862.9" width="3.5" height="3.5" fill="#00f29d"/><rect x="1671.1" y="862.9" width="6.8" height="3.5" fill="#5000eb"/><rect x="1677.5" y="862.9" width="3.5" height="3.5" fill="#0465ff"/><rect x="1680.8" y="862.9" width="3.5" height="3.5" fill="#00f29d"/><rect x="1684.0" y="862.9" width="3.5" height="3.5" fill="#0465ff"/><rect x="1703.4" y="862.9" width="3.5" height="3.5" fill="#5000eb"/><rect x="1706.6" y="862.9" width="3.5" height="3.5" fill="#1519ff"/><rect x="1709.8" y="862.9" width="3.5" height="3.5" fill="#0465ff"/><rect x="1713.0" y="862.9" width="10.0" height="3.5" fill="#ff0000"/><rect x="1722.7" y="862.9" width="3.5" height="3.5" fill="#49ff28"/><rect x="1725.9" y="862.9" width="3.5" height="3.5" fill="#1519ff"/><rect x="1729.2" y="862.9" width="3.5" height="3.5" fill="#0465ff"/><rect x="1732.4" y="862.9" width="3.5" height="3.5" fill="#00f29d"/><rect x="1735.6" y="862.9" width="10.0" height="3.5" fill="#49ff28"/><rect x="1745.3" y="862.9" width="3.5" height="3.5" fill="#ff7c00"/><rect x="1748.5" y="862.9" width="3.5" height="3.5" fill="#ff0000"/><rect x="1751.8" y="862.9" width="10.0" height="3.5" fill="#ebe600"/><rect x="1761.5" y="862.9" width="3.5" height="3.5" fill="#00c2ff"/><rect x="1764.7" y="862.9" width="3.5" height="3.5" fill="#1519ff"/><rect x="1622.7" y="866.1" width="3.5" height="3.5" fill="#1519ff"/><rect x="1625.9" y="866.1" width="3.5" height="3.5" fill="#0465ff"/><rect x="1629.1" y="866.1" width="3.5" height="3.5" fill="#1519ff"/><rect x="1632.3" y="866.1" width="3.5" height="3.5" fill="#0465ff"/><rect x="1635.6" y="866.1" width="3.5" height="3.5" fill="#00c2ff"/><rect x="1638.8" y="866.1" width="3.5" height="3.5" fill="#0465ff"/><rect x="1642.0" y="866.1" width="3.5" height="3.5" fill="#00c2ff"/><rect x="1645.3" y="866.1" width="3.5" height="3.5" fill="#0465ff"/><rect x="1648.5" y="866.1" width="10.0" height="3.5" fill="#1519ff"/><rect x="1658.2" y="866.1" width="3.5" height="3.5" fill="#0465ff"/><rect x="1661.4" y="866.1" width="3.5" height="3.5" fill="#00c2ff"/><rect x="1664.6" y="866.1" width="3.5" height="3.5" fill="#49ff28"/><rect x="1667.9" y="866.1" width="3.5" height="3.5" fill="#00f29d"/><rect x="1671.1" y="866.1" width="3.5" height="3.5" fill="#1519ff"/><rect x="1674.3" y="866.1" width="3.5" height="3.5" fill="#5000eb"/><rect x="1677.5" y="866.1" width="3.5" height="3.5" fill="#00c2ff"/><rect x="1680.8" y="866.1" width="3.5" height="3.5" fill="#49ff28"/><rect x="1684.0" y="866.1" width="3.5" height="3.5" fill="#00c2ff"/><rect x="1687.2" y="866.1" width="10.0" height="3.5" fill="#5000eb"/><rect x="1703.4" y="866.1" width="10.0" height="3.5" fill="#1519ff"/><rect x="1713.0" y="866.1" width="3.5" height="3.5" fill="#ebe600"/><rect x="1716.3" y="866.1" width="6.8" height="3.5" fill="#ff0000"/><rect x="1722.7" y="866.1" width="3.5" height="3.5" fill="#ff7c00"/><rect x="1725.9" y="866.1" width="6.8" height="3.5" fill="#00c2ff"/><rect x="1732.4" y="866.1" width="3.5" height="3.5" fill="#00f29d"/><rect x="1735.6" y="866.1" width="6.8" height="3.5" fill="#ebe600"/><rect x="1742.1" y="866.1" width="3.5" height="3.5" fill="#ff7c00"/><rect x="1745.3" y="866.1" width="10.0" height="3.5" fill="#ff0000"/><rect x="1755.0" y="866.1" width="3.5" height="3.5" fill="#ff7c00"/><rect x="1758.2" y="866.1" width="3.5" height="3.5" fill="#00f29d"/><rect x="1761.5" y="866.1" width="3.5" height="3.5" fill="#1519ff"/><rect x="1622.7" y="869.3" width="3.5" height="3.5" fill="#0465ff"/><rect x="1625.9" y="869.3" width="3.5" height="3.5" fill="#00f29d"/><rect x="1629.1" y="869.3" width="3.5" height="3.5" fill="#1519ff"/><rect x="1632.3" y="869.3" width="6.8" height="3.5" fill="#5000eb"/><rect x="1638.8" y="869.3" width="3.5" height="3.5" fill="#00c2ff"/><rect x="1642.0" y="869.3" width="3.5" height="3.5" fill="#49ff28"/><rect x="1645.3" y="869.3" width="3.5" height="3.5" fill="#00f29d"/><rect x="1648.5" y="869.3" width="6.8" height="3.5" fill="#0465ff"/><rect x="1654.9" y="869.3" width="3.5" height="3.5" fill="#00c2ff"/><rect x="1658.2" y="869.3" width="3.5" height="3.5" fill="#49ff28"/><rect x="1661.4" y="869.3" width="3.5" height="3.5" fill="#ebe600"/><rect x="1664.6" y="869.3" width="3.5" height="3.5" fill="#ff7c00"/><rect x="1667.9" y="869.3" width="3.5" height="3.5" fill="#49ff28"/><rect x="1671.1" y="869.3" width="6.8" height="3.5" fill="#00c2ff"/><rect x="1677.5" y="869.3" width="3.5" height="3.5" fill="#00f29d"/><rect x="1680.8" y="869.3" width="3.5" height="3.5" fill="#ebe600"/><rect x="1684.0" y="869.3" width="3.5" height="3.5" fill="#49ff28"/><rect x="1687.2" y="869.3" width="6.8" height="3.5" fill="#00c2ff"/><rect x="1693.7" y="869.3" width="3.5" height="3.5" fill="#0465ff"/><rect x="1696.9" y="869.3" width="3.5" height="3.5" fill="#1519ff"/><rect x="1706.6" y="869.3" width="3.5" height="3.5" fill="#1519ff"/><rect x="1709.8" y="869.3" width="3.5" height="3.5" fill="#0465ff"/><rect x="1713.0" y="869.3" width="3.5" height="3.5" fill="#00f29d"/><rect x="1716.3" y="869.3" width="10.0" height="3.5" fill="#ff0000"/><rect x="1725.9" y="869.3" width="6.8" height="3.5" fill="#49ff28"/><rect x="1732.4" y="869.3" width="13.2" height="3.5" fill="#00f29d"/><rect x="1745.3" y="869.3" width="3.5" height="3.5" fill="#ff7c00"/><rect x="1748.5" y="869.3" width="6.8" height="3.5" fill="#ff0000"/><rect x="1755.0" y="869.3" width="3.5" height="3.5" fill="#49ff28"/><rect x="1758.2" y="869.3" width="3.5" height="3.5" fill="#1519ff"/><rect x="1622.7" y="872.5" width="6.8" height="3.5" fill="#00f29d"/><rect x="1629.1" y="872.5" width="3.5" height="3.5" fill="#00c2ff"/><rect x="1632.3" y="872.5" width="6.8" height="3.5" fill="#5000eb"/><rect x="1638.8" y="872.5" width="3.5" height="3.5" fill="#00c2ff"/><rect x="1642.0" y="872.5" width="3.5" height="3.5" fill="#49ff28"/><rect x="1645.3" y="872.5" width="3.5" height="3.5" fill="#00f29d"/><rect x="1648.5" y="872.5" width="6.8" height="3.5" fill="#00c2ff"/><rect x="1654.9" y="872.5" width="3.5" height="3.5" fill="#00f29d"/><rect x="1658.2" y="872.5" width="3.5" height="3.5" fill="#49ff28"/><rect x="1661.4" y="872.5" width="6.8" height="3.5" fill="#ebe600"/><rect x="1667.9" y="872.5" width="3.5" height="3.5" fill="#49ff28"/><rect x="1671.1" y="872.5" width="3.5" height="3.5" fill="#00c2ff"/><rect x="1674.3" y="872.5" width="3.5" height="3.5" fill="#0465ff"/><rect x="1677.5" y="872.5" width="3.5" height="3.5" fill="#00f29d"/><rect x="1680.8" y="872.5" width="3.5" height="3.5" fill="#49ff28"/><rect x="1684.0" y="872.5" width="13.2" height="3.5" fill="#00f29d"/><rect x="1696.9" y="872.5" width="3.5" height="3.5" fill="#0465ff"/><rect x="1700.1" y="872.5" width="3.5" height="3.5" fill="#5000eb"/><rect x="1709.8" y="872.5" width="3.5" height="3.5" fill="#1519ff"/><rect x="1713.0" y="872.5" width="6.8" height="3.5" fill="#00c2ff"/><rect x="1719.5" y="872.5" width="3.5" height="3.5" fill="#00f29d"/><rect x="1722.7" y="872.5" width="3.5" height="3.5" fill="#ebe600"/><rect x="1725.9" y="872.5" width="3.5" height="3.5" fill="#49ff28"/><rect x="1729.2" y="872.5" width="3.5" height="3.5" fill="#ebe600"/><rect x="1732.4" y="872.5" width="3.5" height="3.5" fill="#00f29d"/><rect x="1735.6" y="872.5" width="3.5" height="3.5" fill="#49ff28"/><rect x="1738.9" y="872.5" width="3.5" height="3.5" fill="#00f29d"/><rect x="1742.1" y="872.5" width="3.5" height="3.5" fill="#0465ff"/><rect x="1745.3" y="872.5" width="6.8" height="3.5" fill="#00c2ff"/><rect x="1751.8" y="872.5" width="3.5" height="3.5" fill="#00f29d"/><rect x="1755.0" y="872.5" width="3.5" height="3.5" fill="#0465ff"/><rect x="1622.7" y="875.8" width="6.8" height="3.5" fill="#00c2ff"/><rect x="1629.1" y="875.8" width="3.5" height="3.5" fill="#0465ff"/><rect x="1632.3" y="875.8" width="16.4" height="3.5" fill="#1519ff"/><rect x="1648.5" y="875.8" width="3.5" height="3.5" fill="#5000eb"/><rect x="1651.7" y="875.8" width="6.8" height="3.5" fill="#0465ff"/><rect x="1658.2" y="875.8" width="3.5" height="3.5" fill="#00c2ff"/><rect x="1661.4" y="875.8" width="3.5" height="3.5" fill="#00f29d"/><rect x="1664.6" y="875.8" width="3.5" height="3.5" fill="#49ff28"/><rect x="1667.9" y="875.8" width="3.5" height="3.5" fill="#00f29d"/><rect x="1671.1" y="875.8" width="3.5" height="3.5" fill="#00c2ff"/><rect x="1674.3" y="875.8" width="3.5" height="3.5" fill="#1519ff"/><rect x="1677.5" y="875.8" width="6.8" height="3.5" fill="#0465ff"/><rect x="1684.0" y="875.8" width="3.5" height="3.5" fill="#00c2ff"/><rect x="1687.2" y="875.8" width="3.5" height="3.5" fill="#00f29d"/><rect x="1690.4" y="875.8" width="3.5" height="3.5" fill="#00c2ff"/><rect x="1693.7" y="875.8" width="3.5" height="3.5" fill="#00f29d"/><rect x="1696.9" y="875.8" width="3.5" height="3.5" fill="#49ff28"/><rect x="1700.1" y="875.8" width="3.5" height="3.5" fill="#0465ff"/><rect x="1703.4" y="875.8" width="3.5" height="3.5" fill="#1519ff"/><rect x="1706.6" y="875.8" width="3.5" height="3.5" fill="#5000eb"/><rect x="1713.0" y="875.8" width="3.5" height="3.5" fill="#5000eb"/><rect x="1719.5" y="875.8" width="3.5" height="3.5" fill="#5000eb"/><rect x="1722.7" y="875.8" width="3.5" height="3.5" fill="#00c2ff"/><rect x="1725.9" y="875.8" width="3.5" height="3.5" fill="#00f29d"/><rect x="1729.2" y="875.8" width="6.8" height="3.5" fill="#49ff28"/><rect x="1735.6" y="875.8" width="3.5" height="3.5" fill="#ff0000"/><rect x="1738.9" y="875.8" width="3.5" height="3.5" fill="#ff7c00"/><rect x="1742.1" y="875.8" width="3.5" height="3.5" fill="#00c2ff"/><rect x="1745.3" y="875.8" width="3.5" height="3.5" fill="#0465ff"/><rect x="1748.5" y="875.8" width="3.5" height="3.5" fill="#00c2ff"/><rect x="1751.8" y="875.8" width="3.5" height="3.5" fill="#0465ff"/><rect x="1622.7" y="879.0" width="3.5" height="3.5" fill="#00c2ff"/><rect x="1625.9" y="879.0" width="3.5" height="3.5" fill="#00f29d"/><rect x="1629.1" y="879.0" width="3.5" height="3.5" fill="#0465ff"/><rect x="1632.3" y="879.0" width="3.5" height="3.5" fill="#00c2ff"/><rect x="1635.6" y="879.0" width="3.5" height="3.5" fill="#1519ff"/><rect x="1648.5" y="879.0" width="3.5" height="3.5" fill="#5000eb"/><rect x="1651.7" y="879.0" width="10.0" height="3.5" fill="#0465ff"/><rect x="1661.4" y="879.0" width="3.5" height="3.5" fill="#00f29d"/><rect x="1664.6" y="879.0" width="3.5" height="3.5" fill="#ebe600"/><rect x="1667.9" y="879.0" width="3.5" height="3.5" fill="#49ff28"/><rect x="1671.1" y="879.0" width="3.5" height="3.5" fill="#0465ff"/><rect x="1674.3" y="879.0" width="6.8" height="3.5" fill="#5000eb"/><rect x="1684.0" y="879.0" width="3.5" height="3.5" fill="#5000eb"/><rect x="1687.2" y="879.0" width="3.5" height="3.5" fill="#0465ff"/><rect x="1690.4" y="879.0" width="6.8" height="3.5" fill="#49ff28"/><rect x="1696.9" y="879.0" width="3.5" height="3.5" fill="#ebe600"/><rect x="1700.1" y="879.0" width="3.5" height="3.5" fill="#49ff28"/><rect x="1703.4" y="879.0" width="3.5" height="3.5" fill="#0465ff"/><rect x="1706.6" y="879.0" width="3.5" height="3.5" fill="#5000eb"/><rect x="1725.9" y="879.0" width="6.8" height="3.5" fill="#1519ff"/><rect x="1732.4" y="879.0" width="3.5" height="3.5" fill="#00c2ff"/><rect x="1735.6" y="879.0" width="6.8" height="3.5" fill="#ff0000"/><rect x="1742.1" y="879.0" width="3.5" height="3.5" fill="#00f29d"/><rect x="1745.3" y="879.0" width="6.8" height="3.5" fill="#0465ff"/><rect x="1622.7" y="882.2" width="3.5" height="3.5" fill="#00c2ff"/><rect x="1625.9" y="882.2" width="10.0" height="3.5" fill="#0465ff"/><rect x="1635.6" y="882.2" width="6.8" height="3.5" fill="#1519ff"/><rect x="1642.0" y="882.2" width="3.5" height="3.5" fill="#5000eb"/><rect x="1651.7" y="882.2" width="6.8" height="3.5" fill="#5000eb"/><rect x="1658.2" y="882.2" width="3.5" height="3.5" fill="#1519ff"/><rect x="1661.4" y="882.2" width="3.5" height="3.5" fill="#00c2ff"/><rect x="1664.6" y="882.2" width="3.5" height="3.5" fill="#49ff28"/><rect x="1667.9" y="882.2" width="3.5" height="3.5" fill="#00f29d"/><rect x="1671.1" y="882.2" width="3.5" height="3.5" fill="#1519ff"/><rect x="1674.3" y="882.2" width="6.8" height="3.5" fill="#5000eb"/><rect x="1680.8" y="882.2" width="3.5" height="3.5" fill="#1519ff"/><rect x="1684.0" y="882.2" width="3.5" height="3.5" fill="#00c2ff"/><rect x="1687.2" y="882.2" width="3.5" height="3.5" fill="#00f29d"/><rect x="1690.4" y="882.2" width="3.5" height="3.5" fill="#ff7c00"/><rect x="1693.7" y="882.2" width="6.8" height="3.5" fill="#ff0000"/><rect x="1700.1" y="882.2" width="3.5" height="3.5" fill="#ebe600"/><rect x="1703.4" y="882.2" width="3.5" height="3.5" fill="#00c2ff"/><rect x="1706.6" y="882.2" width="3.5" height="3.5" fill="#5000eb"/><rect x="1732.4" y="882.2" width="3.5" height="3.5" fill="#1519ff"/><rect x="1735.6" y="882.2" width="3.5" height="3.5" fill="#ebe600"/><rect x="1738.9" y="882.2" width="3.5" height="3.5" fill="#ff7c00"/><rect x="1742.1" y="882.2" width="3.5" height="3.5" fill="#ebe600"/><rect x="1745.3" y="882.2" width="3.5" height="3.5" fill="#00c2ff"/><rect x="1622.7" y="885.4" width="3.5" height="3.5" fill="#00f29d"/><rect x="1625.9" y="885.4" width="3.5" height="3.5" fill="#0465ff"/><rect x="1629.1" y="885.4" width="19.7" height="3.5" fill="#1519ff"/><rect x="1651.7" y="885.4" width="6.8" height="3.5" fill="#5000eb"/><rect x="1661.4" y="885.4" width="3.5" height="3.5" fill="#00c2ff"/><rect x="1664.6" y="885.4" width="3.5" height="3.5" fill="#00f29d"/><rect x="1667.9" y="885.4" width="3.5" height="3.5" fill="#00c2ff"/><rect x="1671.1" y="885.4" width="3.5" height="3.5" fill="#1519ff"/><rect x="1674.3" y="885.4" width="3.5" height="3.5" fill="#5000eb"/><rect x="1677.5" y="885.4" width="3.5" height="3.5" fill="#1519ff"/><rect x="1680.8" y="885.4" width="3.5" height="3.5" fill="#0465ff"/><rect x="1684.0" y="885.4" width="3.5" height="3.5" fill="#00f29d"/><rect x="1687.2" y="885.4" width="3.5" height="3.5" fill="#ff7c00"/><rect x="1690.4" y="885.4" width="13.2" height="3.5" fill="#ff0000"/><rect x="1703.4" y="885.4" width="3.5" height="3.5" fill="#00c2ff"/><rect x="1706.6" y="885.4" width="3.5" height="3.5" fill="#1519ff"/><rect x="1709.8" y="885.4" width="3.5" height="3.5" fill="#5000eb"/><rect x="1622.7" y="888.7" width="3.5" height="3.5" fill="#ff0000"/><rect x="1625.9" y="888.7" width="3.5" height="3.5" fill="#49ff28"/><rect x="1629.1" y="888.7" width="6.8" height="3.5" fill="#0465ff"/><rect x="1635.6" y="888.7" width="3.5" height="3.5" fill="#00c2ff"/><rect x="1638.8" y="888.7" width="6.8" height="3.5" fill="#00f29d"/><rect x="1645.3" y="888.7" width="3.5" height="3.5" fill="#0465ff"/><rect x="1648.5" y="888.7" width="6.8" height="3.5" fill="#5000eb"/><rect x="1654.9" y="888.7" width="6.8" height="3.5" fill="#1519ff"/><rect x="1661.4" y="888.7" width="3.5" height="3.5" fill="#0465ff"/><rect x="1664.6" y="888.7" width="6.8" height="3.5" fill="#00c2ff"/><rect x="1671.1" y="888.7" width="3.5" height="3.5" fill="#1519ff"/><rect x="1674.3" y="888.7" width="3.5" height="3.5" fill="#5000eb"/><rect x="1677.5" y="888.7" width="3.5" height="3.5" fill="#0465ff"/><rect x="1680.8" y="888.7" width="3.5" height="3.5" fill="#00f29d"/><rect x="1684.0" y="888.7" width="3.5" height="3.5" fill="#49ff28"/><rect x="1687.2" y="888.7" width="3.5" height="3.5" fill="#ff7c00"/><rect x="1690.4" y="888.7" width="13.2" height="3.5" fill="#ff0000"/><rect x="1703.4" y="888.7" width="3.5" height="3.5" fill="#ff7c00"/><rect x="1706.6" y="888.7" width="3.5" height="3.5" fill="#00c2ff"/><rect x="1709.8" y="888.7" width="3.5" height="3.5" fill="#0465ff"/><rect x="1713.0" y="888.7" width="3.5" height="3.5" fill="#5000eb"/><rect x="1622.7" y="891.9" width="3.5" height="3.5" fill="#ebe600"/><rect x="1625.9" y="891.9" width="3.5" height="3.5" fill="#00c2ff"/><rect x="1629.1" y="891.9" width="3.5" height="3.5" fill="#1519ff"/><rect x="1632.3" y="891.9" width="3.5" height="3.5" fill="#00c2ff"/><rect x="1635.6" y="891.9" width="6.8" height="3.5" fill="#49ff28"/><rect x="1642.0" y="891.9" width="3.5" height="3.5" fill="#ff7c00"/><rect x="1645.3" y="891.9" width="3.5" height="3.5" fill="#49ff28"/><rect x="1648.5" y="891.9" width="3.5" height="3.5" fill="#00c2ff"/><rect x="1651.7" y="891.9" width="3.5" height="3.5" fill="#0465ff"/><rect x="1654.9" y="891.9" width="6.8" height="3.5" fill="#00c2ff"/><rect x="1661.4" y="891.9" width="3.5" height="3.5" fill="#0465ff"/><rect x="1664.6" y="891.9" width="10.0" height="3.5" fill="#1519ff"/><rect x="1674.3" y="891.9" width="10.0" height="3.5" fill="#0465ff"/><rect x="1684.0" y="891.9" width="3.5" height="3.5" fill="#00f29d"/><rect x="1687.2" y="891.9" width="3.5" height="3.5" fill="#ebe600"/><rect x="1690.4" y="891.9" width="16.4" height="3.5" fill="#ff0000"/><rect x="1706.6" y="891.9" width="3.5" height="3.5" fill="#ff7c00"/><rect x="1709.8" y="891.9" width="3.5" height="3.5" fill="#00c2ff"/><rect x="1713.0" y="891.9" width="3.5" height="3.5" fill="#0465ff"/><rect x="1716.3" y="891.9" width="3.5" height="3.5" fill="#5000eb"/><rect x="1625.9" y="895.1" width="3.5" height="3.5" fill="#1519ff"/><rect x="1629.1" y="895.1" width="3.5" height="3.5" fill="#0465ff"/><rect x="1632.3" y="895.1" width="3.5" height="3.5" fill="#49ff28"/><rect x="1635.6" y="895.1" width="3.5" height="3.5" fill="#ebe600"/><rect x="1638.8" y="895.1" width="3.5" height="3.5" fill="#ff7c00"/><rect x="1642.0" y="895.1" width="6.8" height="3.5" fill="#ebe600"/><rect x="1648.5" y="895.1" width="6.8" height="3.5" fill="#00f29d"/><rect x="1654.9" y="895.1" width="3.5" height="3.5" fill="#49ff28"/><rect x="1658.2" y="895.1" width="3.5" height="3.5" fill="#00f29d"/><rect x="1661.4" y="895.1" width="3.5" height="3.5" fill="#0465ff"/><rect x="1664.6" y="895.1" width="6.8" height="3.5" fill="#5000eb"/><rect x="1671.1" y="895.1" width="3.5" height="3.5" fill="#0465ff"/><rect x="1674.3" y="895.1" width="3.5" height="3.5" fill="#00c2ff"/><rect x="1677.5" y="895.1" width="6.8" height="3.5" fill="#1519ff"/><rect x="1684.0" y="895.1" width="3.5" height="3.5" fill="#00c2ff"/><rect x="1687.2" y="895.1" width="3.5" height="3.5" fill="#ff7c00"/><rect x="1690.4" y="895.1" width="19.7" height="3.5" fill="#ff0000"/><rect x="1709.8" y="895.1" width="3.5" height="3.5" fill="#ebe600"/><rect x="1713.0" y="895.1" width="3.5" height="3.5" fill="#00c2ff"/><rect x="1716.3" y="895.1" width="3.5" height="3.5" fill="#0465ff"/><rect x="1719.5" y="895.1" width="10.0" height="3.5" fill="#5000eb"/><rect x="1629.1" y="898.4" width="3.5" height="3.5" fill="#00f29d"/><rect x="1632.3" y="898.4" width="3.5" height="3.5" fill="#49ff28"/><rect x="1635.6" y="898.4" width="6.8" height="3.5" fill="#ebe600"/><rect x="1642.0" y="898.4" width="6.8" height="3.5" fill="#00f29d"/><rect x="1648.5" y="898.4" width="10.0" height="3.5" fill="#49ff28"/><rect x="1658.2" y="898.4" width="3.5" height="3.5" fill="#00f29d"/><rect x="1661.4" y="898.4" width="3.5" height="3.5" fill="#0465ff"/><rect x="1667.9" y="898.4" width="6.8" height="3.5" fill="#1519ff"/><rect x="1674.3" y="898.4" width="3.5" height="3.5" fill="#0465ff"/><rect x="1677.5" y="898.4" width="3.5" height="3.5" fill="#1519ff"/><rect x="1680.8" y="898.4" width="3.5" height="3.5" fill="#5000eb"/><rect x="1684.0" y="898.4" width="3.5" height="3.5" fill="#00c2ff"/><rect x="1687.2" y="898.4" width="3.5" height="3.5" fill="#ff7c00"/><rect x="1690.4" y="898.4" width="19.7" height="3.5" fill="#ff0000"/><rect x="1709.8" y="898.4" width="3.5" height="3.5" fill="#49ff28"/><rect x="1713.0" y="898.4" width="3.5" height="3.5" fill="#00f29d"/><rect x="1716.3" y="898.4" width="3.5" height="3.5" fill="#0465ff"/><rect x="1719.5" y="898.4" width="6.8" height="3.5" fill="#1519ff"/><rect x="1725.9" y="898.4" width="3.5" height="3.5" fill="#00c2ff"/><rect x="1729.2" y="898.4" width="6.8" height="3.5" fill="#0465ff"/><rect x="1629.1" y="901.6" width="6.8" height="3.5" fill="#ebe600"/><rect x="1635.6" y="901.6" width="6.8" height="3.5" fill="#ff7c00"/><rect x="1642.0" y="901.6" width="3.5" height="3.5" fill="#00c2ff"/><rect x="1645.3" y="901.6" width="3.5" height="3.5" fill="#49ff28"/><rect x="1648.5" y="901.6" width="3.5" height="3.5" fill="#ebe600"/><rect x="1651.7" y="901.6" width="6.8" height="3.5" fill="#49ff28"/><rect x="1658.2" y="901.6" width="3.5" height="3.5" fill="#00c2ff"/><rect x="1661.4" y="901.6" width="3.5" height="3.5" fill="#0465ff"/><rect x="1664.6" y="901.6" width="6.8" height="3.5" fill="#5000eb"/><rect x="1671.1" y="901.6" width="3.5" height="3.5" fill="#0465ff"/><rect x="1674.3" y="901.6" width="3.5" height="3.5" fill="#1519ff"/><rect x="1677.5" y="901.6" width="3.5" height="3.5" fill="#5000eb"/><rect x="1684.0" y="901.6" width="3.5" height="3.5" fill="#00c2ff"/><rect x="1687.2" y="901.6" width="19.7" height="3.5" fill="#ff0000"/><rect x="1706.6" y="901.6" width="3.5" height="3.5" fill="#ff7c00"/><rect x="1709.8" y="901.6" width="3.5" height="3.5" fill="#ebe600"/><rect x="1713.0" y="901.6" width="3.5" height="3.5" fill="#00f29d"/><rect x="1716.3" y="901.6" width="3.5" height="3.5" fill="#0465ff"/><rect x="1719.5" y="901.6" width="3.5" height="3.5" fill="#5000eb"/><rect x="1722.7" y="901.6" width="3.5" height="3.5" fill="#0465ff"/><rect x="1725.9" y="901.6" width="3.5" height="3.5" fill="#49ff28"/><rect x="1729.2" y="901.6" width="6.8" height="3.5" fill="#00f29d"/><rect x="1632.3" y="904.8" width="3.5" height="3.5" fill="#ebe600"/><rect x="1635.6" y="904.8" width="3.5" height="3.5" fill="#ff0000"/><rect x="1638.8" y="904.8" width="3.5" height="3.5" fill="#ff7c00"/><rect x="1642.0" y="904.8" width="10.0" height="3.5" fill="#00f29d"/><rect x="1651.7" y="904.8" width="3.5" height="3.5" fill="#ebe600"/><rect x="1654.9" y="904.8" width="6.8" height="3.5" fill="#49ff28"/><rect x="1661.4" y="904.8" width="3.5" height="3.5" fill="#00c2ff"/><rect x="1664.6" y="904.8" width="3.5" height="3.5" fill="#0465ff"/><rect x="1667.9" y="904.8" width="13.2" height="3.5" fill="#1519ff"/><rect x="1680.8" y="904.8" width="3.5" height="3.5" fill="#5000eb"/><rect x="1684.0" y="904.8" width="3.5" height="3.5" fill="#00c2ff"/><rect x="1687.2" y="904.8" width="3.5" height="3.5" fill="#ff7c00"/><rect x="1690.4" y="904.8" width="16.4" height="3.5" fill="#ff0000"/><rect x="1706.6" y="904.8" width="6.8" height="3.5" fill="#ff7c00"/><rect x="1713.0" y="904.8" width="3.5" height="3.5" fill="#ebe600"/><rect x="1716.3" y="904.8" width="3.5" height="3.5" fill="#00c2ff"/><rect x="1719.5" y="904.8" width="3.5" height="3.5" fill="#1519ff"/><rect x="1722.7" y="904.8" width="3.5" height="3.5" fill="#00f29d"/><rect x="1725.9" y="904.8" width="3.5" height="3.5" fill="#ebe600"/><rect x="1729.2" y="904.8" width="3.5" height="3.5" fill="#00f29d"/><rect x="1732.4" y="904.8" width="3.5" height="3.5" fill="#00c2ff"/><rect x="1635.6" y="908.0" width="3.5" height="3.5" fill="#ebe600"/><rect x="1638.8" y="908.0" width="3.5" height="3.5" fill="#49ff28"/><rect x="1642.0" y="908.0" width="13.2" height="3.5" fill="#00c2ff"/><rect x="1654.9" y="908.0" width="3.5" height="3.5" fill="#00f29d"/><rect x="1658.2" y="908.0" width="10.0" height="3.5" fill="#49ff28"/><rect x="1667.9" y="908.0" width="3.5" height="3.5" fill="#00f29d"/><rect x="1671.1" y="908.0" width="3.5" height="3.5" fill="#0465ff"/><rect x="1674.3" y="908.0" width="10.0" height="3.5" fill="#1519ff"/><rect x="1684.0" y="908.0" width="3.5" height="3.5" fill="#0465ff"/><rect x="1687.2" y="908.0" width="3.5" height="3.5" fill="#49ff28"/><rect x="1690.4" y="908.0" width="3.5" height="3.5" fill="#ebe600"/><rect x="1693.7" y="908.0" width="6.8" height="3.5" fill="#ff7c00"/><rect x="1700.1" y="908.0" width="10.0" height="3.5" fill="#ff0000"/><rect x="1709.8" y="908.0" width="3.5" height="3.5" fill="#ff7c00"/><rect x="1713.0" y="908.0" width="3.5" height="3.5" fill="#ebe600"/><rect x="1716.3" y="908.0" width="3.5" height="3.5" fill="#00f29d"/><rect x="1719.5" y="908.0" width="3.5" height="3.5" fill="#0465ff"/><rect x="1722.7" y="908.0" width="3.5" height="3.5" fill="#00c2ff"/><rect x="1725.9" y="908.0" width="6.8" height="3.5" fill="#49ff28"/><rect x="1732.4" y="908.0" width="3.5" height="3.5" fill="#00c2ff"/><rect x="1642.0" y="911.3" width="6.8" height="3.5" fill="#00c2ff"/><rect x="1648.5" y="911.3" width="3.5" height="3.5" fill="#0465ff"/><rect x="1651.7" y="911.3" width="3.5" height="3.5" fill="#00c2ff"/><rect x="1654.9" y="911.3" width="3.5" height="3.5" fill="#49ff28"/><rect x="1658.2" y="911.3" width="10.0" height="3.5" fill="#ebe600"/><rect x="1667.9" y="911.3" width="3.5" height="3.5" fill="#00c2ff"/><rect x="1671.1" y="911.3" width="3.5" height="3.5" fill="#1519ff"/><rect x="1674.3" y="911.3" width="3.5" height="3.5" fill="#5000eb"/><rect x="1677.5" y="911.3" width="3.5" height="3.5" fill="#1519ff"/><rect x="1680.8" y="911.3" width="6.8" height="3.5" fill="#00c2ff"/><rect x="1687.2" y="911.3" width="10.0" height="3.5" fill="#00f29d"/><rect x="1696.9" y="911.3" width="6.8" height="3.5" fill="#49ff28"/><rect x="1703.4" y="911.3" width="3.5" height="3.5" fill="#ebe600"/><rect x="1706.6" y="911.3" width="3.5" height="3.5" fill="#49ff28"/><rect x="1709.8" y="911.3" width="6.8" height="3.5" fill="#ebe600"/><rect x="1716.3" y="911.3" width="3.5" height="3.5" fill="#00f29d"/><rect x="1719.5" y="911.3" width="3.5" height="3.5" fill="#00c2ff"/><rect x="1722.7" y="911.3" width="3.5" height="3.5" fill="#00f29d"/><rect x="1725.9" y="911.3" width="3.5" height="3.5" fill="#49ff28"/><rect x="1729.2" y="911.3" width="3.5" height="3.5" fill="#00f29d"/><rect x="1684.0" y="914.5" width="6.8" height="3.5" fill="#49ff28"/><rect x="1690.4" y="914.5" width="3.5" height="3.5" fill="#00f29d"/><rect x="1693.7" y="914.5" width="3.5" height="3.5" fill="#00c2ff"/><rect x="1696.9" y="914.5" width="3.5" height="3.5" fill="#0465ff"/><rect x="1700.1" y="914.5" width="3.5" height="3.5" fill="#00c2ff"/><rect x="1703.4" y="914.5" width="10.0" height="3.5" fill="#00f29d"/><rect x="1713.0" y="914.5" width="3.5" height="3.5" fill="#49ff28"/><rect x="1716.3" y="914.5" width="3.5" height="3.5" fill="#00c2ff"/><rect x="1719.5" y="914.5" width="3.5" height="3.5" fill="#00f29d"/><rect x="1722.7" y="914.5" width="6.8" height="3.5" fill="#00c2ff"/><rect x="1687.2" y="917.7" width="3.5" height="3.5" fill="#ebe600"/><rect x="1690.4" y="917.7" width="3.5" height="3.5" fill="#00c2ff"/><rect x="1693.7" y="917.7" width="3.5" height="3.5" fill="#0465ff"/><rect x="1696.9" y="917.7" width="3.5" height="3.5" fill="#5000eb"/><rect x="1700.1" y="917.7" width="3.5" height="3.5" fill="#1519ff"/><rect x="1703.4" y="917.7" width="10.0" height="3.5" fill="#0465ff"/><rect x="1713.0" y="917.7" width="3.5" height="3.5" fill="#00f29d"/><rect x="1716.3" y="917.7" width="3.5" height="3.5" fill="#00c2ff"/><rect x="1719.5" y="917.7" width="3.5" height="3.5" fill="#00f29d"/><rect x="1722.7" y="917.7" width="3.5" height="3.5" fill="#0465ff"/><rect x="1725.9" y="917.7" width="3.5" height="3.5" fill="#1519ff"/><rect x="1693.7" y="921.0" width="3.5" height="3.5" fill="#00c2ff"/><rect x="1696.9" y="921.0" width="3.5" height="3.5" fill="#1519ff"/><rect x="1700.1" y="921.0" width="3.5" height="3.5" fill="#0465ff"/><rect x="1703.4" y="921.0" width="6.8" height="3.5" fill="#1519ff"/><rect x="1709.8" y="921.0" width="3.5" height="3.5" fill="#5000eb"/><rect x="1713.0" y="921.0" width="3.5" height="3.5" fill="#1519ff"/><rect x="1716.3" y="921.0" width="3.5" height="3.5" fill="#00c2ff"/><rect x="1719.5" y="921.0" width="3.5" height="3.5" fill="#49ff28"/><rect x="1700.1" y="924.2" width="3.5" height="3.5" fill="#0465ff"/><rect x="1703.4" y="924.2" width="3.5" height="3.5" fill="#1519ff"/></g>
<path d="M1619.2,1043.5C1620.9,1039.5 1628.7,1034.6 1633.0,1028.0C1637.4,1021.3 1641.1,1008.4 1645.1,1003.8C1649.2,999.2 1653.5,1001.5 1657.2,1000.3C1661.0,999.2 1664.1,997.7 1667.6,996.9C1671.1,996.0 1675.7,994.3 1678.0,995.1C1680.3,996.0 1678.0,1002.3 1681.4,1002.0C1684.9,1001.8 1694.7,995.7 1698.7,993.4C1702.7,991.1 1702.2,988.8 1705.6,988.2C1709.1,987.6 1714.9,988.2 1719.5,989.9C1724.1,991.7 1728.7,996.3 1733.3,998.6C1737.9,1000.9 1743.1,1001.2 1747.1,1003.8C1751.2,1006.4 1754.0,1010.1 1757.5,1014.1C1760.9,1018.2 1765.6,1022.2 1767.9,1028.0C1770.2,1033.7 1771.3,1042.4 1771.3,1048.7C1771.3,1055.1 1770.2,1060.8 1767.9,1066.0C1765.6,1071.2 1760.9,1076.1 1757.5,1079.8C1754.0,1083.6 1752.3,1087.0 1747.1,1088.5C1741.9,1089.9 1731.6,1088.2 1726.4,1088.5C1721.2,1088.8 1719.5,1088.8 1716.0,1090.2C1712.5,1091.6 1710.2,1096.0 1705.6,1097.1C1701.0,1098.3 1693.5,1096.8 1688.3,1097.1C1683.2,1097.4 1679.1,1099.4 1674.5,1098.8C1669.9,1098.3 1664.4,1096.8 1660.7,1093.7C1656.9,1090.5 1654.3,1084.4 1652.0,1079.8C1649.7,1075.2 1650.0,1069.5 1646.9,1066.0C1643.7,1062.5 1637.1,1061.4 1633.0,1059.1C1629.0,1056.8 1625.0,1054.8 1622.7,1052.2C1620.4,1049.6 1617.5,1047.6 1619.2,1043.5Z" fill="#2e2e2e" opacity="0.5" filter="url(#b4)" transform="translate(1,2)"/>
<path d="M1629.6,1014.1C1630.7,1007.5 1645.1,998.0 1653.8,995.1C1662.4,992.2 1677.4,993.1 1681.4,996.9C1685.5,1000.6 1683.7,1011.3 1678.0,1017.6C1672.2,1023.9 1654.9,1035.5 1646.9,1034.9C1638.8,1034.3 1628.4,1020.8 1629.6,1014.1Z" fill="#7a7a7a" opacity="0.7" filter="url(#b2)"/>
<path d="M1691.8,1093.7C1694.1,1089.6 1708.5,1090.2 1716.0,1090.2C1723.5,1090.2 1735.0,1090.2 1736.7,1093.7C1738.5,1097.1 1732.1,1107.5 1726.4,1110.9C1720.6,1114.4 1707.9,1117.3 1702.2,1114.4C1696.4,1111.5 1689.5,1097.7 1691.8,1093.7Z" fill="#6c6c6c" opacity="0.6" filter="url(#b2)"/>
<g filter="url(#nz2)"><g filter="url(#b1)">
<path d="M1619.2,1043.5C1620.9,1039.5 1628.7,1034.6 1633.0,1028.0C1637.4,1021.3 1641.1,1008.4 1645.1,1003.8C1649.2,999.2 1653.5,1001.5 1657.2,1000.3C1661.0,999.2 1664.1,997.7 1667.6,996.9C1671.1,996.0 1675.7,994.3 1678.0,995.1C1680.3,996.0 1678.0,1002.3 1681.4,1002.0C1684.9,1001.8 1694.7,995.7 1698.7,993.4C1702.7,991.1 1702.2,988.8 1705.6,988.2C1709.1,987.6 1714.9,988.2 1719.5,989.9C1724.1,991.7 1728.7,996.3 1733.3,998.6C1737.9,1000.9 1743.1,1001.2 1747.1,1003.8C1751.2,1006.4 1754.0,1010.1 1757.5,1014.1C1760.9,1018.2 1765.6,1022.2 1767.9,1028.0C1770.2,1033.7 1771.3,1042.4 1771.3,1048.7C1771.3,1055.1 1770.2,1060.8 1767.9,1066.0C1765.6,1071.2 1760.9,1076.1 1757.5,1079.8C1754.0,1083.6 1752.3,1087.0 1747.1,1088.5C1741.9,1089.9 1731.6,1088.2 1726.4,1088.5C1721.2,1088.8 1719.5,1088.8 1716.0,1090.2C1712.5,1091.6 1710.2,1096.0 1705.6,1097.1C1701.0,1098.3 1693.5,1096.8 1688.3,1097.1C1683.2,1097.4 1679.1,1099.4 1674.5,1098.8C1669.9,1098.3 1664.4,1096.8 1660.7,1093.7C1656.9,1090.5 1654.3,1084.4 1652.0,1079.8C1649.7,1075.2 1650.0,1069.5 1646.9,1066.0C1643.7,1062.5 1637.1,1061.4 1633.0,1059.1C1629.0,1056.8 1625.0,1054.8 1622.7,1052.2C1620.4,1049.6 1617.5,1047.6 1619.2,1043.5Z" fill="#a6a6a6"/>
</g></g>
<path d="M1736.7,1028.0C1740.2,1021.1 1755.5,1021.1 1760.9,1024.5C1766.4,1028.0 1769.6,1040.6 1769.6,1048.7C1769.6,1056.8 1765.8,1070.0 1760.9,1072.9C1756.0,1075.8 1744.2,1073.5 1740.2,1066.0C1736.2,1058.5 1733.3,1034.9 1736.7,1028.0Z" fill="#c6c6c6" opacity="0.7" filter="url(#b2)"/>
<g fill="#fff" opacity="0.85"><circle cx="1685.0" cy="1076.8" r="0.6"/><circle cx="1680.8" cy="1041.0" r="0.6"/><circle cx="1710.2" cy="1026.9" r="1.0"/><circle cx="1721.5" cy="1020.2" r="0.8"/><circle cx="1676.4" cy="1035.5" r="0.8"/><circle cx="1697.2" cy="1048.1" r="1.1"/><circle cx="1685.5" cy="1031.3" r="0.9"/><circle cx="1726.8" cy="1075.4" r="1.0"/><circle cx="1673.9" cy="1076.2" r="0.9"/><circle cx="1722.3" cy="1044.5" r="0.6"/><circle cx="1717.6" cy="1059.7" r="1.0"/><circle cx="1682.1" cy="1028.1" r="1.0"/><circle cx="1671.2" cy="1076.7" r="0.6"/><circle cx="1706.0" cy="1045.1" r="0.7"/><circle cx="1680.2" cy="1066.8" r="1.0"/><circle cx="1713.7" cy="1056.0" r="0.9"/><circle cx="1702.2" cy="1053.5" r="1.0"/><circle cx="1687.0" cy="1033.3" r="1.1"/><circle cx="1726.6" cy="1048.6" r="1.0"/><circle cx="1714.6" cy="1077.0" r="0.5"/><circle cx="1723.9" cy="1050.0" r="0.8"/><circle cx="1711.2" cy="1057.0" r="0.8"/><circle cx="1687.5" cy="1075.1" r="1.0"/><circle cx="1676.1" cy="1044.3" r="1.0"/><circle cx="1722.7" cy="1077.7" r="0.6"/><circle cx="1723.5" cy="1061.7" r="0.5"/><circle cx="1682.6" cy="1031.3" r="0.5"/><circle cx="1711.2" cy="1038.6" r="0.9"/><circle cx="1674.9" cy="1072.3" r="0.9"/><circle cx="1716.9" cy="1056.4" r="0.8"/><circle cx="1681.6" cy="1076.5" r="0.6"/><circle cx="1701.3" cy="1027.3" r="0.6"/><circle cx="1711.8" cy="1073.3" r="0.8"/><circle cx="1717.7" cy="1071.6" r="0.8"/><circle cx="1716.5" cy="1037.6" r="0.6"/><circle cx="1681.3" cy="1020.4" r="0.5"/><circle cx="1715.1" cy="1074.2" r="0.5"/><circle cx="1713.3" cy="1066.7" r="0.9"/><circle cx="1699.9" cy="1049.1" r="0.9"/><circle cx="1684.7" cy="1065.2" r="0.6"/><circle cx="1672.1" cy="1076.0" r="0.6"/><circle cx="1681.8" cy="1023.4" r="0.5"/><circle cx="1677.4" cy="1075.3" r="0.9"/><circle cx="1694.3" cy="1020.4" r="1.0"/><circle cx="1699.1" cy="1071.2" r="0.8"/></g>
<g shape-rendering="crispEdges"><rect x="1706.5" y="988.0" width="3.3" height="3.3" fill="#1519ff"/><rect x="1709.5" y="988.0" width="3.3" height="3.3" fill="#0465ff"/><rect x="1712.5" y="988.0" width="3.3" height="3.3" fill="#00c2ff"/><rect x="1706.5" y="991.1" width="3.3" height="3.3" fill="#5000eb"/><rect x="1709.5" y="991.1" width="3.3" height="3.3" fill="#00c2ff"/><rect x="1712.5" y="991.1" width="3.3" height="3.3" fill="#00f29d"/><rect x="1715.5" y="991.1" width="3.3" height="3.3" fill="#ff7c00"/><rect x="1718.5" y="991.1" width="6.3" height="3.3" fill="#ff0000"/><rect x="1706.5" y="994.1" width="3.3" height="3.3" fill="#5000eb"/><rect x="1709.5" y="994.1" width="3.3" height="3.3" fill="#0465ff"/><rect x="1712.5" y="994.1" width="3.3" height="3.3" fill="#00c2ff"/><rect x="1715.5" y="994.1" width="3.3" height="3.3" fill="#ebe600"/><rect x="1718.5" y="994.1" width="6.3" height="3.3" fill="#ff0000"/><rect x="1724.6" y="994.1" width="3.3" height="3.3" fill="#ff7c00"/><rect x="1688.3" y="997.1" width="6.3" height="3.3" fill="#00c2ff"/><rect x="1694.4" y="997.1" width="6.3" height="3.3" fill="#1519ff"/><rect x="1700.4" y="997.1" width="3.3" height="3.3" fill="#0465ff"/><rect x="1706.5" y="997.1" width="6.3" height="3.3" fill="#5000eb"/><rect x="1712.5" y="997.1" width="3.3" height="3.3" fill="#1519ff"/><rect x="1715.5" y="997.1" width="3.3" height="3.3" fill="#00f29d"/><rect x="1718.5" y="997.1" width="9.4" height="3.3" fill="#ff0000"/><rect x="1727.6" y="997.1" width="3.3" height="3.3" fill="#0465ff"/><rect x="1652.1" y="1000.1" width="6.3" height="3.3" fill="#0465ff"/><rect x="1658.1" y="1000.1" width="6.3" height="3.3" fill="#5000eb"/><rect x="1685.3" y="1000.1" width="3.3" height="3.3" fill="#00c2ff"/><rect x="1688.3" y="1000.1" width="3.3" height="3.3" fill="#ebe600"/><rect x="1691.4" y="1000.1" width="3.3" height="3.3" fill="#00f29d"/><rect x="1694.4" y="1000.1" width="6.3" height="3.3" fill="#0465ff"/><rect x="1700.4" y="1000.1" width="6.3" height="3.3" fill="#5000eb"/><rect x="1715.5" y="1000.1" width="3.3" height="3.3" fill="#5000eb"/><rect x="1718.5" y="1000.1" width="3.3" height="3.3" fill="#49ff28"/><rect x="1721.6" y="1000.1" width="6.3" height="3.3" fill="#ff0000"/><rect x="1727.6" y="1000.1" width="3.3" height="3.3" fill="#49ff28"/><rect x="1730.6" y="1000.1" width="3.3" height="3.3" fill="#5000eb"/><rect x="1733.6" y="1000.1" width="3.3" height="3.3" fill="#1519ff"/><rect x="1736.7" y="1000.1" width="6.3" height="3.3" fill="#5000eb"/><rect x="1646.1" y="1003.1" width="3.3" height="3.3" fill="#00f29d"/><rect x="1649.1" y="1003.1" width="3.3" height="3.3" fill="#00c2ff"/><rect x="1652.1" y="1003.1" width="3.3" height="3.3" fill="#0465ff"/><rect x="1655.1" y="1003.1" width="3.3" height="3.3" fill="#1519ff"/><rect x="1658.1" y="1003.1" width="6.3" height="3.3" fill="#5000eb"/><rect x="1685.3" y="1003.1" width="3.3" height="3.3" fill="#00f29d"/><rect x="1688.3" y="1003.1" width="3.3" height="3.3" fill="#ebe600"/><rect x="1691.4" y="1003.1" width="3.3" height="3.3" fill="#00c2ff"/><rect x="1694.4" y="1003.1" width="6.3" height="3.3" fill="#5000eb"/><rect x="1718.5" y="1003.1" width="3.3" height="3.3" fill="#1519ff"/><rect x="1721.6" y="1003.1" width="3.3" height="3.3" fill="#ebe600"/><rect x="1724.6" y="1003.1" width="3.3" height="3.3" fill="#ff0000"/><rect x="1727.6" y="1003.1" width="3.3" height="3.3" fill="#ebe600"/><rect x="1730.6" y="1003.1" width="3.3" height="3.3" fill="#00f29d"/><rect x="1733.6" y="1003.1" width="3.3" height="3.3" fill="#0465ff"/><rect x="1736.7" y="1003.1" width="3.3" height="3.3" fill="#1519ff"/><rect x="1739.7" y="1003.1" width="3.3" height="3.3" fill="#5000eb"/><rect x="1643.1" y="1006.1" width="3.3" height="3.3" fill="#00c2ff"/><rect x="1646.1" y="1006.1" width="3.3" height="3.3" fill="#00f29d"/><rect x="1649.1" y="1006.1" width="6.3" height="3.3" fill="#00c2ff"/><rect x="1655.1" y="1006.1" width="3.3" height="3.3" fill="#0465ff"/><rect x="1658.1" y="1006.1" width="3.3" height="3.3" fill="#1519ff"/><rect x="1661.2" y="1006.1" width="3.3" height="3.3" fill="#5000eb"/><rect x="1685.3" y="1006.1" width="3.3" height="3.3" fill="#00c2ff"/><rect x="1688.3" y="1006.1" width="3.3" height="3.3" fill="#ebe600"/><rect x="1691.4" y="1006.1" width="3.3" height="3.3" fill="#0465ff"/><rect x="1721.6" y="1006.1" width="3.3" height="3.3" fill="#0465ff"/><rect x="1724.6" y="1006.1" width="3.3" height="3.3" fill="#49ff28"/><rect x="1727.6" y="1006.1" width="3.3" height="3.3" fill="#ebe600"/><rect x="1730.6" y="1006.1" width="3.3" height="3.3" fill="#00f29d"/><rect x="1733.6" y="1006.1" width="3.3" height="3.3" fill="#0465ff"/><rect x="1643.1" y="1009.2" width="9.4" height="3.3" fill="#00c2ff"/><rect x="1652.1" y="1009.2" width="3.3" height="3.3" fill="#0465ff"/><rect x="1655.1" y="1009.2" width="3.3" height="3.3" fill="#00c2ff"/><rect x="1658.1" y="1009.2" width="3.3" height="3.3" fill="#00f29d"/><rect x="1661.2" y="1009.2" width="3.3" height="3.3" fill="#00c2ff"/><rect x="1664.2" y="1009.2" width="3.3" height="3.3" fill="#0465ff"/><rect x="1667.2" y="1009.2" width="3.3" height="3.3" fill="#5000eb"/><rect x="1673.2" y="1009.2" width="3.3" height="3.3" fill="#5000eb"/><rect x="1685.3" y="1009.2" width="3.3" height="3.3" fill="#1519ff"/><rect x="1688.3" y="1009.2" width="3.3" height="3.3" fill="#00f29d"/><rect x="1691.4" y="1009.2" width="3.3" height="3.3" fill="#1519ff"/><rect x="1721.6" y="1009.2" width="3.3" height="3.3" fill="#1519ff"/><rect x="1724.6" y="1009.2" width="3.3" height="3.3" fill="#0465ff"/><rect x="1727.6" y="1009.2" width="3.3" height="3.3" fill="#00f29d"/><rect x="1730.6" y="1009.2" width="3.3" height="3.3" fill="#0465ff"/><rect x="1733.6" y="1009.2" width="3.3" height="3.3" fill="#5000eb"/><rect x="1640.0" y="1012.2" width="3.3" height="3.3" fill="#5000eb"/><rect x="1643.1" y="1012.2" width="3.3" height="3.3" fill="#0465ff"/><rect x="1646.1" y="1012.2" width="6.3" height="3.3" fill="#00c2ff"/><rect x="1652.1" y="1012.2" width="3.3" height="3.3" fill="#00f29d"/><rect x="1655.1" y="1012.2" width="3.3" height="3.3" fill="#ff7c00"/><rect x="1658.1" y="1012.2" width="6.3" height="3.3" fill="#ff0000"/><rect x="1664.2" y="1012.2" width="3.3" height="3.3" fill="#ff7c00"/><rect x="1667.2" y="1012.2" width="3.3" height="3.3" fill="#00c2ff"/><rect x="1670.2" y="1012.2" width="3.3" height="3.3" fill="#5000eb"/><rect x="1676.3" y="1012.2" width="3.3" height="3.3" fill="#5000eb"/><rect x="1685.3" y="1012.2" width="3.3" height="3.3" fill="#5000eb"/><rect x="1688.3" y="1012.2" width="3.3" height="3.3" fill="#0465ff"/><rect x="1721.6" y="1012.2" width="3.3" height="3.3" fill="#5000eb"/><rect x="1724.6" y="1012.2" width="3.3" height="3.3" fill="#0465ff"/><rect x="1727.6" y="1012.2" width="3.3" height="3.3" fill="#1519ff"/><rect x="1730.6" y="1012.2" width="3.3" height="3.3" fill="#5000eb"/><rect x="1643.1" y="1015.2" width="3.3" height="3.3" fill="#1519ff"/><rect x="1646.1" y="1015.2" width="6.3" height="3.3" fill="#0465ff"/><rect x="1652.1" y="1015.2" width="3.3" height="3.3" fill="#49ff28"/><rect x="1655.1" y="1015.2" width="12.4" height="3.3" fill="#ff0000"/><rect x="1667.2" y="1015.2" width="3.3" height="3.3" fill="#ebe600"/><rect x="1670.2" y="1015.2" width="3.3" height="3.3" fill="#1519ff"/><rect x="1682.3" y="1015.2" width="3.3" height="3.3" fill="#5000eb"/><rect x="1688.3" y="1015.2" width="3.3" height="3.3" fill="#5000eb"/><rect x="1724.6" y="1015.2" width="3.3" height="3.3" fill="#5000eb"/><rect x="1739.7" y="1015.2" width="3.3" height="3.3" fill="#1519ff"/><rect x="1742.7" y="1015.2" width="3.3" height="3.3" fill="#5000eb"/><rect x="1745.7" y="1015.2" width="3.3" height="3.3" fill="#1519ff"/><rect x="1640.0" y="1018.2" width="3.3" height="3.3" fill="#5000eb"/><rect x="1643.1" y="1018.2" width="3.3" height="3.3" fill="#1519ff"/><rect x="1646.1" y="1018.2" width="6.3" height="3.3" fill="#0465ff"/><rect x="1652.1" y="1018.2" width="3.3" height="3.3" fill="#49ff28"/><rect x="1655.1" y="1018.2" width="15.4" height="3.3" fill="#ff0000"/><rect x="1670.2" y="1018.2" width="3.3" height="3.3" fill="#00c2ff"/><rect x="1673.2" y="1018.2" width="3.3" height="3.3" fill="#5000eb"/><rect x="1682.3" y="1018.2" width="6.3" height="3.3" fill="#5000eb"/><rect x="1721.6" y="1018.2" width="6.3" height="3.3" fill="#5000eb"/><rect x="1739.7" y="1018.2" width="3.3" height="3.3" fill="#0465ff"/><rect x="1742.7" y="1018.2" width="3.3" height="3.3" fill="#00c2ff"/><rect x="1745.7" y="1018.2" width="3.3" height="3.3" fill="#0465ff"/><rect x="1748.7" y="1018.2" width="3.3" height="3.3" fill="#5000eb"/><rect x="1640.0" y="1021.2" width="9.4" height="3.3" fill="#5000eb"/><rect x="1649.1" y="1021.2" width="3.3" height="3.3" fill="#0465ff"/><rect x="1652.1" y="1021.2" width="3.3" height="3.3" fill="#00f29d"/><rect x="1655.1" y="1021.2" width="3.3" height="3.3" fill="#ff7c00"/><rect x="1658.1" y="1021.2" width="12.4" height="3.3" fill="#ff0000"/><rect x="1670.2" y="1021.2" width="3.3" height="3.3" fill="#ebe600"/><rect x="1673.2" y="1021.2" width="3.3" height="3.3" fill="#1519ff"/><rect x="1682.3" y="1021.2" width="3.3" height="3.3" fill="#5000eb"/><rect x="1697.4" y="1021.2" width="3.3" height="3.3" fill="#5000eb"/><rect x="1739.7" y="1021.2" width="3.3" height="3.3" fill="#1519ff"/><rect x="1742.7" y="1021.2" width="3.3" height="3.3" fill="#00f29d"/><rect x="1745.7" y="1021.2" width="3.3" height="3.3" fill="#00c2ff"/><rect x="1748.7" y="1021.2" width="3.3" height="3.3" fill="#0465ff"/><rect x="1634.0" y="1024.3" width="3.3" height="3.3" fill="#1519ff"/><rect x="1637.0" y="1024.3" width="9.4" height="3.3" fill="#5000eb"/><rect x="1646.1" y="1024.3" width="6.3" height="3.3" fill="#1519ff"/><rect x="1652.1" y="1024.3" width="6.3" height="3.3" fill="#00c2ff"/><rect x="1658.1" y="1024.3" width="3.3" height="3.3" fill="#ebe600"/><rect x="1661.2" y="1024.3" width="9.4" height="3.3" fill="#ff0000"/><rect x="1670.2" y="1024.3" width="3.3" height="3.3" fill="#ebe600"/><rect x="1673.2" y="1024.3" width="3.3" height="3.3" fill="#5000eb"/><rect x="1739.7" y="1024.3" width="3.3" height="3.3" fill="#5000eb"/><rect x="1742.7" y="1024.3" width="3.3" height="3.3" fill="#1519ff"/><rect x="1745.7" y="1024.3" width="3.3" height="3.3" fill="#0465ff"/><rect x="1748.7" y="1024.3" width="3.3" height="3.3" fill="#1519ff"/><rect x="1631.0" y="1027.3" width="6.3" height="3.3" fill="#1519ff"/><rect x="1637.0" y="1027.3" width="3.3" height="3.3" fill="#5000eb"/><rect x="1640.0" y="1027.3" width="3.3" height="3.3" fill="#1519ff"/><rect x="1643.1" y="1027.3" width="3.3" height="3.3" fill="#5000eb"/><rect x="1646.1" y="1027.3" width="3.3" height="3.3" fill="#1519ff"/><rect x="1649.1" y="1027.3" width="6.3" height="3.3" fill="#0465ff"/><rect x="1655.1" y="1027.3" width="6.3" height="3.3" fill="#00c2ff"/><rect x="1661.2" y="1027.3" width="3.3" height="3.3" fill="#00f29d"/><rect x="1664.2" y="1027.3" width="6.3" height="3.3" fill="#ff0000"/><rect x="1670.2" y="1027.3" width="3.3" height="3.3" fill="#0465ff"/><rect x="1742.7" y="1027.3" width="3.3" height="3.3" fill="#1519ff"/><rect x="1745.7" y="1027.3" width="3.3" height="3.3" fill="#0465ff"/><rect x="1748.7" y="1027.3" width="3.3" height="3.3" fill="#5000eb"/><rect x="1631.0" y="1030.3" width="3.3" height="3.3" fill="#0465ff"/><rect x="1634.0" y="1030.3" width="3.3" height="3.3" fill="#1519ff"/><rect x="1640.0" y="1030.3" width="3.3" height="3.3" fill="#5000eb"/><rect x="1643.1" y="1030.3" width="9.4" height="3.3" fill="#0465ff"/><rect x="1652.1" y="1030.3" width="15.4" height="3.3" fill="#00c2ff"/><rect x="1667.2" y="1030.3" width="3.3" height="3.3" fill="#1519ff"/><rect x="1679.3" y="1030.3" width="3.3" height="3.3" fill="#5000eb"/><rect x="1742.7" y="1030.3" width="3.3" height="3.3" fill="#1519ff"/><rect x="1745.7" y="1030.3" width="3.3" height="3.3" fill="#0465ff"/><rect x="1748.7" y="1030.3" width="3.3" height="3.3" fill="#5000eb"/><rect x="1628.0" y="1033.3" width="9.4" height="3.3" fill="#0465ff"/><rect x="1637.0" y="1033.3" width="3.3" height="3.3" fill="#5000eb"/><rect x="1640.0" y="1033.3" width="3.3" height="3.3" fill="#0465ff"/><rect x="1643.1" y="1033.3" width="3.3" height="3.3" fill="#1519ff"/><rect x="1646.1" y="1033.3" width="12.4" height="3.3" fill="#0465ff"/><rect x="1658.1" y="1033.3" width="3.3" height="3.3" fill="#00f29d"/><rect x="1661.2" y="1033.3" width="3.3" height="3.3" fill="#49ff28"/><rect x="1664.2" y="1033.3" width="3.3" height="3.3" fill="#1519ff"/><rect x="1667.2" y="1033.3" width="3.3" height="3.3" fill="#5000eb"/><rect x="1676.3" y="1033.3" width="3.3" height="3.3" fill="#5000eb"/><rect x="1724.6" y="1033.3" width="3.3" height="3.3" fill="#5000eb"/><rect x="1742.7" y="1033.3" width="6.3" height="3.3" fill="#1519ff"/><rect x="1748.7" y="1033.3" width="3.3" height="3.3" fill="#5000eb"/><rect x="1624.9" y="1036.3" width="9.4" height="3.3" fill="#0465ff"/><rect x="1634.0" y="1036.3" width="6.3" height="3.3" fill="#1519ff"/><rect x="1640.0" y="1036.3" width="6.3" height="3.3" fill="#0465ff"/><rect x="1646.1" y="1036.3" width="3.3" height="3.3" fill="#1519ff"/><rect x="1649.1" y="1036.3" width="6.3" height="3.3" fill="#0465ff"/><rect x="1655.1" y="1036.3" width="3.3" height="3.3" fill="#49ff28"/><rect x="1658.1" y="1036.3" width="3.3" height="3.3" fill="#ff7c00"/><rect x="1661.2" y="1036.3" width="3.3" height="3.3" fill="#49ff28"/><rect x="1664.2" y="1036.3" width="3.3" height="3.3" fill="#0465ff"/><rect x="1667.2" y="1036.3" width="6.3" height="3.3" fill="#5000eb"/><rect x="1727.6" y="1036.3" width="6.3" height="3.3" fill="#5000eb"/><rect x="1621.9" y="1039.4" width="3.3" height="3.3" fill="#5000eb"/><rect x="1624.9" y="1039.4" width="3.3" height="3.3" fill="#1519ff"/><rect x="1628.0" y="1039.4" width="3.3" height="3.3" fill="#5000eb"/><rect x="1631.0" y="1039.4" width="3.3" height="3.3" fill="#1519ff"/><rect x="1634.0" y="1039.4" width="3.3" height="3.3" fill="#0465ff"/><rect x="1637.0" y="1039.4" width="3.3" height="3.3" fill="#00c2ff"/><rect x="1640.0" y="1039.4" width="3.3" height="3.3" fill="#0465ff"/><rect x="1643.1" y="1039.4" width="6.3" height="3.3" fill="#5000eb"/><rect x="1649.1" y="1039.4" width="3.3" height="3.3" fill="#1519ff"/><rect x="1652.1" y="1039.4" width="3.3" height="3.3" fill="#00c2ff"/><rect x="1655.1" y="1039.4" width="6.3" height="3.3" fill="#ff0000"/><rect x="1661.2" y="1039.4" width="3.3" height="3.3" fill="#ebe600"/><rect x="1664.2" y="1039.4" width="3.3" height="3.3" fill="#1519ff"/><rect x="1670.2" y="1039.4" width="3.3" height="3.3" fill="#5000eb"/><rect x="1724.6" y="1039.4" width="3.3" height="3.3" fill="#5000eb"/><rect x="1727.6" y="1039.4" width="3.3" height="3.3" fill="#1519ff"/><rect x="1730.6" y="1039.4" width="3.3" height="3.3" fill="#0465ff"/><rect x="1733.6" y="1039.4" width="3.3" height="3.3" fill="#5000eb"/><rect x="1628.0" y="1042.4" width="3.3" height="3.3" fill="#5000eb"/><rect x="1631.0" y="1042.4" width="6.3" height="3.3" fill="#1519ff"/><rect x="1637.0" y="1042.4" width="6.3" height="3.3" fill="#0465ff"/><rect x="1643.1" y="1042.4" width="3.3" height="3.3" fill="#1519ff"/><rect x="1646.1" y="1042.4" width="6.3" height="3.3" fill="#0465ff"/><rect x="1652.1" y="1042.4" width="3.3" height="3.3" fill="#ebe600"/><rect x="1655.1" y="1042.4" width="6.3" height="3.3" fill="#ff0000"/><rect x="1661.2" y="1042.4" width="3.3" height="3.3" fill="#00f29d"/><rect x="1664.2" y="1042.4" width="3.3" height="3.3" fill="#5000eb"/><rect x="1724.6" y="1042.4" width="3.3" height="3.3" fill="#5000eb"/><rect x="1727.6" y="1042.4" width="3.3" height="3.3" fill="#0465ff"/><rect x="1730.6" y="1042.4" width="3.3" height="3.3" fill="#00f29d"/><rect x="1733.6" y="1042.4" width="3.3" height="3.3" fill="#00c2ff"/><rect x="1736.7" y="1042.4" width="3.3" height="3.3" fill="#5000eb"/><rect x="1634.0" y="1045.4" width="6.3" height="3.3" fill="#1519ff"/><rect x="1640.0" y="1045.4" width="3.3" height="3.3" fill="#0465ff"/><rect x="1643.1" y="1045.4" width="3.3" height="3.3" fill="#1519ff"/><rect x="1646.1" y="1045.4" width="3.3" height="3.3" fill="#0465ff"/><rect x="1649.1" y="1045.4" width="3.3" height="3.3" fill="#ebe600"/><rect x="1652.1" y="1045.4" width="9.4" height="3.3" fill="#ff0000"/><rect x="1661.2" y="1045.4" width="3.3" height="3.3" fill="#1519ff"/><rect x="1691.4" y="1045.4" width="3.3" height="3.3" fill="#5000eb"/><rect x="1694.4" y="1045.4" width="6.3" height="3.3" fill="#1519ff"/><rect x="1700.4" y="1045.4" width="6.3" height="3.3" fill="#5000eb"/><rect x="1727.6" y="1045.4" width="3.3" height="3.3" fill="#00c2ff"/><rect x="1730.6" y="1045.4" width="3.3" height="3.3" fill="#49ff28"/><rect x="1733.6" y="1045.4" width="3.3" height="3.3" fill="#00f29d"/><rect x="1736.7" y="1045.4" width="3.3" height="3.3" fill="#0465ff"/><rect x="1640.0" y="1048.4" width="3.3" height="3.3" fill="#1519ff"/><rect x="1643.1" y="1048.4" width="3.3" height="3.3" fill="#0465ff"/><rect x="1646.1" y="1048.4" width="3.3" height="3.3" fill="#49ff28"/><rect x="1649.1" y="1048.4" width="9.4" height="3.3" fill="#ff0000"/><rect x="1658.1" y="1048.4" width="3.3" height="3.3" fill="#ebe600"/><rect x="1688.3" y="1048.4" width="3.3" height="3.3" fill="#1519ff"/><rect x="1691.4" y="1048.4" width="6.3" height="3.3" fill="#0465ff"/><rect x="1697.4" y="1048.4" width="3.3" height="3.3" fill="#1519ff"/><rect x="1700.4" y="1048.4" width="6.3" height="3.3" fill="#5000eb"/><rect x="1724.6" y="1048.4" width="3.3" height="3.3" fill="#5000eb"/><rect x="1727.6" y="1048.4" width="3.3" height="3.3" fill="#00c2ff"/><rect x="1730.6" y="1048.4" width="3.3" height="3.3" fill="#49ff28"/><rect x="1733.6" y="1048.4" width="3.3" height="3.3" fill="#00f29d"/><rect x="1736.7" y="1048.4" width="3.3" height="3.3" fill="#1519ff"/><rect x="1640.0" y="1051.4" width="3.3" height="3.3" fill="#5000eb"/><rect x="1643.1" y="1051.4" width="3.3" height="3.3" fill="#00c2ff"/><rect x="1646.1" y="1051.4" width="12.4" height="3.3" fill="#ff0000"/><rect x="1658.1" y="1051.4" width="3.3" height="3.3" fill="#0465ff"/><rect x="1688.3" y="1051.4" width="3.3" height="3.3" fill="#5000eb"/><rect x="1691.4" y="1051.4" width="6.3" height="3.3" fill="#1519ff"/><rect x="1700.4" y="1051.4" width="3.3" height="3.3" fill="#5000eb"/><rect x="1703.4" y="1051.4" width="3.3" height="3.3" fill="#1519ff"/><rect x="1724.6" y="1051.4" width="3.3" height="3.3" fill="#5000eb"/><rect x="1727.6" y="1051.4" width="3.3" height="3.3" fill="#00c2ff"/><rect x="1730.6" y="1051.4" width="3.3" height="3.3" fill="#00f29d"/><rect x="1733.6" y="1051.4" width="3.3" height="3.3" fill="#0465ff"/><rect x="1640.0" y="1054.5" width="3.3" height="3.3" fill="#1519ff"/><rect x="1643.1" y="1054.5" width="3.3" height="3.3" fill="#49ff28"/><rect x="1646.1" y="1054.5" width="9.4" height="3.3" fill="#ff0000"/><rect x="1655.1" y="1054.5" width="3.3" height="3.3" fill="#49ff28"/><rect x="1658.1" y="1054.5" width="3.3" height="3.3" fill="#5000eb"/><rect x="1688.3" y="1054.5" width="3.3" height="3.3" fill="#5000eb"/><rect x="1691.4" y="1054.5" width="3.3" height="3.3" fill="#1519ff"/><rect x="1694.4" y="1054.5" width="12.4" height="3.3" fill="#5000eb"/><rect x="1724.6" y="1054.5" width="3.3" height="3.3" fill="#5000eb"/><rect x="1727.6" y="1054.5" width="3.3" height="3.3" fill="#1519ff"/><rect x="1730.6" y="1054.5" width="6.3" height="3.3" fill="#0465ff"/><rect x="1634.0" y="1057.5" width="3.3" height="3.3" fill="#5000eb"/><rect x="1637.0" y="1057.5" width="3.3" height="3.3" fill="#1519ff"/><rect x="1640.0" y="1057.5" width="3.3" height="3.3" fill="#00c2ff"/><rect x="1643.1" y="1057.5" width="3.3" height="3.3" fill="#ff7c00"/><rect x="1646.1" y="1057.5" width="9.4" height="3.3" fill="#ff0000"/><rect x="1655.1" y="1057.5" width="3.3" height="3.3" fill="#0465ff"/><rect x="1658.1" y="1057.5" width="6.3" height="3.3" fill="#5000eb"/><rect x="1673.2" y="1057.5" width="12.4" height="3.3" fill="#5000eb"/><rect x="1688.3" y="1057.5" width="15.4" height="3.3" fill="#5000eb"/><rect x="1724.6" y="1057.5" width="6.3" height="3.3" fill="#5000eb"/><rect x="1730.6" y="1057.5" width="6.3" height="3.3" fill="#0465ff"/><rect x="1640.0" y="1060.5" width="3.3" height="3.3" fill="#00f29d"/><rect x="1643.1" y="1060.5" width="3.3" height="3.3" fill="#ff7c00"/><rect x="1646.1" y="1060.5" width="6.3" height="3.3" fill="#ff0000"/><rect x="1652.1" y="1060.5" width="3.3" height="3.3" fill="#49ff28"/><rect x="1655.1" y="1060.5" width="3.3" height="3.3" fill="#5000eb"/><rect x="1670.2" y="1060.5" width="3.3" height="3.3" fill="#5000eb"/><rect x="1697.4" y="1060.5" width="6.3" height="3.3" fill="#5000eb"/><rect x="1730.6" y="1060.5" width="6.3" height="3.3" fill="#0465ff"/><rect x="1646.1" y="1063.5" width="3.3" height="3.3" fill="#ff7c00"/><rect x="1649.1" y="1063.5" width="3.3" height="3.3" fill="#ebe600"/><rect x="1652.1" y="1063.5" width="3.3" height="3.3" fill="#1519ff"/><rect x="1697.4" y="1063.5" width="3.3" height="3.3" fill="#5000eb"/><rect x="1715.5" y="1063.5" width="3.3" height="3.3" fill="#5000eb"/><rect x="1730.6" y="1063.5" width="3.3" height="3.3" fill="#0465ff"/><rect x="1733.6" y="1063.5" width="3.3" height="3.3" fill="#00c2ff"/><rect x="1649.1" y="1066.5" width="3.3" height="3.3" fill="#1519ff"/><rect x="1727.6" y="1066.5" width="3.3" height="3.3" fill="#1519ff"/><rect x="1730.6" y="1066.5" width="3.3" height="3.3" fill="#00f29d"/><rect x="1733.6" y="1066.5" width="3.3" height="3.3" fill="#0465ff"/><rect x="1709.5" y="1069.6" width="6.3" height="3.3" fill="#5000eb"/><rect x="1724.6" y="1069.6" width="3.3" height="3.3" fill="#1519ff"/><rect x="1727.6" y="1069.6" width="6.3" height="3.3" fill="#00f29d"/><rect x="1733.6" y="1069.6" width="3.3" height="3.3" fill="#5000eb"/><rect x="1751.7" y="1069.6" width="6.3" height="3.3" fill="#5000eb"/><rect x="1658.1" y="1072.6" width="3.3" height="3.3" fill="#5000eb"/><rect x="1709.5" y="1072.6" width="6.3" height="3.3" fill="#5000eb"/><rect x="1721.6" y="1072.6" width="3.3" height="3.3" fill="#1519ff"/><rect x="1724.6" y="1072.6" width="6.3" height="3.3" fill="#00f29d"/><rect x="1730.6" y="1072.6" width="3.3" height="3.3" fill="#00c2ff"/><rect x="1733.6" y="1072.6" width="3.3" height="3.3" fill="#1519ff"/><rect x="1739.7" y="1072.6" width="15.4" height="3.3" fill="#5000eb"/><rect x="1658.1" y="1075.6" width="3.3" height="3.3" fill="#5000eb"/><rect x="1709.5" y="1075.6" width="9.4" height="3.3" fill="#5000eb"/><rect x="1718.5" y="1075.6" width="3.3" height="3.3" fill="#1519ff"/><rect x="1721.6" y="1075.6" width="3.3" height="3.3" fill="#00c2ff"/><rect x="1724.6" y="1075.6" width="3.3" height="3.3" fill="#00f29d"/><rect x="1727.6" y="1075.6" width="3.3" height="3.3" fill="#0465ff"/><rect x="1730.6" y="1075.6" width="6.3" height="3.3" fill="#1519ff"/><rect x="1736.7" y="1075.6" width="3.3" height="3.3" fill="#0465ff"/><rect x="1739.7" y="1075.6" width="3.3" height="3.3" fill="#1519ff"/><rect x="1742.7" y="1075.6" width="3.3" height="3.3" fill="#5000eb"/><rect x="1709.5" y="1078.6" width="9.4" height="3.3" fill="#5000eb"/><rect x="1718.5" y="1078.6" width="3.3" height="3.3" fill="#0465ff"/><rect x="1721.6" y="1078.6" width="3.3" height="3.3" fill="#00c2ff"/><rect x="1724.6" y="1078.6" width="3.3" height="3.3" fill="#0465ff"/><rect x="1727.6" y="1078.6" width="3.3" height="3.3" fill="#5000eb"/><rect x="1733.6" y="1078.6" width="3.3" height="3.3" fill="#5000eb"/><rect x="1736.7" y="1078.6" width="3.3" height="3.3" fill="#1519ff"/><rect x="1715.5" y="1081.6" width="3.3" height="3.3" fill="#1519ff"/><rect x="1718.5" y="1081.6" width="3.3" height="3.3" fill="#00c2ff"/><rect x="1721.6" y="1081.6" width="3.3" height="3.3" fill="#0465ff"/><rect x="1715.5" y="1084.7" width="6.3" height="3.3" fill="#1519ff"/><rect x="1721.6" y="1084.7" width="3.3" height="3.3" fill="#5000eb"/><rect x="1718.5" y="1087.7" width="3.3" height="3.3" fill="#5000eb"/></g>
<rect x="1801.3" y="825.0" width="11.2" height="308.0" fill="url(#cbar)"/>
<line x1="1812.5" y1="825.0" x2="1817.5" y2="825.0" stroke="#666" stroke-width="0.8"/>
<line x1="1812.5" y1="835.3" x2="1815.5" y2="835.3" stroke="#666" stroke-width="0.8"/>
<line x1="1812.5" y1="845.5" x2="1815.5" y2="845.5" stroke="#666" stroke-width="0.8"/>
<line x1="1812.5" y1="855.8" x2="1815.5" y2="855.8" stroke="#666" stroke-width="0.8"/>
<line x1="1812.5" y1="866.1" x2="1815.5" y2="866.1" stroke="#666" stroke-width="0.8"/>
<line x1="1812.5" y1="876.3" x2="1815.5" y2="876.3" stroke="#666" stroke-width="0.8"/>
<line x1="1812.5" y1="886.6" x2="1815.5" y2="886.6" stroke="#666" stroke-width="0.8"/>
<line x1="1812.5" y1="896.9" x2="1815.5" y2="896.9" stroke="#666" stroke-width="0.8"/>
<line x1="1812.5" y1="907.1" x2="1815.5" y2="907.1" stroke="#666" stroke-width="0.8"/>
<line x1="1812.5" y1="917.4" x2="1815.5" y2="917.4" stroke="#666" stroke-width="0.8"/>
<line x1="1812.5" y1="927.7" x2="1817.5" y2="927.7" stroke="#666" stroke-width="0.8"/>
<line x1="1812.5" y1="937.9" x2="1815.5" y2="937.9" stroke="#666" stroke-width="0.8"/>
<line x1="1812.5" y1="948.2" x2="1815.5" y2="948.2" stroke="#666" stroke-width="0.8"/>
<line x1="1812.5" y1="958.5" x2="1815.5" y2="958.5" stroke="#666" stroke-width="0.8"/>
<line x1="1812.5" y1="968.7" x2="1815.5" y2="968.7" stroke="#666" stroke-width="0.8"/>
<line x1="1812.5" y1="979.0" x2="1815.5" y2="979.0" stroke="#666" stroke-width="0.8"/>
<line x1="1812.5" y1="989.3" x2="1815.5" y2="989.3" stroke="#666" stroke-width="0.8"/>
<line x1="1812.5" y1="999.5" x2="1815.5" y2="999.5" stroke="#666" stroke-width="0.8"/>
<line x1="1812.5" y1="1009.8" x2="1815.5" y2="1009.8" stroke="#666" stroke-width="0.8"/>
<line x1="1812.5" y1="1020.1" x2="1815.5" y2="1020.1" stroke="#666" stroke-width="0.8"/>
<line x1="1812.5" y1="1030.3" x2="1817.5" y2="1030.3" stroke="#666" stroke-width="0.8"/>
<line x1="1812.5" y1="1040.6" x2="1815.5" y2="1040.6" stroke="#666" stroke-width="0.8"/>
<line x1="1812.5" y1="1050.9" x2="1815.5" y2="1050.9" stroke="#666" stroke-width="0.8"/>
<line x1="1812.5" y1="1061.1" x2="1815.5" y2="1061.1" stroke="#666" stroke-width="0.8"/>
<line x1="1812.5" y1="1071.4" x2="1815.5" y2="1071.4" stroke="#666" stroke-width="0.8"/>
<line x1="1812.5" y1="1081.7" x2="1815.5" y2="1081.7" stroke="#666" stroke-width="0.8"/>
<line x1="1812.5" y1="1091.9" x2="1815.5" y2="1091.9" stroke="#666" stroke-width="0.8"/>
<line x1="1812.5" y1="1102.2" x2="1815.5" y2="1102.2" stroke="#666" stroke-width="0.8"/>
<line x1="1812.5" y1="1112.5" x2="1815.5" y2="1112.5" stroke="#666" stroke-width="0.8"/>
<line x1="1812.5" y1="1122.7" x2="1815.5" y2="1122.7" stroke="#666" stroke-width="0.8"/>
<line x1="1812.5" y1="1133.0" x2="1817.5" y2="1133.0" stroke="#666" stroke-width="0.8"/>
<text x="1818.5" y="836.3" font-size="23.4">4000</text>
<text x="1818.5" y="937.9" font-size="23.4">3000</text>
<text x="1818.5" y="1037.9" font-size="23.4">2000</text>
<text x="1818.5" y="1141.7" font-size="23.4">1000</text>
<line x1="1973.2" y1="854.2" x2="1973.2" y2="1037.6" stroke="#000" stroke-width="2"/>
<line x1="1966.2" y1="1037.6" x2="1973.2" y2="1037.6" stroke="#000" stroke-width="2"/>
<text x="1967.0" y="1046.7" font-size="23.4" text-anchor="end">0</text>
<line x1="1966.2" y1="992.0" x2="1973.2" y2="992.0" stroke="#000" stroke-width="2"/>
<text x="1967.0" y="1001.1" font-size="23.4" text-anchor="end">5</text>
<line x1="1966.2" y1="946.4" x2="1973.2" y2="946.4" stroke="#000" stroke-width="2"/>
<text x="1967.0" y="955.5" font-size="23.4" text-anchor="end">10</text>
<line x1="1966.2" y1="900.8" x2="1973.2" y2="900.8" stroke="#000" stroke-width="2"/>
<text x="1967.0" y="909.9" font-size="23.4" text-anchor="end">15</text>
<line x1="1966.2" y1="855.2" x2="1973.2" y2="855.2" stroke="#000" stroke-width="2"/>
<text x="1967.0" y="864.3" font-size="23.4" text-anchor="end">20</text>
<line x1="1966.2" y1="1037.6" x2="2124.0" y2="1037.6" stroke="#000" stroke-width="2"/>
<line x1="2015.8" y1="1037.6" x2="2015.8" y2="1043.0" stroke="#000" stroke-width="2"/>
<line x1="2079.6" y1="1037.6" x2="2079.6" y2="1043.0" stroke="#000" stroke-width="2"/>
<text x="1907.5" y="953.8" font-size="23.4" text-anchor="middle" transform="rotate(-90 1907.5 953.8)">liver photon flux</text>
<text x="1936.0" y="954.0" font-size="23.4" text-anchor="middle" transform="rotate(-90 1936.0 954.0)">(p/s)x10<tspan font-size="16.5" dy="-9">9</tspan></text>
<line x1="2013.5" y1="883.3" x2="2082.6" y2="883.3" stroke="#000" stroke-width="2"/>
<text x="2047.6" y="883.2" font-size="23.4" text-anchor="middle">**</text>
<line x1="2016.0" y1="910.0" x2="2016.0" y2="946.4" stroke="#dc1e28" stroke-width="2"/>
<line x1="2005.5" y1="910.0" x2="2026.5" y2="910.0" stroke="#dc1e28" stroke-width="2"/>
<line x1="2005.5" y1="946.4" x2="2026.5" y2="946.4" stroke="#dc1e28" stroke-width="2"/>
<line x1="1994.8" y1="928.2" x2="2037.2" y2="928.2" stroke="#dc1e28" stroke-width="2"/>
<circle cx="2016.0" cy="900.8" r="3.5" fill="#dc1e28"/>
<circle cx="2016.0" cy="919.0" r="3.5" fill="#dc1e28"/>
<circle cx="2004.8" cy="928.2" r="3.5" fill="#dc1e28"/>
<circle cx="2027.2" cy="928.2" r="3.5" fill="#dc1e28"/>
<circle cx="2016.0" cy="936.6" r="3.5" fill="#dc1e28"/>
<circle cx="2016.0" cy="955.9" r="3.5" fill="#dc1e28"/>
<line x1="2079.8" y1="948.9" x2="2079.8" y2="986.8" stroke="#1616c8" stroke-width="2"/>
<line x1="2069.3" y1="948.9" x2="2090.3" y2="948.9" stroke="#1616c8" stroke-width="2"/>
<line x1="2069.3" y1="986.8" x2="2090.3" y2="986.8" stroke="#1616c8" stroke-width="2"/>
<line x1="2058.6" y1="967.8" x2="2101.0" y2="967.8" stroke="#1616c8" stroke-width="2"/>
<circle cx="2085.0" cy="946.4" r="3.5" fill="#1616c8"/>
<circle cx="2075.6" cy="954.8" r="3.5" fill="#1616c8"/>
<circle cx="2068.6" cy="964.0" r="3.5" fill="#1616c8"/>
<circle cx="2090.3" cy="964.0" r="3.5" fill="#1616c8"/>
<circle cx="2079.8" cy="973.4" r="3.5" fill="#1616c8"/>
<circle cx="2079.8" cy="1001.5" r="3.5" fill="#1616c8"/>
<text x="2027.5" y="1062.0" font-size="23.4" text-anchor="end" transform="rotate(-31 2027.5 1062.0)">IgG</text>
<text x="2106.5" y="1065.0" font-size="23.4" text-anchor="end" transform="rotate(-31 2106.5 1065.0)">α-CCDC25</text>
</svg>
</body></html>
